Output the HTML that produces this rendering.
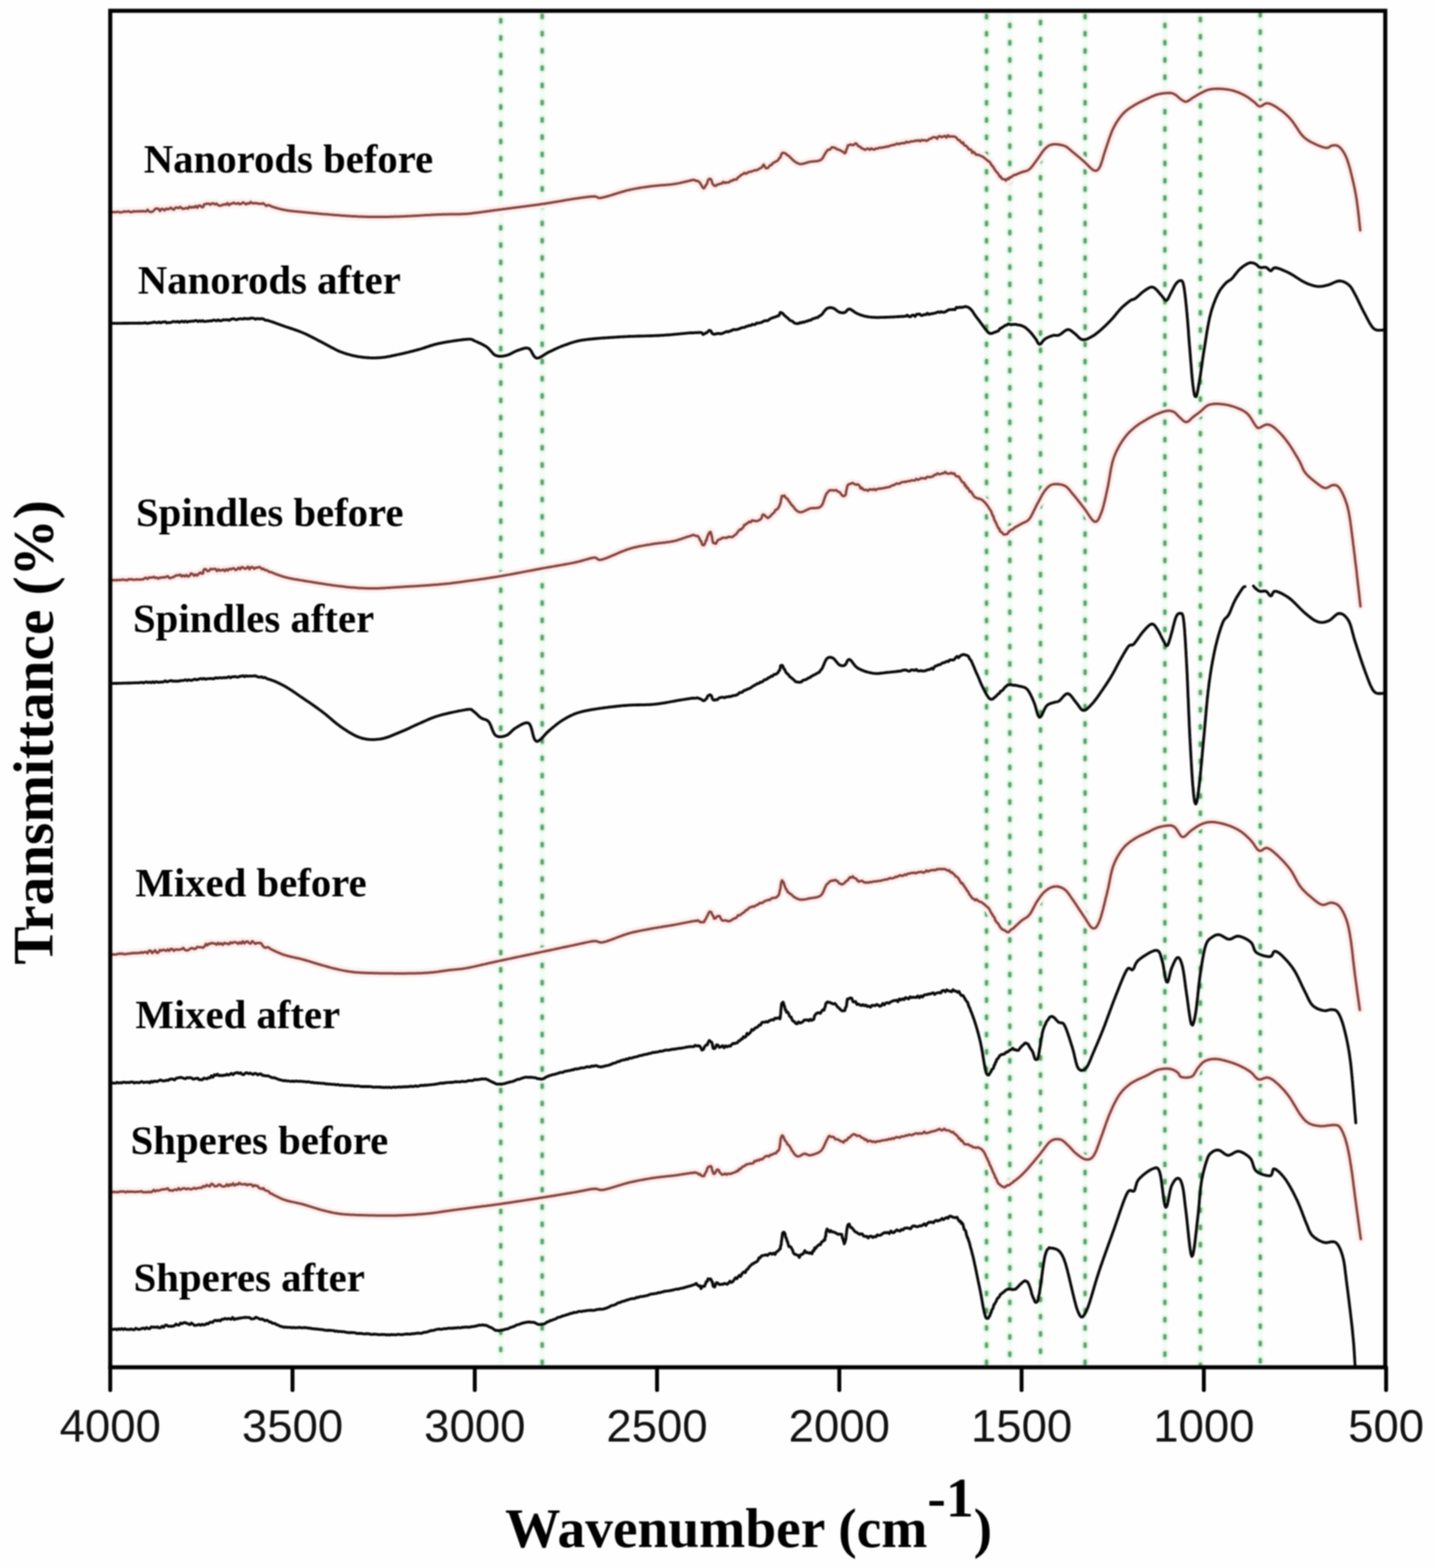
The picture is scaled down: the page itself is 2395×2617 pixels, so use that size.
<!DOCTYPE html>
<html><head><meta charset="utf-8"><title>FTIR spectra</title>
<style>html,body{margin:0;padding:0;background:#fff;}svg{display:block;}#wrap{filter:blur(1px);width:2395px;height:2617px;}</style>
</head><body><div id="wrap">
<svg width="2395" height="2617" viewBox="0 0 2395 2617">
<rect width="2395" height="2617" fill="#fefefe"/>
<line x1="835.8" y1="21" x2="835.8" y2="2279" stroke="#f4fcf5" stroke-width="9"/>
<line x1="904.9" y1="21" x2="904.9" y2="2279" stroke="#f4fcf5" stroke-width="9"/>
<line x1="1646.5" y1="21" x2="1646.5" y2="2279" stroke="#f4fcf5" stroke-width="9"/>
<line x1="1685.4" y1="21" x2="1685.4" y2="2279" stroke="#f4fcf5" stroke-width="9"/>
<line x1="1736.6" y1="21" x2="1736.6" y2="2279" stroke="#f4fcf5" stroke-width="9"/>
<line x1="1811" y1="21" x2="1811" y2="2279" stroke="#f4fcf5" stroke-width="9"/>
<line x1="1944.2" y1="21" x2="1944.2" y2="2279" stroke="#f4fcf5" stroke-width="9"/>
<line x1="2003.4" y1="21" x2="2003.4" y2="2279" stroke="#f4fcf5" stroke-width="9"/>
<line x1="2103.4" y1="21" x2="2103.4" y2="2279" stroke="#f4fcf5" stroke-width="9"/>
<line x1="835.8" y1="21" x2="835.8" y2="2279" stroke="#e3f7e6" stroke-width="13" stroke-linecap="round" stroke-dasharray="3.8 25" stroke-dashoffset="-11.70"/>
<line x1="904.9" y1="21" x2="904.9" y2="2279" stroke="#e3f7e6" stroke-width="13" stroke-linecap="round" stroke-dasharray="3.8 25" stroke-dashoffset="-4.40"/>
<line x1="1646.5" y1="21" x2="1646.5" y2="2279" stroke="#e3f7e6" stroke-width="13" stroke-linecap="round" stroke-dasharray="3.8 25" stroke-dashoffset="-4.60"/>
<line x1="1685.4" y1="21" x2="1685.4" y2="2279" stroke="#e3f7e6" stroke-width="13" stroke-linecap="round" stroke-dasharray="3.8 25" stroke-dashoffset="-19.60"/>
<line x1="1736.6" y1="21" x2="1736.6" y2="2279" stroke="#e3f7e6" stroke-width="13" stroke-linecap="round" stroke-dasharray="3.8 25" stroke-dashoffset="-14.60"/>
<line x1="1811" y1="21" x2="1811" y2="2279" stroke="#e3f7e6" stroke-width="13" stroke-linecap="round" stroke-dasharray="3.8 25" stroke-dashoffset="-4.60"/>
<line x1="1944.2" y1="21" x2="1944.2" y2="2279" stroke="#e3f7e6" stroke-width="13" stroke-linecap="round" stroke-dasharray="3.8 25" stroke-dashoffset="-19.60"/>
<line x1="2003.4" y1="21" x2="2003.4" y2="2279" stroke="#e3f7e6" stroke-width="13" stroke-linecap="round" stroke-dasharray="3.8 25" stroke-dashoffset="-9.60"/>
<line x1="2103.4" y1="21" x2="2103.4" y2="2279" stroke="#e3f7e6" stroke-width="13" stroke-linecap="round" stroke-dasharray="3.8 25" stroke-dashoffset="-1.80"/>
<line x1="835.8" y1="21" x2="835.8" y2="2279" stroke="#5ca46d" stroke-width="5.8" stroke-linecap="round" stroke-dasharray="3.8 25" stroke-dashoffset="-11.70"/>
<line x1="904.9" y1="21" x2="904.9" y2="2279" stroke="#5ca46d" stroke-width="5.8" stroke-linecap="round" stroke-dasharray="3.8 25" stroke-dashoffset="-4.40"/>
<line x1="1646.5" y1="21" x2="1646.5" y2="2279" stroke="#5ca46d" stroke-width="5.8" stroke-linecap="round" stroke-dasharray="3.8 25" stroke-dashoffset="-4.60"/>
<line x1="1685.4" y1="21" x2="1685.4" y2="2279" stroke="#5ca46d" stroke-width="5.8" stroke-linecap="round" stroke-dasharray="3.8 25" stroke-dashoffset="-19.60"/>
<line x1="1736.6" y1="21" x2="1736.6" y2="2279" stroke="#5ca46d" stroke-width="5.8" stroke-linecap="round" stroke-dasharray="3.8 25" stroke-dashoffset="-14.60"/>
<line x1="1811" y1="21" x2="1811" y2="2279" stroke="#5ca46d" stroke-width="5.8" stroke-linecap="round" stroke-dasharray="3.8 25" stroke-dashoffset="-4.60"/>
<line x1="1944.2" y1="21" x2="1944.2" y2="2279" stroke="#5ca46d" stroke-width="5.8" stroke-linecap="round" stroke-dasharray="3.8 25" stroke-dashoffset="-19.60"/>
<line x1="2003.4" y1="21" x2="2003.4" y2="2279" stroke="#5ca46d" stroke-width="5.8" stroke-linecap="round" stroke-dasharray="3.8 25" stroke-dashoffset="-9.60"/>
<line x1="2103.4" y1="21" x2="2103.4" y2="2279" stroke="#5ca46d" stroke-width="5.8" stroke-linecap="round" stroke-dasharray="3.8 25" stroke-dashoffset="-1.80"/>
<path d="M186.5,354.1 L189.1,354.0 L191.7,353.9 L194.3,353.9 L196.9,353.4 L199.5,354.3 L202.1,354.4 L204.7,353.9 L207.3,352.7 L209.9,353.4 L212.5,352.9 L215.1,352.6 L217.7,354.0 L220.3,353.8 L222.9,352.4 L225.5,353.1 L228.1,352.8 L230.7,352.7 L233.3,352.4 L235.9,352.8 L238.5,352.2 L241.1,352.9 L243.7,352.8 L246.3,350.2 L248.9,353.0 L251.4,353.8 L254.0,353.5 L256.6,351.5 L259.2,348.5 L261.8,348.1 L264.4,348.4 L267.0,352.1 L269.6,348.8 L272.1,348.9 L274.7,351.2 L277.3,348.2 L279.9,349.2 L282.5,348.5 L285.1,346.5 L287.7,348.8 L290.3,349.9 L292.9,346.4 L295.5,346.6 L298.1,347.3 L300.7,345.3 L303.3,347.4 L305.9,348.7 L308.5,347.8 L311.1,347.0 L313.6,348.3 L316.2,344.8 L318.8,346.6 L321.4,345.4 L324.0,346.3 L326.6,343.8 L329.2,346.7 L331.8,343.2 L334.4,343.2 L336.9,345.8 L339.3,345.4 L340.6,341.0 L343.2,340.7 L345.8,339.8 L348.4,339.9 L351.0,341.7 L353.6,339.6 L356.2,339.5 L358.8,341.2 L361.4,339.9 L364.0,342.4 L366.6,343.3 L369.2,343.1 L371.8,341.7 L374.4,341.1 L377.0,341.4 L379.6,339.1 L382.2,342.3 L384.8,340.2 L387.3,339.8 L389.9,338.3 L392.5,339.8 L395.1,340.1 L397.7,338.9 L400.3,341.0 L402.9,340.0 L405.5,337.8 L408.1,339.2 L410.7,341.0 L413.3,339.2 L415.9,339.7 L418.5,337.2 L421.1,339.3 L423.7,339.3 L426.3,339.1 L428.9,339.2 L431.4,340.1 L434.0,340.1 L436.6,340.3 L439.2,339.2 L441.7,341.2 L444.2,343.7 L446.7,342.5 L449.2,342.6 L451.7,343.7 L454.2,345.0 L456.7,345.7 L459.2,346.5 L461.7,347.2 L464.2,347.9 L466.7,348.6 L469.2,349.2 L471.7,349.8 L474.3,350.3 L476.8,350.8 L479.4,351.2 L482.0,351.6 L484.6,351.9 L487.1,352.2 L489.7,352.5 L492.3,352.8 L494.9,353.0 L497.5,353.3 L500.1,353.5 L502.7,353.8 L505.3,354.0 L507.8,354.3 L510.4,354.5 L513.0,354.8 L515.6,355.0 L518.2,355.3 L520.8,355.5 L523.4,355.8 L526.0,356.0 L528.5,356.2 L531.1,356.5 L533.7,356.7 L536.3,356.9 L538.9,357.2 L541.5,357.4 L544.1,357.6 L546.7,357.8 L549.3,358.1 L551.9,358.3 L554.4,358.5 L557.0,358.7 L559.6,358.9 L562.2,359.1 L564.8,359.3 L567.4,359.5 L570.0,359.7 L572.6,359.9 L575.2,360.1 L577.8,360.2 L580.4,360.4 L583.0,360.6 L585.6,360.7 L588.2,360.9 L590.8,361.0 L593.4,361.1 L596.0,361.3 L598.6,361.4 L601.1,361.5 L603.7,361.6 L606.3,361.7 L608.9,361.8 L611.5,361.8 L614.1,361.9 L616.7,362.0 L619.3,362.0 L621.9,362.0 L624.5,362.1 L627.1,362.1 L629.7,362.1 L632.3,362.1 L634.9,362.1 L637.5,362.1 L640.1,362.0 L642.7,362.0 L645.3,361.9 L647.9,361.9 L650.5,361.8 L653.1,361.8 L655.7,361.7 L658.3,361.6 L660.9,361.5 L663.5,361.5 L666.1,361.4 L668.7,361.3 L671.3,361.2 L673.9,361.1 L676.5,360.9 L679.1,360.8 L681.7,360.7 L684.3,360.6 L686.9,360.4 L689.5,360.3 L692.1,360.2 L694.7,360.0 L697.3,359.9 L699.9,359.7 L702.5,359.6 L705.1,359.4 L707.7,359.3 L710.3,359.1 L712.9,359.0 L715.5,358.9 L718.1,358.7 L720.7,358.6 L723.3,358.5 L725.9,358.3 L728.4,358.2 L731.0,358.1 L733.6,358.0 L736.2,357.9 L738.8,357.8 L741.4,357.7 L744.0,357.7 L746.6,357.7 L749.2,357.6 L751.8,357.6 L754.4,357.6 L757.0,357.6 L759.6,357.6 L762.2,357.5 L764.8,357.5 L767.4,357.4 L770.0,357.3 L772.6,357.2 L775.2,357.0 L777.8,356.9 L780.4,356.7 L783.0,356.4 L785.6,356.2 L788.2,355.9 L790.8,355.6 L793.3,355.3 L795.9,355.0 L798.5,354.7 L801.1,354.3 L803.7,354.0 L806.2,353.6 L808.8,353.3 L811.4,352.9 L814.0,352.5 L816.5,352.2 L819.1,351.8 L821.7,351.5 L824.3,351.1 L826.8,350.7 L829.4,350.4 L832.0,350.0 L834.6,349.7 L837.1,349.4 L839.7,349.0 L842.3,348.7 L844.9,348.4 L847.5,348.0 L850.0,347.7 L852.6,347.4 L855.2,347.1 L857.8,346.7 L860.4,346.4 L862.9,346.1 L865.5,345.8 L868.1,345.4 L870.7,345.1 L873.3,344.8 L875.8,344.5 L878.4,344.1 L881.0,343.8 L883.6,343.4 L886.1,343.1 L888.7,342.8 L891.3,342.4 L893.9,342.1 L896.5,341.7 L899.0,341.4 L901.6,341.0 L904.2,340.6 L906.7,340.3 L909.3,339.9 L911.9,339.5 L914.5,339.1 L917.0,338.7 L919.6,338.3 L922.2,337.8 L924.7,337.4 L927.3,337.0 L929.9,336.6 L932.4,336.1 L935.0,335.7 L937.5,335.2 L940.1,334.8 L942.7,334.3 L945.2,333.9 L947.8,333.5 L950.4,333.1 L952.9,332.6 L955.5,332.2 L958.1,331.8 L960.6,331.4 L963.2,331.1 L965.8,330.7 L968.3,330.3 L970.9,330.0 L973.5,329.6 L976.1,329.3 L978.7,328.9 L981.2,328.6 L983.8,328.4 L986.4,328.1 L989.0,327.9 L991.6,327.8 L994.2,328.0 L996.5,329.0 L998.8,330.2 L1001.4,330.4 L1004.0,330.1 L1006.5,329.5 L1009.0,328.9 L1011.5,328.2 L1014.1,327.5 L1016.5,326.8 L1019.0,326.1 L1021.5,325.3 L1024.0,324.5 L1026.5,323.8 L1029.0,323.0 L1031.5,322.2 L1033.9,321.5 L1036.4,320.7 L1038.9,320.0 L1041.4,319.3 L1043.9,318.5 L1046.4,317.9 L1049.0,317.3 L1051.5,316.7 L1054.0,316.1 L1056.6,315.6 L1059.1,315.1 L1061.7,314.6 L1064.2,314.2 L1066.8,313.7 L1069.4,313.3 L1071.9,312.9 L1074.5,312.5 L1077.1,312.2 L1079.7,311.8 L1082.2,311.5 L1084.8,311.1 L1087.4,310.8 L1090.0,310.5 L1092.6,310.2 L1095.2,309.9 L1097.7,309.7 L1100.3,309.5 L1102.9,309.3 L1105.5,309.1 L1108.1,308.9 L1110.7,308.7 L1113.3,308.5 L1115.9,308.3 L1118.5,308.0 L1121.1,307.8 L1123.6,307.4 L1126.2,307.0 L1128.8,306.6 L1131.3,306.1 L1133.9,305.6 L1136.4,305.0 L1138.9,304.5 L1141.5,303.9 L1144.0,303.3 L1146.5,302.7 L1149.1,302.1 L1151.6,301.5 L1154.2,300.8 L1156.8,300.3 L1159.4,300.6 L1162.0,302.0 L1164.3,301.9 L1166.4,303.4 L1168.3,305.1 L1169.7,307.5 L1171.0,309.6 L1172.4,312.5 L1174.5,314.3 L1176.5,312.3 L1177.9,309.3 L1179.1,307.7 L1180.2,306.1 L1181.3,301.6 L1182.6,299.5 L1184.1,298.5 L1186.2,298.9 L1187.4,301.0 L1188.2,303.3 L1189.1,306.5 L1190.3,307.8 L1192.4,310.1 L1194.9,310.2 L1197.3,307.7 L1199.6,307.8 L1202.1,306.5 L1204.6,306.4 L1207.2,303.5 L1209.7,305.4 L1212.3,304.5 L1214.8,304.5 L1217.3,304.0 L1219.9,301.4 L1222.4,301.8 L1224.8,299.4 L1227.2,299.7 L1229.5,299.4 L1231.7,296.0 L1233.9,295.0 L1236.0,292.7 L1238.1,291.6 L1240.3,290.2 L1242.6,288.6 L1244.9,289.9 L1247.3,288.7 L1249.8,286.7 L1252.3,286.8 L1254.8,286.0 L1257.4,285.0 L1259.9,284.1 L1262.4,284.2 L1264.9,283.2 L1267.4,281.5 L1269.6,280.5 L1271.4,279.4 L1272.8,277.1 L1274.7,274.7 L1276.4,277.7 L1277.9,280.5 L1280.4,280.8 L1282.7,279.1 L1284.9,276.1 L1287.1,275.6 L1289.2,273.1 L1291.2,271.5 L1293.3,270.4 L1295.3,269.3 L1297.3,268.5 L1299.2,266.4 L1301.0,263.6 L1302.5,262.6 L1303.4,259.6 L1304.2,257.2 L1306.2,254.9 L1308.7,255.4 L1311.1,256.2 L1313.3,258.5 L1315.4,259.4 L1317.3,261.1 L1319.2,262.9 L1321.1,264.7 L1323.1,266.8 L1325.0,268.5 L1327.0,270.0 L1329.2,271.3 L1331.4,272.6 L1333.9,273.4 L1336.5,273.7 L1339.0,273.5 L1341.6,273.0 L1344.1,272.3 L1346.6,271.5 L1349.1,270.7 L1351.6,270.1 L1354.1,269.7 L1356.7,269.4 L1359.3,269.2 L1361.9,269.0 L1364.5,268.7 L1367.0,268.1 L1369.4,267.1 L1371.5,265.6 L1373.2,263.6 L1374.5,261.3 L1375.6,259.1 L1376.8,256.9 L1378.1,254.7 L1379.7,252.6 L1381.6,250.1 L1383.8,249.9 L1386.0,248.8 L1388.5,245.8 L1391.1,246.2 L1393.6,246.4 L1396.1,248.7 L1398.3,249.5 L1400.5,249.9 L1402.6,251.1 L1404.8,252.4 L1407.2,253.3 L1409.7,255.8 L1411.5,254.5 L1412.4,249.8 L1413.2,248.9 L1413.9,247.1 L1415.3,242.5 L1417.4,242.3 L1419.9,241.0 L1422.4,242.3 L1425.0,241.9 L1427.6,239.3 L1430.1,240.4 L1432.4,243.8 L1434.4,244.5 L1436.5,245.9 L1438.9,247.9 L1441.3,248.7 L1443.8,250.1 L1446.3,248.6 L1448.9,248.0 L1451.5,250.0 L1454.1,247.8 L1456.7,249.1 L1459.3,249.7 L1461.8,247.9 L1464.4,248.0 L1467.0,246.7 L1469.5,246.4 L1472.1,246.4 L1474.6,245.8 L1477.2,245.5 L1479.7,244.4 L1482.2,244.7 L1484.8,243.6 L1487.3,242.7 L1489.8,242.1 L1492.3,241.9 L1494.9,240.7 L1497.4,239.6 L1499.9,240.7 L1502.4,239.7 L1505.0,239.0 L1507.5,238.7 L1510.1,238.9 L1512.7,236.5 L1515.2,237.7 L1517.8,237.3 L1520.4,235.9 L1523.0,236.1 L1525.6,235.6 L1528.1,234.7 L1530.7,235.0 L1533.3,234.1 L1535.9,235.7 L1538.5,233.6 L1541.1,234.4 L1543.6,233.9 L1546.2,235.1 L1548.8,233.9 L1551.3,231.7 L1553.9,231.3 L1556.4,229.4 L1559.0,228.9 L1561.5,229.4 L1564.1,231.5 L1566.6,227.5 L1569.2,227.6 L1571.8,229.1 L1574.4,227.7 L1577.0,226.8 L1579.5,229.6 L1582.1,225.9 L1584.7,228.1 L1587.3,227.6 L1589.9,227.7 L1592.4,227.9 L1594.8,228.7 L1597.1,230.9 L1599.3,233.7 L1601.5,234.0 L1603.5,236.8 L1605.5,238.9 L1607.4,237.8 L1609.3,242.4 L1611.2,243.0 L1613.1,244.1 L1615.1,246.2 L1617.0,249.5 L1618.9,249.3 L1620.7,249.9 L1622.7,255.1 L1624.7,253.4 L1626.8,255.1 L1629.1,258.3 L1631.5,258.1 L1634.0,258.9 L1636.5,260.0 L1638.9,261.0 L1641.2,262.2 L1643.3,264.0 L1645.3,265.5 L1647.3,267.2 L1649.2,268.9 L1651.0,269.7 L1652.8,271.8 L1654.5,275.0 L1656.0,277.2 L1657.5,277.7 L1659.0,281.3 L1660.4,283.0 L1661.9,285.5 L1663.4,287.1 L1665.0,288.6 L1666.6,291.0 L1668.4,294.7 L1670.1,294.4 L1671.9,298.2 L1673.9,298.9 L1676.2,298.9 L1678.7,301.3 L1681.1,298.2 L1683.2,299.0 L1685.3,296.0 L1687.4,295.9 L1689.7,294.1 L1692.0,292.4 L1694.4,291.8 L1696.8,291.0 L1699.3,289.7 L1701.7,288.8 L1704.1,287.8 L1706.6,287.0 L1709.1,286.3 L1711.6,285.7 L1714.1,284.9 L1716.4,283.7 L1718.5,282.2 L1720.3,280.4 L1722.0,278.4 L1723.7,276.4 L1725.2,274.3 L1726.7,272.2 L1728.2,270.1 L1729.8,268.0 L1731.3,265.9 L1732.8,263.8 L1734.3,261.6 L1735.8,259.5 L1737.2,257.3 L1738.7,255.1 L1740.2,253.0 L1741.8,251.0 L1743.5,249.0 L1745.4,247.2 L1747.3,245.5 L1749.4,243.9 L1751.6,242.6 L1754.1,241.7 L1756.6,241.1 L1759.2,240.8 L1761.8,240.8 L1764.4,240.9 L1766.9,241.2 L1769.5,241.7 L1772.0,242.2 L1774.6,242.9 L1777.0,243.7 L1779.4,244.8 L1781.6,246.2 L1783.6,247.9 L1785.5,249.6 L1787.5,251.3 L1789.4,253.0 L1791.5,254.6 L1793.5,256.3 L1795.5,257.9 L1797.5,259.6 L1799.5,261.3 L1801.5,262.9 L1803.5,264.6 L1805.4,266.3 L1807.4,268.0 L1809.4,269.7 L1811.3,271.4 L1813.2,273.3 L1815.0,275.1 L1816.8,277.0 L1818.6,278.8 L1820.5,280.6 L1822.5,282.3 L1824.6,283.8 L1827.0,284.7 L1829.6,284.9 L1831.9,283.7 L1833.7,281.8 L1835.1,279.6 L1836.3,277.3 L1837.2,274.9 L1838.1,272.5 L1838.9,270.0 L1839.7,267.5 L1840.4,265.0 L1841.1,262.5 L1841.9,260.0 L1842.6,257.5 L1843.4,255.0 L1844.2,252.6 L1845.0,250.1 L1845.8,247.6 L1846.6,245.2 L1847.5,242.7 L1848.3,240.2 L1849.1,237.8 L1849.9,235.3 L1850.8,232.8 L1851.6,230.4 L1852.5,227.9 L1853.4,225.5 L1854.3,223.0 L1855.2,220.6 L1856.2,218.2 L1857.3,215.9 L1858.4,213.5 L1859.6,211.2 L1860.8,208.9 L1862.1,206.6 L1863.4,204.4 L1864.8,202.2 L1866.3,200.0 L1867.8,197.9 L1869.3,195.8 L1870.9,193.8 L1872.6,191.8 L1874.3,189.9 L1876.1,188.0 L1878.0,186.2 L1880.0,184.5 L1882.1,182.9 L1884.2,181.4 L1886.3,180.0 L1888.5,178.6 L1890.7,177.2 L1892.9,175.8 L1895.2,174.5 L1897.4,173.2 L1899.7,172.0 L1902.0,170.8 L1904.4,169.6 L1906.7,168.5 L1909.0,167.4 L1911.4,166.3 L1913.8,165.2 L1916.1,164.1 L1918.5,163.0 L1920.8,161.9 L1923.2,160.8 L1925.6,159.8 L1928.0,158.9 L1930.5,158.0 L1933.0,157.4 L1935.5,156.8 L1938.1,156.3 L1940.7,155.9 L1943.2,155.6 L1945.8,155.4 L1948.4,155.2 L1951.0,155.1 L1953.6,155.2 L1956.2,155.6 L1958.6,156.5 L1960.9,157.8 L1963.1,159.1 L1965.1,160.8 L1967.0,162.6 L1968.9,164.3 L1971.1,165.8 L1973.2,167.3 L1975.3,168.7 L1977.8,169.7 L1980.3,169.6 L1982.7,168.7 L1984.9,167.3 L1987.0,165.8 L1989.2,164.2 L1991.3,162.8 L1993.6,161.5 L1995.8,160.1 L1998.0,158.8 L2000.3,157.5 L2002.6,156.3 L2004.9,155.1 L2007.2,153.9 L2009.5,152.7 L2011.8,151.6 L2014.2,150.6 L2016.7,149.8 L2019.2,149.2 L2021.8,148.7 L2024.4,148.4 L2027.0,148.2 L2029.6,148.2 L2032.2,148.1 L2034.8,148.2 L2037.4,148.3 L2040.0,148.4 L2042.6,148.6 L2045.1,148.9 L2047.7,149.2 L2050.3,149.6 L2052.8,150.1 L2055.4,150.6 L2057.9,151.3 L2060.4,152.0 L2062.9,152.8 L2065.3,153.7 L2067.7,154.7 L2070.1,155.7 L2072.5,156.8 L2074.8,157.9 L2077.1,159.1 L2079.4,160.4 L2081.6,161.7 L2083.8,163.2 L2085.9,164.7 L2088.0,166.3 L2090.0,167.8 L2092.1,169.4 L2094.2,171.0 L2096.0,172.8 L2097.7,174.8 L2099.7,176.5 L2102.0,177.5 L2104.6,177.2 L2106.9,176.0 L2109.0,174.5 L2111.3,173.2 L2113.7,172.4 L2116.3,172.4 L2118.8,173.0 L2121.3,173.9 L2123.6,175.0 L2125.9,176.2 L2128.2,177.5 L2130.4,178.9 L2132.6,180.3 L2134.7,181.8 L2136.8,183.3 L2138.9,184.8 L2140.9,186.4 L2143.0,188.1 L2144.9,189.8 L2146.8,191.5 L2148.7,193.3 L2150.6,195.2 L2152.4,197.1 L2154.1,199.0 L2155.8,201.0 L2157.4,203.0 L2158.9,205.1 L2160.4,207.3 L2161.8,209.4 L2163.3,211.6 L2164.7,213.8 L2166.1,215.9 L2167.5,218.1 L2169.0,220.3 L2170.5,222.4 L2172.1,224.4 L2173.8,226.4 L2175.6,228.3 L2177.5,230.0 L2179.5,231.7 L2181.6,233.2 L2183.8,234.6 L2186.1,235.9 L2188.3,237.2 L2190.7,238.3 L2193.0,239.5 L2195.3,240.6 L2197.7,241.7 L2200.1,242.8 L2202.5,243.7 L2204.9,244.6 L2207.4,245.4 L2209.9,246.1 L2212.5,246.6 L2215.1,246.8 L2217.5,246.1 L2219.7,244.7 L2221.9,243.3 L2224.4,242.8 L2227.0,242.6 L2229.6,242.6 L2232.2,243.2 L2234.4,244.5 L2236.4,246.2 L2238.2,248.1 L2239.8,250.1 L2241.3,252.2 L2242.7,254.4 L2244.0,256.6 L2245.2,258.9 L2246.3,261.3 L2247.3,263.7 L2248.3,266.1 L2249.1,268.6 L2249.9,271.0 L2250.7,273.5 L2251.5,276.0 L2252.2,278.5 L2252.9,281.0 L2253.6,283.5 L2254.2,286.0 L2254.9,288.6 L2255.5,291.1 L2256.1,293.6 L2256.7,296.1 L2257.3,298.7 L2257.9,301.2 L2258.5,303.7 L2259.1,306.3 L2259.6,308.8 L2260.2,311.3 L2260.7,313.9 L2261.2,316.4 L2261.7,319.0 L2262.2,321.5 L2262.7,324.1 L2263.1,326.7 L2263.5,329.2 L2264.0,331.8 L2264.4,334.4 L2264.7,336.9 L2265.1,339.5 L2265.4,342.1 L2265.8,344.7 L2266.1,347.2 L2266.4,349.8 L2266.7,352.4 L2267.0,355.0 L2267.3,357.6 L2267.6,360.2 L2267.9,362.7 L2268.2,365.3 L2268.4,367.9 L2268.7,370.5 L2269.0,373.1 L2269.3,375.7 L2269.5,378.3 L2269.8,380.8 L2270.1,383.4 L2270.2,384.4" fill="none" stroke="#fdf3f2" stroke-width="15" stroke-linejoin="round" stroke-linecap="round"/>
<path d="M186.5,968.3 L189.1,968.2 L191.7,968.2 L194.3,968.5 L196.9,968.0 L199.5,968.0 L202.1,968.1 L204.7,967.1 L207.3,967.8 L209.9,968.0 L212.5,968.4 L215.1,966.6 L217.7,967.1 L220.3,966.8 L222.9,967.7 L225.5,967.4 L228.1,967.0 L230.7,967.2 L233.3,967.4 L235.9,967.1 L238.5,967.0 L241.1,965.3 L243.7,964.2 L246.3,966.3 L248.8,963.8 L251.4,964.1 L254.0,964.1 L256.6,962.7 L259.2,964.5 L261.8,964.1 L264.3,965.7 L266.9,963.9 L269.5,964.2 L272.1,963.3 L274.7,963.9 L277.3,962.7 L279.9,961.6 L282.5,964.8 L285.1,964.6 L287.6,963.7 L290.2,962.8 L292.8,960.8 L295.4,960.2 L298.0,960.2 L300.6,959.0 L303.2,962.1 L305.8,960.2 L308.4,962.1 L311.0,959.7 L313.6,962.2 L316.2,961.4 L318.7,957.1 L321.3,957.9 L323.9,961.0 L326.5,958.6 L329.1,960.7 L331.7,957.6 L334.2,955.5 L336.7,957.5 L338.9,956.9 L339.6,952.1 L341.5,949.7 L344.0,950.5 L346.6,953.4 L349.2,952.4 L351.8,949.4 L354.4,950.1 L357.0,949.6 L359.6,949.5 L362.2,953.2 L364.8,950.4 L367.4,952.3 L370.0,951.8 L372.6,950.6 L375.2,953.1 L377.8,950.0 L380.4,952.2 L382.9,949.3 L385.5,950.3 L388.1,948.8 L390.6,948.6 L393.2,951.5 L395.7,950.2 L398.3,947.5 L400.9,950.0 L403.5,946.5 L406.1,947.3 L408.7,949.4 L411.3,948.4 L413.9,945.8 L416.5,950.1 L419.1,946.5 L421.7,946.8 L424.3,949.4 L426.9,947.4 L429.5,947.4 L432.0,946.5 L434.6,947.0 L437.1,950.0 L439.6,949.1 L442.1,951.5 L444.6,951.5 L447.0,952.7 L449.4,954.6 L451.9,954.7 L454.3,955.7 L456.7,956.7 L459.1,957.6 L461.5,958.6 L464.0,959.5 L466.4,960.4 L468.9,961.2 L471.3,962.0 L473.8,962.7 L476.3,963.4 L478.9,964.0 L481.4,964.6 L483.9,965.2 L486.5,965.7 L489.0,966.2 L491.6,966.7 L494.2,967.1 L496.7,967.5 L499.3,967.9 L501.9,968.4 L504.4,968.8 L507.0,969.2 L509.6,969.7 L512.1,970.1 L514.7,970.5 L517.2,970.9 L519.8,971.3 L522.4,971.8 L524.9,972.2 L527.5,972.6 L530.1,973.0 L532.7,973.4 L535.2,973.8 L537.8,974.2 L540.4,974.6 L542.9,975.0 L545.5,975.4 L548.1,975.8 L550.6,976.1 L553.2,976.5 L555.8,976.9 L558.4,977.2 L560.9,977.6 L563.5,977.9 L566.1,978.2 L568.7,978.5 L571.3,978.8 L573.9,979.1 L576.4,979.4 L579.0,979.7 L581.6,979.9 L584.2,980.2 L586.8,980.4 L589.4,980.6 L592.0,980.8 L594.6,981.0 L597.2,981.2 L599.8,981.4 L602.3,981.5 L604.9,981.6 L607.5,981.7 L610.1,981.8 L612.7,981.9 L615.3,981.9 L617.9,982.0 L620.5,982.0 L623.1,982.0 L625.7,982.0 L628.3,981.9 L630.9,981.9 L633.5,981.8 L636.1,981.7 L638.7,981.5 L641.3,981.4 L643.9,981.2 L646.5,981.1 L649.1,980.9 L651.7,980.7 L654.3,980.6 L656.9,980.4 L659.5,980.2 L662.1,980.1 L664.7,979.9 L667.3,979.7 L669.9,979.6 L672.5,979.4 L675.1,979.3 L677.7,979.1 L680.3,979.0 L682.8,978.8 L685.4,978.7 L688.0,978.5 L690.6,978.4 L693.2,978.2 L695.8,978.1 L698.4,977.9 L701.0,977.7 L703.6,977.6 L706.2,977.4 L708.8,977.2 L711.4,977.0 L714.0,976.9 L716.6,976.7 L719.2,976.5 L721.8,976.3 L724.4,976.1 L726.9,975.9 L729.5,975.7 L732.1,975.5 L734.7,975.2 L737.3,975.0 L739.9,974.8 L742.5,974.5 L745.1,974.2 L747.7,973.9 L750.2,973.7 L752.8,973.4 L755.4,973.0 L758.0,972.7 L760.6,972.4 L763.1,972.1 L765.7,971.7 L768.3,971.4 L770.9,971.0 L773.4,970.7 L776.0,970.3 L778.6,970.0 L781.2,969.6 L783.8,969.3 L786.3,968.9 L788.9,968.6 L791.5,968.2 L794.1,967.9 L796.6,967.5 L799.2,967.2 L801.8,966.8 L804.4,966.4 L806.9,966.1 L809.5,965.7 L812.1,965.3 L814.6,964.9 L817.2,964.5 L819.8,964.1 L822.4,963.7 L824.9,963.3 L827.5,962.9 L830.1,962.5 L832.6,962.0 L835.2,961.6 L837.7,961.2 L840.3,960.7 L842.9,960.3 L845.4,959.8 L848.0,959.4 L850.5,958.9 L853.1,958.4 L855.7,958.0 L858.2,957.5 L860.8,957.0 L863.3,956.5 L865.9,956.0 L868.4,955.6 L871.0,955.1 L873.5,954.6 L876.1,954.1 L878.7,953.6 L881.2,953.1 L883.8,952.6 L886.3,952.2 L888.9,951.7 L891.4,951.2 L894.0,950.7 L896.5,950.2 L899.1,949.7 L901.6,949.3 L904.2,948.8 L906.8,948.3 L909.3,947.9 L911.9,947.4 L914.4,946.9 L917.0,946.5 L919.6,946.0 L922.1,945.6 L924.7,945.1 L927.2,944.7 L929.8,944.2 L932.4,943.8 L934.9,943.4 L937.5,942.9 L940.0,942.5 L942.6,942.0 L945.2,941.5 L947.7,941.1 L950.3,940.6 L952.8,940.1 L955.4,939.6 L957.9,939.1 L960.5,938.5 L963.0,938.0 L965.5,937.4 L968.1,936.7 L970.6,936.0 L973.1,935.3 L975.6,934.6 L978.1,933.9 L980.6,933.2 L983.1,932.5 L985.6,931.8 L988.1,931.2 L990.7,930.8 L993.3,930.7 L995.7,931.5 L997.5,933.4 L999.8,934.4 L1002.4,934.3 L1004.9,933.8 L1007.4,933.1 L1009.9,932.2 L1012.3,931.3 L1014.7,930.3 L1017.1,929.3 L1019.5,928.4 L1021.9,927.3 L1024.3,926.3 L1026.7,925.3 L1029.1,924.3 L1031.5,923.2 L1033.9,922.2 L1036.3,921.2 L1038.7,920.2 L1041.1,919.3 L1043.5,918.3 L1046.0,917.5 L1048.4,916.6 L1050.9,915.8 L1053.4,915.1 L1055.9,914.4 L1058.4,913.8 L1061.0,913.2 L1063.5,912.6 L1066.0,912.0 L1068.6,911.5 L1071.1,911.1 L1073.7,910.6 L1076.3,910.1 L1078.8,909.7 L1081.4,909.3 L1084.0,908.9 L1086.5,908.4 L1089.1,908.0 L1091.7,907.6 L1094.2,907.2 L1096.8,906.9 L1099.4,906.5 L1102.0,906.2 L1104.6,906.0 L1107.1,905.7 L1109.7,905.4 L1112.3,905.1 L1114.9,904.7 L1117.5,904.4 L1120.0,904.0 L1122.6,903.5 L1125.1,903.0 L1127.7,902.4 L1130.2,901.7 L1132.6,900.9 L1135.1,900.1 L1137.6,899.3 L1140.0,898.4 L1142.5,897.6 L1144.9,896.7 L1147.4,895.9 L1149.9,895.1 L1152.4,894.5 L1154.9,893.4 L1157.5,892.8 L1160.0,894.0 L1162.6,894.6 L1164.6,894.8 L1166.2,896.6 L1168.0,900.1 L1169.2,902.9 L1170.3,903.2 L1171.4,907.6 L1172.7,909.7 L1174.8,909.9 L1176.4,907.4 L1177.5,904.1 L1178.4,901.5 L1179.3,901.7 L1180.1,897.2 L1180.9,896.0 L1181.8,892.3 L1182.8,891.5 L1184.0,888.6 L1185.9,887.8 L1186.8,889.9 L1187.5,894.0 L1188.0,894.7 L1188.5,897.7 L1189.0,901.1 L1189.7,904.5 L1190.6,906.2 L1192.6,906.7 L1194.9,907.4 L1196.7,903.6 L1198.6,901.2 L1200.6,900.3 L1202.9,899.6 L1205.4,897.7 L1208.0,897.5 L1210.5,897.6 L1213.1,897.7 L1215.6,895.9 L1218.1,895.9 L1220.6,896.6 L1223.0,895.9 L1225.3,893.8 L1227.5,892.4 L1229.5,890.5 L1231.4,887.5 L1233.3,885.4 L1235.1,883.5 L1236.8,884.1 L1238.6,881.6 L1240.4,880.4 L1242.2,875.9 L1244.1,875.9 L1246.1,873.8 L1248.2,872.9 L1250.5,870.6 L1252.9,871.6 L1255.5,868.4 L1258.0,869.3 L1260.6,869.5 L1263.2,869.7 L1265.8,868.8 L1268.1,867.6 L1270.0,866.1 L1271.3,864.2 L1272.2,860.2 L1273.4,858.8 L1275.6,859.3 L1277.1,861.3 L1278.6,862.1 L1280.8,864.5 L1283.2,863.9 L1285.3,861.6 L1287.2,860.0 L1289.1,857.6 L1290.9,856.3 L1292.7,854.4 L1294.4,851.0 L1296.1,850.6 L1297.7,849.5 L1299.3,847.1 L1300.7,844.5 L1301.8,841.2 L1302.6,839.7 L1303.1,836.8 L1303.5,833.8 L1304.0,832.3 L1304.8,827.8 L1306.8,828.1 L1309.1,827.1 L1311.1,830.4 L1313.0,831.8 L1314.7,833.0 L1316.4,836.3 L1317.9,837.9 L1319.5,840.2 L1321.0,842.8 L1322.6,843.8 L1324.2,845.7 L1325.8,848.1 L1327.5,850.3 L1329.4,851.9 L1331.5,853.5 L1333.8,854.6 L1336.4,854.8 L1339.0,854.4 L1341.4,853.5 L1343.8,852.4 L1346.1,851.3 L1348.4,850.1 L1350.8,849.0 L1353.3,848.4 L1355.8,848.0 L1358.4,847.9 L1361.0,847.9 L1363.6,847.8 L1366.2,847.3 L1368.6,846.3 L1370.6,844.7 L1372.1,842.6 L1373.3,840.3 L1374.2,837.9 L1375.0,835.4 L1375.8,833.0 L1376.6,830.5 L1377.5,828.0 L1378.5,825.9 L1379.8,823.2 L1381.5,821.6 L1383.4,819.1 L1385.7,818.2 L1388.1,818.3 L1390.7,818.4 L1393.2,818.5 L1395.6,817.9 L1397.8,820.0 L1399.8,820.8 L1401.8,821.9 L1403.8,824.7 L1405.9,827.3 L1408.4,828.1 L1410.6,826.6 L1411.6,825.0 L1412.3,820.3 L1412.8,817.4 L1413.3,815.8 L1413.9,812.7 L1414.7,810.0 L1416.1,808.6 L1418.3,807.9 L1420.8,806.8 L1423.4,806.1 L1426.0,808.0 L1428.6,809.0 L1430.9,808.5 L1432.8,809.0 L1434.5,810.8 L1436.4,815.3 L1438.5,814.1 L1440.9,817.3 L1443.3,817.7 L1445.9,817.4 L1448.5,819.1 L1451.1,816.7 L1453.7,816.9 L1456.2,817.7 L1458.8,816.0 L1461.4,818.1 L1464.0,816.1 L1466.5,815.7 L1469.1,815.3 L1471.6,815.4 L1474.2,814.8 L1476.7,814.2 L1479.2,813.7 L1481.8,813.2 L1484.2,812.8 L1486.7,811.7 L1489.2,809.9 L1491.7,809.7 L1494.1,808.2 L1496.6,807.0 L1499.1,807.3 L1501.6,807.1 L1504.1,805.1 L1506.6,804.6 L1509.1,804.1 L1511.6,804.3 L1514.1,803.3 L1516.7,803.0 L1519.2,802.8 L1521.8,801.4 L1524.3,801.9 L1526.9,801.7 L1529.4,799.3 L1532.0,800.9 L1534.6,799.9 L1537.1,798.0 L1539.7,798.2 L1542.2,798.2 L1544.7,798.8 L1547.2,796.0 L1549.7,796.0 L1552.2,796.5 L1554.7,795.4 L1557.2,795.2 L1559.6,792.4 L1562.1,792.4 L1564.6,790.0 L1567.2,791.4 L1569.7,791.3 L1572.3,790.1 L1574.8,790.0 L1577.4,787.6 L1580.0,790.1 L1582.6,790.4 L1585.2,790.5 L1587.8,789.1 L1590.2,790.9 L1592.6,790.1 L1594.8,793.8 L1596.8,795.2 L1598.7,794.9 L1600.6,795.7 L1602.4,799.0 L1604.1,801.4 L1605.8,804.3 L1607.3,805.2 L1608.9,805.5 L1610.4,810.7 L1612.0,809.8 L1613.6,814.7 L1615.3,814.2 L1616.9,816.9 L1618.6,820.7 L1620.2,820.1 L1621.9,822.2 L1623.7,825.5 L1625.5,828.2 L1627.5,830.1 L1629.7,830.8 L1632.1,832.2 L1634.6,832.1 L1637.0,833.5 L1639.2,834.4 L1641.2,836.1 L1643.1,838.0 L1644.8,839.7 L1646.5,842.1 L1648.1,844.1 L1649.6,846.1 L1651.1,848.9 L1652.4,850.6 L1653.7,852.2 L1654.8,854.7 L1655.9,858.4 L1656.9,860.9 L1657.9,861.4 L1658.9,865.6 L1659.8,868.3 L1660.8,869.5 L1661.8,872.0 L1662.8,873.4 L1663.9,876.7 L1665.0,878.9 L1666.3,881.5 L1667.7,882.1 L1669.2,886.8 L1670.8,887.6 L1672.6,889.1 L1674.7,891.8 L1677.1,892.1 L1679.6,891.6 L1681.8,890.7 L1683.6,887.1 L1685.4,886.5 L1687.3,884.4 L1689.4,884.0 L1691.6,882.4 L1693.8,880.1 L1696.1,879.1 L1698.4,877.7 L1700.6,876.6 L1702.9,875.3 L1705.2,874.0 L1707.5,872.8 L1709.9,871.8 L1712.2,870.7 L1714.4,869.4 L1716.4,867.7 L1718.2,865.8 L1719.7,863.7 L1721.0,861.4 L1722.2,859.1 L1723.4,856.8 L1724.6,854.5 L1725.7,852.2 L1726.9,849.8 L1728.0,847.5 L1729.1,845.2 L1730.3,842.8 L1731.6,840.6 L1732.8,838.3 L1734.0,836.0 L1735.2,833.7 L1736.4,831.4 L1737.7,829.1 L1738.9,826.8 L1740.2,824.6 L1741.6,822.3 L1743.1,820.2 L1744.6,818.1 L1746.3,816.1 L1748.0,814.2 L1749.9,812.3 L1751.9,810.8 L1754.2,809.5 L1756.6,808.6 L1759.2,808.1 L1761.8,807.9 L1764.4,807.9 L1767.0,808.2 L1769.5,808.5 L1772.1,809.1 L1774.6,809.8 L1777.0,810.8 L1779.2,812.1 L1781.2,813.8 L1783.1,815.6 L1784.8,817.6 L1786.4,819.6 L1788.0,821.6 L1789.7,823.6 L1791.4,825.6 L1793.1,827.6 L1794.7,829.6 L1796.3,831.6 L1798.0,833.7 L1799.6,835.7 L1801.2,837.7 L1802.8,839.8 L1804.4,841.8 L1806.0,843.9 L1807.6,845.9 L1809.2,848.0 L1810.7,850.1 L1812.3,852.2 L1813.7,854.3 L1815.1,856.5 L1816.5,858.7 L1818.0,860.9 L1819.4,863.0 L1820.9,865.1 L1822.6,867.2 L1824.3,869.0 L1826.5,870.5 L1829.0,870.9 L1831.1,869.5 L1832.8,867.5 L1834.1,865.3 L1835.2,862.9 L1836.2,860.5 L1837.2,858.1 L1838.1,855.7 L1839.0,853.2 L1839.8,850.8 L1840.6,848.3 L1841.3,845.8 L1842.0,843.3 L1842.6,840.8 L1843.2,838.2 L1843.8,835.7 L1844.4,833.2 L1845.0,830.6 L1845.6,828.1 L1846.1,825.5 L1846.7,823.0 L1847.2,820.5 L1847.8,817.9 L1848.3,815.4 L1848.9,812.8 L1849.4,810.3 L1849.9,807.7 L1850.3,805.2 L1850.8,802.6 L1851.2,800.1 L1851.6,797.5 L1852.1,794.9 L1852.5,792.4 L1852.9,789.8 L1853.4,787.2 L1853.8,784.7 L1854.3,782.1 L1854.8,779.6 L1855.4,777.0 L1855.9,774.5 L1856.5,772.0 L1857.2,769.5 L1858.0,767.0 L1858.8,764.5 L1859.6,762.0 L1860.6,759.6 L1861.6,757.2 L1862.6,754.8 L1863.7,752.5 L1864.9,750.2 L1866.1,747.8 L1867.3,745.6 L1868.6,743.3 L1869.9,741.1 L1871.3,738.9 L1872.7,736.7 L1874.2,734.5 L1875.6,732.4 L1877.2,730.3 L1878.8,728.2 L1880.4,726.2 L1882.1,724.3 L1883.9,722.4 L1885.7,720.5 L1887.6,718.7 L1889.5,716.9 L1891.5,715.2 L1893.4,713.5 L1895.4,711.9 L1897.5,710.3 L1899.6,708.8 L1901.8,707.3 L1904.0,705.9 L1906.2,704.6 L1908.4,703.2 L1910.7,701.9 L1912.9,700.6 L1915.2,699.3 L1917.4,698.0 L1919.7,696.7 L1922.0,695.5 L1924.3,694.3 L1926.6,693.1 L1928.9,692.0 L1931.3,691.0 L1933.7,690.0 L1936.2,689.1 L1938.6,688.2 L1941.1,687.3 L1943.6,686.6 L1946.1,686.0 L1948.6,685.5 L1951.2,685.4 L1953.8,685.7 L1956.3,686.4 L1958.7,687.4 L1961.0,688.6 L1962.9,690.4 L1964.7,692.3 L1966.4,694.2 L1968.3,696.0 L1970.2,697.8 L1972.1,699.6 L1974.0,701.4 L1976.0,703.0 L1978.3,704.2 L1980.8,704.3 L1983.2,703.3 L1985.2,701.7 L1987.1,699.9 L1989.0,698.1 L1990.9,696.3 L1993.0,694.7 L1995.0,693.2 L1997.1,691.6 L1999.2,690.1 L2001.3,688.5 L2003.3,686.9 L2005.3,685.2 L2007.2,683.4 L2009.1,681.7 L2011.0,679.9 L2013.1,678.3 L2015.3,676.9 L2017.6,675.8 L2020.1,675.1 L2022.7,674.6 L2025.2,674.3 L2027.8,674.1 L2030.4,674.1 L2033.0,674.1 L2035.6,674.3 L2038.2,674.5 L2040.8,674.7 L2043.4,675.1 L2046.0,675.5 L2048.5,675.9 L2051.1,676.5 L2053.6,677.2 L2056.1,677.9 L2058.6,678.6 L2061.0,679.5 L2063.5,680.4 L2065.9,681.3 L2068.3,682.3 L2070.6,683.4 L2073.0,684.5 L2075.3,685.7 L2077.5,687.1 L2079.6,688.6 L2081.6,690.3 L2083.4,692.1 L2085.1,694.1 L2086.6,696.2 L2088.0,698.4 L2089.4,700.6 L2090.7,702.8 L2092.1,705.1 L2093.5,707.3 L2094.9,709.4 L2096.5,711.5 L2098.0,713.6 L2100.4,714.4 L2102.9,713.8 L2105.2,712.6 L2107.4,711.3 L2109.7,710.0 L2112.1,709.0 L2114.6,708.5 L2117.2,708.8 L2119.7,709.5 L2122.1,710.6 L2124.3,712.0 L2126.4,713.5 L2128.4,715.1 L2130.3,716.9 L2132.2,718.6 L2134.1,720.4 L2135.9,722.3 L2137.7,724.2 L2139.5,726.1 L2141.2,728.1 L2142.9,730.1 L2144.5,732.1 L2146.1,734.1 L2147.7,736.2 L2149.3,738.3 L2150.8,740.4 L2152.2,742.5 L2153.7,744.7 L2155.1,746.9 L2156.5,749.1 L2157.9,751.3 L2159.2,753.5 L2160.6,755.7 L2161.9,757.9 L2163.2,760.2 L2164.6,762.4 L2165.9,764.6 L2167.2,766.9 L2168.5,769.1 L2169.7,771.4 L2170.8,773.8 L2171.9,776.1 L2172.9,778.6 L2173.9,781.0 L2174.9,783.3 L2176.2,785.6 L2177.6,787.8 L2179.2,789.8 L2180.9,791.8 L2182.7,793.7 L2184.6,795.5 L2186.5,797.2 L2188.5,798.9 L2190.4,800.6 L2192.5,802.3 L2194.5,803.9 L2196.5,805.5 L2198.6,807.1 L2200.7,808.6 L2202.7,810.2 L2204.9,811.7 L2207.1,813.0 L2209.5,814.0 L2212.0,814.6 L2214.6,814.3 L2217.0,813.2 L2219.2,811.9 L2221.4,810.6 L2223.9,809.7 L2226.5,809.6 L2229.1,809.8 L2231.5,810.7 L2233.5,812.3 L2235.2,814.3 L2236.8,816.4 L2238.1,818.6 L2239.4,820.9 L2240.6,823.2 L2241.7,825.5 L2242.7,827.9 L2243.7,830.3 L2244.7,832.7 L2245.6,835.2 L2246.5,837.6 L2247.3,840.1 L2248.1,842.6 L2248.8,845.1 L2249.4,847.6 L2250.0,850.1 L2250.6,852.6 L2251.1,855.2 L2251.6,857.7 L2252.0,860.3 L2252.5,862.9 L2252.9,865.4 L2253.3,868.0 L2253.7,870.6 L2254.0,873.2 L2254.4,875.7 L2254.7,878.3 L2255.1,880.9 L2255.4,883.5 L2255.7,886.0 L2256.1,888.6 L2256.4,891.2 L2256.7,893.8 L2257.0,896.4 L2257.4,898.9 L2257.7,901.5 L2258.0,904.1 L2258.3,906.7 L2258.6,909.3 L2259.0,911.8 L2259.3,914.4 L2259.6,917.0 L2259.9,919.6 L2260.2,922.2 L2260.6,924.7 L2260.9,927.3 L2261.2,929.9 L2261.5,932.5 L2261.8,935.1 L2262.1,937.6 L2262.4,940.2 L2262.8,942.8 L2263.1,945.4 L2263.4,948.0 L2263.7,950.6 L2264.0,953.1 L2264.3,955.7 L2264.6,958.3 L2264.8,960.9 L2265.1,963.5 L2265.4,966.1 L2265.7,968.6 L2266.0,971.2 L2266.3,973.8 L2266.6,976.4 L2266.9,979.0 L2267.2,981.6 L2267.5,984.1 L2267.8,986.7 L2268.1,989.3 L2268.4,991.9 L2268.7,994.5 L2268.9,997.1 L2269.2,999.6 L2269.5,1002.2 L2269.8,1004.8 L2270.1,1007.4 L2270.4,1010.0 L2270.6,1012.0" fill="none" stroke="#fdf3f2" stroke-width="15" stroke-linejoin="round" stroke-linecap="round"/>
<path d="M186.5,1593.2 L189.1,1593.0 L191.7,1593.0 L194.3,1592.9 L196.9,1592.1 L199.5,1591.5 L202.1,1592.0 L204.7,1591.5 L207.3,1592.7 L209.9,1592.2 L212.5,1591.9 L215.0,1591.6 L217.6,1591.6 L220.2,1590.6 L222.8,1590.9 L225.4,1590.5 L228.0,1590.8 L230.6,1590.4 L233.2,1590.6 L235.8,1589.3 L238.4,1590.4 L241.0,1589.1 L243.6,1589.1 L246.2,1590.9 L248.8,1586.8 L251.4,1586.7 L253.9,1590.6 L256.5,1588.4 L259.1,1586.1 L261.7,1590.2 L264.3,1589.7 L266.9,1585.5 L269.5,1586.8 L272.1,1585.1 L274.7,1585.8 L277.2,1587.0 L279.8,1584.6 L282.4,1587.0 L285.0,1583.7 L287.6,1584.1 L290.2,1587.0 L292.8,1584.8 L295.4,1584.7 L298.0,1585.4 L300.6,1584.6 L303.2,1584.0 L305.8,1582.1 L308.4,1585.3 L311.0,1586.2 L313.5,1586.1 L316.1,1584.3 L318.7,1582.6 L321.3,1582.4 L323.9,1583.8 L326.5,1583.4 L329.1,1580.4 L331.6,1580.7 L334.2,1580.9 L336.8,1581.1 L339.2,1581.7 L341.6,1579.2 L343.7,1575.4 L345.9,1577.8 L348.4,1575.1 L350.9,1575.2 L353.5,1573.7 L356.1,1574.7 L358.7,1574.7 L361.3,1576.7 L363.9,1573.7 L366.5,1576.0 L369.1,1574.3 L371.7,1576.9 L374.3,1573.7 L376.9,1574.7 L379.5,1574.8 L382.1,1575.9 L384.6,1572.7 L387.2,1574.2 L389.8,1572.6 L392.3,1572.6 L394.9,1573.2 L397.5,1575.2 L400.1,1572.7 L402.7,1574.8 L405.3,1571.0 L407.9,1574.6 L410.5,1572.0 L413.1,1571.2 L415.7,1574.0 L418.3,1575.0 L420.9,1570.9 L423.4,1572.5 L426.0,1575.3 L428.6,1573.7 L431.1,1573.9 L433.5,1573.6 L436.0,1574.7 L438.4,1578.4 L440.8,1581.0 L443.2,1581.8 L445.5,1581.0 L447.9,1581.0 L450.2,1582.9 L452.6,1584.5 L454.9,1585.5 L457.3,1586.6 L459.6,1587.7 L462.0,1588.8 L464.4,1589.8 L466.7,1590.9 L469.2,1591.9 L471.6,1592.8 L474.0,1593.6 L476.5,1594.4 L479.0,1595.1 L481.5,1595.8 L484.0,1596.4 L486.6,1597.0 L489.1,1597.6 L491.7,1598.1 L494.2,1598.7 L496.7,1599.2 L499.3,1599.8 L501.8,1600.4 L504.3,1601.1 L506.8,1601.8 L509.3,1602.5 L511.8,1603.2 L514.3,1603.9 L516.8,1604.7 L519.3,1605.5 L521.8,1606.2 L524.3,1607.0 L526.7,1607.8 L529.2,1608.5 L531.7,1609.3 L534.2,1610.0 L536.7,1610.7 L539.2,1611.4 L541.7,1612.1 L544.2,1612.8 L546.7,1613.5 L549.2,1614.2 L551.7,1614.9 L554.3,1615.6 L556.8,1616.2 L559.3,1616.8 L561.8,1617.4 L564.4,1618.0 L566.9,1618.6 L569.4,1619.1 L572.0,1619.6 L574.6,1620.1 L577.1,1620.5 L579.7,1621.0 L582.2,1621.4 L584.8,1621.8 L587.4,1622.1 L590.0,1622.4 L592.6,1622.7 L595.2,1622.9 L597.7,1623.1 L600.3,1623.2 L602.9,1623.4 L605.5,1623.5 L608.1,1623.7 L610.7,1623.8 L613.3,1623.9 L615.9,1623.9 L618.5,1624.0 L621.1,1624.1 L623.7,1624.2 L626.3,1624.2 L628.9,1624.3 L631.5,1624.3 L634.1,1624.4 L636.7,1624.4 L639.3,1624.5 L641.9,1624.5 L644.5,1624.5 L647.1,1624.6 L649.7,1624.6 L652.3,1624.6 L654.9,1624.6 L657.5,1624.7 L660.1,1624.7 L662.7,1624.7 L665.3,1624.7 L667.9,1624.7 L670.5,1624.7 L673.1,1624.7 L675.7,1624.7 L678.3,1624.7 L680.9,1624.6 L683.5,1624.6 L686.1,1624.6 L688.7,1624.5 L691.3,1624.5 L693.9,1624.4 L696.5,1624.3 L699.1,1624.2 L701.7,1624.2 L704.3,1624.1 L706.9,1623.9 L709.5,1623.8 L712.1,1623.7 L714.7,1623.5 L717.3,1623.3 L719.9,1623.1 L722.5,1622.9 L725.1,1622.6 L727.6,1622.3 L730.2,1622.0 L732.8,1621.6 L735.4,1621.2 L737.9,1620.8 L740.5,1620.4 L743.1,1620.0 L745.6,1619.7 L748.2,1619.3 L750.8,1619.0 L753.4,1618.7 L756.0,1618.5 L758.6,1618.3 L761.2,1618.0 L763.7,1617.8 L766.3,1617.5 L768.9,1617.2 L771.5,1616.9 L774.1,1616.5 L776.6,1616.1 L779.2,1615.6 L781.7,1615.2 L784.3,1614.7 L786.8,1614.1 L789.4,1613.6 L791.9,1613.1 L794.5,1612.5 L797.0,1611.9 L799.5,1611.4 L802.1,1610.8 L804.6,1610.2 L807.1,1609.6 L809.7,1609.1 L812.2,1608.5 L814.8,1607.9 L817.3,1607.3 L819.8,1606.7 L822.4,1606.2 L824.9,1605.6 L827.4,1605.0 L830.0,1604.5 L832.5,1603.9 L835.0,1603.4 L837.6,1602.8 L840.1,1602.3 L842.7,1601.7 L845.2,1601.2 L847.8,1600.6 L850.3,1600.1 L852.9,1599.6 L855.4,1599.0 L857.9,1598.5 L860.5,1598.0 L863.0,1597.4 L865.6,1596.9 L868.1,1596.4 L870.7,1595.8 L873.2,1595.3 L875.8,1594.8 L878.3,1594.2 L880.8,1593.7 L883.4,1593.2 L885.9,1592.6 L888.5,1592.1 L891.0,1591.6 L893.6,1591.0 L896.1,1590.5 L898.7,1590.0 L901.2,1589.4 L903.7,1588.9 L906.3,1588.4 L908.8,1587.8 L911.4,1587.3 L913.9,1586.8 L916.5,1586.2 L919.0,1585.7 L921.5,1585.1 L924.1,1584.6 L926.6,1584.0 L929.2,1583.5 L931.7,1583.0 L934.3,1582.4 L936.8,1581.9 L939.3,1581.3 L941.9,1580.8 L944.4,1580.2 L947.0,1579.7 L949.5,1579.2 L952.1,1578.6 L954.6,1578.1 L957.2,1577.6 L959.7,1577.0 L962.2,1576.5 L964.8,1575.9 L967.3,1575.4 L969.9,1574.8 L972.4,1574.3 L974.9,1573.7 L977.5,1573.1 L980.0,1572.6 L982.6,1572.1 L985.1,1571.6 L987.7,1571.2 L990.3,1570.8 L992.9,1570.7 L995.4,1570.8 L997.9,1571.6 L1000.3,1572.6 L1002.9,1572.9 L1005.5,1572.7 L1008.0,1572.3 L1010.5,1571.6 L1013.0,1570.9 L1015.5,1570.0 L1018.0,1569.2 L1020.4,1568.3 L1022.8,1567.4 L1025.3,1566.5 L1027.7,1565.5 L1030.1,1564.6 L1032.6,1563.7 L1035.0,1562.8 L1037.4,1561.9 L1039.9,1561.0 L1042.3,1560.1 L1044.8,1559.3 L1047.3,1558.5 L1049.8,1557.8 L1052.3,1557.1 L1054.8,1556.4 L1057.3,1555.8 L1059.8,1555.2 L1062.4,1554.7 L1064.9,1554.1 L1067.5,1553.6 L1070.0,1553.1 L1072.6,1552.6 L1075.1,1552.1 L1077.7,1551.7 L1080.2,1551.2 L1082.8,1550.7 L1085.4,1550.3 L1087.9,1549.8 L1090.5,1549.3 L1093.0,1548.9 L1095.6,1548.4 L1098.2,1548.0 L1100.7,1547.6 L1103.3,1547.2 L1105.9,1546.7 L1108.4,1546.3 L1111.0,1545.9 L1113.6,1545.5 L1116.1,1545.1 L1118.7,1544.7 L1121.3,1544.3 L1123.8,1543.8 L1126.4,1543.4 L1128.9,1542.9 L1131.5,1542.4 L1134.1,1541.9 L1136.6,1541.4 L1139.2,1540.9 L1141.7,1540.4 L1144.3,1539.9 L1146.8,1539.4 L1149.4,1538.9 L1151.9,1538.5 L1154.5,1537.7 L1157.0,1537.5 L1159.6,1537.1 L1162.2,1537.1 L1164.8,1536.0 L1167.3,1538.2 L1169.6,1539.2 L1171.4,1539.1 L1173.7,1539.0 L1175.4,1538.7 L1176.7,1534.8 L1177.9,1534.4 L1179.1,1530.8 L1180.3,1529.0 L1181.5,1526.8 L1182.9,1523.2 L1184.7,1521.6 L1186.9,1522.2 L1188.4,1525.6 L1189.5,1528.0 L1190.6,1528.7 L1191.8,1533.1 L1193.9,1533.1 L1195.7,1530.8 L1197.2,1529.2 L1199.0,1529.0 L1201.0,1529.0 L1202.3,1531.5 L1203.7,1534.5 L1205.7,1536.2 L1208.2,1536.4 L1210.7,1536.1 L1213.3,1536.8 L1215.9,1537.7 L1218.5,1537.0 L1221.0,1535.7 L1223.4,1534.0 L1225.6,1532.8 L1227.8,1532.5 L1229.9,1530.5 L1232.0,1527.4 L1234.1,1527.8 L1236.1,1526.7 L1238.2,1524.8 L1240.3,1523.6 L1242.4,1522.1 L1244.5,1519.5 L1246.7,1518.9 L1249.0,1516.4 L1251.3,1514.4 L1253.6,1514.0 L1256.0,1512.7 L1258.3,1513.4 L1260.7,1511.7 L1263.1,1510.3 L1265.5,1509.5 L1267.9,1507.1 L1270.3,1507.3 L1272.7,1506.8 L1275.1,1504.9 L1277.5,1503.4 L1279.9,1502.9 L1282.4,1501.8 L1284.8,1502.0 L1287.3,1499.7 L1289.8,1498.7 L1292.2,1498.4 L1294.5,1498.3 L1296.7,1497.0 L1298.5,1494.9 L1299.9,1493.5 L1300.8,1489.5 L1301.5,1486.0 L1302.1,1484.8 L1302.5,1482.1 L1302.9,1478.8 L1303.2,1477.6 L1303.6,1474.1 L1304.2,1471.3 L1305.4,1469.4 L1307.1,1472.9 L1308.0,1472.8 L1308.8,1476.2 L1309.6,1478.5 L1310.5,1480.7 L1311.7,1483.7 L1313.1,1485.2 L1314.9,1489.1 L1316.7,1489.7 L1318.6,1491.9 L1320.6,1492.6 L1322.6,1494.8 L1324.7,1496.5 L1326.9,1498.0 L1329.1,1499.1 L1331.5,1500.3 L1333.9,1501.1 L1336.5,1501.5 L1339.1,1501.6 L1341.7,1501.3 L1344.2,1500.9 L1346.8,1500.4 L1349.3,1499.8 L1351.9,1499.3 L1354.4,1498.9 L1357.0,1498.5 L1359.6,1498.2 L1362.1,1497.7 L1364.7,1497.1 L1367.1,1496.2 L1369.3,1494.9 L1371.2,1493.2 L1372.7,1491.0 L1373.9,1488.7 L1375.0,1486.4 L1375.9,1483.9 L1376.9,1481.7 L1378.0,1479.4 L1379.3,1476.7 L1381.0,1475.0 L1382.8,1473.5 L1384.8,1471.2 L1387.0,1470.4 L1389.3,1469.4 L1391.8,1469.7 L1394.4,1468.6 L1396.5,1470.4 L1398.4,1471.2 L1400.3,1474.2 L1402.2,1474.6 L1404.6,1476.2 L1407.1,1475.4 L1409.3,1473.9 L1411.2,1471.6 L1413.1,1470.1 L1414.9,1469.2 L1416.7,1466.4 L1418.6,1464.0 L1420.7,1464.9 L1423.2,1462.6 L1425.6,1465.4 L1427.6,1465.9 L1429.5,1467.1 L1431.5,1470.2 L1433.9,1471.5 L1436.4,1470.3 L1438.9,1470.2 L1441.5,1472.2 L1444.1,1473.2 L1446.7,1472.6 L1449.3,1473.2 L1451.9,1472.0 L1454.5,1472.5 L1457.0,1471.2 L1459.6,1471.3 L1462.2,1470.9 L1464.8,1470.5 L1467.3,1470.2 L1469.9,1470.1 L1472.4,1469.0 L1474.9,1468.6 L1477.5,1467.9 L1480.0,1467.8 L1482.5,1466.8 L1485.0,1465.4 L1487.5,1466.1 L1490.1,1465.7 L1492.6,1464.9 L1495.1,1463.2 L1497.6,1463.4 L1500.1,1461.8 L1502.7,1460.8 L1505.2,1461.9 L1507.7,1461.3 L1510.3,1459.3 L1512.8,1460.4 L1515.4,1457.9 L1518.0,1458.1 L1520.5,1457.0 L1523.1,1457.0 L1525.7,1456.6 L1528.2,1457.6 L1530.8,1456.3 L1533.4,1455.7 L1536.0,1455.3 L1538.6,1455.3 L1541.1,1456.4 L1543.7,1455.3 L1546.2,1452.8 L1548.8,1454.6 L1551.3,1453.4 L1553.8,1452.5 L1556.4,1452.2 L1558.9,1452.1 L1561.5,1452.2 L1564.0,1450.6 L1566.6,1450.8 L1569.2,1450.1 L1571.8,1450.9 L1574.4,1450.2 L1577.0,1450.7 L1579.5,1451.7 L1582.0,1453.3 L1584.4,1452.5 L1586.7,1456.2 L1589.0,1455.7 L1591.1,1458.6 L1593.1,1459.7 L1594.9,1462.6 L1596.7,1463.4 L1598.3,1464.4 L1599.9,1466.4 L1601.5,1469.2 L1603.0,1471.9 L1604.5,1474.4 L1605.9,1473.8 L1607.3,1475.7 L1608.6,1478.1 L1610.0,1480.2 L1611.4,1482.3 L1612.9,1484.2 L1614.5,1487.2 L1616.2,1488.7 L1617.9,1492.9 L1619.7,1494.6 L1621.5,1497.8 L1623.4,1499.6 L1625.4,1500.4 L1627.4,1502.5 L1629.7,1501.0 L1632.0,1502.8 L1634.4,1504.9 L1636.8,1505.3 L1639.1,1506.5 L1641.2,1508.2 L1643.2,1509.7 L1645.2,1511.5 L1647.1,1513.0 L1648.9,1514.7 L1650.6,1516.3 L1652.2,1519.4 L1653.7,1522.4 L1655.1,1524.8 L1656.4,1526.5 L1657.6,1529.2 L1658.8,1529.9 L1660.0,1532.1 L1661.2,1536.1 L1662.4,1537.5 L1663.7,1539.9 L1665.1,1540.3 L1666.7,1543.0 L1668.3,1545.7 L1670.1,1548.3 L1672.0,1550.4 L1673.9,1551.9 L1676.0,1552.2 L1678.3,1553.6 L1680.8,1555.7 L1683.4,1555.8 L1685.7,1553.3 L1687.8,1551.1 L1689.9,1550.5 L1691.9,1548.7 L1693.9,1546.8 L1695.8,1544.9 L1697.7,1543.3 L1699.5,1541.6 L1701.4,1539.8 L1703.3,1538.0 L1705.3,1536.3 L1707.4,1534.8 L1709.6,1533.4 L1711.8,1532.1 L1714.0,1530.7 L1716.0,1529.0 L1717.8,1527.1 L1719.4,1525.1 L1720.8,1522.9 L1722.1,1520.6 L1723.3,1518.3 L1724.5,1516.0 L1725.7,1513.7 L1726.9,1511.4 L1728.1,1509.1 L1729.4,1506.8 L1730.8,1504.6 L1732.2,1502.4 L1733.6,1500.3 L1735.1,1498.1 L1736.6,1496.0 L1738.2,1494.0 L1739.8,1492.0 L1741.6,1490.0 L1743.5,1488.3 L1745.5,1486.6 L1747.6,1485.0 L1749.7,1483.6 L1752.0,1482.3 L1754.3,1481.2 L1756.8,1480.3 L1759.3,1479.7 L1761.9,1479.4 L1764.5,1479.5 L1767.0,1480.0 L1769.5,1480.7 L1771.9,1481.6 L1774.3,1482.8 L1776.4,1484.2 L1778.5,1485.8 L1780.3,1487.7 L1782.0,1489.7 L1783.6,1491.7 L1785.1,1493.9 L1786.5,1496.0 L1788.0,1498.2 L1789.5,1500.3 L1791.0,1502.4 L1792.5,1504.5 L1793.9,1506.7 L1795.4,1508.9 L1796.8,1511.0 L1798.2,1513.2 L1799.6,1515.4 L1801.1,1517.6 L1802.5,1519.7 L1803.9,1521.9 L1805.4,1524.1 L1806.8,1526.2 L1808.3,1528.4 L1809.7,1530.5 L1811.2,1532.7 L1812.6,1534.9 L1813.9,1537.1 L1815.3,1539.3 L1816.7,1541.5 L1818.1,1543.7 L1819.7,1545.8 L1821.4,1547.7 L1823.5,1549.2 L1826.0,1549.5 L1828.4,1548.5 L1830.2,1546.6 L1831.6,1544.4 L1832.8,1542.1 L1833.9,1539.8 L1834.9,1537.4 L1835.8,1534.9 L1836.7,1532.5 L1837.5,1530.0 L1838.2,1527.5 L1838.9,1525.0 L1839.6,1522.5 L1840.3,1520.0 L1841.0,1517.5 L1841.6,1514.9 L1842.2,1512.4 L1842.9,1509.9 L1843.5,1507.4 L1844.1,1504.9 L1844.7,1502.3 L1845.3,1499.8 L1845.9,1497.3 L1846.6,1494.7 L1847.2,1492.2 L1847.8,1489.7 L1848.4,1487.2 L1849.0,1484.6 L1849.6,1482.1 L1850.1,1479.6 L1850.6,1477.0 L1851.2,1474.5 L1851.7,1471.9 L1852.2,1469.4 L1852.6,1466.8 L1853.2,1464.3 L1853.7,1461.7 L1854.2,1459.2 L1854.8,1456.6 L1855.4,1454.1 L1856.1,1451.6 L1856.8,1449.1 L1857.6,1446.6 L1858.5,1444.2 L1859.4,1441.8 L1860.4,1439.4 L1861.5,1437.0 L1862.6,1434.6 L1863.8,1432.3 L1865.0,1430.0 L1866.3,1427.8 L1867.7,1425.6 L1869.1,1423.4 L1870.5,1421.2 L1872.0,1419.1 L1873.6,1417.0 L1875.2,1415.0 L1876.9,1413.0 L1878.7,1411.1 L1880.6,1409.4 L1882.6,1407.7 L1884.6,1406.1 L1886.7,1404.5 L1888.9,1403.1 L1891.0,1401.6 L1893.2,1400.2 L1895.4,1398.8 L1897.7,1397.5 L1900.0,1396.3 L1902.3,1395.1 L1904.6,1394.0 L1907.0,1392.9 L1909.3,1391.8 L1911.7,1390.7 L1914.1,1389.7 L1916.4,1388.6 L1918.8,1387.4 L1921.1,1386.2 L1923.4,1385.0 L1925.7,1383.9 L1928.1,1382.8 L1930.5,1381.8 L1932.9,1381.0 L1935.4,1380.3 L1938.0,1379.6 L1940.5,1379.1 L1943.1,1378.6 L1945.6,1378.2 L1948.2,1377.9 L1950.8,1377.7 L1953.4,1377.8 L1956.0,1378.1 L1958.4,1379.1 L1960.5,1380.6 L1962.4,1382.4 L1964.0,1384.4 L1965.4,1386.6 L1966.7,1388.9 L1968.0,1391.1 L1969.5,1393.3 L1971.1,1395.3 L1973.2,1396.8 L1975.7,1396.8 L1978.0,1395.5 L1979.9,1393.8 L1981.8,1392.0 L1983.6,1390.1 L1985.5,1388.3 L1987.5,1386.7 L1989.6,1385.2 L1991.7,1383.7 L1993.9,1382.2 L1996.0,1380.7 L1998.2,1379.3 L2000.4,1377.9 L2002.7,1376.8 L2005.1,1375.7 L2007.5,1374.7 L2010.0,1373.9 L2012.5,1373.1 L2015.0,1372.5 L2017.6,1372.2 L2020.1,1372.0 L2022.7,1371.9 L2025.3,1372.1 L2027.9,1372.3 L2030.5,1372.7 L2033.1,1373.1 L2035.6,1373.6 L2038.2,1374.2 L2040.7,1374.8 L2043.2,1375.5 L2045.7,1376.2 L2048.2,1377.0 L2050.6,1377.8 L2053.1,1378.7 L2055.5,1379.7 L2057.9,1380.7 L2060.3,1381.8 L2062.6,1382.9 L2064.9,1384.1 L2067.2,1385.4 L2069.4,1386.7 L2071.5,1388.2 L2073.6,1389.7 L2075.7,1391.3 L2077.7,1393.0 L2079.6,1394.7 L2081.5,1396.5 L2083.4,1398.3 L2085.3,1400.1 L2087.1,1402.0 L2088.8,1403.9 L2090.4,1405.9 L2092.0,1408.0 L2093.4,1410.2 L2094.8,1412.4 L2096.3,1414.5 L2097.8,1416.6 L2099.6,1418.5 L2101.7,1419.9 L2104.3,1420.0 L2106.6,1418.8 L2108.7,1417.3 L2110.9,1415.9 L2113.3,1415.2 L2115.9,1415.6 L2118.2,1416.7 L2120.5,1418.0 L2122.6,1419.5 L2124.6,1421.1 L2126.6,1422.8 L2128.6,1424.5 L2130.5,1426.3 L2132.4,1428.0 L2134.3,1429.8 L2136.1,1431.6 L2138.0,1433.5 L2139.8,1435.3 L2141.6,1437.2 L2143.4,1439.1 L2145.1,1441.0 L2146.8,1443.0 L2148.5,1445.0 L2150.2,1447.0 L2151.8,1449.0 L2153.4,1451.1 L2154.9,1453.2 L2156.3,1455.4 L2157.6,1457.6 L2158.9,1459.9 L2160.1,1462.2 L2161.3,1464.5 L2162.6,1466.8 L2163.8,1469.1 L2165.0,1471.4 L2166.3,1473.6 L2167.6,1475.8 L2169.1,1478.0 L2170.6,1480.1 L2172.2,1482.1 L2173.9,1484.1 L2175.7,1486.0 L2177.5,1487.9 L2179.4,1489.7 L2181.3,1491.4 L2183.2,1493.2 L2185.2,1494.9 L2187.2,1496.5 L2189.2,1498.2 L2191.2,1499.9 L2193.1,1501.6 L2195.1,1503.2 L2197.2,1504.8 L2199.3,1506.4 L2201.5,1507.8 L2203.8,1509.0 L2206.2,1509.9 L2208.8,1510.2 L2211.3,1509.8 L2213.8,1509.0 L2216.2,1508.0 L2218.6,1507.1 L2221.2,1506.6 L2223.8,1506.8 L2226.3,1507.3 L2228.8,1508.1 L2231.1,1509.2 L2233.2,1510.7 L2235.1,1512.5 L2236.8,1514.5 L2238.3,1516.6 L2239.7,1518.8 L2241.0,1521.0 L2242.2,1523.3 L2243.3,1525.7 L2244.4,1528.1 L2245.4,1530.5 L2246.3,1532.9 L2247.2,1535.3 L2248.0,1537.8 L2248.8,1540.3 L2249.5,1542.8 L2250.1,1545.3 L2250.7,1547.8 L2251.2,1550.4 L2251.7,1552.9 L2252.2,1555.5 L2252.7,1558.1 L2253.1,1560.6 L2253.5,1563.2 L2253.9,1565.8 L2254.3,1568.3 L2254.7,1570.9 L2255.1,1573.5 L2255.4,1576.0 L2255.7,1578.6 L2256.1,1581.2 L2256.4,1583.8 L2256.7,1586.4 L2257.0,1588.9 L2257.3,1591.5 L2257.6,1594.1 L2257.9,1596.7 L2258.1,1599.3 L2258.4,1601.9 L2258.7,1604.4 L2259.0,1607.0 L2259.3,1609.6 L2259.6,1612.2 L2259.9,1614.8 L2260.2,1617.4 L2260.5,1619.9 L2260.9,1622.5 L2261.2,1625.1 L2261.5,1627.7 L2261.9,1630.3 L2262.2,1632.8 L2262.6,1635.4 L2262.9,1638.0 L2263.3,1640.6 L2263.6,1643.1 L2264.0,1645.7 L2264.3,1648.3 L2264.7,1650.9 L2265.0,1653.4 L2265.4,1656.0 L2265.7,1658.6 L2266.1,1661.2 L2266.5,1663.7 L2266.8,1666.3 L2267.2,1668.9 L2267.5,1671.5 L2267.9,1674.0 L2268.3,1676.6 L2268.6,1679.2 L2269.0,1681.8 L2269.3,1684.3 L2269.5,1685.5" fill="none" stroke="#fdf3f2" stroke-width="15" stroke-linejoin="round" stroke-linecap="round"/>
<path d="M186.5,1989.4 L189.1,1989.3 L191.7,1989.5 L194.3,1989.5 L196.9,1989.9 L199.5,1988.8 L202.1,1988.7 L204.7,1988.5 L207.3,1988.7 L209.9,1989.9 L212.5,1988.4 L215.1,1989.3 L217.7,1988.7 L220.3,1988.9 L222.9,1989.1 L225.5,1989.4 L228.1,1989.1 L230.7,1988.9 L233.3,1988.7 L235.9,1988.2 L238.5,1989.8 L241.1,1989.7 L243.7,1989.8 L246.3,1989.8 L248.9,1989.2 L251.4,1989.9 L254.0,1988.9 L256.6,1986.0 L259.2,1988.5 L261.8,1986.5 L264.4,1987.5 L267.0,1986.3 L269.5,1985.5 L272.1,1985.0 L274.7,1985.1 L277.3,1984.5 L279.9,1983.4 L282.5,1986.7 L285.1,1986.6 L287.7,1987.4 L290.3,1986.0 L292.9,1985.3 L295.5,1986.2 L298.1,1983.2 L300.7,1985.7 L303.3,1984.6 L305.9,1983.3 L308.5,1983.4 L311.1,1984.9 L313.7,1983.5 L316.3,1984.4 L318.9,1985.1 L321.5,1984.0 L324.1,1982.6 L326.7,1984.3 L329.3,1982.9 L331.9,1982.7 L334.5,1982.2 L337.0,1982.4 L339.1,1979.6 L339.9,1980.0 L342.4,1980.6 L344.9,1977.7 L347.5,1979.2 L350.1,1980.2 L352.7,1975.9 L355.3,1976.4 L357.9,1979.7 L360.5,1979.9 L363.1,1979.0 L365.7,1976.8 L368.3,1978.1 L370.9,1980.3 L373.5,1980.3 L376.1,1979.8 L378.7,1976.7 L381.3,1979.6 L383.9,1976.9 L386.5,1978.2 L389.0,1975.1 L391.6,1978.7 L394.2,1976.6 L396.8,1977.0 L399.4,1974.4 L402.0,1976.4 L404.6,1976.4 L407.2,1976.7 L409.7,1976.0 L412.3,1978.2 L414.8,1976.8 L417.4,1977.1 L419.9,1977.1 L422.4,1980.2 L425.0,1978.1 L427.5,1979.3 L430.0,1979.3 L432.4,1982.9 L434.8,1983.5 L437.2,1984.5 L439.6,1983.1 L441.9,1986.2 L444.3,1987.1 L446.6,1987.7 L448.9,1989.0 L451.1,1991.9 L453.4,1992.3 L455.7,1993.7 L458.0,1994.9 L460.3,1996.1 L462.7,1997.3 L465.0,1998.4 L467.3,1999.5 L469.7,2000.6 L472.1,2001.6 L474.6,2002.4 L477.0,2003.3 L479.5,2004.0 L482.1,2004.7 L484.6,2005.3 L487.1,2005.9 L489.7,2006.4 L492.2,2006.9 L494.7,2007.5 L497.3,2008.0 L499.8,2008.6 L502.4,2009.2 L504.9,2009.8 L507.4,2010.5 L509.9,2011.3 L512.4,2012.0 L514.8,2012.8 L517.3,2013.6 L519.8,2014.4 L522.3,2015.2 L524.8,2015.9 L527.2,2016.7 L529.7,2017.5 L532.2,2018.2 L534.7,2018.9 L537.2,2019.6 L539.7,2020.2 L542.3,2020.9 L544.8,2021.5 L547.3,2022.1 L549.8,2022.7 L552.4,2023.3 L554.9,2023.9 L557.5,2024.4 L560.0,2024.8 L562.6,2025.2 L565.2,2025.6 L567.7,2025.9 L570.3,2026.2 L572.9,2026.5 L575.5,2026.7 L578.1,2026.9 L580.7,2027.1 L583.3,2027.3 L585.9,2027.4 L588.5,2027.5 L591.1,2027.6 L593.7,2027.8 L596.3,2027.9 L598.9,2028.0 L601.5,2028.0 L604.1,2028.1 L606.7,2028.2 L609.3,2028.3 L611.9,2028.3 L614.5,2028.4 L617.1,2028.5 L619.7,2028.5 L622.3,2028.6 L624.9,2028.6 L627.5,2028.7 L630.1,2028.7 L632.7,2028.8 L635.3,2028.8 L637.9,2028.8 L640.5,2028.8 L643.1,2028.8 L645.7,2028.8 L648.3,2028.8 L650.9,2028.8 L653.5,2028.8 L656.1,2028.8 L658.7,2028.7 L661.3,2028.7 L663.9,2028.6 L666.5,2028.5 L669.1,2028.5 L671.7,2028.3 L674.3,2028.2 L676.8,2028.1 L679.4,2028.0 L682.0,2027.8 L684.6,2027.7 L687.2,2027.5 L689.8,2027.4 L692.4,2027.2 L695.0,2027.0 L697.6,2026.8 L700.2,2026.6 L702.8,2026.4 L705.4,2026.2 L708.0,2026.0 L710.6,2025.8 L713.2,2025.5 L715.7,2025.3 L718.3,2025.0 L720.9,2024.7 L723.5,2024.4 L726.1,2024.1 L728.7,2023.8 L731.2,2023.4 L733.8,2023.0 L736.4,2022.6 L738.9,2022.2 L741.5,2021.8 L744.1,2021.4 L746.6,2021.0 L749.2,2020.7 L751.8,2020.3 L754.4,2020.0 L757.0,2019.6 L759.5,2019.3 L762.1,2019.0 L764.7,2018.6 L767.3,2018.3 L769.8,2017.9 L772.4,2017.6 L775.0,2017.3 L777.6,2016.9 L780.2,2016.6 L782.7,2016.2 L785.3,2015.9 L787.9,2015.6 L790.5,2015.3 L793.0,2014.9 L795.6,2014.6 L798.2,2014.3 L800.8,2014.0 L803.4,2013.6 L805.9,2013.3 L808.5,2013.0 L811.1,2012.7 L813.7,2012.3 L816.3,2012.0 L818.8,2011.7 L821.4,2011.3 L824.0,2011.0 L826.6,2010.6 L829.1,2010.3 L831.7,2009.9 L834.3,2009.5 L836.9,2009.2 L839.4,2008.8 L842.0,2008.4 L844.6,2008.0 L847.2,2007.7 L849.7,2007.3 L852.3,2006.9 L854.9,2006.5 L857.4,2006.1 L860.0,2005.7 L862.6,2005.3 L865.2,2004.9 L867.7,2004.6 L870.3,2004.2 L872.9,2003.8 L875.4,2003.4 L878.0,2003.0 L880.6,2002.6 L883.1,2002.2 L885.7,2001.8 L888.3,2001.4 L890.8,2001.0 L893.4,2000.6 L896.0,2000.2 L898.6,1999.7 L901.1,1999.3 L903.7,1998.9 L906.3,1998.5 L908.8,1998.1 L911.4,1997.7 L914.0,1997.3 L916.5,1996.9 L919.1,1996.5 L921.7,1996.1 L924.2,1995.7 L926.8,1995.2 L929.4,1994.8 L931.9,1994.4 L934.5,1994.0 L937.1,1993.6 L939.6,1993.1 L942.2,1992.7 L944.8,1992.3 L947.3,1991.8 L949.9,1991.4 L952.4,1991.0 L955.0,1990.6 L957.6,1990.1 L960.1,1989.7 L962.7,1989.2 L965.3,1988.8 L967.8,1988.3 L970.4,1987.8 L972.9,1987.3 L975.5,1986.8 L978.0,1986.2 L980.6,1985.8 L983.1,1985.3 L985.7,1984.8 L988.3,1984.5 L990.8,1984.2 L993.4,1984.1 L996.0,1984.3 L998.5,1985.1 L1001.0,1985.9 L1003.5,1986.1 L1006.1,1985.9 L1008.7,1985.5 L1011.2,1984.9 L1013.7,1984.3 L1016.3,1983.6 L1018.8,1982.9 L1021.3,1982.1 L1023.7,1981.4 L1026.2,1980.6 L1028.7,1979.9 L1031.2,1979.1 L1033.7,1978.3 L1036.2,1977.6 L1038.7,1976.8 L1041.2,1976.1 L1043.7,1975.4 L1046.2,1974.7 L1048.7,1974.0 L1051.2,1973.4 L1053.7,1972.8 L1056.3,1972.3 L1058.8,1971.7 L1061.4,1971.2 L1063.9,1970.6 L1066.5,1970.1 L1069.0,1969.6 L1071.6,1969.2 L1074.1,1968.7 L1076.7,1968.2 L1079.2,1967.8 L1081.8,1967.4 L1084.4,1966.9 L1086.9,1966.5 L1089.5,1966.1 L1092.1,1965.7 L1094.7,1965.4 L1097.2,1965.0 L1099.8,1964.7 L1102.4,1964.4 L1105.0,1964.1 L1107.6,1963.9 L1110.1,1963.6 L1112.7,1963.3 L1115.3,1963.1 L1117.9,1962.8 L1120.5,1962.5 L1123.1,1962.2 L1125.7,1961.9 L1128.2,1961.5 L1130.8,1961.2 L1133.4,1960.8 L1135.9,1960.4 L1138.5,1960.0 L1141.1,1959.6 L1143.6,1959.2 L1146.2,1958.8 L1148.8,1958.4 L1151.4,1958.0 L1154.0,1957.6 L1156.5,1957.7 L1159.1,1956.7 L1161.7,1957.5 L1164.2,1957.8 L1166.5,1960.3 L1168.5,1959.6 L1170.5,1962.2 L1173.0,1963.0 L1175.0,1962.9 L1176.5,1959.4 L1177.8,1957.0 L1178.9,1955.3 L1180.0,1951.9 L1181.2,1948.8 L1182.4,1947.8 L1183.9,1946.9 L1186.1,1946.3 L1187.3,1947.3 L1188.1,1950.9 L1188.8,1953.9 L1189.5,1954.7 L1190.3,1958.1 L1191.8,1959.3 L1193.7,1957.4 L1195.0,1955.2 L1196.3,1952.7 L1198.3,1951.9 L1199.7,1953.1 L1200.8,1956.5 L1202.5,1957.6 L1204.8,1960.5 L1207.4,1960.2 L1210.0,1958.6 L1212.6,1960.6 L1215.2,1958.7 L1217.8,1959.2 L1220.3,1958.9 L1222.9,1957.7 L1225.4,1956.9 L1227.7,1956.2 L1230.0,1954.0 L1232.0,1954.5 L1234.0,1950.7 L1236.1,1951.1 L1238.2,1948.0 L1240.5,1946.9 L1242.8,1945.9 L1245.1,1943.8 L1247.5,1943.0 L1249.9,1942.6 L1252.3,1941.9 L1254.7,1942.1 L1257.1,1941.4 L1259.5,1937.7 L1261.9,1938.1 L1264.3,1936.0 L1266.7,1936.9 L1269.1,1934.6 L1271.5,1935.2 L1273.9,1933.2 L1276.3,1930.9 L1278.6,1929.6 L1281.0,1929.2 L1283.5,1930.1 L1285.9,1927.2 L1288.4,1927.2 L1290.8,1925.9 L1293.1,1924.8 L1295.3,1924.7 L1297.3,1921.4 L1299.0,1920.8 L1300.2,1918.4 L1300.9,1916.6 L1301.4,1912.9 L1301.8,1911.5 L1302.1,1907.5 L1302.4,1905.3 L1302.7,1902.9 L1303.0,1900.9 L1303.6,1898.5 L1305.4,1895.0 L1307.3,1896.8 L1308.6,1900.1 L1309.9,1903.2 L1311.2,1904.6 L1312.7,1906.1 L1314.2,1910.1 L1315.7,1910.4 L1317.1,1912.1 L1318.5,1914.4 L1319.9,1916.6 L1321.4,1920.0 L1322.8,1921.3 L1324.4,1924.1 L1326.0,1926.2 L1327.7,1928.1 L1329.8,1929.5 L1332.2,1930.1 L1334.8,1929.6 L1337.0,1928.3 L1339.2,1926.9 L1341.5,1925.8 L1344.1,1925.6 L1346.5,1926.6 L1348.8,1927.8 L1351.4,1928.2 L1353.9,1927.8 L1356.5,1927.2 L1359.0,1926.5 L1361.4,1925.6 L1363.8,1924.7 L1366.2,1923.5 L1368.4,1922.1 L1370.4,1920.5 L1372.1,1918.5 L1373.5,1916.3 L1374.7,1914.0 L1375.8,1911.7 L1376.8,1909.3 L1377.8,1907.1 L1378.9,1904.7 L1380.2,1902.0 L1381.4,1900.4 L1382.6,1897.0 L1384.6,1895.8 L1387.2,1897.6 L1389.5,1897.3 L1391.7,1898.0 L1393.9,1901.2 L1396.0,1901.6 L1398.2,1901.6 L1400.4,1902.9 L1402.8,1904.6 L1405.4,1905.3 L1407.9,1906.8 L1410.2,1903.3 L1412.2,1903.6 L1414.1,1901.9 L1416.0,1898.7 L1417.9,1898.8 L1420.0,1896.4 L1422.2,1894.3 L1424.7,1892.9 L1427.3,1893.6 L1429.8,1895.7 L1432.2,1895.5 L1434.5,1895.6 L1436.7,1897.5 L1439.0,1899.2 L1441.2,1899.6 L1443.4,1902.2 L1445.7,1901.6 L1448.1,1905.2 L1450.6,1903.9 L1453.1,1904.1 L1455.7,1905.9 L1458.3,1905.0 L1460.9,1906.6 L1463.5,1905.1 L1466.1,1904.7 L1468.6,1904.7 L1471.2,1903.5 L1473.7,1903.3 L1476.3,1902.9 L1478.9,1902.3 L1481.4,1902.4 L1484.0,1900.8 L1486.5,1901.6 L1489.1,1899.7 L1491.6,1900.7 L1494.2,1898.6 L1496.7,1897.8 L1499.3,1898.3 L1501.8,1898.8 L1504.3,1896.7 L1506.9,1896.7 L1509.4,1896.5 L1512.0,1895.1 L1514.5,1895.3 L1517.1,1893.6 L1519.7,1894.2 L1522.2,1894.5 L1524.8,1893.0 L1527.3,1892.2 L1529.9,1891.4 L1532.5,1892.5 L1535.0,1891.4 L1537.6,1892.1 L1540.1,1891.3 L1542.7,1888.8 L1545.3,1891.4 L1547.8,1890.9 L1550.4,1890.0 L1552.9,1889.5 L1555.4,1888.4 L1558.0,1888.0 L1560.6,1887.3 L1563.1,1886.6 L1565.7,1885.0 L1568.3,1884.3 L1570.9,1886.5 L1573.5,1886.0 L1576.1,1883.9 L1578.7,1886.4 L1581.3,1886.6 L1583.8,1886.7 L1586.3,1888.5 L1588.7,1889.9 L1590.9,1889.2 L1593.0,1892.5 L1594.9,1893.1 L1596.7,1895.2 L1598.5,1896.5 L1600.3,1900.4 L1602.2,1900.2 L1604.1,1904.1 L1605.8,1903.5 L1607.7,1906.7 L1609.6,1909.4 L1611.7,1910.0 L1613.9,1910.1 L1616.3,1909.9 L1618.8,1912.2 L1621.4,1912.5 L1623.9,1914.7 L1626.5,1914.9 L1629.0,1915.8 L1631.5,1914.9 L1634.0,1915.7 L1636.4,1917.0 L1638.5,1918.5 L1640.3,1920.2 L1641.9,1922.2 L1643.2,1924.4 L1644.3,1926.8 L1645.4,1929.1 L1646.6,1932.2 L1647.7,1933.5 L1648.8,1937.0 L1649.8,1938.3 L1650.8,1940.5 L1651.8,1944.5 L1652.7,1944.9 L1653.7,1947.3 L1654.7,1949.7 L1655.7,1951.9 L1656.8,1955.2 L1657.9,1957.1 L1658.9,1959.3 L1660.0,1961.3 L1661.0,1965.5 L1662.1,1966.1 L1663.3,1968.9 L1664.6,1972.1 L1666.1,1975.1 L1667.9,1976.4 L1669.8,1978.3 L1672.0,1979.7 L1674.4,1981.0 L1676.9,1981.6 L1679.5,1979.4 L1681.8,1978.1 L1684.0,1978.2 L1686.1,1976.4 L1688.1,1974.8 L1690.2,1973.7 L1692.3,1971.2 L1694.4,1970.3 L1696.5,1968.5 L1698.5,1966.9 L1700.5,1965.3 L1702.5,1963.6 L1704.4,1961.8 L1706.3,1960.0 L1708.1,1958.2 L1709.9,1956.3 L1711.7,1954.4 L1713.5,1952.5 L1715.2,1950.6 L1716.9,1948.6 L1718.6,1946.6 L1720.3,1944.7 L1722.0,1942.7 L1723.7,1940.7 L1725.4,1938.7 L1727.0,1936.7 L1728.7,1934.7 L1730.3,1932.7 L1732.0,1930.7 L1733.6,1928.7 L1735.3,1926.7 L1736.9,1924.7 L1738.5,1922.6 L1740.1,1920.6 L1741.7,1918.5 L1743.2,1916.4 L1744.8,1914.3 L1746.3,1912.2 L1747.9,1910.2 L1749.6,1908.2 L1751.4,1906.3 L1753.4,1904.7 L1755.6,1903.3 L1758.0,1902.2 L1760.5,1901.5 L1763.0,1901.2 L1765.6,1901.2 L1768.2,1901.5 L1770.7,1902.2 L1773.1,1903.3 L1775.2,1904.8 L1777.2,1906.5 L1779.1,1908.3 L1780.9,1910.1 L1782.8,1911.9 L1784.7,1913.7 L1786.5,1915.6 L1788.2,1917.5 L1790.0,1919.4 L1791.8,1921.3 L1793.6,1923.1 L1795.5,1924.9 L1797.6,1926.5 L1799.6,1928.1 L1801.7,1929.6 L1803.8,1931.1 L1806.0,1932.5 L1808.3,1933.8 L1810.7,1934.7 L1813.3,1935.2 L1815.9,1935.2 L1818.4,1934.7 L1820.8,1933.6 L1822.8,1932.0 L1824.5,1930.0 L1825.9,1927.9 L1827.2,1925.6 L1828.3,1923.3 L1829.4,1920.9 L1830.4,1918.5 L1831.3,1916.0 L1832.2,1913.6 L1833.1,1911.2 L1834.0,1908.7 L1834.8,1906.3 L1835.7,1903.8 L1836.6,1901.4 L1837.5,1898.9 L1838.4,1896.5 L1839.3,1894.0 L1840.2,1891.6 L1841.0,1889.2 L1841.9,1886.7 L1842.7,1884.2 L1843.6,1881.8 L1844.4,1879.3 L1845.3,1876.9 L1846.1,1874.4 L1847.0,1872.0 L1847.9,1869.5 L1848.8,1867.1 L1849.7,1864.7 L1850.7,1862.2 L1851.7,1859.8 L1852.7,1857.5 L1853.8,1855.1 L1854.8,1852.7 L1855.9,1850.3 L1856.9,1847.9 L1858.0,1845.6 L1859.1,1843.2 L1860.3,1840.9 L1861.5,1838.6 L1862.7,1836.3 L1864.0,1834.0 L1865.3,1831.8 L1866.6,1829.6 L1868.1,1827.4 L1869.6,1825.3 L1871.2,1823.2 L1872.8,1821.2 L1874.6,1819.3 L1876.4,1817.4 L1878.2,1815.6 L1880.2,1813.9 L1882.2,1812.2 L1884.2,1810.6 L1886.3,1809.0 L1888.4,1807.6 L1890.6,1806.2 L1892.9,1804.9 L1895.2,1803.7 L1897.5,1802.5 L1899.9,1801.4 L1902.2,1800.3 L1904.6,1799.3 L1907.0,1798.2 L1909.4,1797.2 L1911.7,1796.1 L1914.0,1794.9 L1916.3,1793.7 L1918.6,1792.4 L1920.9,1791.1 L1923.1,1789.9 L1925.4,1788.6 L1927.7,1787.5 L1930.1,1786.4 L1932.6,1785.6 L1935.1,1784.9 L1937.6,1784.4 L1940.2,1784.0 L1942.8,1783.7 L1945.4,1783.6 L1948.0,1783.6 L1950.6,1783.7 L1953.2,1784.0 L1955.7,1784.7 L1958.1,1785.6 L1960.4,1786.8 L1962.7,1788.1 L1964.8,1789.6 L1966.7,1791.3 L1968.0,1793.6 L1969.2,1795.9 L1971.2,1797.4 L1973.8,1798.0 L1976.3,1798.3 L1978.9,1798.4 L1981.5,1798.4 L1984.1,1798.1 L1986.7,1797.6 L1989.1,1796.7 L1991.2,1795.2 L1992.8,1793.2 L1994.2,1790.9 L1995.4,1788.7 L1996.7,1786.4 L1998.1,1784.2 L1999.6,1782.1 L2001.3,1780.1 L2002.9,1778.1 L2004.6,1776.1 L2006.5,1774.3 L2008.5,1772.6 L2010.7,1771.2 L2013.0,1770.1 L2015.5,1769.2 L2018.0,1768.5 L2020.5,1768.0 L2023.1,1767.6 L2025.7,1767.4 L2028.3,1767.3 L2030.9,1767.4 L2033.4,1767.7 L2036.0,1768.2 L2038.5,1768.7 L2041.1,1769.4 L2043.6,1770.0 L2046.1,1770.7 L2048.6,1771.4 L2051.1,1772.1 L2053.6,1772.9 L2056.1,1773.7 L2058.5,1774.5 L2061.0,1775.4 L2063.4,1776.3 L2065.8,1777.3 L2068.2,1778.4 L2070.5,1779.5 L2072.8,1780.6 L2075.2,1781.8 L2077.5,1783.1 L2079.7,1784.3 L2082.0,1785.7 L2084.2,1787.0 L2086.3,1788.5 L2088.4,1790.1 L2090.3,1791.9 L2092.0,1793.8 L2093.7,1795.8 L2095.4,1797.7 L2097.3,1799.5 L2099.4,1801.0 L2101.9,1801.7 L2104.5,1801.5 L2106.9,1800.7 L2109.3,1799.7 L2111.8,1798.8 L2114.3,1798.4 L2116.9,1798.7 L2119.4,1799.6 L2121.7,1800.7 L2123.9,1802.0 L2126.0,1803.6 L2128.1,1805.2 L2130.0,1806.9 L2132.0,1808.6 L2133.9,1810.3 L2135.8,1812.1 L2137.6,1814.0 L2139.4,1815.8 L2141.2,1817.7 L2143.0,1819.7 L2144.7,1821.6 L2146.3,1823.6 L2148.0,1825.6 L2149.6,1827.7 L2151.2,1829.7 L2152.6,1831.9 L2154.1,1834.0 L2155.5,1836.2 L2156.9,1838.4 L2158.2,1840.7 L2159.5,1842.9 L2160.9,1845.1 L2162.2,1847.4 L2163.5,1849.6 L2164.8,1851.9 L2166.2,1854.1 L2167.5,1856.3 L2168.9,1858.5 L2170.4,1860.6 L2172.0,1862.7 L2173.6,1864.8 L2175.2,1866.8 L2176.9,1868.7 L2178.7,1870.6 L2180.7,1872.2 L2182.9,1873.7 L2185.1,1875.0 L2187.5,1876.1 L2189.9,1877.0 L2192.4,1877.7 L2195.0,1878.3 L2197.5,1878.8 L2200.1,1879.1 L2202.7,1879.4 L2205.3,1879.5 L2207.9,1879.5 L2210.5,1879.3 L2213.0,1879.0 L2215.6,1878.6 L2218.2,1878.3 L2220.8,1877.9 L2223.4,1877.7 L2226.0,1877.6 L2228.6,1877.7 L2231.1,1878.0 L2233.6,1878.7 L2235.6,1880.4 L2237.1,1882.5 L2238.5,1884.7 L2239.7,1887.0 L2240.9,1889.3 L2241.9,1891.7 L2242.9,1894.1 L2243.8,1896.5 L2244.7,1899.0 L2245.5,1901.4 L2246.2,1903.9 L2246.9,1906.4 L2247.6,1908.9 L2248.2,1911.5 L2248.9,1914.0 L2249.4,1916.5 L2250.0,1919.1 L2250.5,1921.6 L2251.0,1924.2 L2251.5,1926.7 L2252.0,1929.3 L2252.4,1931.8 L2252.9,1934.4 L2253.3,1937.0 L2253.7,1939.5 L2254.1,1942.1 L2254.6,1944.7 L2255.0,1947.2 L2255.3,1949.8 L2255.7,1952.4 L2256.1,1954.9 L2256.5,1957.5 L2256.8,1960.1 L2257.2,1962.7 L2257.5,1965.3 L2257.8,1967.8 L2258.2,1970.4 L2258.5,1973.0 L2258.8,1975.6 L2259.1,1978.1 L2259.5,1980.7 L2259.8,1983.3 L2260.1,1985.9 L2260.5,1988.5 L2260.8,1991.0 L2261.1,1993.6 L2261.4,1996.2 L2261.8,1998.8 L2262.1,2001.4 L2262.5,2003.9 L2262.8,2006.5 L2263.2,2009.1 L2263.5,2011.7 L2263.9,2014.2 L2264.2,2016.8 L2264.6,2019.4 L2264.9,2022.0 L2265.3,2024.5 L2265.6,2027.1 L2266.0,2029.7 L2266.3,2032.3 L2266.7,2034.9 L2267.0,2037.4 L2267.4,2040.0 L2267.7,2042.6 L2268.1,2045.2 L2268.4,2047.7 L2268.8,2050.3 L2269.1,2052.9 L2269.5,2055.5 L2269.8,2058.0 L2270.2,2060.6 L2270.5,2063.2 L2270.9,2065.8 L2271.2,2068.0" fill="none" stroke="#fdf3f2" stroke-width="15" stroke-linejoin="round" stroke-linecap="round"/>
<path d="M186.5,354.1 L189.1,354.0 L191.7,353.9 L194.3,353.9 L196.9,353.4 L199.5,354.3 L202.1,354.4 L204.7,353.9 L207.3,352.7 L209.9,353.4 L212.5,352.9 L215.1,352.6 L217.7,354.0 L220.3,353.8 L222.9,352.4 L225.5,353.1 L228.1,352.8 L230.7,352.7 L233.3,352.4 L235.9,352.8 L238.5,352.2 L241.1,352.9 L243.7,352.8 L246.3,350.2 L248.9,353.0 L251.4,353.8 L254.0,353.5 L256.6,351.5 L259.2,348.5 L261.8,348.1 L264.4,348.4 L267.0,352.1 L269.6,348.8 L272.1,348.9 L274.7,351.2 L277.3,348.2 L279.9,349.2 L282.5,348.5 L285.1,346.5 L287.7,348.8 L290.3,349.9 L292.9,346.4 L295.5,346.6 L298.1,347.3 L300.7,345.3 L303.3,347.4 L305.9,348.7 L308.5,347.8 L311.1,347.0 L313.6,348.3 L316.2,344.8 L318.8,346.6 L321.4,345.4 L324.0,346.3 L326.6,343.8 L329.2,346.7 L331.8,343.2 L334.4,343.2 L336.9,345.8 L339.3,345.4 L340.6,341.0 L343.2,340.7 L345.8,339.8 L348.4,339.9 L351.0,341.7 L353.6,339.6 L356.2,339.5 L358.8,341.2 L361.4,339.9 L364.0,342.4 L366.6,343.3 L369.2,343.1 L371.8,341.7 L374.4,341.1 L377.0,341.4 L379.6,339.1 L382.2,342.3 L384.8,340.2 L387.3,339.8 L389.9,338.3 L392.5,339.8 L395.1,340.1 L397.7,338.9 L400.3,341.0 L402.9,340.0 L405.5,337.8 L408.1,339.2 L410.7,341.0 L413.3,339.2 L415.9,339.7 L418.5,337.2 L421.1,339.3 L423.7,339.3 L426.3,339.1 L428.9,339.2 L431.4,340.1 L434.0,340.1 L436.6,340.3 L439.2,339.2 L441.7,341.2 L444.2,343.7 L446.7,342.5 L449.2,342.6 L451.7,343.7 L454.2,345.0 L456.7,345.7 L459.2,346.5 L461.7,347.2 L464.2,347.9 L466.7,348.6 L469.2,349.2 L471.7,349.8 L474.3,350.3 L476.8,350.8 L479.4,351.2 L482.0,351.6 L484.6,351.9 L487.1,352.2 L489.7,352.5 L492.3,352.8 L494.9,353.0 L497.5,353.3 L500.1,353.5 L502.7,353.8 L505.3,354.0 L507.8,354.3 L510.4,354.5 L513.0,354.8 L515.6,355.0 L518.2,355.3 L520.8,355.5 L523.4,355.8 L526.0,356.0 L528.5,356.2 L531.1,356.5 L533.7,356.7 L536.3,356.9 L538.9,357.2 L541.5,357.4 L544.1,357.6 L546.7,357.8 L549.3,358.1 L551.9,358.3 L554.4,358.5 L557.0,358.7 L559.6,358.9 L562.2,359.1 L564.8,359.3 L567.4,359.5 L570.0,359.7 L572.6,359.9 L575.2,360.1 L577.8,360.2 L580.4,360.4 L583.0,360.6 L585.6,360.7 L588.2,360.9 L590.8,361.0 L593.4,361.1 L596.0,361.3 L598.6,361.4 L601.1,361.5 L603.7,361.6 L606.3,361.7 L608.9,361.8 L611.5,361.8 L614.1,361.9 L616.7,362.0 L619.3,362.0 L621.9,362.0 L624.5,362.1 L627.1,362.1 L629.7,362.1 L632.3,362.1 L634.9,362.1 L637.5,362.1 L640.1,362.0 L642.7,362.0 L645.3,361.9 L647.9,361.9 L650.5,361.8 L653.1,361.8 L655.7,361.7 L658.3,361.6 L660.9,361.5 L663.5,361.5 L666.1,361.4 L668.7,361.3 L671.3,361.2 L673.9,361.1 L676.5,360.9 L679.1,360.8 L681.7,360.7 L684.3,360.6 L686.9,360.4 L689.5,360.3 L692.1,360.2 L694.7,360.0 L697.3,359.9 L699.9,359.7 L702.5,359.6 L705.1,359.4 L707.7,359.3 L710.3,359.1 L712.9,359.0 L715.5,358.9 L718.1,358.7 L720.7,358.6 L723.3,358.5 L725.9,358.3 L728.4,358.2 L731.0,358.1 L733.6,358.0 L736.2,357.9 L738.8,357.8 L741.4,357.7 L744.0,357.7 L746.6,357.7 L749.2,357.6 L751.8,357.6 L754.4,357.6 L757.0,357.6 L759.6,357.6 L762.2,357.5 L764.8,357.5 L767.4,357.4 L770.0,357.3 L772.6,357.2 L775.2,357.0 L777.8,356.9 L780.4,356.7 L783.0,356.4 L785.6,356.2 L788.2,355.9 L790.8,355.6 L793.3,355.3 L795.9,355.0 L798.5,354.7 L801.1,354.3 L803.7,354.0 L806.2,353.6 L808.8,353.3 L811.4,352.9 L814.0,352.5 L816.5,352.2 L819.1,351.8 L821.7,351.5 L824.3,351.1 L826.8,350.7 L829.4,350.4 L832.0,350.0 L834.6,349.7 L837.1,349.4 L839.7,349.0 L842.3,348.7 L844.9,348.4 L847.5,348.0 L850.0,347.7 L852.6,347.4 L855.2,347.1 L857.8,346.7 L860.4,346.4 L862.9,346.1 L865.5,345.8 L868.1,345.4 L870.7,345.1 L873.3,344.8 L875.8,344.5 L878.4,344.1 L881.0,343.8 L883.6,343.4 L886.1,343.1 L888.7,342.8 L891.3,342.4 L893.9,342.1 L896.5,341.7 L899.0,341.4 L901.6,341.0 L904.2,340.6 L906.7,340.3 L909.3,339.9 L911.9,339.5 L914.5,339.1 L917.0,338.7 L919.6,338.3 L922.2,337.8 L924.7,337.4 L927.3,337.0 L929.9,336.6 L932.4,336.1 L935.0,335.7 L937.5,335.2 L940.1,334.8 L942.7,334.3 L945.2,333.9 L947.8,333.5 L950.4,333.1 L952.9,332.6 L955.5,332.2 L958.1,331.8 L960.6,331.4 L963.2,331.1 L965.8,330.7 L968.3,330.3 L970.9,330.0 L973.5,329.6 L976.1,329.3 L978.7,328.9 L981.2,328.6 L983.8,328.4 L986.4,328.1 L989.0,327.9 L991.6,327.8 L994.2,328.0 L996.5,329.0 L998.8,330.2 L1001.4,330.4 L1004.0,330.1 L1006.5,329.5 L1009.0,328.9 L1011.5,328.2 L1014.1,327.5 L1016.5,326.8 L1019.0,326.1 L1021.5,325.3 L1024.0,324.5 L1026.5,323.8 L1029.0,323.0 L1031.5,322.2 L1033.9,321.5 L1036.4,320.7 L1038.9,320.0 L1041.4,319.3 L1043.9,318.5 L1046.4,317.9 L1049.0,317.3 L1051.5,316.7 L1054.0,316.1 L1056.6,315.6 L1059.1,315.1 L1061.7,314.6 L1064.2,314.2 L1066.8,313.7 L1069.4,313.3 L1071.9,312.9 L1074.5,312.5 L1077.1,312.2 L1079.7,311.8 L1082.2,311.5 L1084.8,311.1 L1087.4,310.8 L1090.0,310.5 L1092.6,310.2 L1095.2,309.9 L1097.7,309.7 L1100.3,309.5 L1102.9,309.3 L1105.5,309.1 L1108.1,308.9 L1110.7,308.7 L1113.3,308.5 L1115.9,308.3 L1118.5,308.0 L1121.1,307.8 L1123.6,307.4 L1126.2,307.0 L1128.8,306.6 L1131.3,306.1 L1133.9,305.6 L1136.4,305.0 L1138.9,304.5 L1141.5,303.9 L1144.0,303.3 L1146.5,302.7 L1149.1,302.1 L1151.6,301.5 L1154.2,300.8 L1156.8,300.3 L1159.4,300.6 L1162.0,302.0 L1164.3,301.9 L1166.4,303.4 L1168.3,305.1 L1169.7,307.5 L1171.0,309.6 L1172.4,312.5 L1174.5,314.3 L1176.5,312.3 L1177.9,309.3 L1179.1,307.7 L1180.2,306.1 L1181.3,301.6 L1182.6,299.5 L1184.1,298.5 L1186.2,298.9 L1187.4,301.0 L1188.2,303.3 L1189.1,306.5 L1190.3,307.8 L1192.4,310.1 L1194.9,310.2 L1197.3,307.7 L1199.6,307.8 L1202.1,306.5 L1204.6,306.4 L1207.2,303.5 L1209.7,305.4 L1212.3,304.5 L1214.8,304.5 L1217.3,304.0 L1219.9,301.4 L1222.4,301.8 L1224.8,299.4 L1227.2,299.7 L1229.5,299.4 L1231.7,296.0 L1233.9,295.0 L1236.0,292.7 L1238.1,291.6 L1240.3,290.2 L1242.6,288.6 L1244.9,289.9 L1247.3,288.7 L1249.8,286.7 L1252.3,286.8 L1254.8,286.0 L1257.4,285.0 L1259.9,284.1 L1262.4,284.2 L1264.9,283.2 L1267.4,281.5 L1269.6,280.5 L1271.4,279.4 L1272.8,277.1 L1274.7,274.7 L1276.4,277.7 L1277.9,280.5 L1280.4,280.8 L1282.7,279.1 L1284.9,276.1 L1287.1,275.6 L1289.2,273.1 L1291.2,271.5 L1293.3,270.4 L1295.3,269.3 L1297.3,268.5 L1299.2,266.4 L1301.0,263.6 L1302.5,262.6 L1303.4,259.6 L1304.2,257.2 L1306.2,254.9 L1308.7,255.4 L1311.1,256.2 L1313.3,258.5 L1315.4,259.4 L1317.3,261.1 L1319.2,262.9 L1321.1,264.7 L1323.1,266.8 L1325.0,268.5 L1327.0,270.0 L1329.2,271.3 L1331.4,272.6 L1333.9,273.4 L1336.5,273.7 L1339.0,273.5 L1341.6,273.0 L1344.1,272.3 L1346.6,271.5 L1349.1,270.7 L1351.6,270.1 L1354.1,269.7 L1356.7,269.4 L1359.3,269.2 L1361.9,269.0 L1364.5,268.7 L1367.0,268.1 L1369.4,267.1 L1371.5,265.6 L1373.2,263.6 L1374.5,261.3 L1375.6,259.1 L1376.8,256.9 L1378.1,254.7 L1379.7,252.6 L1381.6,250.1 L1383.8,249.9 L1386.0,248.8 L1388.5,245.8 L1391.1,246.2 L1393.6,246.4 L1396.1,248.7 L1398.3,249.5 L1400.5,249.9 L1402.6,251.1 L1404.8,252.4 L1407.2,253.3 L1409.7,255.8 L1411.5,254.5 L1412.4,249.8 L1413.2,248.9 L1413.9,247.1 L1415.3,242.5 L1417.4,242.3 L1419.9,241.0 L1422.4,242.3 L1425.0,241.9 L1427.6,239.3 L1430.1,240.4 L1432.4,243.8 L1434.4,244.5 L1436.5,245.9 L1438.9,247.9 L1441.3,248.7 L1443.8,250.1 L1446.3,248.6 L1448.9,248.0 L1451.5,250.0 L1454.1,247.8 L1456.7,249.1 L1459.3,249.7 L1461.8,247.9 L1464.4,248.0 L1467.0,246.7 L1469.5,246.4 L1472.1,246.4 L1474.6,245.8 L1477.2,245.5 L1479.7,244.4 L1482.2,244.7 L1484.8,243.6 L1487.3,242.7 L1489.8,242.1 L1492.3,241.9 L1494.9,240.7 L1497.4,239.6 L1499.9,240.7 L1502.4,239.7 L1505.0,239.0 L1507.5,238.7 L1510.1,238.9 L1512.7,236.5 L1515.2,237.7 L1517.8,237.3 L1520.4,235.9 L1523.0,236.1 L1525.6,235.6 L1528.1,234.7 L1530.7,235.0 L1533.3,234.1 L1535.9,235.7 L1538.5,233.6 L1541.1,234.4 L1543.6,233.9 L1546.2,235.1 L1548.8,233.9 L1551.3,231.7 L1553.9,231.3 L1556.4,229.4 L1559.0,228.9 L1561.5,229.4 L1564.1,231.5 L1566.6,227.5 L1569.2,227.6 L1571.8,229.1 L1574.4,227.7 L1577.0,226.8 L1579.5,229.6 L1582.1,225.9 L1584.7,228.1 L1587.3,227.6 L1589.9,227.7 L1592.4,227.9 L1594.8,228.7 L1597.1,230.9 L1599.3,233.7 L1601.5,234.0 L1603.5,236.8 L1605.5,238.9 L1607.4,237.8 L1609.3,242.4 L1611.2,243.0 L1613.1,244.1 L1615.1,246.2 L1617.0,249.5 L1618.9,249.3 L1620.7,249.9 L1622.7,255.1 L1624.7,253.4 L1626.8,255.1 L1629.1,258.3 L1631.5,258.1 L1634.0,258.9 L1636.5,260.0 L1638.9,261.0 L1641.2,262.2 L1643.3,264.0 L1645.3,265.5 L1647.3,267.2 L1649.2,268.9 L1651.0,269.7 L1652.8,271.8 L1654.5,275.0 L1656.0,277.2 L1657.5,277.7 L1659.0,281.3 L1660.4,283.0 L1661.9,285.5 L1663.4,287.1 L1665.0,288.6 L1666.6,291.0 L1668.4,294.7 L1670.1,294.4 L1671.9,298.2 L1673.9,298.9 L1676.2,298.9 L1678.7,301.3 L1681.1,298.2 L1683.2,299.0 L1685.3,296.0 L1687.4,295.9 L1689.7,294.1 L1692.0,292.4 L1694.4,291.8 L1696.8,291.0 L1699.3,289.7 L1701.7,288.8 L1704.1,287.8 L1706.6,287.0 L1709.1,286.3 L1711.6,285.7 L1714.1,284.9 L1716.4,283.7 L1718.5,282.2 L1720.3,280.4 L1722.0,278.4 L1723.7,276.4 L1725.2,274.3 L1726.7,272.2 L1728.2,270.1 L1729.8,268.0 L1731.3,265.9 L1732.8,263.8 L1734.3,261.6 L1735.8,259.5 L1737.2,257.3 L1738.7,255.1 L1740.2,253.0 L1741.8,251.0 L1743.5,249.0 L1745.4,247.2 L1747.3,245.5 L1749.4,243.9 L1751.6,242.6 L1754.1,241.7 L1756.6,241.1 L1759.2,240.8 L1761.8,240.8 L1764.4,240.9 L1766.9,241.2 L1769.5,241.7 L1772.0,242.2 L1774.6,242.9 L1777.0,243.7 L1779.4,244.8 L1781.6,246.2 L1783.6,247.9 L1785.5,249.6 L1787.5,251.3 L1789.4,253.0 L1791.5,254.6 L1793.5,256.3 L1795.5,257.9 L1797.5,259.6 L1799.5,261.3 L1801.5,262.9 L1803.5,264.6 L1805.4,266.3 L1807.4,268.0 L1809.4,269.7 L1811.3,271.4 L1813.2,273.3 L1815.0,275.1 L1816.8,277.0 L1818.6,278.8 L1820.5,280.6 L1822.5,282.3 L1824.6,283.8 L1827.0,284.7 L1829.6,284.9 L1831.9,283.7 L1833.7,281.8 L1835.1,279.6 L1836.3,277.3 L1837.2,274.9 L1838.1,272.5 L1838.9,270.0 L1839.7,267.5 L1840.4,265.0 L1841.1,262.5 L1841.9,260.0 L1842.6,257.5 L1843.4,255.0 L1844.2,252.6 L1845.0,250.1 L1845.8,247.6 L1846.6,245.2 L1847.5,242.7 L1848.3,240.2 L1849.1,237.8 L1849.9,235.3 L1850.8,232.8 L1851.6,230.4 L1852.5,227.9 L1853.4,225.5 L1854.3,223.0 L1855.2,220.6 L1856.2,218.2 L1857.3,215.9 L1858.4,213.5 L1859.6,211.2 L1860.8,208.9 L1862.1,206.6 L1863.4,204.4 L1864.8,202.2 L1866.3,200.0 L1867.8,197.9 L1869.3,195.8 L1870.9,193.8 L1872.6,191.8 L1874.3,189.9 L1876.1,188.0 L1878.0,186.2 L1880.0,184.5 L1882.1,182.9 L1884.2,181.4 L1886.3,180.0 L1888.5,178.6 L1890.7,177.2 L1892.9,175.8 L1895.2,174.5 L1897.4,173.2 L1899.7,172.0 L1902.0,170.8 L1904.4,169.6 L1906.7,168.5 L1909.0,167.4 L1911.4,166.3 L1913.8,165.2 L1916.1,164.1 L1918.5,163.0 L1920.8,161.9 L1923.2,160.8 L1925.6,159.8 L1928.0,158.9 L1930.5,158.0 L1933.0,157.4 L1935.5,156.8 L1938.1,156.3 L1940.7,155.9 L1943.2,155.6 L1945.8,155.4 L1948.4,155.2 L1951.0,155.1 L1953.6,155.2 L1956.2,155.6 L1958.6,156.5 L1960.9,157.8 L1963.1,159.1 L1965.1,160.8 L1967.0,162.6 L1968.9,164.3 L1971.1,165.8 L1973.2,167.3 L1975.3,168.7 L1977.8,169.7 L1980.3,169.6 L1982.7,168.7 L1984.9,167.3 L1987.0,165.8 L1989.2,164.2 L1991.3,162.8 L1993.6,161.5 L1995.8,160.1 L1998.0,158.8 L2000.3,157.5 L2002.6,156.3 L2004.9,155.1 L2007.2,153.9 L2009.5,152.7 L2011.8,151.6 L2014.2,150.6 L2016.7,149.8 L2019.2,149.2 L2021.8,148.7 L2024.4,148.4 L2027.0,148.2 L2029.6,148.2 L2032.2,148.1 L2034.8,148.2 L2037.4,148.3 L2040.0,148.4 L2042.6,148.6 L2045.1,148.9 L2047.7,149.2 L2050.3,149.6 L2052.8,150.1 L2055.4,150.6 L2057.9,151.3 L2060.4,152.0 L2062.9,152.8 L2065.3,153.7 L2067.7,154.7 L2070.1,155.7 L2072.5,156.8 L2074.8,157.9 L2077.1,159.1 L2079.4,160.4 L2081.6,161.7 L2083.8,163.2 L2085.9,164.7 L2088.0,166.3 L2090.0,167.8 L2092.1,169.4 L2094.2,171.0 L2096.0,172.8 L2097.7,174.8 L2099.7,176.5 L2102.0,177.5 L2104.6,177.2 L2106.9,176.0 L2109.0,174.5 L2111.3,173.2 L2113.7,172.4 L2116.3,172.4 L2118.8,173.0 L2121.3,173.9 L2123.6,175.0 L2125.9,176.2 L2128.2,177.5 L2130.4,178.9 L2132.6,180.3 L2134.7,181.8 L2136.8,183.3 L2138.9,184.8 L2140.9,186.4 L2143.0,188.1 L2144.9,189.8 L2146.8,191.5 L2148.7,193.3 L2150.6,195.2 L2152.4,197.1 L2154.1,199.0 L2155.8,201.0 L2157.4,203.0 L2158.9,205.1 L2160.4,207.3 L2161.8,209.4 L2163.3,211.6 L2164.7,213.8 L2166.1,215.9 L2167.5,218.1 L2169.0,220.3 L2170.5,222.4 L2172.1,224.4 L2173.8,226.4 L2175.6,228.3 L2177.5,230.0 L2179.5,231.7 L2181.6,233.2 L2183.8,234.6 L2186.1,235.9 L2188.3,237.2 L2190.7,238.3 L2193.0,239.5 L2195.3,240.6 L2197.7,241.7 L2200.1,242.8 L2202.5,243.7 L2204.9,244.6 L2207.4,245.4 L2209.9,246.1 L2212.5,246.6 L2215.1,246.8 L2217.5,246.1 L2219.7,244.7 L2221.9,243.3 L2224.4,242.8 L2227.0,242.6 L2229.6,242.6 L2232.2,243.2 L2234.4,244.5 L2236.4,246.2 L2238.2,248.1 L2239.8,250.1 L2241.3,252.2 L2242.7,254.4 L2244.0,256.6 L2245.2,258.9 L2246.3,261.3 L2247.3,263.7 L2248.3,266.1 L2249.1,268.6 L2249.9,271.0 L2250.7,273.5 L2251.5,276.0 L2252.2,278.5 L2252.9,281.0 L2253.6,283.5 L2254.2,286.0 L2254.9,288.6 L2255.5,291.1 L2256.1,293.6 L2256.7,296.1 L2257.3,298.7 L2257.9,301.2 L2258.5,303.7 L2259.1,306.3 L2259.6,308.8 L2260.2,311.3 L2260.7,313.9 L2261.2,316.4 L2261.7,319.0 L2262.2,321.5 L2262.7,324.1 L2263.1,326.7 L2263.5,329.2 L2264.0,331.8 L2264.4,334.4 L2264.7,336.9 L2265.1,339.5 L2265.4,342.1 L2265.8,344.7 L2266.1,347.2 L2266.4,349.8 L2266.7,352.4 L2267.0,355.0 L2267.3,357.6 L2267.6,360.2 L2267.9,362.7 L2268.2,365.3 L2268.4,367.9 L2268.7,370.5 L2269.0,373.1 L2269.3,375.7 L2269.5,378.3 L2269.8,380.8 L2270.1,383.4 L2270.2,384.4" fill="none" stroke="#f9e2e0" stroke-width="8" stroke-linejoin="round" stroke-linecap="round"/>
<path d="M186.5,968.3 L189.1,968.2 L191.7,968.2 L194.3,968.5 L196.9,968.0 L199.5,968.0 L202.1,968.1 L204.7,967.1 L207.3,967.8 L209.9,968.0 L212.5,968.4 L215.1,966.6 L217.7,967.1 L220.3,966.8 L222.9,967.7 L225.5,967.4 L228.1,967.0 L230.7,967.2 L233.3,967.4 L235.9,967.1 L238.5,967.0 L241.1,965.3 L243.7,964.2 L246.3,966.3 L248.8,963.8 L251.4,964.1 L254.0,964.1 L256.6,962.7 L259.2,964.5 L261.8,964.1 L264.3,965.7 L266.9,963.9 L269.5,964.2 L272.1,963.3 L274.7,963.9 L277.3,962.7 L279.9,961.6 L282.5,964.8 L285.1,964.6 L287.6,963.7 L290.2,962.8 L292.8,960.8 L295.4,960.2 L298.0,960.2 L300.6,959.0 L303.2,962.1 L305.8,960.2 L308.4,962.1 L311.0,959.7 L313.6,962.2 L316.2,961.4 L318.7,957.1 L321.3,957.9 L323.9,961.0 L326.5,958.6 L329.1,960.7 L331.7,957.6 L334.2,955.5 L336.7,957.5 L338.9,956.9 L339.6,952.1 L341.5,949.7 L344.0,950.5 L346.6,953.4 L349.2,952.4 L351.8,949.4 L354.4,950.1 L357.0,949.6 L359.6,949.5 L362.2,953.2 L364.8,950.4 L367.4,952.3 L370.0,951.8 L372.6,950.6 L375.2,953.1 L377.8,950.0 L380.4,952.2 L382.9,949.3 L385.5,950.3 L388.1,948.8 L390.6,948.6 L393.2,951.5 L395.7,950.2 L398.3,947.5 L400.9,950.0 L403.5,946.5 L406.1,947.3 L408.7,949.4 L411.3,948.4 L413.9,945.8 L416.5,950.1 L419.1,946.5 L421.7,946.8 L424.3,949.4 L426.9,947.4 L429.5,947.4 L432.0,946.5 L434.6,947.0 L437.1,950.0 L439.6,949.1 L442.1,951.5 L444.6,951.5 L447.0,952.7 L449.4,954.6 L451.9,954.7 L454.3,955.7 L456.7,956.7 L459.1,957.6 L461.5,958.6 L464.0,959.5 L466.4,960.4 L468.9,961.2 L471.3,962.0 L473.8,962.7 L476.3,963.4 L478.9,964.0 L481.4,964.6 L483.9,965.2 L486.5,965.7 L489.0,966.2 L491.6,966.7 L494.2,967.1 L496.7,967.5 L499.3,967.9 L501.9,968.4 L504.4,968.8 L507.0,969.2 L509.6,969.7 L512.1,970.1 L514.7,970.5 L517.2,970.9 L519.8,971.3 L522.4,971.8 L524.9,972.2 L527.5,972.6 L530.1,973.0 L532.7,973.4 L535.2,973.8 L537.8,974.2 L540.4,974.6 L542.9,975.0 L545.5,975.4 L548.1,975.8 L550.6,976.1 L553.2,976.5 L555.8,976.9 L558.4,977.2 L560.9,977.6 L563.5,977.9 L566.1,978.2 L568.7,978.5 L571.3,978.8 L573.9,979.1 L576.4,979.4 L579.0,979.7 L581.6,979.9 L584.2,980.2 L586.8,980.4 L589.4,980.6 L592.0,980.8 L594.6,981.0 L597.2,981.2 L599.8,981.4 L602.3,981.5 L604.9,981.6 L607.5,981.7 L610.1,981.8 L612.7,981.9 L615.3,981.9 L617.9,982.0 L620.5,982.0 L623.1,982.0 L625.7,982.0 L628.3,981.9 L630.9,981.9 L633.5,981.8 L636.1,981.7 L638.7,981.5 L641.3,981.4 L643.9,981.2 L646.5,981.1 L649.1,980.9 L651.7,980.7 L654.3,980.6 L656.9,980.4 L659.5,980.2 L662.1,980.1 L664.7,979.9 L667.3,979.7 L669.9,979.6 L672.5,979.4 L675.1,979.3 L677.7,979.1 L680.3,979.0 L682.8,978.8 L685.4,978.7 L688.0,978.5 L690.6,978.4 L693.2,978.2 L695.8,978.1 L698.4,977.9 L701.0,977.7 L703.6,977.6 L706.2,977.4 L708.8,977.2 L711.4,977.0 L714.0,976.9 L716.6,976.7 L719.2,976.5 L721.8,976.3 L724.4,976.1 L726.9,975.9 L729.5,975.7 L732.1,975.5 L734.7,975.2 L737.3,975.0 L739.9,974.8 L742.5,974.5 L745.1,974.2 L747.7,973.9 L750.2,973.7 L752.8,973.4 L755.4,973.0 L758.0,972.7 L760.6,972.4 L763.1,972.1 L765.7,971.7 L768.3,971.4 L770.9,971.0 L773.4,970.7 L776.0,970.3 L778.6,970.0 L781.2,969.6 L783.8,969.3 L786.3,968.9 L788.9,968.6 L791.5,968.2 L794.1,967.9 L796.6,967.5 L799.2,967.2 L801.8,966.8 L804.4,966.4 L806.9,966.1 L809.5,965.7 L812.1,965.3 L814.6,964.9 L817.2,964.5 L819.8,964.1 L822.4,963.7 L824.9,963.3 L827.5,962.9 L830.1,962.5 L832.6,962.0 L835.2,961.6 L837.7,961.2 L840.3,960.7 L842.9,960.3 L845.4,959.8 L848.0,959.4 L850.5,958.9 L853.1,958.4 L855.7,958.0 L858.2,957.5 L860.8,957.0 L863.3,956.5 L865.9,956.0 L868.4,955.6 L871.0,955.1 L873.5,954.6 L876.1,954.1 L878.7,953.6 L881.2,953.1 L883.8,952.6 L886.3,952.2 L888.9,951.7 L891.4,951.2 L894.0,950.7 L896.5,950.2 L899.1,949.7 L901.6,949.3 L904.2,948.8 L906.8,948.3 L909.3,947.9 L911.9,947.4 L914.4,946.9 L917.0,946.5 L919.6,946.0 L922.1,945.6 L924.7,945.1 L927.2,944.7 L929.8,944.2 L932.4,943.8 L934.9,943.4 L937.5,942.9 L940.0,942.5 L942.6,942.0 L945.2,941.5 L947.7,941.1 L950.3,940.6 L952.8,940.1 L955.4,939.6 L957.9,939.1 L960.5,938.5 L963.0,938.0 L965.5,937.4 L968.1,936.7 L970.6,936.0 L973.1,935.3 L975.6,934.6 L978.1,933.9 L980.6,933.2 L983.1,932.5 L985.6,931.8 L988.1,931.2 L990.7,930.8 L993.3,930.7 L995.7,931.5 L997.5,933.4 L999.8,934.4 L1002.4,934.3 L1004.9,933.8 L1007.4,933.1 L1009.9,932.2 L1012.3,931.3 L1014.7,930.3 L1017.1,929.3 L1019.5,928.4 L1021.9,927.3 L1024.3,926.3 L1026.7,925.3 L1029.1,924.3 L1031.5,923.2 L1033.9,922.2 L1036.3,921.2 L1038.7,920.2 L1041.1,919.3 L1043.5,918.3 L1046.0,917.5 L1048.4,916.6 L1050.9,915.8 L1053.4,915.1 L1055.9,914.4 L1058.4,913.8 L1061.0,913.2 L1063.5,912.6 L1066.0,912.0 L1068.6,911.5 L1071.1,911.1 L1073.7,910.6 L1076.3,910.1 L1078.8,909.7 L1081.4,909.3 L1084.0,908.9 L1086.5,908.4 L1089.1,908.0 L1091.7,907.6 L1094.2,907.2 L1096.8,906.9 L1099.4,906.5 L1102.0,906.2 L1104.6,906.0 L1107.1,905.7 L1109.7,905.4 L1112.3,905.1 L1114.9,904.7 L1117.5,904.4 L1120.0,904.0 L1122.6,903.5 L1125.1,903.0 L1127.7,902.4 L1130.2,901.7 L1132.6,900.9 L1135.1,900.1 L1137.6,899.3 L1140.0,898.4 L1142.5,897.6 L1144.9,896.7 L1147.4,895.9 L1149.9,895.1 L1152.4,894.5 L1154.9,893.4 L1157.5,892.8 L1160.0,894.0 L1162.6,894.6 L1164.6,894.8 L1166.2,896.6 L1168.0,900.1 L1169.2,902.9 L1170.3,903.2 L1171.4,907.6 L1172.7,909.7 L1174.8,909.9 L1176.4,907.4 L1177.5,904.1 L1178.4,901.5 L1179.3,901.7 L1180.1,897.2 L1180.9,896.0 L1181.8,892.3 L1182.8,891.5 L1184.0,888.6 L1185.9,887.8 L1186.8,889.9 L1187.5,894.0 L1188.0,894.7 L1188.5,897.7 L1189.0,901.1 L1189.7,904.5 L1190.6,906.2 L1192.6,906.7 L1194.9,907.4 L1196.7,903.6 L1198.6,901.2 L1200.6,900.3 L1202.9,899.6 L1205.4,897.7 L1208.0,897.5 L1210.5,897.6 L1213.1,897.7 L1215.6,895.9 L1218.1,895.9 L1220.6,896.6 L1223.0,895.9 L1225.3,893.8 L1227.5,892.4 L1229.5,890.5 L1231.4,887.5 L1233.3,885.4 L1235.1,883.5 L1236.8,884.1 L1238.6,881.6 L1240.4,880.4 L1242.2,875.9 L1244.1,875.9 L1246.1,873.8 L1248.2,872.9 L1250.5,870.6 L1252.9,871.6 L1255.5,868.4 L1258.0,869.3 L1260.6,869.5 L1263.2,869.7 L1265.8,868.8 L1268.1,867.6 L1270.0,866.1 L1271.3,864.2 L1272.2,860.2 L1273.4,858.8 L1275.6,859.3 L1277.1,861.3 L1278.6,862.1 L1280.8,864.5 L1283.2,863.9 L1285.3,861.6 L1287.2,860.0 L1289.1,857.6 L1290.9,856.3 L1292.7,854.4 L1294.4,851.0 L1296.1,850.6 L1297.7,849.5 L1299.3,847.1 L1300.7,844.5 L1301.8,841.2 L1302.6,839.7 L1303.1,836.8 L1303.5,833.8 L1304.0,832.3 L1304.8,827.8 L1306.8,828.1 L1309.1,827.1 L1311.1,830.4 L1313.0,831.8 L1314.7,833.0 L1316.4,836.3 L1317.9,837.9 L1319.5,840.2 L1321.0,842.8 L1322.6,843.8 L1324.2,845.7 L1325.8,848.1 L1327.5,850.3 L1329.4,851.9 L1331.5,853.5 L1333.8,854.6 L1336.4,854.8 L1339.0,854.4 L1341.4,853.5 L1343.8,852.4 L1346.1,851.3 L1348.4,850.1 L1350.8,849.0 L1353.3,848.4 L1355.8,848.0 L1358.4,847.9 L1361.0,847.9 L1363.6,847.8 L1366.2,847.3 L1368.6,846.3 L1370.6,844.7 L1372.1,842.6 L1373.3,840.3 L1374.2,837.9 L1375.0,835.4 L1375.8,833.0 L1376.6,830.5 L1377.5,828.0 L1378.5,825.9 L1379.8,823.2 L1381.5,821.6 L1383.4,819.1 L1385.7,818.2 L1388.1,818.3 L1390.7,818.4 L1393.2,818.5 L1395.6,817.9 L1397.8,820.0 L1399.8,820.8 L1401.8,821.9 L1403.8,824.7 L1405.9,827.3 L1408.4,828.1 L1410.6,826.6 L1411.6,825.0 L1412.3,820.3 L1412.8,817.4 L1413.3,815.8 L1413.9,812.7 L1414.7,810.0 L1416.1,808.6 L1418.3,807.9 L1420.8,806.8 L1423.4,806.1 L1426.0,808.0 L1428.6,809.0 L1430.9,808.5 L1432.8,809.0 L1434.5,810.8 L1436.4,815.3 L1438.5,814.1 L1440.9,817.3 L1443.3,817.7 L1445.9,817.4 L1448.5,819.1 L1451.1,816.7 L1453.7,816.9 L1456.2,817.7 L1458.8,816.0 L1461.4,818.1 L1464.0,816.1 L1466.5,815.7 L1469.1,815.3 L1471.6,815.4 L1474.2,814.8 L1476.7,814.2 L1479.2,813.7 L1481.8,813.2 L1484.2,812.8 L1486.7,811.7 L1489.2,809.9 L1491.7,809.7 L1494.1,808.2 L1496.6,807.0 L1499.1,807.3 L1501.6,807.1 L1504.1,805.1 L1506.6,804.6 L1509.1,804.1 L1511.6,804.3 L1514.1,803.3 L1516.7,803.0 L1519.2,802.8 L1521.8,801.4 L1524.3,801.9 L1526.9,801.7 L1529.4,799.3 L1532.0,800.9 L1534.6,799.9 L1537.1,798.0 L1539.7,798.2 L1542.2,798.2 L1544.7,798.8 L1547.2,796.0 L1549.7,796.0 L1552.2,796.5 L1554.7,795.4 L1557.2,795.2 L1559.6,792.4 L1562.1,792.4 L1564.6,790.0 L1567.2,791.4 L1569.7,791.3 L1572.3,790.1 L1574.8,790.0 L1577.4,787.6 L1580.0,790.1 L1582.6,790.4 L1585.2,790.5 L1587.8,789.1 L1590.2,790.9 L1592.6,790.1 L1594.8,793.8 L1596.8,795.2 L1598.7,794.9 L1600.6,795.7 L1602.4,799.0 L1604.1,801.4 L1605.8,804.3 L1607.3,805.2 L1608.9,805.5 L1610.4,810.7 L1612.0,809.8 L1613.6,814.7 L1615.3,814.2 L1616.9,816.9 L1618.6,820.7 L1620.2,820.1 L1621.9,822.2 L1623.7,825.5 L1625.5,828.2 L1627.5,830.1 L1629.7,830.8 L1632.1,832.2 L1634.6,832.1 L1637.0,833.5 L1639.2,834.4 L1641.2,836.1 L1643.1,838.0 L1644.8,839.7 L1646.5,842.1 L1648.1,844.1 L1649.6,846.1 L1651.1,848.9 L1652.4,850.6 L1653.7,852.2 L1654.8,854.7 L1655.9,858.4 L1656.9,860.9 L1657.9,861.4 L1658.9,865.6 L1659.8,868.3 L1660.8,869.5 L1661.8,872.0 L1662.8,873.4 L1663.9,876.7 L1665.0,878.9 L1666.3,881.5 L1667.7,882.1 L1669.2,886.8 L1670.8,887.6 L1672.6,889.1 L1674.7,891.8 L1677.1,892.1 L1679.6,891.6 L1681.8,890.7 L1683.6,887.1 L1685.4,886.5 L1687.3,884.4 L1689.4,884.0 L1691.6,882.4 L1693.8,880.1 L1696.1,879.1 L1698.4,877.7 L1700.6,876.6 L1702.9,875.3 L1705.2,874.0 L1707.5,872.8 L1709.9,871.8 L1712.2,870.7 L1714.4,869.4 L1716.4,867.7 L1718.2,865.8 L1719.7,863.7 L1721.0,861.4 L1722.2,859.1 L1723.4,856.8 L1724.6,854.5 L1725.7,852.2 L1726.9,849.8 L1728.0,847.5 L1729.1,845.2 L1730.3,842.8 L1731.6,840.6 L1732.8,838.3 L1734.0,836.0 L1735.2,833.7 L1736.4,831.4 L1737.7,829.1 L1738.9,826.8 L1740.2,824.6 L1741.6,822.3 L1743.1,820.2 L1744.6,818.1 L1746.3,816.1 L1748.0,814.2 L1749.9,812.3 L1751.9,810.8 L1754.2,809.5 L1756.6,808.6 L1759.2,808.1 L1761.8,807.9 L1764.4,807.9 L1767.0,808.2 L1769.5,808.5 L1772.1,809.1 L1774.6,809.8 L1777.0,810.8 L1779.2,812.1 L1781.2,813.8 L1783.1,815.6 L1784.8,817.6 L1786.4,819.6 L1788.0,821.6 L1789.7,823.6 L1791.4,825.6 L1793.1,827.6 L1794.7,829.6 L1796.3,831.6 L1798.0,833.7 L1799.6,835.7 L1801.2,837.7 L1802.8,839.8 L1804.4,841.8 L1806.0,843.9 L1807.6,845.9 L1809.2,848.0 L1810.7,850.1 L1812.3,852.2 L1813.7,854.3 L1815.1,856.5 L1816.5,858.7 L1818.0,860.9 L1819.4,863.0 L1820.9,865.1 L1822.6,867.2 L1824.3,869.0 L1826.5,870.5 L1829.0,870.9 L1831.1,869.5 L1832.8,867.5 L1834.1,865.3 L1835.2,862.9 L1836.2,860.5 L1837.2,858.1 L1838.1,855.7 L1839.0,853.2 L1839.8,850.8 L1840.6,848.3 L1841.3,845.8 L1842.0,843.3 L1842.6,840.8 L1843.2,838.2 L1843.8,835.7 L1844.4,833.2 L1845.0,830.6 L1845.6,828.1 L1846.1,825.5 L1846.7,823.0 L1847.2,820.5 L1847.8,817.9 L1848.3,815.4 L1848.9,812.8 L1849.4,810.3 L1849.9,807.7 L1850.3,805.2 L1850.8,802.6 L1851.2,800.1 L1851.6,797.5 L1852.1,794.9 L1852.5,792.4 L1852.9,789.8 L1853.4,787.2 L1853.8,784.7 L1854.3,782.1 L1854.8,779.6 L1855.4,777.0 L1855.9,774.5 L1856.5,772.0 L1857.2,769.5 L1858.0,767.0 L1858.8,764.5 L1859.6,762.0 L1860.6,759.6 L1861.6,757.2 L1862.6,754.8 L1863.7,752.5 L1864.9,750.2 L1866.1,747.8 L1867.3,745.6 L1868.6,743.3 L1869.9,741.1 L1871.3,738.9 L1872.7,736.7 L1874.2,734.5 L1875.6,732.4 L1877.2,730.3 L1878.8,728.2 L1880.4,726.2 L1882.1,724.3 L1883.9,722.4 L1885.7,720.5 L1887.6,718.7 L1889.5,716.9 L1891.5,715.2 L1893.4,713.5 L1895.4,711.9 L1897.5,710.3 L1899.6,708.8 L1901.8,707.3 L1904.0,705.9 L1906.2,704.6 L1908.4,703.2 L1910.7,701.9 L1912.9,700.6 L1915.2,699.3 L1917.4,698.0 L1919.7,696.7 L1922.0,695.5 L1924.3,694.3 L1926.6,693.1 L1928.9,692.0 L1931.3,691.0 L1933.7,690.0 L1936.2,689.1 L1938.6,688.2 L1941.1,687.3 L1943.6,686.6 L1946.1,686.0 L1948.6,685.5 L1951.2,685.4 L1953.8,685.7 L1956.3,686.4 L1958.7,687.4 L1961.0,688.6 L1962.9,690.4 L1964.7,692.3 L1966.4,694.2 L1968.3,696.0 L1970.2,697.8 L1972.1,699.6 L1974.0,701.4 L1976.0,703.0 L1978.3,704.2 L1980.8,704.3 L1983.2,703.3 L1985.2,701.7 L1987.1,699.9 L1989.0,698.1 L1990.9,696.3 L1993.0,694.7 L1995.0,693.2 L1997.1,691.6 L1999.2,690.1 L2001.3,688.5 L2003.3,686.9 L2005.3,685.2 L2007.2,683.4 L2009.1,681.7 L2011.0,679.9 L2013.1,678.3 L2015.3,676.9 L2017.6,675.8 L2020.1,675.1 L2022.7,674.6 L2025.2,674.3 L2027.8,674.1 L2030.4,674.1 L2033.0,674.1 L2035.6,674.3 L2038.2,674.5 L2040.8,674.7 L2043.4,675.1 L2046.0,675.5 L2048.5,675.9 L2051.1,676.5 L2053.6,677.2 L2056.1,677.9 L2058.6,678.6 L2061.0,679.5 L2063.5,680.4 L2065.9,681.3 L2068.3,682.3 L2070.6,683.4 L2073.0,684.5 L2075.3,685.7 L2077.5,687.1 L2079.6,688.6 L2081.6,690.3 L2083.4,692.1 L2085.1,694.1 L2086.6,696.2 L2088.0,698.4 L2089.4,700.6 L2090.7,702.8 L2092.1,705.1 L2093.5,707.3 L2094.9,709.4 L2096.5,711.5 L2098.0,713.6 L2100.4,714.4 L2102.9,713.8 L2105.2,712.6 L2107.4,711.3 L2109.7,710.0 L2112.1,709.0 L2114.6,708.5 L2117.2,708.8 L2119.7,709.5 L2122.1,710.6 L2124.3,712.0 L2126.4,713.5 L2128.4,715.1 L2130.3,716.9 L2132.2,718.6 L2134.1,720.4 L2135.9,722.3 L2137.7,724.2 L2139.5,726.1 L2141.2,728.1 L2142.9,730.1 L2144.5,732.1 L2146.1,734.1 L2147.7,736.2 L2149.3,738.3 L2150.8,740.4 L2152.2,742.5 L2153.7,744.7 L2155.1,746.9 L2156.5,749.1 L2157.9,751.3 L2159.2,753.5 L2160.6,755.7 L2161.9,757.9 L2163.2,760.2 L2164.6,762.4 L2165.9,764.6 L2167.2,766.9 L2168.5,769.1 L2169.7,771.4 L2170.8,773.8 L2171.9,776.1 L2172.9,778.6 L2173.9,781.0 L2174.9,783.3 L2176.2,785.6 L2177.6,787.8 L2179.2,789.8 L2180.9,791.8 L2182.7,793.7 L2184.6,795.5 L2186.5,797.2 L2188.5,798.9 L2190.4,800.6 L2192.5,802.3 L2194.5,803.9 L2196.5,805.5 L2198.6,807.1 L2200.7,808.6 L2202.7,810.2 L2204.9,811.7 L2207.1,813.0 L2209.5,814.0 L2212.0,814.6 L2214.6,814.3 L2217.0,813.2 L2219.2,811.9 L2221.4,810.6 L2223.9,809.7 L2226.5,809.6 L2229.1,809.8 L2231.5,810.7 L2233.5,812.3 L2235.2,814.3 L2236.8,816.4 L2238.1,818.6 L2239.4,820.9 L2240.6,823.2 L2241.7,825.5 L2242.7,827.9 L2243.7,830.3 L2244.7,832.7 L2245.6,835.2 L2246.5,837.6 L2247.3,840.1 L2248.1,842.6 L2248.8,845.1 L2249.4,847.6 L2250.0,850.1 L2250.6,852.6 L2251.1,855.2 L2251.6,857.7 L2252.0,860.3 L2252.5,862.9 L2252.9,865.4 L2253.3,868.0 L2253.7,870.6 L2254.0,873.2 L2254.4,875.7 L2254.7,878.3 L2255.1,880.9 L2255.4,883.5 L2255.7,886.0 L2256.1,888.6 L2256.4,891.2 L2256.7,893.8 L2257.0,896.4 L2257.4,898.9 L2257.7,901.5 L2258.0,904.1 L2258.3,906.7 L2258.6,909.3 L2259.0,911.8 L2259.3,914.4 L2259.6,917.0 L2259.9,919.6 L2260.2,922.2 L2260.6,924.7 L2260.9,927.3 L2261.2,929.9 L2261.5,932.5 L2261.8,935.1 L2262.1,937.6 L2262.4,940.2 L2262.8,942.8 L2263.1,945.4 L2263.4,948.0 L2263.7,950.6 L2264.0,953.1 L2264.3,955.7 L2264.6,958.3 L2264.8,960.9 L2265.1,963.5 L2265.4,966.1 L2265.7,968.6 L2266.0,971.2 L2266.3,973.8 L2266.6,976.4 L2266.9,979.0 L2267.2,981.6 L2267.5,984.1 L2267.8,986.7 L2268.1,989.3 L2268.4,991.9 L2268.7,994.5 L2268.9,997.1 L2269.2,999.6 L2269.5,1002.2 L2269.8,1004.8 L2270.1,1007.4 L2270.4,1010.0 L2270.6,1012.0" fill="none" stroke="#f9e2e0" stroke-width="8" stroke-linejoin="round" stroke-linecap="round"/>
<path d="M186.5,1593.2 L189.1,1593.0 L191.7,1593.0 L194.3,1592.9 L196.9,1592.1 L199.5,1591.5 L202.1,1592.0 L204.7,1591.5 L207.3,1592.7 L209.9,1592.2 L212.5,1591.9 L215.0,1591.6 L217.6,1591.6 L220.2,1590.6 L222.8,1590.9 L225.4,1590.5 L228.0,1590.8 L230.6,1590.4 L233.2,1590.6 L235.8,1589.3 L238.4,1590.4 L241.0,1589.1 L243.6,1589.1 L246.2,1590.9 L248.8,1586.8 L251.4,1586.7 L253.9,1590.6 L256.5,1588.4 L259.1,1586.1 L261.7,1590.2 L264.3,1589.7 L266.9,1585.5 L269.5,1586.8 L272.1,1585.1 L274.7,1585.8 L277.2,1587.0 L279.8,1584.6 L282.4,1587.0 L285.0,1583.7 L287.6,1584.1 L290.2,1587.0 L292.8,1584.8 L295.4,1584.7 L298.0,1585.4 L300.6,1584.6 L303.2,1584.0 L305.8,1582.1 L308.4,1585.3 L311.0,1586.2 L313.5,1586.1 L316.1,1584.3 L318.7,1582.6 L321.3,1582.4 L323.9,1583.8 L326.5,1583.4 L329.1,1580.4 L331.6,1580.7 L334.2,1580.9 L336.8,1581.1 L339.2,1581.7 L341.6,1579.2 L343.7,1575.4 L345.9,1577.8 L348.4,1575.1 L350.9,1575.2 L353.5,1573.7 L356.1,1574.7 L358.7,1574.7 L361.3,1576.7 L363.9,1573.7 L366.5,1576.0 L369.1,1574.3 L371.7,1576.9 L374.3,1573.7 L376.9,1574.7 L379.5,1574.8 L382.1,1575.9 L384.6,1572.7 L387.2,1574.2 L389.8,1572.6 L392.3,1572.6 L394.9,1573.2 L397.5,1575.2 L400.1,1572.7 L402.7,1574.8 L405.3,1571.0 L407.9,1574.6 L410.5,1572.0 L413.1,1571.2 L415.7,1574.0 L418.3,1575.0 L420.9,1570.9 L423.4,1572.5 L426.0,1575.3 L428.6,1573.7 L431.1,1573.9 L433.5,1573.6 L436.0,1574.7 L438.4,1578.4 L440.8,1581.0 L443.2,1581.8 L445.5,1581.0 L447.9,1581.0 L450.2,1582.9 L452.6,1584.5 L454.9,1585.5 L457.3,1586.6 L459.6,1587.7 L462.0,1588.8 L464.4,1589.8 L466.7,1590.9 L469.2,1591.9 L471.6,1592.8 L474.0,1593.6 L476.5,1594.4 L479.0,1595.1 L481.5,1595.8 L484.0,1596.4 L486.6,1597.0 L489.1,1597.6 L491.7,1598.1 L494.2,1598.7 L496.7,1599.2 L499.3,1599.8 L501.8,1600.4 L504.3,1601.1 L506.8,1601.8 L509.3,1602.5 L511.8,1603.2 L514.3,1603.9 L516.8,1604.7 L519.3,1605.5 L521.8,1606.2 L524.3,1607.0 L526.7,1607.8 L529.2,1608.5 L531.7,1609.3 L534.2,1610.0 L536.7,1610.7 L539.2,1611.4 L541.7,1612.1 L544.2,1612.8 L546.7,1613.5 L549.2,1614.2 L551.7,1614.9 L554.3,1615.6 L556.8,1616.2 L559.3,1616.8 L561.8,1617.4 L564.4,1618.0 L566.9,1618.6 L569.4,1619.1 L572.0,1619.6 L574.6,1620.1 L577.1,1620.5 L579.7,1621.0 L582.2,1621.4 L584.8,1621.8 L587.4,1622.1 L590.0,1622.4 L592.6,1622.7 L595.2,1622.9 L597.7,1623.1 L600.3,1623.2 L602.9,1623.4 L605.5,1623.5 L608.1,1623.7 L610.7,1623.8 L613.3,1623.9 L615.9,1623.9 L618.5,1624.0 L621.1,1624.1 L623.7,1624.2 L626.3,1624.2 L628.9,1624.3 L631.5,1624.3 L634.1,1624.4 L636.7,1624.4 L639.3,1624.5 L641.9,1624.5 L644.5,1624.5 L647.1,1624.6 L649.7,1624.6 L652.3,1624.6 L654.9,1624.6 L657.5,1624.7 L660.1,1624.7 L662.7,1624.7 L665.3,1624.7 L667.9,1624.7 L670.5,1624.7 L673.1,1624.7 L675.7,1624.7 L678.3,1624.7 L680.9,1624.6 L683.5,1624.6 L686.1,1624.6 L688.7,1624.5 L691.3,1624.5 L693.9,1624.4 L696.5,1624.3 L699.1,1624.2 L701.7,1624.2 L704.3,1624.1 L706.9,1623.9 L709.5,1623.8 L712.1,1623.7 L714.7,1623.5 L717.3,1623.3 L719.9,1623.1 L722.5,1622.9 L725.1,1622.6 L727.6,1622.3 L730.2,1622.0 L732.8,1621.6 L735.4,1621.2 L737.9,1620.8 L740.5,1620.4 L743.1,1620.0 L745.6,1619.7 L748.2,1619.3 L750.8,1619.0 L753.4,1618.7 L756.0,1618.5 L758.6,1618.3 L761.2,1618.0 L763.7,1617.8 L766.3,1617.5 L768.9,1617.2 L771.5,1616.9 L774.1,1616.5 L776.6,1616.1 L779.2,1615.6 L781.7,1615.2 L784.3,1614.7 L786.8,1614.1 L789.4,1613.6 L791.9,1613.1 L794.5,1612.5 L797.0,1611.9 L799.5,1611.4 L802.1,1610.8 L804.6,1610.2 L807.1,1609.6 L809.7,1609.1 L812.2,1608.5 L814.8,1607.9 L817.3,1607.3 L819.8,1606.7 L822.4,1606.2 L824.9,1605.6 L827.4,1605.0 L830.0,1604.5 L832.5,1603.9 L835.0,1603.4 L837.6,1602.8 L840.1,1602.3 L842.7,1601.7 L845.2,1601.2 L847.8,1600.6 L850.3,1600.1 L852.9,1599.6 L855.4,1599.0 L857.9,1598.5 L860.5,1598.0 L863.0,1597.4 L865.6,1596.9 L868.1,1596.4 L870.7,1595.8 L873.2,1595.3 L875.8,1594.8 L878.3,1594.2 L880.8,1593.7 L883.4,1593.2 L885.9,1592.6 L888.5,1592.1 L891.0,1591.6 L893.6,1591.0 L896.1,1590.5 L898.7,1590.0 L901.2,1589.4 L903.7,1588.9 L906.3,1588.4 L908.8,1587.8 L911.4,1587.3 L913.9,1586.8 L916.5,1586.2 L919.0,1585.7 L921.5,1585.1 L924.1,1584.6 L926.6,1584.0 L929.2,1583.5 L931.7,1583.0 L934.3,1582.4 L936.8,1581.9 L939.3,1581.3 L941.9,1580.8 L944.4,1580.2 L947.0,1579.7 L949.5,1579.2 L952.1,1578.6 L954.6,1578.1 L957.2,1577.6 L959.7,1577.0 L962.2,1576.5 L964.8,1575.9 L967.3,1575.4 L969.9,1574.8 L972.4,1574.3 L974.9,1573.7 L977.5,1573.1 L980.0,1572.6 L982.6,1572.1 L985.1,1571.6 L987.7,1571.2 L990.3,1570.8 L992.9,1570.7 L995.4,1570.8 L997.9,1571.6 L1000.3,1572.6 L1002.9,1572.9 L1005.5,1572.7 L1008.0,1572.3 L1010.5,1571.6 L1013.0,1570.9 L1015.5,1570.0 L1018.0,1569.2 L1020.4,1568.3 L1022.8,1567.4 L1025.3,1566.5 L1027.7,1565.5 L1030.1,1564.6 L1032.6,1563.7 L1035.0,1562.8 L1037.4,1561.9 L1039.9,1561.0 L1042.3,1560.1 L1044.8,1559.3 L1047.3,1558.5 L1049.8,1557.8 L1052.3,1557.1 L1054.8,1556.4 L1057.3,1555.8 L1059.8,1555.2 L1062.4,1554.7 L1064.9,1554.1 L1067.5,1553.6 L1070.0,1553.1 L1072.6,1552.6 L1075.1,1552.1 L1077.7,1551.7 L1080.2,1551.2 L1082.8,1550.7 L1085.4,1550.3 L1087.9,1549.8 L1090.5,1549.3 L1093.0,1548.9 L1095.6,1548.4 L1098.2,1548.0 L1100.7,1547.6 L1103.3,1547.2 L1105.9,1546.7 L1108.4,1546.3 L1111.0,1545.9 L1113.6,1545.5 L1116.1,1545.1 L1118.7,1544.7 L1121.3,1544.3 L1123.8,1543.8 L1126.4,1543.4 L1128.9,1542.9 L1131.5,1542.4 L1134.1,1541.9 L1136.6,1541.4 L1139.2,1540.9 L1141.7,1540.4 L1144.3,1539.9 L1146.8,1539.4 L1149.4,1538.9 L1151.9,1538.5 L1154.5,1537.7 L1157.0,1537.5 L1159.6,1537.1 L1162.2,1537.1 L1164.8,1536.0 L1167.3,1538.2 L1169.6,1539.2 L1171.4,1539.1 L1173.7,1539.0 L1175.4,1538.7 L1176.7,1534.8 L1177.9,1534.4 L1179.1,1530.8 L1180.3,1529.0 L1181.5,1526.8 L1182.9,1523.2 L1184.7,1521.6 L1186.9,1522.2 L1188.4,1525.6 L1189.5,1528.0 L1190.6,1528.7 L1191.8,1533.1 L1193.9,1533.1 L1195.7,1530.8 L1197.2,1529.2 L1199.0,1529.0 L1201.0,1529.0 L1202.3,1531.5 L1203.7,1534.5 L1205.7,1536.2 L1208.2,1536.4 L1210.7,1536.1 L1213.3,1536.8 L1215.9,1537.7 L1218.5,1537.0 L1221.0,1535.7 L1223.4,1534.0 L1225.6,1532.8 L1227.8,1532.5 L1229.9,1530.5 L1232.0,1527.4 L1234.1,1527.8 L1236.1,1526.7 L1238.2,1524.8 L1240.3,1523.6 L1242.4,1522.1 L1244.5,1519.5 L1246.7,1518.9 L1249.0,1516.4 L1251.3,1514.4 L1253.6,1514.0 L1256.0,1512.7 L1258.3,1513.4 L1260.7,1511.7 L1263.1,1510.3 L1265.5,1509.5 L1267.9,1507.1 L1270.3,1507.3 L1272.7,1506.8 L1275.1,1504.9 L1277.5,1503.4 L1279.9,1502.9 L1282.4,1501.8 L1284.8,1502.0 L1287.3,1499.7 L1289.8,1498.7 L1292.2,1498.4 L1294.5,1498.3 L1296.7,1497.0 L1298.5,1494.9 L1299.9,1493.5 L1300.8,1489.5 L1301.5,1486.0 L1302.1,1484.8 L1302.5,1482.1 L1302.9,1478.8 L1303.2,1477.6 L1303.6,1474.1 L1304.2,1471.3 L1305.4,1469.4 L1307.1,1472.9 L1308.0,1472.8 L1308.8,1476.2 L1309.6,1478.5 L1310.5,1480.7 L1311.7,1483.7 L1313.1,1485.2 L1314.9,1489.1 L1316.7,1489.7 L1318.6,1491.9 L1320.6,1492.6 L1322.6,1494.8 L1324.7,1496.5 L1326.9,1498.0 L1329.1,1499.1 L1331.5,1500.3 L1333.9,1501.1 L1336.5,1501.5 L1339.1,1501.6 L1341.7,1501.3 L1344.2,1500.9 L1346.8,1500.4 L1349.3,1499.8 L1351.9,1499.3 L1354.4,1498.9 L1357.0,1498.5 L1359.6,1498.2 L1362.1,1497.7 L1364.7,1497.1 L1367.1,1496.2 L1369.3,1494.9 L1371.2,1493.2 L1372.7,1491.0 L1373.9,1488.7 L1375.0,1486.4 L1375.9,1483.9 L1376.9,1481.7 L1378.0,1479.4 L1379.3,1476.7 L1381.0,1475.0 L1382.8,1473.5 L1384.8,1471.2 L1387.0,1470.4 L1389.3,1469.4 L1391.8,1469.7 L1394.4,1468.6 L1396.5,1470.4 L1398.4,1471.2 L1400.3,1474.2 L1402.2,1474.6 L1404.6,1476.2 L1407.1,1475.4 L1409.3,1473.9 L1411.2,1471.6 L1413.1,1470.1 L1414.9,1469.2 L1416.7,1466.4 L1418.6,1464.0 L1420.7,1464.9 L1423.2,1462.6 L1425.6,1465.4 L1427.6,1465.9 L1429.5,1467.1 L1431.5,1470.2 L1433.9,1471.5 L1436.4,1470.3 L1438.9,1470.2 L1441.5,1472.2 L1444.1,1473.2 L1446.7,1472.6 L1449.3,1473.2 L1451.9,1472.0 L1454.5,1472.5 L1457.0,1471.2 L1459.6,1471.3 L1462.2,1470.9 L1464.8,1470.5 L1467.3,1470.2 L1469.9,1470.1 L1472.4,1469.0 L1474.9,1468.6 L1477.5,1467.9 L1480.0,1467.8 L1482.5,1466.8 L1485.0,1465.4 L1487.5,1466.1 L1490.1,1465.7 L1492.6,1464.9 L1495.1,1463.2 L1497.6,1463.4 L1500.1,1461.8 L1502.7,1460.8 L1505.2,1461.9 L1507.7,1461.3 L1510.3,1459.3 L1512.8,1460.4 L1515.4,1457.9 L1518.0,1458.1 L1520.5,1457.0 L1523.1,1457.0 L1525.7,1456.6 L1528.2,1457.6 L1530.8,1456.3 L1533.4,1455.7 L1536.0,1455.3 L1538.6,1455.3 L1541.1,1456.4 L1543.7,1455.3 L1546.2,1452.8 L1548.8,1454.6 L1551.3,1453.4 L1553.8,1452.5 L1556.4,1452.2 L1558.9,1452.1 L1561.5,1452.2 L1564.0,1450.6 L1566.6,1450.8 L1569.2,1450.1 L1571.8,1450.9 L1574.4,1450.2 L1577.0,1450.7 L1579.5,1451.7 L1582.0,1453.3 L1584.4,1452.5 L1586.7,1456.2 L1589.0,1455.7 L1591.1,1458.6 L1593.1,1459.7 L1594.9,1462.6 L1596.7,1463.4 L1598.3,1464.4 L1599.9,1466.4 L1601.5,1469.2 L1603.0,1471.9 L1604.5,1474.4 L1605.9,1473.8 L1607.3,1475.7 L1608.6,1478.1 L1610.0,1480.2 L1611.4,1482.3 L1612.9,1484.2 L1614.5,1487.2 L1616.2,1488.7 L1617.9,1492.9 L1619.7,1494.6 L1621.5,1497.8 L1623.4,1499.6 L1625.4,1500.4 L1627.4,1502.5 L1629.7,1501.0 L1632.0,1502.8 L1634.4,1504.9 L1636.8,1505.3 L1639.1,1506.5 L1641.2,1508.2 L1643.2,1509.7 L1645.2,1511.5 L1647.1,1513.0 L1648.9,1514.7 L1650.6,1516.3 L1652.2,1519.4 L1653.7,1522.4 L1655.1,1524.8 L1656.4,1526.5 L1657.6,1529.2 L1658.8,1529.9 L1660.0,1532.1 L1661.2,1536.1 L1662.4,1537.5 L1663.7,1539.9 L1665.1,1540.3 L1666.7,1543.0 L1668.3,1545.7 L1670.1,1548.3 L1672.0,1550.4 L1673.9,1551.9 L1676.0,1552.2 L1678.3,1553.6 L1680.8,1555.7 L1683.4,1555.8 L1685.7,1553.3 L1687.8,1551.1 L1689.9,1550.5 L1691.9,1548.7 L1693.9,1546.8 L1695.8,1544.9 L1697.7,1543.3 L1699.5,1541.6 L1701.4,1539.8 L1703.3,1538.0 L1705.3,1536.3 L1707.4,1534.8 L1709.6,1533.4 L1711.8,1532.1 L1714.0,1530.7 L1716.0,1529.0 L1717.8,1527.1 L1719.4,1525.1 L1720.8,1522.9 L1722.1,1520.6 L1723.3,1518.3 L1724.5,1516.0 L1725.7,1513.7 L1726.9,1511.4 L1728.1,1509.1 L1729.4,1506.8 L1730.8,1504.6 L1732.2,1502.4 L1733.6,1500.3 L1735.1,1498.1 L1736.6,1496.0 L1738.2,1494.0 L1739.8,1492.0 L1741.6,1490.0 L1743.5,1488.3 L1745.5,1486.6 L1747.6,1485.0 L1749.7,1483.6 L1752.0,1482.3 L1754.3,1481.2 L1756.8,1480.3 L1759.3,1479.7 L1761.9,1479.4 L1764.5,1479.5 L1767.0,1480.0 L1769.5,1480.7 L1771.9,1481.6 L1774.3,1482.8 L1776.4,1484.2 L1778.5,1485.8 L1780.3,1487.7 L1782.0,1489.7 L1783.6,1491.7 L1785.1,1493.9 L1786.5,1496.0 L1788.0,1498.2 L1789.5,1500.3 L1791.0,1502.4 L1792.5,1504.5 L1793.9,1506.7 L1795.4,1508.9 L1796.8,1511.0 L1798.2,1513.2 L1799.6,1515.4 L1801.1,1517.6 L1802.5,1519.7 L1803.9,1521.9 L1805.4,1524.1 L1806.8,1526.2 L1808.3,1528.4 L1809.7,1530.5 L1811.2,1532.7 L1812.6,1534.9 L1813.9,1537.1 L1815.3,1539.3 L1816.7,1541.5 L1818.1,1543.7 L1819.7,1545.8 L1821.4,1547.7 L1823.5,1549.2 L1826.0,1549.5 L1828.4,1548.5 L1830.2,1546.6 L1831.6,1544.4 L1832.8,1542.1 L1833.9,1539.8 L1834.9,1537.4 L1835.8,1534.9 L1836.7,1532.5 L1837.5,1530.0 L1838.2,1527.5 L1838.9,1525.0 L1839.6,1522.5 L1840.3,1520.0 L1841.0,1517.5 L1841.6,1514.9 L1842.2,1512.4 L1842.9,1509.9 L1843.5,1507.4 L1844.1,1504.9 L1844.7,1502.3 L1845.3,1499.8 L1845.9,1497.3 L1846.6,1494.7 L1847.2,1492.2 L1847.8,1489.7 L1848.4,1487.2 L1849.0,1484.6 L1849.6,1482.1 L1850.1,1479.6 L1850.6,1477.0 L1851.2,1474.5 L1851.7,1471.9 L1852.2,1469.4 L1852.6,1466.8 L1853.2,1464.3 L1853.7,1461.7 L1854.2,1459.2 L1854.8,1456.6 L1855.4,1454.1 L1856.1,1451.6 L1856.8,1449.1 L1857.6,1446.6 L1858.5,1444.2 L1859.4,1441.8 L1860.4,1439.4 L1861.5,1437.0 L1862.6,1434.6 L1863.8,1432.3 L1865.0,1430.0 L1866.3,1427.8 L1867.7,1425.6 L1869.1,1423.4 L1870.5,1421.2 L1872.0,1419.1 L1873.6,1417.0 L1875.2,1415.0 L1876.9,1413.0 L1878.7,1411.1 L1880.6,1409.4 L1882.6,1407.7 L1884.6,1406.1 L1886.7,1404.5 L1888.9,1403.1 L1891.0,1401.6 L1893.2,1400.2 L1895.4,1398.8 L1897.7,1397.5 L1900.0,1396.3 L1902.3,1395.1 L1904.6,1394.0 L1907.0,1392.9 L1909.3,1391.8 L1911.7,1390.7 L1914.1,1389.7 L1916.4,1388.6 L1918.8,1387.4 L1921.1,1386.2 L1923.4,1385.0 L1925.7,1383.9 L1928.1,1382.8 L1930.5,1381.8 L1932.9,1381.0 L1935.4,1380.3 L1938.0,1379.6 L1940.5,1379.1 L1943.1,1378.6 L1945.6,1378.2 L1948.2,1377.9 L1950.8,1377.7 L1953.4,1377.8 L1956.0,1378.1 L1958.4,1379.1 L1960.5,1380.6 L1962.4,1382.4 L1964.0,1384.4 L1965.4,1386.6 L1966.7,1388.9 L1968.0,1391.1 L1969.5,1393.3 L1971.1,1395.3 L1973.2,1396.8 L1975.7,1396.8 L1978.0,1395.5 L1979.9,1393.8 L1981.8,1392.0 L1983.6,1390.1 L1985.5,1388.3 L1987.5,1386.7 L1989.6,1385.2 L1991.7,1383.7 L1993.9,1382.2 L1996.0,1380.7 L1998.2,1379.3 L2000.4,1377.9 L2002.7,1376.8 L2005.1,1375.7 L2007.5,1374.7 L2010.0,1373.9 L2012.5,1373.1 L2015.0,1372.5 L2017.6,1372.2 L2020.1,1372.0 L2022.7,1371.9 L2025.3,1372.1 L2027.9,1372.3 L2030.5,1372.7 L2033.1,1373.1 L2035.6,1373.6 L2038.2,1374.2 L2040.7,1374.8 L2043.2,1375.5 L2045.7,1376.2 L2048.2,1377.0 L2050.6,1377.8 L2053.1,1378.7 L2055.5,1379.7 L2057.9,1380.7 L2060.3,1381.8 L2062.6,1382.9 L2064.9,1384.1 L2067.2,1385.4 L2069.4,1386.7 L2071.5,1388.2 L2073.6,1389.7 L2075.7,1391.3 L2077.7,1393.0 L2079.6,1394.7 L2081.5,1396.5 L2083.4,1398.3 L2085.3,1400.1 L2087.1,1402.0 L2088.8,1403.9 L2090.4,1405.9 L2092.0,1408.0 L2093.4,1410.2 L2094.8,1412.4 L2096.3,1414.5 L2097.8,1416.6 L2099.6,1418.5 L2101.7,1419.9 L2104.3,1420.0 L2106.6,1418.8 L2108.7,1417.3 L2110.9,1415.9 L2113.3,1415.2 L2115.9,1415.6 L2118.2,1416.7 L2120.5,1418.0 L2122.6,1419.5 L2124.6,1421.1 L2126.6,1422.8 L2128.6,1424.5 L2130.5,1426.3 L2132.4,1428.0 L2134.3,1429.8 L2136.1,1431.6 L2138.0,1433.5 L2139.8,1435.3 L2141.6,1437.2 L2143.4,1439.1 L2145.1,1441.0 L2146.8,1443.0 L2148.5,1445.0 L2150.2,1447.0 L2151.8,1449.0 L2153.4,1451.1 L2154.9,1453.2 L2156.3,1455.4 L2157.6,1457.6 L2158.9,1459.9 L2160.1,1462.2 L2161.3,1464.5 L2162.6,1466.8 L2163.8,1469.1 L2165.0,1471.4 L2166.3,1473.6 L2167.6,1475.8 L2169.1,1478.0 L2170.6,1480.1 L2172.2,1482.1 L2173.9,1484.1 L2175.7,1486.0 L2177.5,1487.9 L2179.4,1489.7 L2181.3,1491.4 L2183.2,1493.2 L2185.2,1494.9 L2187.2,1496.5 L2189.2,1498.2 L2191.2,1499.9 L2193.1,1501.6 L2195.1,1503.2 L2197.2,1504.8 L2199.3,1506.4 L2201.5,1507.8 L2203.8,1509.0 L2206.2,1509.9 L2208.8,1510.2 L2211.3,1509.8 L2213.8,1509.0 L2216.2,1508.0 L2218.6,1507.1 L2221.2,1506.6 L2223.8,1506.8 L2226.3,1507.3 L2228.8,1508.1 L2231.1,1509.2 L2233.2,1510.7 L2235.1,1512.5 L2236.8,1514.5 L2238.3,1516.6 L2239.7,1518.8 L2241.0,1521.0 L2242.2,1523.3 L2243.3,1525.7 L2244.4,1528.1 L2245.4,1530.5 L2246.3,1532.9 L2247.2,1535.3 L2248.0,1537.8 L2248.8,1540.3 L2249.5,1542.8 L2250.1,1545.3 L2250.7,1547.8 L2251.2,1550.4 L2251.7,1552.9 L2252.2,1555.5 L2252.7,1558.1 L2253.1,1560.6 L2253.5,1563.2 L2253.9,1565.8 L2254.3,1568.3 L2254.7,1570.9 L2255.1,1573.5 L2255.4,1576.0 L2255.7,1578.6 L2256.1,1581.2 L2256.4,1583.8 L2256.7,1586.4 L2257.0,1588.9 L2257.3,1591.5 L2257.6,1594.1 L2257.9,1596.7 L2258.1,1599.3 L2258.4,1601.9 L2258.7,1604.4 L2259.0,1607.0 L2259.3,1609.6 L2259.6,1612.2 L2259.9,1614.8 L2260.2,1617.4 L2260.5,1619.9 L2260.9,1622.5 L2261.2,1625.1 L2261.5,1627.7 L2261.9,1630.3 L2262.2,1632.8 L2262.6,1635.4 L2262.9,1638.0 L2263.3,1640.6 L2263.6,1643.1 L2264.0,1645.7 L2264.3,1648.3 L2264.7,1650.9 L2265.0,1653.4 L2265.4,1656.0 L2265.7,1658.6 L2266.1,1661.2 L2266.5,1663.7 L2266.8,1666.3 L2267.2,1668.9 L2267.5,1671.5 L2267.9,1674.0 L2268.3,1676.6 L2268.6,1679.2 L2269.0,1681.8 L2269.3,1684.3 L2269.5,1685.5" fill="none" stroke="#f9e2e0" stroke-width="8" stroke-linejoin="round" stroke-linecap="round"/>
<path d="M186.5,1989.4 L189.1,1989.3 L191.7,1989.5 L194.3,1989.5 L196.9,1989.9 L199.5,1988.8 L202.1,1988.7 L204.7,1988.5 L207.3,1988.7 L209.9,1989.9 L212.5,1988.4 L215.1,1989.3 L217.7,1988.7 L220.3,1988.9 L222.9,1989.1 L225.5,1989.4 L228.1,1989.1 L230.7,1988.9 L233.3,1988.7 L235.9,1988.2 L238.5,1989.8 L241.1,1989.7 L243.7,1989.8 L246.3,1989.8 L248.9,1989.2 L251.4,1989.9 L254.0,1988.9 L256.6,1986.0 L259.2,1988.5 L261.8,1986.5 L264.4,1987.5 L267.0,1986.3 L269.5,1985.5 L272.1,1985.0 L274.7,1985.1 L277.3,1984.5 L279.9,1983.4 L282.5,1986.7 L285.1,1986.6 L287.7,1987.4 L290.3,1986.0 L292.9,1985.3 L295.5,1986.2 L298.1,1983.2 L300.7,1985.7 L303.3,1984.6 L305.9,1983.3 L308.5,1983.4 L311.1,1984.9 L313.7,1983.5 L316.3,1984.4 L318.9,1985.1 L321.5,1984.0 L324.1,1982.6 L326.7,1984.3 L329.3,1982.9 L331.9,1982.7 L334.5,1982.2 L337.0,1982.4 L339.1,1979.6 L339.9,1980.0 L342.4,1980.6 L344.9,1977.7 L347.5,1979.2 L350.1,1980.2 L352.7,1975.9 L355.3,1976.4 L357.9,1979.7 L360.5,1979.9 L363.1,1979.0 L365.7,1976.8 L368.3,1978.1 L370.9,1980.3 L373.5,1980.3 L376.1,1979.8 L378.7,1976.7 L381.3,1979.6 L383.9,1976.9 L386.5,1978.2 L389.0,1975.1 L391.6,1978.7 L394.2,1976.6 L396.8,1977.0 L399.4,1974.4 L402.0,1976.4 L404.6,1976.4 L407.2,1976.7 L409.7,1976.0 L412.3,1978.2 L414.8,1976.8 L417.4,1977.1 L419.9,1977.1 L422.4,1980.2 L425.0,1978.1 L427.5,1979.3 L430.0,1979.3 L432.4,1982.9 L434.8,1983.5 L437.2,1984.5 L439.6,1983.1 L441.9,1986.2 L444.3,1987.1 L446.6,1987.7 L448.9,1989.0 L451.1,1991.9 L453.4,1992.3 L455.7,1993.7 L458.0,1994.9 L460.3,1996.1 L462.7,1997.3 L465.0,1998.4 L467.3,1999.5 L469.7,2000.6 L472.1,2001.6 L474.6,2002.4 L477.0,2003.3 L479.5,2004.0 L482.1,2004.7 L484.6,2005.3 L487.1,2005.9 L489.7,2006.4 L492.2,2006.9 L494.7,2007.5 L497.3,2008.0 L499.8,2008.6 L502.4,2009.2 L504.9,2009.8 L507.4,2010.5 L509.9,2011.3 L512.4,2012.0 L514.8,2012.8 L517.3,2013.6 L519.8,2014.4 L522.3,2015.2 L524.8,2015.9 L527.2,2016.7 L529.7,2017.5 L532.2,2018.2 L534.7,2018.9 L537.2,2019.6 L539.7,2020.2 L542.3,2020.9 L544.8,2021.5 L547.3,2022.1 L549.8,2022.7 L552.4,2023.3 L554.9,2023.9 L557.5,2024.4 L560.0,2024.8 L562.6,2025.2 L565.2,2025.6 L567.7,2025.9 L570.3,2026.2 L572.9,2026.5 L575.5,2026.7 L578.1,2026.9 L580.7,2027.1 L583.3,2027.3 L585.9,2027.4 L588.5,2027.5 L591.1,2027.6 L593.7,2027.8 L596.3,2027.9 L598.9,2028.0 L601.5,2028.0 L604.1,2028.1 L606.7,2028.2 L609.3,2028.3 L611.9,2028.3 L614.5,2028.4 L617.1,2028.5 L619.7,2028.5 L622.3,2028.6 L624.9,2028.6 L627.5,2028.7 L630.1,2028.7 L632.7,2028.8 L635.3,2028.8 L637.9,2028.8 L640.5,2028.8 L643.1,2028.8 L645.7,2028.8 L648.3,2028.8 L650.9,2028.8 L653.5,2028.8 L656.1,2028.8 L658.7,2028.7 L661.3,2028.7 L663.9,2028.6 L666.5,2028.5 L669.1,2028.5 L671.7,2028.3 L674.3,2028.2 L676.8,2028.1 L679.4,2028.0 L682.0,2027.8 L684.6,2027.7 L687.2,2027.5 L689.8,2027.4 L692.4,2027.2 L695.0,2027.0 L697.6,2026.8 L700.2,2026.6 L702.8,2026.4 L705.4,2026.2 L708.0,2026.0 L710.6,2025.8 L713.2,2025.5 L715.7,2025.3 L718.3,2025.0 L720.9,2024.7 L723.5,2024.4 L726.1,2024.1 L728.7,2023.8 L731.2,2023.4 L733.8,2023.0 L736.4,2022.6 L738.9,2022.2 L741.5,2021.8 L744.1,2021.4 L746.6,2021.0 L749.2,2020.7 L751.8,2020.3 L754.4,2020.0 L757.0,2019.6 L759.5,2019.3 L762.1,2019.0 L764.7,2018.6 L767.3,2018.3 L769.8,2017.9 L772.4,2017.6 L775.0,2017.3 L777.6,2016.9 L780.2,2016.6 L782.7,2016.2 L785.3,2015.9 L787.9,2015.6 L790.5,2015.3 L793.0,2014.9 L795.6,2014.6 L798.2,2014.3 L800.8,2014.0 L803.4,2013.6 L805.9,2013.3 L808.5,2013.0 L811.1,2012.7 L813.7,2012.3 L816.3,2012.0 L818.8,2011.7 L821.4,2011.3 L824.0,2011.0 L826.6,2010.6 L829.1,2010.3 L831.7,2009.9 L834.3,2009.5 L836.9,2009.2 L839.4,2008.8 L842.0,2008.4 L844.6,2008.0 L847.2,2007.7 L849.7,2007.3 L852.3,2006.9 L854.9,2006.5 L857.4,2006.1 L860.0,2005.7 L862.6,2005.3 L865.2,2004.9 L867.7,2004.6 L870.3,2004.2 L872.9,2003.8 L875.4,2003.4 L878.0,2003.0 L880.6,2002.6 L883.1,2002.2 L885.7,2001.8 L888.3,2001.4 L890.8,2001.0 L893.4,2000.6 L896.0,2000.2 L898.6,1999.7 L901.1,1999.3 L903.7,1998.9 L906.3,1998.5 L908.8,1998.1 L911.4,1997.7 L914.0,1997.3 L916.5,1996.9 L919.1,1996.5 L921.7,1996.1 L924.2,1995.7 L926.8,1995.2 L929.4,1994.8 L931.9,1994.4 L934.5,1994.0 L937.1,1993.6 L939.6,1993.1 L942.2,1992.7 L944.8,1992.3 L947.3,1991.8 L949.9,1991.4 L952.4,1991.0 L955.0,1990.6 L957.6,1990.1 L960.1,1989.7 L962.7,1989.2 L965.3,1988.8 L967.8,1988.3 L970.4,1987.8 L972.9,1987.3 L975.5,1986.8 L978.0,1986.2 L980.6,1985.8 L983.1,1985.3 L985.7,1984.8 L988.3,1984.5 L990.8,1984.2 L993.4,1984.1 L996.0,1984.3 L998.5,1985.1 L1001.0,1985.9 L1003.5,1986.1 L1006.1,1985.9 L1008.7,1985.5 L1011.2,1984.9 L1013.7,1984.3 L1016.3,1983.6 L1018.8,1982.9 L1021.3,1982.1 L1023.7,1981.4 L1026.2,1980.6 L1028.7,1979.9 L1031.2,1979.1 L1033.7,1978.3 L1036.2,1977.6 L1038.7,1976.8 L1041.2,1976.1 L1043.7,1975.4 L1046.2,1974.7 L1048.7,1974.0 L1051.2,1973.4 L1053.7,1972.8 L1056.3,1972.3 L1058.8,1971.7 L1061.4,1971.2 L1063.9,1970.6 L1066.5,1970.1 L1069.0,1969.6 L1071.6,1969.2 L1074.1,1968.7 L1076.7,1968.2 L1079.2,1967.8 L1081.8,1967.4 L1084.4,1966.9 L1086.9,1966.5 L1089.5,1966.1 L1092.1,1965.7 L1094.7,1965.4 L1097.2,1965.0 L1099.8,1964.7 L1102.4,1964.4 L1105.0,1964.1 L1107.6,1963.9 L1110.1,1963.6 L1112.7,1963.3 L1115.3,1963.1 L1117.9,1962.8 L1120.5,1962.5 L1123.1,1962.2 L1125.7,1961.9 L1128.2,1961.5 L1130.8,1961.2 L1133.4,1960.8 L1135.9,1960.4 L1138.5,1960.0 L1141.1,1959.6 L1143.6,1959.2 L1146.2,1958.8 L1148.8,1958.4 L1151.4,1958.0 L1154.0,1957.6 L1156.5,1957.7 L1159.1,1956.7 L1161.7,1957.5 L1164.2,1957.8 L1166.5,1960.3 L1168.5,1959.6 L1170.5,1962.2 L1173.0,1963.0 L1175.0,1962.9 L1176.5,1959.4 L1177.8,1957.0 L1178.9,1955.3 L1180.0,1951.9 L1181.2,1948.8 L1182.4,1947.8 L1183.9,1946.9 L1186.1,1946.3 L1187.3,1947.3 L1188.1,1950.9 L1188.8,1953.9 L1189.5,1954.7 L1190.3,1958.1 L1191.8,1959.3 L1193.7,1957.4 L1195.0,1955.2 L1196.3,1952.7 L1198.3,1951.9 L1199.7,1953.1 L1200.8,1956.5 L1202.5,1957.6 L1204.8,1960.5 L1207.4,1960.2 L1210.0,1958.6 L1212.6,1960.6 L1215.2,1958.7 L1217.8,1959.2 L1220.3,1958.9 L1222.9,1957.7 L1225.4,1956.9 L1227.7,1956.2 L1230.0,1954.0 L1232.0,1954.5 L1234.0,1950.7 L1236.1,1951.1 L1238.2,1948.0 L1240.5,1946.9 L1242.8,1945.9 L1245.1,1943.8 L1247.5,1943.0 L1249.9,1942.6 L1252.3,1941.9 L1254.7,1942.1 L1257.1,1941.4 L1259.5,1937.7 L1261.9,1938.1 L1264.3,1936.0 L1266.7,1936.9 L1269.1,1934.6 L1271.5,1935.2 L1273.9,1933.2 L1276.3,1930.9 L1278.6,1929.6 L1281.0,1929.2 L1283.5,1930.1 L1285.9,1927.2 L1288.4,1927.2 L1290.8,1925.9 L1293.1,1924.8 L1295.3,1924.7 L1297.3,1921.4 L1299.0,1920.8 L1300.2,1918.4 L1300.9,1916.6 L1301.4,1912.9 L1301.8,1911.5 L1302.1,1907.5 L1302.4,1905.3 L1302.7,1902.9 L1303.0,1900.9 L1303.6,1898.5 L1305.4,1895.0 L1307.3,1896.8 L1308.6,1900.1 L1309.9,1903.2 L1311.2,1904.6 L1312.7,1906.1 L1314.2,1910.1 L1315.7,1910.4 L1317.1,1912.1 L1318.5,1914.4 L1319.9,1916.6 L1321.4,1920.0 L1322.8,1921.3 L1324.4,1924.1 L1326.0,1926.2 L1327.7,1928.1 L1329.8,1929.5 L1332.2,1930.1 L1334.8,1929.6 L1337.0,1928.3 L1339.2,1926.9 L1341.5,1925.8 L1344.1,1925.6 L1346.5,1926.6 L1348.8,1927.8 L1351.4,1928.2 L1353.9,1927.8 L1356.5,1927.2 L1359.0,1926.5 L1361.4,1925.6 L1363.8,1924.7 L1366.2,1923.5 L1368.4,1922.1 L1370.4,1920.5 L1372.1,1918.5 L1373.5,1916.3 L1374.7,1914.0 L1375.8,1911.7 L1376.8,1909.3 L1377.8,1907.1 L1378.9,1904.7 L1380.2,1902.0 L1381.4,1900.4 L1382.6,1897.0 L1384.6,1895.8 L1387.2,1897.6 L1389.5,1897.3 L1391.7,1898.0 L1393.9,1901.2 L1396.0,1901.6 L1398.2,1901.6 L1400.4,1902.9 L1402.8,1904.6 L1405.4,1905.3 L1407.9,1906.8 L1410.2,1903.3 L1412.2,1903.6 L1414.1,1901.9 L1416.0,1898.7 L1417.9,1898.8 L1420.0,1896.4 L1422.2,1894.3 L1424.7,1892.9 L1427.3,1893.6 L1429.8,1895.7 L1432.2,1895.5 L1434.5,1895.6 L1436.7,1897.5 L1439.0,1899.2 L1441.2,1899.6 L1443.4,1902.2 L1445.7,1901.6 L1448.1,1905.2 L1450.6,1903.9 L1453.1,1904.1 L1455.7,1905.9 L1458.3,1905.0 L1460.9,1906.6 L1463.5,1905.1 L1466.1,1904.7 L1468.6,1904.7 L1471.2,1903.5 L1473.7,1903.3 L1476.3,1902.9 L1478.9,1902.3 L1481.4,1902.4 L1484.0,1900.8 L1486.5,1901.6 L1489.1,1899.7 L1491.6,1900.7 L1494.2,1898.6 L1496.7,1897.8 L1499.3,1898.3 L1501.8,1898.8 L1504.3,1896.7 L1506.9,1896.7 L1509.4,1896.5 L1512.0,1895.1 L1514.5,1895.3 L1517.1,1893.6 L1519.7,1894.2 L1522.2,1894.5 L1524.8,1893.0 L1527.3,1892.2 L1529.9,1891.4 L1532.5,1892.5 L1535.0,1891.4 L1537.6,1892.1 L1540.1,1891.3 L1542.7,1888.8 L1545.3,1891.4 L1547.8,1890.9 L1550.4,1890.0 L1552.9,1889.5 L1555.4,1888.4 L1558.0,1888.0 L1560.6,1887.3 L1563.1,1886.6 L1565.7,1885.0 L1568.3,1884.3 L1570.9,1886.5 L1573.5,1886.0 L1576.1,1883.9 L1578.7,1886.4 L1581.3,1886.6 L1583.8,1886.7 L1586.3,1888.5 L1588.7,1889.9 L1590.9,1889.2 L1593.0,1892.5 L1594.9,1893.1 L1596.7,1895.2 L1598.5,1896.5 L1600.3,1900.4 L1602.2,1900.2 L1604.1,1904.1 L1605.8,1903.5 L1607.7,1906.7 L1609.6,1909.4 L1611.7,1910.0 L1613.9,1910.1 L1616.3,1909.9 L1618.8,1912.2 L1621.4,1912.5 L1623.9,1914.7 L1626.5,1914.9 L1629.0,1915.8 L1631.5,1914.9 L1634.0,1915.7 L1636.4,1917.0 L1638.5,1918.5 L1640.3,1920.2 L1641.9,1922.2 L1643.2,1924.4 L1644.3,1926.8 L1645.4,1929.1 L1646.6,1932.2 L1647.7,1933.5 L1648.8,1937.0 L1649.8,1938.3 L1650.8,1940.5 L1651.8,1944.5 L1652.7,1944.9 L1653.7,1947.3 L1654.7,1949.7 L1655.7,1951.9 L1656.8,1955.2 L1657.9,1957.1 L1658.9,1959.3 L1660.0,1961.3 L1661.0,1965.5 L1662.1,1966.1 L1663.3,1968.9 L1664.6,1972.1 L1666.1,1975.1 L1667.9,1976.4 L1669.8,1978.3 L1672.0,1979.7 L1674.4,1981.0 L1676.9,1981.6 L1679.5,1979.4 L1681.8,1978.1 L1684.0,1978.2 L1686.1,1976.4 L1688.1,1974.8 L1690.2,1973.7 L1692.3,1971.2 L1694.4,1970.3 L1696.5,1968.5 L1698.5,1966.9 L1700.5,1965.3 L1702.5,1963.6 L1704.4,1961.8 L1706.3,1960.0 L1708.1,1958.2 L1709.9,1956.3 L1711.7,1954.4 L1713.5,1952.5 L1715.2,1950.6 L1716.9,1948.6 L1718.6,1946.6 L1720.3,1944.7 L1722.0,1942.7 L1723.7,1940.7 L1725.4,1938.7 L1727.0,1936.7 L1728.7,1934.7 L1730.3,1932.7 L1732.0,1930.7 L1733.6,1928.7 L1735.3,1926.7 L1736.9,1924.7 L1738.5,1922.6 L1740.1,1920.6 L1741.7,1918.5 L1743.2,1916.4 L1744.8,1914.3 L1746.3,1912.2 L1747.9,1910.2 L1749.6,1908.2 L1751.4,1906.3 L1753.4,1904.7 L1755.6,1903.3 L1758.0,1902.2 L1760.5,1901.5 L1763.0,1901.2 L1765.6,1901.2 L1768.2,1901.5 L1770.7,1902.2 L1773.1,1903.3 L1775.2,1904.8 L1777.2,1906.5 L1779.1,1908.3 L1780.9,1910.1 L1782.8,1911.9 L1784.7,1913.7 L1786.5,1915.6 L1788.2,1917.5 L1790.0,1919.4 L1791.8,1921.3 L1793.6,1923.1 L1795.5,1924.9 L1797.6,1926.5 L1799.6,1928.1 L1801.7,1929.6 L1803.8,1931.1 L1806.0,1932.5 L1808.3,1933.8 L1810.7,1934.7 L1813.3,1935.2 L1815.9,1935.2 L1818.4,1934.7 L1820.8,1933.6 L1822.8,1932.0 L1824.5,1930.0 L1825.9,1927.9 L1827.2,1925.6 L1828.3,1923.3 L1829.4,1920.9 L1830.4,1918.5 L1831.3,1916.0 L1832.2,1913.6 L1833.1,1911.2 L1834.0,1908.7 L1834.8,1906.3 L1835.7,1903.8 L1836.6,1901.4 L1837.5,1898.9 L1838.4,1896.5 L1839.3,1894.0 L1840.2,1891.6 L1841.0,1889.2 L1841.9,1886.7 L1842.7,1884.2 L1843.6,1881.8 L1844.4,1879.3 L1845.3,1876.9 L1846.1,1874.4 L1847.0,1872.0 L1847.9,1869.5 L1848.8,1867.1 L1849.7,1864.7 L1850.7,1862.2 L1851.7,1859.8 L1852.7,1857.5 L1853.8,1855.1 L1854.8,1852.7 L1855.9,1850.3 L1856.9,1847.9 L1858.0,1845.6 L1859.1,1843.2 L1860.3,1840.9 L1861.5,1838.6 L1862.7,1836.3 L1864.0,1834.0 L1865.3,1831.8 L1866.6,1829.6 L1868.1,1827.4 L1869.6,1825.3 L1871.2,1823.2 L1872.8,1821.2 L1874.6,1819.3 L1876.4,1817.4 L1878.2,1815.6 L1880.2,1813.9 L1882.2,1812.2 L1884.2,1810.6 L1886.3,1809.0 L1888.4,1807.6 L1890.6,1806.2 L1892.9,1804.9 L1895.2,1803.7 L1897.5,1802.5 L1899.9,1801.4 L1902.2,1800.3 L1904.6,1799.3 L1907.0,1798.2 L1909.4,1797.2 L1911.7,1796.1 L1914.0,1794.9 L1916.3,1793.7 L1918.6,1792.4 L1920.9,1791.1 L1923.1,1789.9 L1925.4,1788.6 L1927.7,1787.5 L1930.1,1786.4 L1932.6,1785.6 L1935.1,1784.9 L1937.6,1784.4 L1940.2,1784.0 L1942.8,1783.7 L1945.4,1783.6 L1948.0,1783.6 L1950.6,1783.7 L1953.2,1784.0 L1955.7,1784.7 L1958.1,1785.6 L1960.4,1786.8 L1962.7,1788.1 L1964.8,1789.6 L1966.7,1791.3 L1968.0,1793.6 L1969.2,1795.9 L1971.2,1797.4 L1973.8,1798.0 L1976.3,1798.3 L1978.9,1798.4 L1981.5,1798.4 L1984.1,1798.1 L1986.7,1797.6 L1989.1,1796.7 L1991.2,1795.2 L1992.8,1793.2 L1994.2,1790.9 L1995.4,1788.7 L1996.7,1786.4 L1998.1,1784.2 L1999.6,1782.1 L2001.3,1780.1 L2002.9,1778.1 L2004.6,1776.1 L2006.5,1774.3 L2008.5,1772.6 L2010.7,1771.2 L2013.0,1770.1 L2015.5,1769.2 L2018.0,1768.5 L2020.5,1768.0 L2023.1,1767.6 L2025.7,1767.4 L2028.3,1767.3 L2030.9,1767.4 L2033.4,1767.7 L2036.0,1768.2 L2038.5,1768.7 L2041.1,1769.4 L2043.6,1770.0 L2046.1,1770.7 L2048.6,1771.4 L2051.1,1772.1 L2053.6,1772.9 L2056.1,1773.7 L2058.5,1774.5 L2061.0,1775.4 L2063.4,1776.3 L2065.8,1777.3 L2068.2,1778.4 L2070.5,1779.5 L2072.8,1780.6 L2075.2,1781.8 L2077.5,1783.1 L2079.7,1784.3 L2082.0,1785.7 L2084.2,1787.0 L2086.3,1788.5 L2088.4,1790.1 L2090.3,1791.9 L2092.0,1793.8 L2093.7,1795.8 L2095.4,1797.7 L2097.3,1799.5 L2099.4,1801.0 L2101.9,1801.7 L2104.5,1801.5 L2106.9,1800.7 L2109.3,1799.7 L2111.8,1798.8 L2114.3,1798.4 L2116.9,1798.7 L2119.4,1799.6 L2121.7,1800.7 L2123.9,1802.0 L2126.0,1803.6 L2128.1,1805.2 L2130.0,1806.9 L2132.0,1808.6 L2133.9,1810.3 L2135.8,1812.1 L2137.6,1814.0 L2139.4,1815.8 L2141.2,1817.7 L2143.0,1819.7 L2144.7,1821.6 L2146.3,1823.6 L2148.0,1825.6 L2149.6,1827.7 L2151.2,1829.7 L2152.6,1831.9 L2154.1,1834.0 L2155.5,1836.2 L2156.9,1838.4 L2158.2,1840.7 L2159.5,1842.9 L2160.9,1845.1 L2162.2,1847.4 L2163.5,1849.6 L2164.8,1851.9 L2166.2,1854.1 L2167.5,1856.3 L2168.9,1858.5 L2170.4,1860.6 L2172.0,1862.7 L2173.6,1864.8 L2175.2,1866.8 L2176.9,1868.7 L2178.7,1870.6 L2180.7,1872.2 L2182.9,1873.7 L2185.1,1875.0 L2187.5,1876.1 L2189.9,1877.0 L2192.4,1877.7 L2195.0,1878.3 L2197.5,1878.8 L2200.1,1879.1 L2202.7,1879.4 L2205.3,1879.5 L2207.9,1879.5 L2210.5,1879.3 L2213.0,1879.0 L2215.6,1878.6 L2218.2,1878.3 L2220.8,1877.9 L2223.4,1877.7 L2226.0,1877.6 L2228.6,1877.7 L2231.1,1878.0 L2233.6,1878.7 L2235.6,1880.4 L2237.1,1882.5 L2238.5,1884.7 L2239.7,1887.0 L2240.9,1889.3 L2241.9,1891.7 L2242.9,1894.1 L2243.8,1896.5 L2244.7,1899.0 L2245.5,1901.4 L2246.2,1903.9 L2246.9,1906.4 L2247.6,1908.9 L2248.2,1911.5 L2248.9,1914.0 L2249.4,1916.5 L2250.0,1919.1 L2250.5,1921.6 L2251.0,1924.2 L2251.5,1926.7 L2252.0,1929.3 L2252.4,1931.8 L2252.9,1934.4 L2253.3,1937.0 L2253.7,1939.5 L2254.1,1942.1 L2254.6,1944.7 L2255.0,1947.2 L2255.3,1949.8 L2255.7,1952.4 L2256.1,1954.9 L2256.5,1957.5 L2256.8,1960.1 L2257.2,1962.7 L2257.5,1965.3 L2257.8,1967.8 L2258.2,1970.4 L2258.5,1973.0 L2258.8,1975.6 L2259.1,1978.1 L2259.5,1980.7 L2259.8,1983.3 L2260.1,1985.9 L2260.5,1988.5 L2260.8,1991.0 L2261.1,1993.6 L2261.4,1996.2 L2261.8,1998.8 L2262.1,2001.4 L2262.5,2003.9 L2262.8,2006.5 L2263.2,2009.1 L2263.5,2011.7 L2263.9,2014.2 L2264.2,2016.8 L2264.6,2019.4 L2264.9,2022.0 L2265.3,2024.5 L2265.6,2027.1 L2266.0,2029.7 L2266.3,2032.3 L2266.7,2034.9 L2267.0,2037.4 L2267.4,2040.0 L2267.7,2042.6 L2268.1,2045.2 L2268.4,2047.7 L2268.8,2050.3 L2269.1,2052.9 L2269.5,2055.5 L2269.8,2058.0 L2270.2,2060.6 L2270.5,2063.2 L2270.9,2065.8 L2271.2,2068.0" fill="none" stroke="#f9e2e0" stroke-width="8" stroke-linejoin="round" stroke-linecap="round"/>
<path d="M186.5,354.1 L189.1,354.0 L191.7,353.9 L194.3,353.9 L196.9,353.4 L199.5,354.3 L202.1,354.4 L204.7,353.9 L207.3,352.7 L209.9,353.4 L212.5,352.9 L215.1,352.6 L217.7,354.0 L220.3,353.8 L222.9,352.4 L225.5,353.1 L228.1,352.8 L230.7,352.7 L233.3,352.4 L235.9,352.8 L238.5,352.2 L241.1,352.9 L243.7,352.8 L246.3,350.2 L248.9,353.0 L251.4,353.8 L254.0,353.5 L256.6,351.5 L259.2,348.5 L261.8,348.1 L264.4,348.4 L267.0,352.1 L269.6,348.8 L272.1,348.9 L274.7,351.2 L277.3,348.2 L279.9,349.2 L282.5,348.5 L285.1,346.5 L287.7,348.8 L290.3,349.9 L292.9,346.4 L295.5,346.6 L298.1,347.3 L300.7,345.3 L303.3,347.4 L305.9,348.7 L308.5,347.8 L311.1,347.0 L313.6,348.3 L316.2,344.8 L318.8,346.6 L321.4,345.4 L324.0,346.3 L326.6,343.8 L329.2,346.7 L331.8,343.2 L334.4,343.2 L336.9,345.8 L339.3,345.4 L340.6,341.0 L343.2,340.7 L345.8,339.8 L348.4,339.9 L351.0,341.7 L353.6,339.6 L356.2,339.5 L358.8,341.2 L361.4,339.9 L364.0,342.4 L366.6,343.3 L369.2,343.1 L371.8,341.7 L374.4,341.1 L377.0,341.4 L379.6,339.1 L382.2,342.3 L384.8,340.2 L387.3,339.8 L389.9,338.3 L392.5,339.8 L395.1,340.1 L397.7,338.9 L400.3,341.0 L402.9,340.0 L405.5,337.8 L408.1,339.2 L410.7,341.0 L413.3,339.2 L415.9,339.7 L418.5,337.2 L421.1,339.3 L423.7,339.3 L426.3,339.1 L428.9,339.2 L431.4,340.1 L434.0,340.1 L436.6,340.3 L439.2,339.2 L441.7,341.2 L444.2,343.7 L446.7,342.5 L449.2,342.6 L451.7,343.7 L454.2,345.0 L456.7,345.7 L459.2,346.5 L461.7,347.2 L464.2,347.9 L466.7,348.6 L469.2,349.2 L471.7,349.8 L474.3,350.3 L476.8,350.8 L479.4,351.2 L482.0,351.6 L484.6,351.9 L487.1,352.2 L489.7,352.5 L492.3,352.8 L494.9,353.0 L497.5,353.3 L500.1,353.5 L502.7,353.8 L505.3,354.0 L507.8,354.3 L510.4,354.5 L513.0,354.8 L515.6,355.0 L518.2,355.3 L520.8,355.5 L523.4,355.8 L526.0,356.0 L528.5,356.2 L531.1,356.5 L533.7,356.7 L536.3,356.9 L538.9,357.2 L541.5,357.4 L544.1,357.6 L546.7,357.8 L549.3,358.1 L551.9,358.3 L554.4,358.5 L557.0,358.7 L559.6,358.9 L562.2,359.1 L564.8,359.3 L567.4,359.5 L570.0,359.7 L572.6,359.9 L575.2,360.1 L577.8,360.2 L580.4,360.4 L583.0,360.6 L585.6,360.7 L588.2,360.9 L590.8,361.0 L593.4,361.1 L596.0,361.3 L598.6,361.4 L601.1,361.5 L603.7,361.6 L606.3,361.7 L608.9,361.8 L611.5,361.8 L614.1,361.9 L616.7,362.0 L619.3,362.0 L621.9,362.0 L624.5,362.1 L627.1,362.1 L629.7,362.1 L632.3,362.1 L634.9,362.1 L637.5,362.1 L640.1,362.0 L642.7,362.0 L645.3,361.9 L647.9,361.9 L650.5,361.8 L653.1,361.8 L655.7,361.7 L658.3,361.6 L660.9,361.5 L663.5,361.5 L666.1,361.4 L668.7,361.3 L671.3,361.2 L673.9,361.1 L676.5,360.9 L679.1,360.8 L681.7,360.7 L684.3,360.6 L686.9,360.4 L689.5,360.3 L692.1,360.2 L694.7,360.0 L697.3,359.9 L699.9,359.7 L702.5,359.6 L705.1,359.4 L707.7,359.3 L710.3,359.1 L712.9,359.0 L715.5,358.9 L718.1,358.7 L720.7,358.6 L723.3,358.5 L725.9,358.3 L728.4,358.2 L731.0,358.1 L733.6,358.0 L736.2,357.9 L738.8,357.8 L741.4,357.7 L744.0,357.7 L746.6,357.7 L749.2,357.6 L751.8,357.6 L754.4,357.6 L757.0,357.6 L759.6,357.6 L762.2,357.5 L764.8,357.5 L767.4,357.4 L770.0,357.3 L772.6,357.2 L775.2,357.0 L777.8,356.9 L780.4,356.7 L783.0,356.4 L785.6,356.2 L788.2,355.9 L790.8,355.6 L793.3,355.3 L795.9,355.0 L798.5,354.7 L801.1,354.3 L803.7,354.0 L806.2,353.6 L808.8,353.3 L811.4,352.9 L814.0,352.5 L816.5,352.2 L819.1,351.8 L821.7,351.5 L824.3,351.1 L826.8,350.7 L829.4,350.4 L832.0,350.0 L834.6,349.7 L837.1,349.4 L839.7,349.0 L842.3,348.7 L844.9,348.4 L847.5,348.0 L850.0,347.7 L852.6,347.4 L855.2,347.1 L857.8,346.7 L860.4,346.4 L862.9,346.1 L865.5,345.8 L868.1,345.4 L870.7,345.1 L873.3,344.8 L875.8,344.5 L878.4,344.1 L881.0,343.8 L883.6,343.4 L886.1,343.1 L888.7,342.8 L891.3,342.4 L893.9,342.1 L896.5,341.7 L899.0,341.4 L901.6,341.0 L904.2,340.6 L906.7,340.3 L909.3,339.9 L911.9,339.5 L914.5,339.1 L917.0,338.7 L919.6,338.3 L922.2,337.8 L924.7,337.4 L927.3,337.0 L929.9,336.6 L932.4,336.1 L935.0,335.7 L937.5,335.2 L940.1,334.8 L942.7,334.3 L945.2,333.9 L947.8,333.5 L950.4,333.1 L952.9,332.6 L955.5,332.2 L958.1,331.8 L960.6,331.4 L963.2,331.1 L965.8,330.7 L968.3,330.3 L970.9,330.0 L973.5,329.6 L976.1,329.3 L978.7,328.9 L981.2,328.6 L983.8,328.4 L986.4,328.1 L989.0,327.9 L991.6,327.8 L994.2,328.0 L996.5,329.0 L998.8,330.2 L1001.4,330.4 L1004.0,330.1 L1006.5,329.5 L1009.0,328.9 L1011.5,328.2 L1014.1,327.5 L1016.5,326.8 L1019.0,326.1 L1021.5,325.3 L1024.0,324.5 L1026.5,323.8 L1029.0,323.0 L1031.5,322.2 L1033.9,321.5 L1036.4,320.7 L1038.9,320.0 L1041.4,319.3 L1043.9,318.5 L1046.4,317.9 L1049.0,317.3 L1051.5,316.7 L1054.0,316.1 L1056.6,315.6 L1059.1,315.1 L1061.7,314.6 L1064.2,314.2 L1066.8,313.7 L1069.4,313.3 L1071.9,312.9 L1074.5,312.5 L1077.1,312.2 L1079.7,311.8 L1082.2,311.5 L1084.8,311.1 L1087.4,310.8 L1090.0,310.5 L1092.6,310.2 L1095.2,309.9 L1097.7,309.7 L1100.3,309.5 L1102.9,309.3 L1105.5,309.1 L1108.1,308.9 L1110.7,308.7 L1113.3,308.5 L1115.9,308.3 L1118.5,308.0 L1121.1,307.8 L1123.6,307.4 L1126.2,307.0 L1128.8,306.6 L1131.3,306.1 L1133.9,305.6 L1136.4,305.0 L1138.9,304.5 L1141.5,303.9 L1144.0,303.3 L1146.5,302.7 L1149.1,302.1 L1151.6,301.5 L1154.2,300.8 L1156.8,300.3 L1159.4,300.6 L1162.0,302.0 L1164.3,301.9 L1166.4,303.4 L1168.3,305.1 L1169.7,307.5 L1171.0,309.6 L1172.4,312.5 L1174.5,314.3 L1176.5,312.3 L1177.9,309.3 L1179.1,307.7 L1180.2,306.1 L1181.3,301.6 L1182.6,299.5 L1184.1,298.5 L1186.2,298.9 L1187.4,301.0 L1188.2,303.3 L1189.1,306.5 L1190.3,307.8 L1192.4,310.1 L1194.9,310.2 L1197.3,307.7 L1199.6,307.8 L1202.1,306.5 L1204.6,306.4 L1207.2,303.5 L1209.7,305.4 L1212.3,304.5 L1214.8,304.5 L1217.3,304.0 L1219.9,301.4 L1222.4,301.8 L1224.8,299.4 L1227.2,299.7 L1229.5,299.4 L1231.7,296.0 L1233.9,295.0 L1236.0,292.7 L1238.1,291.6 L1240.3,290.2 L1242.6,288.6 L1244.9,289.9 L1247.3,288.7 L1249.8,286.7 L1252.3,286.8 L1254.8,286.0 L1257.4,285.0 L1259.9,284.1 L1262.4,284.2 L1264.9,283.2 L1267.4,281.5 L1269.6,280.5 L1271.4,279.4 L1272.8,277.1 L1274.7,274.7 L1276.4,277.7 L1277.9,280.5 L1280.4,280.8 L1282.7,279.1 L1284.9,276.1 L1287.1,275.6 L1289.2,273.1 L1291.2,271.5 L1293.3,270.4 L1295.3,269.3 L1297.3,268.5 L1299.2,266.4 L1301.0,263.6 L1302.5,262.6 L1303.4,259.6 L1304.2,257.2 L1306.2,254.9 L1308.7,255.4 L1311.1,256.2 L1313.3,258.5 L1315.4,259.4 L1317.3,261.1 L1319.2,262.9 L1321.1,264.7 L1323.1,266.8 L1325.0,268.5 L1327.0,270.0 L1329.2,271.3 L1331.4,272.6 L1333.9,273.4 L1336.5,273.7 L1339.0,273.5 L1341.6,273.0 L1344.1,272.3 L1346.6,271.5 L1349.1,270.7 L1351.6,270.1 L1354.1,269.7 L1356.7,269.4 L1359.3,269.2 L1361.9,269.0 L1364.5,268.7 L1367.0,268.1 L1369.4,267.1 L1371.5,265.6 L1373.2,263.6 L1374.5,261.3 L1375.6,259.1 L1376.8,256.9 L1378.1,254.7 L1379.7,252.6 L1381.6,250.1 L1383.8,249.9 L1386.0,248.8 L1388.5,245.8 L1391.1,246.2 L1393.6,246.4 L1396.1,248.7 L1398.3,249.5 L1400.5,249.9 L1402.6,251.1 L1404.8,252.4 L1407.2,253.3 L1409.7,255.8 L1411.5,254.5 L1412.4,249.8 L1413.2,248.9 L1413.9,247.1 L1415.3,242.5 L1417.4,242.3 L1419.9,241.0 L1422.4,242.3 L1425.0,241.9 L1427.6,239.3 L1430.1,240.4 L1432.4,243.8 L1434.4,244.5 L1436.5,245.9 L1438.9,247.9 L1441.3,248.7 L1443.8,250.1 L1446.3,248.6 L1448.9,248.0 L1451.5,250.0 L1454.1,247.8 L1456.7,249.1 L1459.3,249.7 L1461.8,247.9 L1464.4,248.0 L1467.0,246.7 L1469.5,246.4 L1472.1,246.4 L1474.6,245.8 L1477.2,245.5 L1479.7,244.4 L1482.2,244.7 L1484.8,243.6 L1487.3,242.7 L1489.8,242.1 L1492.3,241.9 L1494.9,240.7 L1497.4,239.6 L1499.9,240.7 L1502.4,239.7 L1505.0,239.0 L1507.5,238.7 L1510.1,238.9 L1512.7,236.5 L1515.2,237.7 L1517.8,237.3 L1520.4,235.9 L1523.0,236.1 L1525.6,235.6 L1528.1,234.7 L1530.7,235.0 L1533.3,234.1 L1535.9,235.7 L1538.5,233.6 L1541.1,234.4 L1543.6,233.9 L1546.2,235.1 L1548.8,233.9 L1551.3,231.7 L1553.9,231.3 L1556.4,229.4 L1559.0,228.9 L1561.5,229.4 L1564.1,231.5 L1566.6,227.5 L1569.2,227.6 L1571.8,229.1 L1574.4,227.7 L1577.0,226.8 L1579.5,229.6 L1582.1,225.9 L1584.7,228.1 L1587.3,227.6 L1589.9,227.7 L1592.4,227.9 L1594.8,228.7 L1597.1,230.9 L1599.3,233.7 L1601.5,234.0 L1603.5,236.8 L1605.5,238.9 L1607.4,237.8 L1609.3,242.4 L1611.2,243.0 L1613.1,244.1 L1615.1,246.2 L1617.0,249.5 L1618.9,249.3 L1620.7,249.9 L1622.7,255.1 L1624.7,253.4 L1626.8,255.1 L1629.1,258.3 L1631.5,258.1 L1634.0,258.9 L1636.5,260.0 L1638.9,261.0 L1641.2,262.2 L1643.3,264.0 L1645.3,265.5 L1647.3,267.2 L1649.2,268.9 L1651.0,269.7 L1652.8,271.8 L1654.5,275.0 L1656.0,277.2 L1657.5,277.7 L1659.0,281.3 L1660.4,283.0 L1661.9,285.5 L1663.4,287.1 L1665.0,288.6 L1666.6,291.0 L1668.4,294.7 L1670.1,294.4 L1671.9,298.2 L1673.9,298.9 L1676.2,298.9 L1678.7,301.3 L1681.1,298.2 L1683.2,299.0 L1685.3,296.0 L1687.4,295.9 L1689.7,294.1 L1692.0,292.4 L1694.4,291.8 L1696.8,291.0 L1699.3,289.7 L1701.7,288.8 L1704.1,287.8 L1706.6,287.0 L1709.1,286.3 L1711.6,285.7 L1714.1,284.9 L1716.4,283.7 L1718.5,282.2 L1720.3,280.4 L1722.0,278.4 L1723.7,276.4 L1725.2,274.3 L1726.7,272.2 L1728.2,270.1 L1729.8,268.0 L1731.3,265.9 L1732.8,263.8 L1734.3,261.6 L1735.8,259.5 L1737.2,257.3 L1738.7,255.1 L1740.2,253.0 L1741.8,251.0 L1743.5,249.0 L1745.4,247.2 L1747.3,245.5 L1749.4,243.9 L1751.6,242.6 L1754.1,241.7 L1756.6,241.1 L1759.2,240.8 L1761.8,240.8 L1764.4,240.9 L1766.9,241.2 L1769.5,241.7 L1772.0,242.2 L1774.6,242.9 L1777.0,243.7 L1779.4,244.8 L1781.6,246.2 L1783.6,247.9 L1785.5,249.6 L1787.5,251.3 L1789.4,253.0 L1791.5,254.6 L1793.5,256.3 L1795.5,257.9 L1797.5,259.6 L1799.5,261.3 L1801.5,262.9 L1803.5,264.6 L1805.4,266.3 L1807.4,268.0 L1809.4,269.7 L1811.3,271.4 L1813.2,273.3 L1815.0,275.1 L1816.8,277.0 L1818.6,278.8 L1820.5,280.6 L1822.5,282.3 L1824.6,283.8 L1827.0,284.7 L1829.6,284.9 L1831.9,283.7 L1833.7,281.8 L1835.1,279.6 L1836.3,277.3 L1837.2,274.9 L1838.1,272.5 L1838.9,270.0 L1839.7,267.5 L1840.4,265.0 L1841.1,262.5 L1841.9,260.0 L1842.6,257.5 L1843.4,255.0 L1844.2,252.6 L1845.0,250.1 L1845.8,247.6 L1846.6,245.2 L1847.5,242.7 L1848.3,240.2 L1849.1,237.8 L1849.9,235.3 L1850.8,232.8 L1851.6,230.4 L1852.5,227.9 L1853.4,225.5 L1854.3,223.0 L1855.2,220.6 L1856.2,218.2 L1857.3,215.9 L1858.4,213.5 L1859.6,211.2 L1860.8,208.9 L1862.1,206.6 L1863.4,204.4 L1864.8,202.2 L1866.3,200.0 L1867.8,197.9 L1869.3,195.8 L1870.9,193.8 L1872.6,191.8 L1874.3,189.9 L1876.1,188.0 L1878.0,186.2 L1880.0,184.5 L1882.1,182.9 L1884.2,181.4 L1886.3,180.0 L1888.5,178.6 L1890.7,177.2 L1892.9,175.8 L1895.2,174.5 L1897.4,173.2 L1899.7,172.0 L1902.0,170.8 L1904.4,169.6 L1906.7,168.5 L1909.0,167.4 L1911.4,166.3 L1913.8,165.2 L1916.1,164.1 L1918.5,163.0 L1920.8,161.9 L1923.2,160.8 L1925.6,159.8 L1928.0,158.9 L1930.5,158.0 L1933.0,157.4 L1935.5,156.8 L1938.1,156.3 L1940.7,155.9 L1943.2,155.6 L1945.8,155.4 L1948.4,155.2 L1951.0,155.1 L1953.6,155.2 L1956.2,155.6 L1958.6,156.5 L1960.9,157.8 L1963.1,159.1 L1965.1,160.8 L1967.0,162.6 L1968.9,164.3 L1971.1,165.8 L1973.2,167.3 L1975.3,168.7 L1977.8,169.7 L1980.3,169.6 L1982.7,168.7 L1984.9,167.3 L1987.0,165.8 L1989.2,164.2 L1991.3,162.8 L1993.6,161.5 L1995.8,160.1 L1998.0,158.8 L2000.3,157.5 L2002.6,156.3 L2004.9,155.1 L2007.2,153.9 L2009.5,152.7 L2011.8,151.6 L2014.2,150.6 L2016.7,149.8 L2019.2,149.2 L2021.8,148.7 L2024.4,148.4 L2027.0,148.2 L2029.6,148.2 L2032.2,148.1 L2034.8,148.2 L2037.4,148.3 L2040.0,148.4 L2042.6,148.6 L2045.1,148.9 L2047.7,149.2 L2050.3,149.6 L2052.8,150.1 L2055.4,150.6 L2057.9,151.3 L2060.4,152.0 L2062.9,152.8 L2065.3,153.7 L2067.7,154.7 L2070.1,155.7 L2072.5,156.8 L2074.8,157.9 L2077.1,159.1 L2079.4,160.4 L2081.6,161.7 L2083.8,163.2 L2085.9,164.7 L2088.0,166.3 L2090.0,167.8 L2092.1,169.4 L2094.2,171.0 L2096.0,172.8 L2097.7,174.8 L2099.7,176.5 L2102.0,177.5 L2104.6,177.2 L2106.9,176.0 L2109.0,174.5 L2111.3,173.2 L2113.7,172.4 L2116.3,172.4 L2118.8,173.0 L2121.3,173.9 L2123.6,175.0 L2125.9,176.2 L2128.2,177.5 L2130.4,178.9 L2132.6,180.3 L2134.7,181.8 L2136.8,183.3 L2138.9,184.8 L2140.9,186.4 L2143.0,188.1 L2144.9,189.8 L2146.8,191.5 L2148.7,193.3 L2150.6,195.2 L2152.4,197.1 L2154.1,199.0 L2155.8,201.0 L2157.4,203.0 L2158.9,205.1 L2160.4,207.3 L2161.8,209.4 L2163.3,211.6 L2164.7,213.8 L2166.1,215.9 L2167.5,218.1 L2169.0,220.3 L2170.5,222.4 L2172.1,224.4 L2173.8,226.4 L2175.6,228.3 L2177.5,230.0 L2179.5,231.7 L2181.6,233.2 L2183.8,234.6 L2186.1,235.9 L2188.3,237.2 L2190.7,238.3 L2193.0,239.5 L2195.3,240.6 L2197.7,241.7 L2200.1,242.8 L2202.5,243.7 L2204.9,244.6 L2207.4,245.4 L2209.9,246.1 L2212.5,246.6 L2215.1,246.8 L2217.5,246.1 L2219.7,244.7 L2221.9,243.3 L2224.4,242.8 L2227.0,242.6 L2229.6,242.6 L2232.2,243.2 L2234.4,244.5 L2236.4,246.2 L2238.2,248.1 L2239.8,250.1 L2241.3,252.2 L2242.7,254.4 L2244.0,256.6 L2245.2,258.9 L2246.3,261.3 L2247.3,263.7 L2248.3,266.1 L2249.1,268.6 L2249.9,271.0 L2250.7,273.5 L2251.5,276.0 L2252.2,278.5 L2252.9,281.0 L2253.6,283.5 L2254.2,286.0 L2254.9,288.6 L2255.5,291.1 L2256.1,293.6 L2256.7,296.1 L2257.3,298.7 L2257.9,301.2 L2258.5,303.7 L2259.1,306.3 L2259.6,308.8 L2260.2,311.3 L2260.7,313.9 L2261.2,316.4 L2261.7,319.0 L2262.2,321.5 L2262.7,324.1 L2263.1,326.7 L2263.5,329.2 L2264.0,331.8 L2264.4,334.4 L2264.7,336.9 L2265.1,339.5 L2265.4,342.1 L2265.8,344.7 L2266.1,347.2 L2266.4,349.8 L2266.7,352.4 L2267.0,355.0 L2267.3,357.6 L2267.6,360.2 L2267.9,362.7 L2268.2,365.3 L2268.4,367.9 L2268.7,370.5 L2269.0,373.1 L2269.3,375.7 L2269.5,378.3 L2269.8,380.8 L2270.1,383.4 L2270.2,384.4" fill="none" stroke="#83403b" stroke-width="4" stroke-linejoin="round" stroke-linecap="round"/>
<path d="M186.5,968.3 L189.1,968.2 L191.7,968.2 L194.3,968.5 L196.9,968.0 L199.5,968.0 L202.1,968.1 L204.7,967.1 L207.3,967.8 L209.9,968.0 L212.5,968.4 L215.1,966.6 L217.7,967.1 L220.3,966.8 L222.9,967.7 L225.5,967.4 L228.1,967.0 L230.7,967.2 L233.3,967.4 L235.9,967.1 L238.5,967.0 L241.1,965.3 L243.7,964.2 L246.3,966.3 L248.8,963.8 L251.4,964.1 L254.0,964.1 L256.6,962.7 L259.2,964.5 L261.8,964.1 L264.3,965.7 L266.9,963.9 L269.5,964.2 L272.1,963.3 L274.7,963.9 L277.3,962.7 L279.9,961.6 L282.5,964.8 L285.1,964.6 L287.6,963.7 L290.2,962.8 L292.8,960.8 L295.4,960.2 L298.0,960.2 L300.6,959.0 L303.2,962.1 L305.8,960.2 L308.4,962.1 L311.0,959.7 L313.6,962.2 L316.2,961.4 L318.7,957.1 L321.3,957.9 L323.9,961.0 L326.5,958.6 L329.1,960.7 L331.7,957.6 L334.2,955.5 L336.7,957.5 L338.9,956.9 L339.6,952.1 L341.5,949.7 L344.0,950.5 L346.6,953.4 L349.2,952.4 L351.8,949.4 L354.4,950.1 L357.0,949.6 L359.6,949.5 L362.2,953.2 L364.8,950.4 L367.4,952.3 L370.0,951.8 L372.6,950.6 L375.2,953.1 L377.8,950.0 L380.4,952.2 L382.9,949.3 L385.5,950.3 L388.1,948.8 L390.6,948.6 L393.2,951.5 L395.7,950.2 L398.3,947.5 L400.9,950.0 L403.5,946.5 L406.1,947.3 L408.7,949.4 L411.3,948.4 L413.9,945.8 L416.5,950.1 L419.1,946.5 L421.7,946.8 L424.3,949.4 L426.9,947.4 L429.5,947.4 L432.0,946.5 L434.6,947.0 L437.1,950.0 L439.6,949.1 L442.1,951.5 L444.6,951.5 L447.0,952.7 L449.4,954.6 L451.9,954.7 L454.3,955.7 L456.7,956.7 L459.1,957.6 L461.5,958.6 L464.0,959.5 L466.4,960.4 L468.9,961.2 L471.3,962.0 L473.8,962.7 L476.3,963.4 L478.9,964.0 L481.4,964.6 L483.9,965.2 L486.5,965.7 L489.0,966.2 L491.6,966.7 L494.2,967.1 L496.7,967.5 L499.3,967.9 L501.9,968.4 L504.4,968.8 L507.0,969.2 L509.6,969.7 L512.1,970.1 L514.7,970.5 L517.2,970.9 L519.8,971.3 L522.4,971.8 L524.9,972.2 L527.5,972.6 L530.1,973.0 L532.7,973.4 L535.2,973.8 L537.8,974.2 L540.4,974.6 L542.9,975.0 L545.5,975.4 L548.1,975.8 L550.6,976.1 L553.2,976.5 L555.8,976.9 L558.4,977.2 L560.9,977.6 L563.5,977.9 L566.1,978.2 L568.7,978.5 L571.3,978.8 L573.9,979.1 L576.4,979.4 L579.0,979.7 L581.6,979.9 L584.2,980.2 L586.8,980.4 L589.4,980.6 L592.0,980.8 L594.6,981.0 L597.2,981.2 L599.8,981.4 L602.3,981.5 L604.9,981.6 L607.5,981.7 L610.1,981.8 L612.7,981.9 L615.3,981.9 L617.9,982.0 L620.5,982.0 L623.1,982.0 L625.7,982.0 L628.3,981.9 L630.9,981.9 L633.5,981.8 L636.1,981.7 L638.7,981.5 L641.3,981.4 L643.9,981.2 L646.5,981.1 L649.1,980.9 L651.7,980.7 L654.3,980.6 L656.9,980.4 L659.5,980.2 L662.1,980.1 L664.7,979.9 L667.3,979.7 L669.9,979.6 L672.5,979.4 L675.1,979.3 L677.7,979.1 L680.3,979.0 L682.8,978.8 L685.4,978.7 L688.0,978.5 L690.6,978.4 L693.2,978.2 L695.8,978.1 L698.4,977.9 L701.0,977.7 L703.6,977.6 L706.2,977.4 L708.8,977.2 L711.4,977.0 L714.0,976.9 L716.6,976.7 L719.2,976.5 L721.8,976.3 L724.4,976.1 L726.9,975.9 L729.5,975.7 L732.1,975.5 L734.7,975.2 L737.3,975.0 L739.9,974.8 L742.5,974.5 L745.1,974.2 L747.7,973.9 L750.2,973.7 L752.8,973.4 L755.4,973.0 L758.0,972.7 L760.6,972.4 L763.1,972.1 L765.7,971.7 L768.3,971.4 L770.9,971.0 L773.4,970.7 L776.0,970.3 L778.6,970.0 L781.2,969.6 L783.8,969.3 L786.3,968.9 L788.9,968.6 L791.5,968.2 L794.1,967.9 L796.6,967.5 L799.2,967.2 L801.8,966.8 L804.4,966.4 L806.9,966.1 L809.5,965.7 L812.1,965.3 L814.6,964.9 L817.2,964.5 L819.8,964.1 L822.4,963.7 L824.9,963.3 L827.5,962.9 L830.1,962.5 L832.6,962.0 L835.2,961.6 L837.7,961.2 L840.3,960.7 L842.9,960.3 L845.4,959.8 L848.0,959.4 L850.5,958.9 L853.1,958.4 L855.7,958.0 L858.2,957.5 L860.8,957.0 L863.3,956.5 L865.9,956.0 L868.4,955.6 L871.0,955.1 L873.5,954.6 L876.1,954.1 L878.7,953.6 L881.2,953.1 L883.8,952.6 L886.3,952.2 L888.9,951.7 L891.4,951.2 L894.0,950.7 L896.5,950.2 L899.1,949.7 L901.6,949.3 L904.2,948.8 L906.8,948.3 L909.3,947.9 L911.9,947.4 L914.4,946.9 L917.0,946.5 L919.6,946.0 L922.1,945.6 L924.7,945.1 L927.2,944.7 L929.8,944.2 L932.4,943.8 L934.9,943.4 L937.5,942.9 L940.0,942.5 L942.6,942.0 L945.2,941.5 L947.7,941.1 L950.3,940.6 L952.8,940.1 L955.4,939.6 L957.9,939.1 L960.5,938.5 L963.0,938.0 L965.5,937.4 L968.1,936.7 L970.6,936.0 L973.1,935.3 L975.6,934.6 L978.1,933.9 L980.6,933.2 L983.1,932.5 L985.6,931.8 L988.1,931.2 L990.7,930.8 L993.3,930.7 L995.7,931.5 L997.5,933.4 L999.8,934.4 L1002.4,934.3 L1004.9,933.8 L1007.4,933.1 L1009.9,932.2 L1012.3,931.3 L1014.7,930.3 L1017.1,929.3 L1019.5,928.4 L1021.9,927.3 L1024.3,926.3 L1026.7,925.3 L1029.1,924.3 L1031.5,923.2 L1033.9,922.2 L1036.3,921.2 L1038.7,920.2 L1041.1,919.3 L1043.5,918.3 L1046.0,917.5 L1048.4,916.6 L1050.9,915.8 L1053.4,915.1 L1055.9,914.4 L1058.4,913.8 L1061.0,913.2 L1063.5,912.6 L1066.0,912.0 L1068.6,911.5 L1071.1,911.1 L1073.7,910.6 L1076.3,910.1 L1078.8,909.7 L1081.4,909.3 L1084.0,908.9 L1086.5,908.4 L1089.1,908.0 L1091.7,907.6 L1094.2,907.2 L1096.8,906.9 L1099.4,906.5 L1102.0,906.2 L1104.6,906.0 L1107.1,905.7 L1109.7,905.4 L1112.3,905.1 L1114.9,904.7 L1117.5,904.4 L1120.0,904.0 L1122.6,903.5 L1125.1,903.0 L1127.7,902.4 L1130.2,901.7 L1132.6,900.9 L1135.1,900.1 L1137.6,899.3 L1140.0,898.4 L1142.5,897.6 L1144.9,896.7 L1147.4,895.9 L1149.9,895.1 L1152.4,894.5 L1154.9,893.4 L1157.5,892.8 L1160.0,894.0 L1162.6,894.6 L1164.6,894.8 L1166.2,896.6 L1168.0,900.1 L1169.2,902.9 L1170.3,903.2 L1171.4,907.6 L1172.7,909.7 L1174.8,909.9 L1176.4,907.4 L1177.5,904.1 L1178.4,901.5 L1179.3,901.7 L1180.1,897.2 L1180.9,896.0 L1181.8,892.3 L1182.8,891.5 L1184.0,888.6 L1185.9,887.8 L1186.8,889.9 L1187.5,894.0 L1188.0,894.7 L1188.5,897.7 L1189.0,901.1 L1189.7,904.5 L1190.6,906.2 L1192.6,906.7 L1194.9,907.4 L1196.7,903.6 L1198.6,901.2 L1200.6,900.3 L1202.9,899.6 L1205.4,897.7 L1208.0,897.5 L1210.5,897.6 L1213.1,897.7 L1215.6,895.9 L1218.1,895.9 L1220.6,896.6 L1223.0,895.9 L1225.3,893.8 L1227.5,892.4 L1229.5,890.5 L1231.4,887.5 L1233.3,885.4 L1235.1,883.5 L1236.8,884.1 L1238.6,881.6 L1240.4,880.4 L1242.2,875.9 L1244.1,875.9 L1246.1,873.8 L1248.2,872.9 L1250.5,870.6 L1252.9,871.6 L1255.5,868.4 L1258.0,869.3 L1260.6,869.5 L1263.2,869.7 L1265.8,868.8 L1268.1,867.6 L1270.0,866.1 L1271.3,864.2 L1272.2,860.2 L1273.4,858.8 L1275.6,859.3 L1277.1,861.3 L1278.6,862.1 L1280.8,864.5 L1283.2,863.9 L1285.3,861.6 L1287.2,860.0 L1289.1,857.6 L1290.9,856.3 L1292.7,854.4 L1294.4,851.0 L1296.1,850.6 L1297.7,849.5 L1299.3,847.1 L1300.7,844.5 L1301.8,841.2 L1302.6,839.7 L1303.1,836.8 L1303.5,833.8 L1304.0,832.3 L1304.8,827.8 L1306.8,828.1 L1309.1,827.1 L1311.1,830.4 L1313.0,831.8 L1314.7,833.0 L1316.4,836.3 L1317.9,837.9 L1319.5,840.2 L1321.0,842.8 L1322.6,843.8 L1324.2,845.7 L1325.8,848.1 L1327.5,850.3 L1329.4,851.9 L1331.5,853.5 L1333.8,854.6 L1336.4,854.8 L1339.0,854.4 L1341.4,853.5 L1343.8,852.4 L1346.1,851.3 L1348.4,850.1 L1350.8,849.0 L1353.3,848.4 L1355.8,848.0 L1358.4,847.9 L1361.0,847.9 L1363.6,847.8 L1366.2,847.3 L1368.6,846.3 L1370.6,844.7 L1372.1,842.6 L1373.3,840.3 L1374.2,837.9 L1375.0,835.4 L1375.8,833.0 L1376.6,830.5 L1377.5,828.0 L1378.5,825.9 L1379.8,823.2 L1381.5,821.6 L1383.4,819.1 L1385.7,818.2 L1388.1,818.3 L1390.7,818.4 L1393.2,818.5 L1395.6,817.9 L1397.8,820.0 L1399.8,820.8 L1401.8,821.9 L1403.8,824.7 L1405.9,827.3 L1408.4,828.1 L1410.6,826.6 L1411.6,825.0 L1412.3,820.3 L1412.8,817.4 L1413.3,815.8 L1413.9,812.7 L1414.7,810.0 L1416.1,808.6 L1418.3,807.9 L1420.8,806.8 L1423.4,806.1 L1426.0,808.0 L1428.6,809.0 L1430.9,808.5 L1432.8,809.0 L1434.5,810.8 L1436.4,815.3 L1438.5,814.1 L1440.9,817.3 L1443.3,817.7 L1445.9,817.4 L1448.5,819.1 L1451.1,816.7 L1453.7,816.9 L1456.2,817.7 L1458.8,816.0 L1461.4,818.1 L1464.0,816.1 L1466.5,815.7 L1469.1,815.3 L1471.6,815.4 L1474.2,814.8 L1476.7,814.2 L1479.2,813.7 L1481.8,813.2 L1484.2,812.8 L1486.7,811.7 L1489.2,809.9 L1491.7,809.7 L1494.1,808.2 L1496.6,807.0 L1499.1,807.3 L1501.6,807.1 L1504.1,805.1 L1506.6,804.6 L1509.1,804.1 L1511.6,804.3 L1514.1,803.3 L1516.7,803.0 L1519.2,802.8 L1521.8,801.4 L1524.3,801.9 L1526.9,801.7 L1529.4,799.3 L1532.0,800.9 L1534.6,799.9 L1537.1,798.0 L1539.7,798.2 L1542.2,798.2 L1544.7,798.8 L1547.2,796.0 L1549.7,796.0 L1552.2,796.5 L1554.7,795.4 L1557.2,795.2 L1559.6,792.4 L1562.1,792.4 L1564.6,790.0 L1567.2,791.4 L1569.7,791.3 L1572.3,790.1 L1574.8,790.0 L1577.4,787.6 L1580.0,790.1 L1582.6,790.4 L1585.2,790.5 L1587.8,789.1 L1590.2,790.9 L1592.6,790.1 L1594.8,793.8 L1596.8,795.2 L1598.7,794.9 L1600.6,795.7 L1602.4,799.0 L1604.1,801.4 L1605.8,804.3 L1607.3,805.2 L1608.9,805.5 L1610.4,810.7 L1612.0,809.8 L1613.6,814.7 L1615.3,814.2 L1616.9,816.9 L1618.6,820.7 L1620.2,820.1 L1621.9,822.2 L1623.7,825.5 L1625.5,828.2 L1627.5,830.1 L1629.7,830.8 L1632.1,832.2 L1634.6,832.1 L1637.0,833.5 L1639.2,834.4 L1641.2,836.1 L1643.1,838.0 L1644.8,839.7 L1646.5,842.1 L1648.1,844.1 L1649.6,846.1 L1651.1,848.9 L1652.4,850.6 L1653.7,852.2 L1654.8,854.7 L1655.9,858.4 L1656.9,860.9 L1657.9,861.4 L1658.9,865.6 L1659.8,868.3 L1660.8,869.5 L1661.8,872.0 L1662.8,873.4 L1663.9,876.7 L1665.0,878.9 L1666.3,881.5 L1667.7,882.1 L1669.2,886.8 L1670.8,887.6 L1672.6,889.1 L1674.7,891.8 L1677.1,892.1 L1679.6,891.6 L1681.8,890.7 L1683.6,887.1 L1685.4,886.5 L1687.3,884.4 L1689.4,884.0 L1691.6,882.4 L1693.8,880.1 L1696.1,879.1 L1698.4,877.7 L1700.6,876.6 L1702.9,875.3 L1705.2,874.0 L1707.5,872.8 L1709.9,871.8 L1712.2,870.7 L1714.4,869.4 L1716.4,867.7 L1718.2,865.8 L1719.7,863.7 L1721.0,861.4 L1722.2,859.1 L1723.4,856.8 L1724.6,854.5 L1725.7,852.2 L1726.9,849.8 L1728.0,847.5 L1729.1,845.2 L1730.3,842.8 L1731.6,840.6 L1732.8,838.3 L1734.0,836.0 L1735.2,833.7 L1736.4,831.4 L1737.7,829.1 L1738.9,826.8 L1740.2,824.6 L1741.6,822.3 L1743.1,820.2 L1744.6,818.1 L1746.3,816.1 L1748.0,814.2 L1749.9,812.3 L1751.9,810.8 L1754.2,809.5 L1756.6,808.6 L1759.2,808.1 L1761.8,807.9 L1764.4,807.9 L1767.0,808.2 L1769.5,808.5 L1772.1,809.1 L1774.6,809.8 L1777.0,810.8 L1779.2,812.1 L1781.2,813.8 L1783.1,815.6 L1784.8,817.6 L1786.4,819.6 L1788.0,821.6 L1789.7,823.6 L1791.4,825.6 L1793.1,827.6 L1794.7,829.6 L1796.3,831.6 L1798.0,833.7 L1799.6,835.7 L1801.2,837.7 L1802.8,839.8 L1804.4,841.8 L1806.0,843.9 L1807.6,845.9 L1809.2,848.0 L1810.7,850.1 L1812.3,852.2 L1813.7,854.3 L1815.1,856.5 L1816.5,858.7 L1818.0,860.9 L1819.4,863.0 L1820.9,865.1 L1822.6,867.2 L1824.3,869.0 L1826.5,870.5 L1829.0,870.9 L1831.1,869.5 L1832.8,867.5 L1834.1,865.3 L1835.2,862.9 L1836.2,860.5 L1837.2,858.1 L1838.1,855.7 L1839.0,853.2 L1839.8,850.8 L1840.6,848.3 L1841.3,845.8 L1842.0,843.3 L1842.6,840.8 L1843.2,838.2 L1843.8,835.7 L1844.4,833.2 L1845.0,830.6 L1845.6,828.1 L1846.1,825.5 L1846.7,823.0 L1847.2,820.5 L1847.8,817.9 L1848.3,815.4 L1848.9,812.8 L1849.4,810.3 L1849.9,807.7 L1850.3,805.2 L1850.8,802.6 L1851.2,800.1 L1851.6,797.5 L1852.1,794.9 L1852.5,792.4 L1852.9,789.8 L1853.4,787.2 L1853.8,784.7 L1854.3,782.1 L1854.8,779.6 L1855.4,777.0 L1855.9,774.5 L1856.5,772.0 L1857.2,769.5 L1858.0,767.0 L1858.8,764.5 L1859.6,762.0 L1860.6,759.6 L1861.6,757.2 L1862.6,754.8 L1863.7,752.5 L1864.9,750.2 L1866.1,747.8 L1867.3,745.6 L1868.6,743.3 L1869.9,741.1 L1871.3,738.9 L1872.7,736.7 L1874.2,734.5 L1875.6,732.4 L1877.2,730.3 L1878.8,728.2 L1880.4,726.2 L1882.1,724.3 L1883.9,722.4 L1885.7,720.5 L1887.6,718.7 L1889.5,716.9 L1891.5,715.2 L1893.4,713.5 L1895.4,711.9 L1897.5,710.3 L1899.6,708.8 L1901.8,707.3 L1904.0,705.9 L1906.2,704.6 L1908.4,703.2 L1910.7,701.9 L1912.9,700.6 L1915.2,699.3 L1917.4,698.0 L1919.7,696.7 L1922.0,695.5 L1924.3,694.3 L1926.6,693.1 L1928.9,692.0 L1931.3,691.0 L1933.7,690.0 L1936.2,689.1 L1938.6,688.2 L1941.1,687.3 L1943.6,686.6 L1946.1,686.0 L1948.6,685.5 L1951.2,685.4 L1953.8,685.7 L1956.3,686.4 L1958.7,687.4 L1961.0,688.6 L1962.9,690.4 L1964.7,692.3 L1966.4,694.2 L1968.3,696.0 L1970.2,697.8 L1972.1,699.6 L1974.0,701.4 L1976.0,703.0 L1978.3,704.2 L1980.8,704.3 L1983.2,703.3 L1985.2,701.7 L1987.1,699.9 L1989.0,698.1 L1990.9,696.3 L1993.0,694.7 L1995.0,693.2 L1997.1,691.6 L1999.2,690.1 L2001.3,688.5 L2003.3,686.9 L2005.3,685.2 L2007.2,683.4 L2009.1,681.7 L2011.0,679.9 L2013.1,678.3 L2015.3,676.9 L2017.6,675.8 L2020.1,675.1 L2022.7,674.6 L2025.2,674.3 L2027.8,674.1 L2030.4,674.1 L2033.0,674.1 L2035.6,674.3 L2038.2,674.5 L2040.8,674.7 L2043.4,675.1 L2046.0,675.5 L2048.5,675.9 L2051.1,676.5 L2053.6,677.2 L2056.1,677.9 L2058.6,678.6 L2061.0,679.5 L2063.5,680.4 L2065.9,681.3 L2068.3,682.3 L2070.6,683.4 L2073.0,684.5 L2075.3,685.7 L2077.5,687.1 L2079.6,688.6 L2081.6,690.3 L2083.4,692.1 L2085.1,694.1 L2086.6,696.2 L2088.0,698.4 L2089.4,700.6 L2090.7,702.8 L2092.1,705.1 L2093.5,707.3 L2094.9,709.4 L2096.5,711.5 L2098.0,713.6 L2100.4,714.4 L2102.9,713.8 L2105.2,712.6 L2107.4,711.3 L2109.7,710.0 L2112.1,709.0 L2114.6,708.5 L2117.2,708.8 L2119.7,709.5 L2122.1,710.6 L2124.3,712.0 L2126.4,713.5 L2128.4,715.1 L2130.3,716.9 L2132.2,718.6 L2134.1,720.4 L2135.9,722.3 L2137.7,724.2 L2139.5,726.1 L2141.2,728.1 L2142.9,730.1 L2144.5,732.1 L2146.1,734.1 L2147.7,736.2 L2149.3,738.3 L2150.8,740.4 L2152.2,742.5 L2153.7,744.7 L2155.1,746.9 L2156.5,749.1 L2157.9,751.3 L2159.2,753.5 L2160.6,755.7 L2161.9,757.9 L2163.2,760.2 L2164.6,762.4 L2165.9,764.6 L2167.2,766.9 L2168.5,769.1 L2169.7,771.4 L2170.8,773.8 L2171.9,776.1 L2172.9,778.6 L2173.9,781.0 L2174.9,783.3 L2176.2,785.6 L2177.6,787.8 L2179.2,789.8 L2180.9,791.8 L2182.7,793.7 L2184.6,795.5 L2186.5,797.2 L2188.5,798.9 L2190.4,800.6 L2192.5,802.3 L2194.5,803.9 L2196.5,805.5 L2198.6,807.1 L2200.7,808.6 L2202.7,810.2 L2204.9,811.7 L2207.1,813.0 L2209.5,814.0 L2212.0,814.6 L2214.6,814.3 L2217.0,813.2 L2219.2,811.9 L2221.4,810.6 L2223.9,809.7 L2226.5,809.6 L2229.1,809.8 L2231.5,810.7 L2233.5,812.3 L2235.2,814.3 L2236.8,816.4 L2238.1,818.6 L2239.4,820.9 L2240.6,823.2 L2241.7,825.5 L2242.7,827.9 L2243.7,830.3 L2244.7,832.7 L2245.6,835.2 L2246.5,837.6 L2247.3,840.1 L2248.1,842.6 L2248.8,845.1 L2249.4,847.6 L2250.0,850.1 L2250.6,852.6 L2251.1,855.2 L2251.6,857.7 L2252.0,860.3 L2252.5,862.9 L2252.9,865.4 L2253.3,868.0 L2253.7,870.6 L2254.0,873.2 L2254.4,875.7 L2254.7,878.3 L2255.1,880.9 L2255.4,883.5 L2255.7,886.0 L2256.1,888.6 L2256.4,891.2 L2256.7,893.8 L2257.0,896.4 L2257.4,898.9 L2257.7,901.5 L2258.0,904.1 L2258.3,906.7 L2258.6,909.3 L2259.0,911.8 L2259.3,914.4 L2259.6,917.0 L2259.9,919.6 L2260.2,922.2 L2260.6,924.7 L2260.9,927.3 L2261.2,929.9 L2261.5,932.5 L2261.8,935.1 L2262.1,937.6 L2262.4,940.2 L2262.8,942.8 L2263.1,945.4 L2263.4,948.0 L2263.7,950.6 L2264.0,953.1 L2264.3,955.7 L2264.6,958.3 L2264.8,960.9 L2265.1,963.5 L2265.4,966.1 L2265.7,968.6 L2266.0,971.2 L2266.3,973.8 L2266.6,976.4 L2266.9,979.0 L2267.2,981.6 L2267.5,984.1 L2267.8,986.7 L2268.1,989.3 L2268.4,991.9 L2268.7,994.5 L2268.9,997.1 L2269.2,999.6 L2269.5,1002.2 L2269.8,1004.8 L2270.1,1007.4 L2270.4,1010.0 L2270.6,1012.0" fill="none" stroke="#83403b" stroke-width="4" stroke-linejoin="round" stroke-linecap="round"/>
<path d="M186.5,1593.2 L189.1,1593.0 L191.7,1593.0 L194.3,1592.9 L196.9,1592.1 L199.5,1591.5 L202.1,1592.0 L204.7,1591.5 L207.3,1592.7 L209.9,1592.2 L212.5,1591.9 L215.0,1591.6 L217.6,1591.6 L220.2,1590.6 L222.8,1590.9 L225.4,1590.5 L228.0,1590.8 L230.6,1590.4 L233.2,1590.6 L235.8,1589.3 L238.4,1590.4 L241.0,1589.1 L243.6,1589.1 L246.2,1590.9 L248.8,1586.8 L251.4,1586.7 L253.9,1590.6 L256.5,1588.4 L259.1,1586.1 L261.7,1590.2 L264.3,1589.7 L266.9,1585.5 L269.5,1586.8 L272.1,1585.1 L274.7,1585.8 L277.2,1587.0 L279.8,1584.6 L282.4,1587.0 L285.0,1583.7 L287.6,1584.1 L290.2,1587.0 L292.8,1584.8 L295.4,1584.7 L298.0,1585.4 L300.6,1584.6 L303.2,1584.0 L305.8,1582.1 L308.4,1585.3 L311.0,1586.2 L313.5,1586.1 L316.1,1584.3 L318.7,1582.6 L321.3,1582.4 L323.9,1583.8 L326.5,1583.4 L329.1,1580.4 L331.6,1580.7 L334.2,1580.9 L336.8,1581.1 L339.2,1581.7 L341.6,1579.2 L343.7,1575.4 L345.9,1577.8 L348.4,1575.1 L350.9,1575.2 L353.5,1573.7 L356.1,1574.7 L358.7,1574.7 L361.3,1576.7 L363.9,1573.7 L366.5,1576.0 L369.1,1574.3 L371.7,1576.9 L374.3,1573.7 L376.9,1574.7 L379.5,1574.8 L382.1,1575.9 L384.6,1572.7 L387.2,1574.2 L389.8,1572.6 L392.3,1572.6 L394.9,1573.2 L397.5,1575.2 L400.1,1572.7 L402.7,1574.8 L405.3,1571.0 L407.9,1574.6 L410.5,1572.0 L413.1,1571.2 L415.7,1574.0 L418.3,1575.0 L420.9,1570.9 L423.4,1572.5 L426.0,1575.3 L428.6,1573.7 L431.1,1573.9 L433.5,1573.6 L436.0,1574.7 L438.4,1578.4 L440.8,1581.0 L443.2,1581.8 L445.5,1581.0 L447.9,1581.0 L450.2,1582.9 L452.6,1584.5 L454.9,1585.5 L457.3,1586.6 L459.6,1587.7 L462.0,1588.8 L464.4,1589.8 L466.7,1590.9 L469.2,1591.9 L471.6,1592.8 L474.0,1593.6 L476.5,1594.4 L479.0,1595.1 L481.5,1595.8 L484.0,1596.4 L486.6,1597.0 L489.1,1597.6 L491.7,1598.1 L494.2,1598.7 L496.7,1599.2 L499.3,1599.8 L501.8,1600.4 L504.3,1601.1 L506.8,1601.8 L509.3,1602.5 L511.8,1603.2 L514.3,1603.9 L516.8,1604.7 L519.3,1605.5 L521.8,1606.2 L524.3,1607.0 L526.7,1607.8 L529.2,1608.5 L531.7,1609.3 L534.2,1610.0 L536.7,1610.7 L539.2,1611.4 L541.7,1612.1 L544.2,1612.8 L546.7,1613.5 L549.2,1614.2 L551.7,1614.9 L554.3,1615.6 L556.8,1616.2 L559.3,1616.8 L561.8,1617.4 L564.4,1618.0 L566.9,1618.6 L569.4,1619.1 L572.0,1619.6 L574.6,1620.1 L577.1,1620.5 L579.7,1621.0 L582.2,1621.4 L584.8,1621.8 L587.4,1622.1 L590.0,1622.4 L592.6,1622.7 L595.2,1622.9 L597.7,1623.1 L600.3,1623.2 L602.9,1623.4 L605.5,1623.5 L608.1,1623.7 L610.7,1623.8 L613.3,1623.9 L615.9,1623.9 L618.5,1624.0 L621.1,1624.1 L623.7,1624.2 L626.3,1624.2 L628.9,1624.3 L631.5,1624.3 L634.1,1624.4 L636.7,1624.4 L639.3,1624.5 L641.9,1624.5 L644.5,1624.5 L647.1,1624.6 L649.7,1624.6 L652.3,1624.6 L654.9,1624.6 L657.5,1624.7 L660.1,1624.7 L662.7,1624.7 L665.3,1624.7 L667.9,1624.7 L670.5,1624.7 L673.1,1624.7 L675.7,1624.7 L678.3,1624.7 L680.9,1624.6 L683.5,1624.6 L686.1,1624.6 L688.7,1624.5 L691.3,1624.5 L693.9,1624.4 L696.5,1624.3 L699.1,1624.2 L701.7,1624.2 L704.3,1624.1 L706.9,1623.9 L709.5,1623.8 L712.1,1623.7 L714.7,1623.5 L717.3,1623.3 L719.9,1623.1 L722.5,1622.9 L725.1,1622.6 L727.6,1622.3 L730.2,1622.0 L732.8,1621.6 L735.4,1621.2 L737.9,1620.8 L740.5,1620.4 L743.1,1620.0 L745.6,1619.7 L748.2,1619.3 L750.8,1619.0 L753.4,1618.7 L756.0,1618.5 L758.6,1618.3 L761.2,1618.0 L763.7,1617.8 L766.3,1617.5 L768.9,1617.2 L771.5,1616.9 L774.1,1616.5 L776.6,1616.1 L779.2,1615.6 L781.7,1615.2 L784.3,1614.7 L786.8,1614.1 L789.4,1613.6 L791.9,1613.1 L794.5,1612.5 L797.0,1611.9 L799.5,1611.4 L802.1,1610.8 L804.6,1610.2 L807.1,1609.6 L809.7,1609.1 L812.2,1608.5 L814.8,1607.9 L817.3,1607.3 L819.8,1606.7 L822.4,1606.2 L824.9,1605.6 L827.4,1605.0 L830.0,1604.5 L832.5,1603.9 L835.0,1603.4 L837.6,1602.8 L840.1,1602.3 L842.7,1601.7 L845.2,1601.2 L847.8,1600.6 L850.3,1600.1 L852.9,1599.6 L855.4,1599.0 L857.9,1598.5 L860.5,1598.0 L863.0,1597.4 L865.6,1596.9 L868.1,1596.4 L870.7,1595.8 L873.2,1595.3 L875.8,1594.8 L878.3,1594.2 L880.8,1593.7 L883.4,1593.2 L885.9,1592.6 L888.5,1592.1 L891.0,1591.6 L893.6,1591.0 L896.1,1590.5 L898.7,1590.0 L901.2,1589.4 L903.7,1588.9 L906.3,1588.4 L908.8,1587.8 L911.4,1587.3 L913.9,1586.8 L916.5,1586.2 L919.0,1585.7 L921.5,1585.1 L924.1,1584.6 L926.6,1584.0 L929.2,1583.5 L931.7,1583.0 L934.3,1582.4 L936.8,1581.9 L939.3,1581.3 L941.9,1580.8 L944.4,1580.2 L947.0,1579.7 L949.5,1579.2 L952.1,1578.6 L954.6,1578.1 L957.2,1577.6 L959.7,1577.0 L962.2,1576.5 L964.8,1575.9 L967.3,1575.4 L969.9,1574.8 L972.4,1574.3 L974.9,1573.7 L977.5,1573.1 L980.0,1572.6 L982.6,1572.1 L985.1,1571.6 L987.7,1571.2 L990.3,1570.8 L992.9,1570.7 L995.4,1570.8 L997.9,1571.6 L1000.3,1572.6 L1002.9,1572.9 L1005.5,1572.7 L1008.0,1572.3 L1010.5,1571.6 L1013.0,1570.9 L1015.5,1570.0 L1018.0,1569.2 L1020.4,1568.3 L1022.8,1567.4 L1025.3,1566.5 L1027.7,1565.5 L1030.1,1564.6 L1032.6,1563.7 L1035.0,1562.8 L1037.4,1561.9 L1039.9,1561.0 L1042.3,1560.1 L1044.8,1559.3 L1047.3,1558.5 L1049.8,1557.8 L1052.3,1557.1 L1054.8,1556.4 L1057.3,1555.8 L1059.8,1555.2 L1062.4,1554.7 L1064.9,1554.1 L1067.5,1553.6 L1070.0,1553.1 L1072.6,1552.6 L1075.1,1552.1 L1077.7,1551.7 L1080.2,1551.2 L1082.8,1550.7 L1085.4,1550.3 L1087.9,1549.8 L1090.5,1549.3 L1093.0,1548.9 L1095.6,1548.4 L1098.2,1548.0 L1100.7,1547.6 L1103.3,1547.2 L1105.9,1546.7 L1108.4,1546.3 L1111.0,1545.9 L1113.6,1545.5 L1116.1,1545.1 L1118.7,1544.7 L1121.3,1544.3 L1123.8,1543.8 L1126.4,1543.4 L1128.9,1542.9 L1131.5,1542.4 L1134.1,1541.9 L1136.6,1541.4 L1139.2,1540.9 L1141.7,1540.4 L1144.3,1539.9 L1146.8,1539.4 L1149.4,1538.9 L1151.9,1538.5 L1154.5,1537.7 L1157.0,1537.5 L1159.6,1537.1 L1162.2,1537.1 L1164.8,1536.0 L1167.3,1538.2 L1169.6,1539.2 L1171.4,1539.1 L1173.7,1539.0 L1175.4,1538.7 L1176.7,1534.8 L1177.9,1534.4 L1179.1,1530.8 L1180.3,1529.0 L1181.5,1526.8 L1182.9,1523.2 L1184.7,1521.6 L1186.9,1522.2 L1188.4,1525.6 L1189.5,1528.0 L1190.6,1528.7 L1191.8,1533.1 L1193.9,1533.1 L1195.7,1530.8 L1197.2,1529.2 L1199.0,1529.0 L1201.0,1529.0 L1202.3,1531.5 L1203.7,1534.5 L1205.7,1536.2 L1208.2,1536.4 L1210.7,1536.1 L1213.3,1536.8 L1215.9,1537.7 L1218.5,1537.0 L1221.0,1535.7 L1223.4,1534.0 L1225.6,1532.8 L1227.8,1532.5 L1229.9,1530.5 L1232.0,1527.4 L1234.1,1527.8 L1236.1,1526.7 L1238.2,1524.8 L1240.3,1523.6 L1242.4,1522.1 L1244.5,1519.5 L1246.7,1518.9 L1249.0,1516.4 L1251.3,1514.4 L1253.6,1514.0 L1256.0,1512.7 L1258.3,1513.4 L1260.7,1511.7 L1263.1,1510.3 L1265.5,1509.5 L1267.9,1507.1 L1270.3,1507.3 L1272.7,1506.8 L1275.1,1504.9 L1277.5,1503.4 L1279.9,1502.9 L1282.4,1501.8 L1284.8,1502.0 L1287.3,1499.7 L1289.8,1498.7 L1292.2,1498.4 L1294.5,1498.3 L1296.7,1497.0 L1298.5,1494.9 L1299.9,1493.5 L1300.8,1489.5 L1301.5,1486.0 L1302.1,1484.8 L1302.5,1482.1 L1302.9,1478.8 L1303.2,1477.6 L1303.6,1474.1 L1304.2,1471.3 L1305.4,1469.4 L1307.1,1472.9 L1308.0,1472.8 L1308.8,1476.2 L1309.6,1478.5 L1310.5,1480.7 L1311.7,1483.7 L1313.1,1485.2 L1314.9,1489.1 L1316.7,1489.7 L1318.6,1491.9 L1320.6,1492.6 L1322.6,1494.8 L1324.7,1496.5 L1326.9,1498.0 L1329.1,1499.1 L1331.5,1500.3 L1333.9,1501.1 L1336.5,1501.5 L1339.1,1501.6 L1341.7,1501.3 L1344.2,1500.9 L1346.8,1500.4 L1349.3,1499.8 L1351.9,1499.3 L1354.4,1498.9 L1357.0,1498.5 L1359.6,1498.2 L1362.1,1497.7 L1364.7,1497.1 L1367.1,1496.2 L1369.3,1494.9 L1371.2,1493.2 L1372.7,1491.0 L1373.9,1488.7 L1375.0,1486.4 L1375.9,1483.9 L1376.9,1481.7 L1378.0,1479.4 L1379.3,1476.7 L1381.0,1475.0 L1382.8,1473.5 L1384.8,1471.2 L1387.0,1470.4 L1389.3,1469.4 L1391.8,1469.7 L1394.4,1468.6 L1396.5,1470.4 L1398.4,1471.2 L1400.3,1474.2 L1402.2,1474.6 L1404.6,1476.2 L1407.1,1475.4 L1409.3,1473.9 L1411.2,1471.6 L1413.1,1470.1 L1414.9,1469.2 L1416.7,1466.4 L1418.6,1464.0 L1420.7,1464.9 L1423.2,1462.6 L1425.6,1465.4 L1427.6,1465.9 L1429.5,1467.1 L1431.5,1470.2 L1433.9,1471.5 L1436.4,1470.3 L1438.9,1470.2 L1441.5,1472.2 L1444.1,1473.2 L1446.7,1472.6 L1449.3,1473.2 L1451.9,1472.0 L1454.5,1472.5 L1457.0,1471.2 L1459.6,1471.3 L1462.2,1470.9 L1464.8,1470.5 L1467.3,1470.2 L1469.9,1470.1 L1472.4,1469.0 L1474.9,1468.6 L1477.5,1467.9 L1480.0,1467.8 L1482.5,1466.8 L1485.0,1465.4 L1487.5,1466.1 L1490.1,1465.7 L1492.6,1464.9 L1495.1,1463.2 L1497.6,1463.4 L1500.1,1461.8 L1502.7,1460.8 L1505.2,1461.9 L1507.7,1461.3 L1510.3,1459.3 L1512.8,1460.4 L1515.4,1457.9 L1518.0,1458.1 L1520.5,1457.0 L1523.1,1457.0 L1525.7,1456.6 L1528.2,1457.6 L1530.8,1456.3 L1533.4,1455.7 L1536.0,1455.3 L1538.6,1455.3 L1541.1,1456.4 L1543.7,1455.3 L1546.2,1452.8 L1548.8,1454.6 L1551.3,1453.4 L1553.8,1452.5 L1556.4,1452.2 L1558.9,1452.1 L1561.5,1452.2 L1564.0,1450.6 L1566.6,1450.8 L1569.2,1450.1 L1571.8,1450.9 L1574.4,1450.2 L1577.0,1450.7 L1579.5,1451.7 L1582.0,1453.3 L1584.4,1452.5 L1586.7,1456.2 L1589.0,1455.7 L1591.1,1458.6 L1593.1,1459.7 L1594.9,1462.6 L1596.7,1463.4 L1598.3,1464.4 L1599.9,1466.4 L1601.5,1469.2 L1603.0,1471.9 L1604.5,1474.4 L1605.9,1473.8 L1607.3,1475.7 L1608.6,1478.1 L1610.0,1480.2 L1611.4,1482.3 L1612.9,1484.2 L1614.5,1487.2 L1616.2,1488.7 L1617.9,1492.9 L1619.7,1494.6 L1621.5,1497.8 L1623.4,1499.6 L1625.4,1500.4 L1627.4,1502.5 L1629.7,1501.0 L1632.0,1502.8 L1634.4,1504.9 L1636.8,1505.3 L1639.1,1506.5 L1641.2,1508.2 L1643.2,1509.7 L1645.2,1511.5 L1647.1,1513.0 L1648.9,1514.7 L1650.6,1516.3 L1652.2,1519.4 L1653.7,1522.4 L1655.1,1524.8 L1656.4,1526.5 L1657.6,1529.2 L1658.8,1529.9 L1660.0,1532.1 L1661.2,1536.1 L1662.4,1537.5 L1663.7,1539.9 L1665.1,1540.3 L1666.7,1543.0 L1668.3,1545.7 L1670.1,1548.3 L1672.0,1550.4 L1673.9,1551.9 L1676.0,1552.2 L1678.3,1553.6 L1680.8,1555.7 L1683.4,1555.8 L1685.7,1553.3 L1687.8,1551.1 L1689.9,1550.5 L1691.9,1548.7 L1693.9,1546.8 L1695.8,1544.9 L1697.7,1543.3 L1699.5,1541.6 L1701.4,1539.8 L1703.3,1538.0 L1705.3,1536.3 L1707.4,1534.8 L1709.6,1533.4 L1711.8,1532.1 L1714.0,1530.7 L1716.0,1529.0 L1717.8,1527.1 L1719.4,1525.1 L1720.8,1522.9 L1722.1,1520.6 L1723.3,1518.3 L1724.5,1516.0 L1725.7,1513.7 L1726.9,1511.4 L1728.1,1509.1 L1729.4,1506.8 L1730.8,1504.6 L1732.2,1502.4 L1733.6,1500.3 L1735.1,1498.1 L1736.6,1496.0 L1738.2,1494.0 L1739.8,1492.0 L1741.6,1490.0 L1743.5,1488.3 L1745.5,1486.6 L1747.6,1485.0 L1749.7,1483.6 L1752.0,1482.3 L1754.3,1481.2 L1756.8,1480.3 L1759.3,1479.7 L1761.9,1479.4 L1764.5,1479.5 L1767.0,1480.0 L1769.5,1480.7 L1771.9,1481.6 L1774.3,1482.8 L1776.4,1484.2 L1778.5,1485.8 L1780.3,1487.7 L1782.0,1489.7 L1783.6,1491.7 L1785.1,1493.9 L1786.5,1496.0 L1788.0,1498.2 L1789.5,1500.3 L1791.0,1502.4 L1792.5,1504.5 L1793.9,1506.7 L1795.4,1508.9 L1796.8,1511.0 L1798.2,1513.2 L1799.6,1515.4 L1801.1,1517.6 L1802.5,1519.7 L1803.9,1521.9 L1805.4,1524.1 L1806.8,1526.2 L1808.3,1528.4 L1809.7,1530.5 L1811.2,1532.7 L1812.6,1534.9 L1813.9,1537.1 L1815.3,1539.3 L1816.7,1541.5 L1818.1,1543.7 L1819.7,1545.8 L1821.4,1547.7 L1823.5,1549.2 L1826.0,1549.5 L1828.4,1548.5 L1830.2,1546.6 L1831.6,1544.4 L1832.8,1542.1 L1833.9,1539.8 L1834.9,1537.4 L1835.8,1534.9 L1836.7,1532.5 L1837.5,1530.0 L1838.2,1527.5 L1838.9,1525.0 L1839.6,1522.5 L1840.3,1520.0 L1841.0,1517.5 L1841.6,1514.9 L1842.2,1512.4 L1842.9,1509.9 L1843.5,1507.4 L1844.1,1504.9 L1844.7,1502.3 L1845.3,1499.8 L1845.9,1497.3 L1846.6,1494.7 L1847.2,1492.2 L1847.8,1489.7 L1848.4,1487.2 L1849.0,1484.6 L1849.6,1482.1 L1850.1,1479.6 L1850.6,1477.0 L1851.2,1474.5 L1851.7,1471.9 L1852.2,1469.4 L1852.6,1466.8 L1853.2,1464.3 L1853.7,1461.7 L1854.2,1459.2 L1854.8,1456.6 L1855.4,1454.1 L1856.1,1451.6 L1856.8,1449.1 L1857.6,1446.6 L1858.5,1444.2 L1859.4,1441.8 L1860.4,1439.4 L1861.5,1437.0 L1862.6,1434.6 L1863.8,1432.3 L1865.0,1430.0 L1866.3,1427.8 L1867.7,1425.6 L1869.1,1423.4 L1870.5,1421.2 L1872.0,1419.1 L1873.6,1417.0 L1875.2,1415.0 L1876.9,1413.0 L1878.7,1411.1 L1880.6,1409.4 L1882.6,1407.7 L1884.6,1406.1 L1886.7,1404.5 L1888.9,1403.1 L1891.0,1401.6 L1893.2,1400.2 L1895.4,1398.8 L1897.7,1397.5 L1900.0,1396.3 L1902.3,1395.1 L1904.6,1394.0 L1907.0,1392.9 L1909.3,1391.8 L1911.7,1390.7 L1914.1,1389.7 L1916.4,1388.6 L1918.8,1387.4 L1921.1,1386.2 L1923.4,1385.0 L1925.7,1383.9 L1928.1,1382.8 L1930.5,1381.8 L1932.9,1381.0 L1935.4,1380.3 L1938.0,1379.6 L1940.5,1379.1 L1943.1,1378.6 L1945.6,1378.2 L1948.2,1377.9 L1950.8,1377.7 L1953.4,1377.8 L1956.0,1378.1 L1958.4,1379.1 L1960.5,1380.6 L1962.4,1382.4 L1964.0,1384.4 L1965.4,1386.6 L1966.7,1388.9 L1968.0,1391.1 L1969.5,1393.3 L1971.1,1395.3 L1973.2,1396.8 L1975.7,1396.8 L1978.0,1395.5 L1979.9,1393.8 L1981.8,1392.0 L1983.6,1390.1 L1985.5,1388.3 L1987.5,1386.7 L1989.6,1385.2 L1991.7,1383.7 L1993.9,1382.2 L1996.0,1380.7 L1998.2,1379.3 L2000.4,1377.9 L2002.7,1376.8 L2005.1,1375.7 L2007.5,1374.7 L2010.0,1373.9 L2012.5,1373.1 L2015.0,1372.5 L2017.6,1372.2 L2020.1,1372.0 L2022.7,1371.9 L2025.3,1372.1 L2027.9,1372.3 L2030.5,1372.7 L2033.1,1373.1 L2035.6,1373.6 L2038.2,1374.2 L2040.7,1374.8 L2043.2,1375.5 L2045.7,1376.2 L2048.2,1377.0 L2050.6,1377.8 L2053.1,1378.7 L2055.5,1379.7 L2057.9,1380.7 L2060.3,1381.8 L2062.6,1382.9 L2064.9,1384.1 L2067.2,1385.4 L2069.4,1386.7 L2071.5,1388.2 L2073.6,1389.7 L2075.7,1391.3 L2077.7,1393.0 L2079.6,1394.7 L2081.5,1396.5 L2083.4,1398.3 L2085.3,1400.1 L2087.1,1402.0 L2088.8,1403.9 L2090.4,1405.9 L2092.0,1408.0 L2093.4,1410.2 L2094.8,1412.4 L2096.3,1414.5 L2097.8,1416.6 L2099.6,1418.5 L2101.7,1419.9 L2104.3,1420.0 L2106.6,1418.8 L2108.7,1417.3 L2110.9,1415.9 L2113.3,1415.2 L2115.9,1415.6 L2118.2,1416.7 L2120.5,1418.0 L2122.6,1419.5 L2124.6,1421.1 L2126.6,1422.8 L2128.6,1424.5 L2130.5,1426.3 L2132.4,1428.0 L2134.3,1429.8 L2136.1,1431.6 L2138.0,1433.5 L2139.8,1435.3 L2141.6,1437.2 L2143.4,1439.1 L2145.1,1441.0 L2146.8,1443.0 L2148.5,1445.0 L2150.2,1447.0 L2151.8,1449.0 L2153.4,1451.1 L2154.9,1453.2 L2156.3,1455.4 L2157.6,1457.6 L2158.9,1459.9 L2160.1,1462.2 L2161.3,1464.5 L2162.6,1466.8 L2163.8,1469.1 L2165.0,1471.4 L2166.3,1473.6 L2167.6,1475.8 L2169.1,1478.0 L2170.6,1480.1 L2172.2,1482.1 L2173.9,1484.1 L2175.7,1486.0 L2177.5,1487.9 L2179.4,1489.7 L2181.3,1491.4 L2183.2,1493.2 L2185.2,1494.9 L2187.2,1496.5 L2189.2,1498.2 L2191.2,1499.9 L2193.1,1501.6 L2195.1,1503.2 L2197.2,1504.8 L2199.3,1506.4 L2201.5,1507.8 L2203.8,1509.0 L2206.2,1509.9 L2208.8,1510.2 L2211.3,1509.8 L2213.8,1509.0 L2216.2,1508.0 L2218.6,1507.1 L2221.2,1506.6 L2223.8,1506.8 L2226.3,1507.3 L2228.8,1508.1 L2231.1,1509.2 L2233.2,1510.7 L2235.1,1512.5 L2236.8,1514.5 L2238.3,1516.6 L2239.7,1518.8 L2241.0,1521.0 L2242.2,1523.3 L2243.3,1525.7 L2244.4,1528.1 L2245.4,1530.5 L2246.3,1532.9 L2247.2,1535.3 L2248.0,1537.8 L2248.8,1540.3 L2249.5,1542.8 L2250.1,1545.3 L2250.7,1547.8 L2251.2,1550.4 L2251.7,1552.9 L2252.2,1555.5 L2252.7,1558.1 L2253.1,1560.6 L2253.5,1563.2 L2253.9,1565.8 L2254.3,1568.3 L2254.7,1570.9 L2255.1,1573.5 L2255.4,1576.0 L2255.7,1578.6 L2256.1,1581.2 L2256.4,1583.8 L2256.7,1586.4 L2257.0,1588.9 L2257.3,1591.5 L2257.6,1594.1 L2257.9,1596.7 L2258.1,1599.3 L2258.4,1601.9 L2258.7,1604.4 L2259.0,1607.0 L2259.3,1609.6 L2259.6,1612.2 L2259.9,1614.8 L2260.2,1617.4 L2260.5,1619.9 L2260.9,1622.5 L2261.2,1625.1 L2261.5,1627.7 L2261.9,1630.3 L2262.2,1632.8 L2262.6,1635.4 L2262.9,1638.0 L2263.3,1640.6 L2263.6,1643.1 L2264.0,1645.7 L2264.3,1648.3 L2264.7,1650.9 L2265.0,1653.4 L2265.4,1656.0 L2265.7,1658.6 L2266.1,1661.2 L2266.5,1663.7 L2266.8,1666.3 L2267.2,1668.9 L2267.5,1671.5 L2267.9,1674.0 L2268.3,1676.6 L2268.6,1679.2 L2269.0,1681.8 L2269.3,1684.3 L2269.5,1685.5" fill="none" stroke="#83403b" stroke-width="4" stroke-linejoin="round" stroke-linecap="round"/>
<path d="M186.5,1989.4 L189.1,1989.3 L191.7,1989.5 L194.3,1989.5 L196.9,1989.9 L199.5,1988.8 L202.1,1988.7 L204.7,1988.5 L207.3,1988.7 L209.9,1989.9 L212.5,1988.4 L215.1,1989.3 L217.7,1988.7 L220.3,1988.9 L222.9,1989.1 L225.5,1989.4 L228.1,1989.1 L230.7,1988.9 L233.3,1988.7 L235.9,1988.2 L238.5,1989.8 L241.1,1989.7 L243.7,1989.8 L246.3,1989.8 L248.9,1989.2 L251.4,1989.9 L254.0,1988.9 L256.6,1986.0 L259.2,1988.5 L261.8,1986.5 L264.4,1987.5 L267.0,1986.3 L269.5,1985.5 L272.1,1985.0 L274.7,1985.1 L277.3,1984.5 L279.9,1983.4 L282.5,1986.7 L285.1,1986.6 L287.7,1987.4 L290.3,1986.0 L292.9,1985.3 L295.5,1986.2 L298.1,1983.2 L300.7,1985.7 L303.3,1984.6 L305.9,1983.3 L308.5,1983.4 L311.1,1984.9 L313.7,1983.5 L316.3,1984.4 L318.9,1985.1 L321.5,1984.0 L324.1,1982.6 L326.7,1984.3 L329.3,1982.9 L331.9,1982.7 L334.5,1982.2 L337.0,1982.4 L339.1,1979.6 L339.9,1980.0 L342.4,1980.6 L344.9,1977.7 L347.5,1979.2 L350.1,1980.2 L352.7,1975.9 L355.3,1976.4 L357.9,1979.7 L360.5,1979.9 L363.1,1979.0 L365.7,1976.8 L368.3,1978.1 L370.9,1980.3 L373.5,1980.3 L376.1,1979.8 L378.7,1976.7 L381.3,1979.6 L383.9,1976.9 L386.5,1978.2 L389.0,1975.1 L391.6,1978.7 L394.2,1976.6 L396.8,1977.0 L399.4,1974.4 L402.0,1976.4 L404.6,1976.4 L407.2,1976.7 L409.7,1976.0 L412.3,1978.2 L414.8,1976.8 L417.4,1977.1 L419.9,1977.1 L422.4,1980.2 L425.0,1978.1 L427.5,1979.3 L430.0,1979.3 L432.4,1982.9 L434.8,1983.5 L437.2,1984.5 L439.6,1983.1 L441.9,1986.2 L444.3,1987.1 L446.6,1987.7 L448.9,1989.0 L451.1,1991.9 L453.4,1992.3 L455.7,1993.7 L458.0,1994.9 L460.3,1996.1 L462.7,1997.3 L465.0,1998.4 L467.3,1999.5 L469.7,2000.6 L472.1,2001.6 L474.6,2002.4 L477.0,2003.3 L479.5,2004.0 L482.1,2004.7 L484.6,2005.3 L487.1,2005.9 L489.7,2006.4 L492.2,2006.9 L494.7,2007.5 L497.3,2008.0 L499.8,2008.6 L502.4,2009.2 L504.9,2009.8 L507.4,2010.5 L509.9,2011.3 L512.4,2012.0 L514.8,2012.8 L517.3,2013.6 L519.8,2014.4 L522.3,2015.2 L524.8,2015.9 L527.2,2016.7 L529.7,2017.5 L532.2,2018.2 L534.7,2018.9 L537.2,2019.6 L539.7,2020.2 L542.3,2020.9 L544.8,2021.5 L547.3,2022.1 L549.8,2022.7 L552.4,2023.3 L554.9,2023.9 L557.5,2024.4 L560.0,2024.8 L562.6,2025.2 L565.2,2025.6 L567.7,2025.9 L570.3,2026.2 L572.9,2026.5 L575.5,2026.7 L578.1,2026.9 L580.7,2027.1 L583.3,2027.3 L585.9,2027.4 L588.5,2027.5 L591.1,2027.6 L593.7,2027.8 L596.3,2027.9 L598.9,2028.0 L601.5,2028.0 L604.1,2028.1 L606.7,2028.2 L609.3,2028.3 L611.9,2028.3 L614.5,2028.4 L617.1,2028.5 L619.7,2028.5 L622.3,2028.6 L624.9,2028.6 L627.5,2028.7 L630.1,2028.7 L632.7,2028.8 L635.3,2028.8 L637.9,2028.8 L640.5,2028.8 L643.1,2028.8 L645.7,2028.8 L648.3,2028.8 L650.9,2028.8 L653.5,2028.8 L656.1,2028.8 L658.7,2028.7 L661.3,2028.7 L663.9,2028.6 L666.5,2028.5 L669.1,2028.5 L671.7,2028.3 L674.3,2028.2 L676.8,2028.1 L679.4,2028.0 L682.0,2027.8 L684.6,2027.7 L687.2,2027.5 L689.8,2027.4 L692.4,2027.2 L695.0,2027.0 L697.6,2026.8 L700.2,2026.6 L702.8,2026.4 L705.4,2026.2 L708.0,2026.0 L710.6,2025.8 L713.2,2025.5 L715.7,2025.3 L718.3,2025.0 L720.9,2024.7 L723.5,2024.4 L726.1,2024.1 L728.7,2023.8 L731.2,2023.4 L733.8,2023.0 L736.4,2022.6 L738.9,2022.2 L741.5,2021.8 L744.1,2021.4 L746.6,2021.0 L749.2,2020.7 L751.8,2020.3 L754.4,2020.0 L757.0,2019.6 L759.5,2019.3 L762.1,2019.0 L764.7,2018.6 L767.3,2018.3 L769.8,2017.9 L772.4,2017.6 L775.0,2017.3 L777.6,2016.9 L780.2,2016.6 L782.7,2016.2 L785.3,2015.9 L787.9,2015.6 L790.5,2015.3 L793.0,2014.9 L795.6,2014.6 L798.2,2014.3 L800.8,2014.0 L803.4,2013.6 L805.9,2013.3 L808.5,2013.0 L811.1,2012.7 L813.7,2012.3 L816.3,2012.0 L818.8,2011.7 L821.4,2011.3 L824.0,2011.0 L826.6,2010.6 L829.1,2010.3 L831.7,2009.9 L834.3,2009.5 L836.9,2009.2 L839.4,2008.8 L842.0,2008.4 L844.6,2008.0 L847.2,2007.7 L849.7,2007.3 L852.3,2006.9 L854.9,2006.5 L857.4,2006.1 L860.0,2005.7 L862.6,2005.3 L865.2,2004.9 L867.7,2004.6 L870.3,2004.2 L872.9,2003.8 L875.4,2003.4 L878.0,2003.0 L880.6,2002.6 L883.1,2002.2 L885.7,2001.8 L888.3,2001.4 L890.8,2001.0 L893.4,2000.6 L896.0,2000.2 L898.6,1999.7 L901.1,1999.3 L903.7,1998.9 L906.3,1998.5 L908.8,1998.1 L911.4,1997.7 L914.0,1997.3 L916.5,1996.9 L919.1,1996.5 L921.7,1996.1 L924.2,1995.7 L926.8,1995.2 L929.4,1994.8 L931.9,1994.4 L934.5,1994.0 L937.1,1993.6 L939.6,1993.1 L942.2,1992.7 L944.8,1992.3 L947.3,1991.8 L949.9,1991.4 L952.4,1991.0 L955.0,1990.6 L957.6,1990.1 L960.1,1989.7 L962.7,1989.2 L965.3,1988.8 L967.8,1988.3 L970.4,1987.8 L972.9,1987.3 L975.5,1986.8 L978.0,1986.2 L980.6,1985.8 L983.1,1985.3 L985.7,1984.8 L988.3,1984.5 L990.8,1984.2 L993.4,1984.1 L996.0,1984.3 L998.5,1985.1 L1001.0,1985.9 L1003.5,1986.1 L1006.1,1985.9 L1008.7,1985.5 L1011.2,1984.9 L1013.7,1984.3 L1016.3,1983.6 L1018.8,1982.9 L1021.3,1982.1 L1023.7,1981.4 L1026.2,1980.6 L1028.7,1979.9 L1031.2,1979.1 L1033.7,1978.3 L1036.2,1977.6 L1038.7,1976.8 L1041.2,1976.1 L1043.7,1975.4 L1046.2,1974.7 L1048.7,1974.0 L1051.2,1973.4 L1053.7,1972.8 L1056.3,1972.3 L1058.8,1971.7 L1061.4,1971.2 L1063.9,1970.6 L1066.5,1970.1 L1069.0,1969.6 L1071.6,1969.2 L1074.1,1968.7 L1076.7,1968.2 L1079.2,1967.8 L1081.8,1967.4 L1084.4,1966.9 L1086.9,1966.5 L1089.5,1966.1 L1092.1,1965.7 L1094.7,1965.4 L1097.2,1965.0 L1099.8,1964.7 L1102.4,1964.4 L1105.0,1964.1 L1107.6,1963.9 L1110.1,1963.6 L1112.7,1963.3 L1115.3,1963.1 L1117.9,1962.8 L1120.5,1962.5 L1123.1,1962.2 L1125.7,1961.9 L1128.2,1961.5 L1130.8,1961.2 L1133.4,1960.8 L1135.9,1960.4 L1138.5,1960.0 L1141.1,1959.6 L1143.6,1959.2 L1146.2,1958.8 L1148.8,1958.4 L1151.4,1958.0 L1154.0,1957.6 L1156.5,1957.7 L1159.1,1956.7 L1161.7,1957.5 L1164.2,1957.8 L1166.5,1960.3 L1168.5,1959.6 L1170.5,1962.2 L1173.0,1963.0 L1175.0,1962.9 L1176.5,1959.4 L1177.8,1957.0 L1178.9,1955.3 L1180.0,1951.9 L1181.2,1948.8 L1182.4,1947.8 L1183.9,1946.9 L1186.1,1946.3 L1187.3,1947.3 L1188.1,1950.9 L1188.8,1953.9 L1189.5,1954.7 L1190.3,1958.1 L1191.8,1959.3 L1193.7,1957.4 L1195.0,1955.2 L1196.3,1952.7 L1198.3,1951.9 L1199.7,1953.1 L1200.8,1956.5 L1202.5,1957.6 L1204.8,1960.5 L1207.4,1960.2 L1210.0,1958.6 L1212.6,1960.6 L1215.2,1958.7 L1217.8,1959.2 L1220.3,1958.9 L1222.9,1957.7 L1225.4,1956.9 L1227.7,1956.2 L1230.0,1954.0 L1232.0,1954.5 L1234.0,1950.7 L1236.1,1951.1 L1238.2,1948.0 L1240.5,1946.9 L1242.8,1945.9 L1245.1,1943.8 L1247.5,1943.0 L1249.9,1942.6 L1252.3,1941.9 L1254.7,1942.1 L1257.1,1941.4 L1259.5,1937.7 L1261.9,1938.1 L1264.3,1936.0 L1266.7,1936.9 L1269.1,1934.6 L1271.5,1935.2 L1273.9,1933.2 L1276.3,1930.9 L1278.6,1929.6 L1281.0,1929.2 L1283.5,1930.1 L1285.9,1927.2 L1288.4,1927.2 L1290.8,1925.9 L1293.1,1924.8 L1295.3,1924.7 L1297.3,1921.4 L1299.0,1920.8 L1300.2,1918.4 L1300.9,1916.6 L1301.4,1912.9 L1301.8,1911.5 L1302.1,1907.5 L1302.4,1905.3 L1302.7,1902.9 L1303.0,1900.9 L1303.6,1898.5 L1305.4,1895.0 L1307.3,1896.8 L1308.6,1900.1 L1309.9,1903.2 L1311.2,1904.6 L1312.7,1906.1 L1314.2,1910.1 L1315.7,1910.4 L1317.1,1912.1 L1318.5,1914.4 L1319.9,1916.6 L1321.4,1920.0 L1322.8,1921.3 L1324.4,1924.1 L1326.0,1926.2 L1327.7,1928.1 L1329.8,1929.5 L1332.2,1930.1 L1334.8,1929.6 L1337.0,1928.3 L1339.2,1926.9 L1341.5,1925.8 L1344.1,1925.6 L1346.5,1926.6 L1348.8,1927.8 L1351.4,1928.2 L1353.9,1927.8 L1356.5,1927.2 L1359.0,1926.5 L1361.4,1925.6 L1363.8,1924.7 L1366.2,1923.5 L1368.4,1922.1 L1370.4,1920.5 L1372.1,1918.5 L1373.5,1916.3 L1374.7,1914.0 L1375.8,1911.7 L1376.8,1909.3 L1377.8,1907.1 L1378.9,1904.7 L1380.2,1902.0 L1381.4,1900.4 L1382.6,1897.0 L1384.6,1895.8 L1387.2,1897.6 L1389.5,1897.3 L1391.7,1898.0 L1393.9,1901.2 L1396.0,1901.6 L1398.2,1901.6 L1400.4,1902.9 L1402.8,1904.6 L1405.4,1905.3 L1407.9,1906.8 L1410.2,1903.3 L1412.2,1903.6 L1414.1,1901.9 L1416.0,1898.7 L1417.9,1898.8 L1420.0,1896.4 L1422.2,1894.3 L1424.7,1892.9 L1427.3,1893.6 L1429.8,1895.7 L1432.2,1895.5 L1434.5,1895.6 L1436.7,1897.5 L1439.0,1899.2 L1441.2,1899.6 L1443.4,1902.2 L1445.7,1901.6 L1448.1,1905.2 L1450.6,1903.9 L1453.1,1904.1 L1455.7,1905.9 L1458.3,1905.0 L1460.9,1906.6 L1463.5,1905.1 L1466.1,1904.7 L1468.6,1904.7 L1471.2,1903.5 L1473.7,1903.3 L1476.3,1902.9 L1478.9,1902.3 L1481.4,1902.4 L1484.0,1900.8 L1486.5,1901.6 L1489.1,1899.7 L1491.6,1900.7 L1494.2,1898.6 L1496.7,1897.8 L1499.3,1898.3 L1501.8,1898.8 L1504.3,1896.7 L1506.9,1896.7 L1509.4,1896.5 L1512.0,1895.1 L1514.5,1895.3 L1517.1,1893.6 L1519.7,1894.2 L1522.2,1894.5 L1524.8,1893.0 L1527.3,1892.2 L1529.9,1891.4 L1532.5,1892.5 L1535.0,1891.4 L1537.6,1892.1 L1540.1,1891.3 L1542.7,1888.8 L1545.3,1891.4 L1547.8,1890.9 L1550.4,1890.0 L1552.9,1889.5 L1555.4,1888.4 L1558.0,1888.0 L1560.6,1887.3 L1563.1,1886.6 L1565.7,1885.0 L1568.3,1884.3 L1570.9,1886.5 L1573.5,1886.0 L1576.1,1883.9 L1578.7,1886.4 L1581.3,1886.6 L1583.8,1886.7 L1586.3,1888.5 L1588.7,1889.9 L1590.9,1889.2 L1593.0,1892.5 L1594.9,1893.1 L1596.7,1895.2 L1598.5,1896.5 L1600.3,1900.4 L1602.2,1900.2 L1604.1,1904.1 L1605.8,1903.5 L1607.7,1906.7 L1609.6,1909.4 L1611.7,1910.0 L1613.9,1910.1 L1616.3,1909.9 L1618.8,1912.2 L1621.4,1912.5 L1623.9,1914.7 L1626.5,1914.9 L1629.0,1915.8 L1631.5,1914.9 L1634.0,1915.7 L1636.4,1917.0 L1638.5,1918.5 L1640.3,1920.2 L1641.9,1922.2 L1643.2,1924.4 L1644.3,1926.8 L1645.4,1929.1 L1646.6,1932.2 L1647.7,1933.5 L1648.8,1937.0 L1649.8,1938.3 L1650.8,1940.5 L1651.8,1944.5 L1652.7,1944.9 L1653.7,1947.3 L1654.7,1949.7 L1655.7,1951.9 L1656.8,1955.2 L1657.9,1957.1 L1658.9,1959.3 L1660.0,1961.3 L1661.0,1965.5 L1662.1,1966.1 L1663.3,1968.9 L1664.6,1972.1 L1666.1,1975.1 L1667.9,1976.4 L1669.8,1978.3 L1672.0,1979.7 L1674.4,1981.0 L1676.9,1981.6 L1679.5,1979.4 L1681.8,1978.1 L1684.0,1978.2 L1686.1,1976.4 L1688.1,1974.8 L1690.2,1973.7 L1692.3,1971.2 L1694.4,1970.3 L1696.5,1968.5 L1698.5,1966.9 L1700.5,1965.3 L1702.5,1963.6 L1704.4,1961.8 L1706.3,1960.0 L1708.1,1958.2 L1709.9,1956.3 L1711.7,1954.4 L1713.5,1952.5 L1715.2,1950.6 L1716.9,1948.6 L1718.6,1946.6 L1720.3,1944.7 L1722.0,1942.7 L1723.7,1940.7 L1725.4,1938.7 L1727.0,1936.7 L1728.7,1934.7 L1730.3,1932.7 L1732.0,1930.7 L1733.6,1928.7 L1735.3,1926.7 L1736.9,1924.7 L1738.5,1922.6 L1740.1,1920.6 L1741.7,1918.5 L1743.2,1916.4 L1744.8,1914.3 L1746.3,1912.2 L1747.9,1910.2 L1749.6,1908.2 L1751.4,1906.3 L1753.4,1904.7 L1755.6,1903.3 L1758.0,1902.2 L1760.5,1901.5 L1763.0,1901.2 L1765.6,1901.2 L1768.2,1901.5 L1770.7,1902.2 L1773.1,1903.3 L1775.2,1904.8 L1777.2,1906.5 L1779.1,1908.3 L1780.9,1910.1 L1782.8,1911.9 L1784.7,1913.7 L1786.5,1915.6 L1788.2,1917.5 L1790.0,1919.4 L1791.8,1921.3 L1793.6,1923.1 L1795.5,1924.9 L1797.6,1926.5 L1799.6,1928.1 L1801.7,1929.6 L1803.8,1931.1 L1806.0,1932.5 L1808.3,1933.8 L1810.7,1934.7 L1813.3,1935.2 L1815.9,1935.2 L1818.4,1934.7 L1820.8,1933.6 L1822.8,1932.0 L1824.5,1930.0 L1825.9,1927.9 L1827.2,1925.6 L1828.3,1923.3 L1829.4,1920.9 L1830.4,1918.5 L1831.3,1916.0 L1832.2,1913.6 L1833.1,1911.2 L1834.0,1908.7 L1834.8,1906.3 L1835.7,1903.8 L1836.6,1901.4 L1837.5,1898.9 L1838.4,1896.5 L1839.3,1894.0 L1840.2,1891.6 L1841.0,1889.2 L1841.9,1886.7 L1842.7,1884.2 L1843.6,1881.8 L1844.4,1879.3 L1845.3,1876.9 L1846.1,1874.4 L1847.0,1872.0 L1847.9,1869.5 L1848.8,1867.1 L1849.7,1864.7 L1850.7,1862.2 L1851.7,1859.8 L1852.7,1857.5 L1853.8,1855.1 L1854.8,1852.7 L1855.9,1850.3 L1856.9,1847.9 L1858.0,1845.6 L1859.1,1843.2 L1860.3,1840.9 L1861.5,1838.6 L1862.7,1836.3 L1864.0,1834.0 L1865.3,1831.8 L1866.6,1829.6 L1868.1,1827.4 L1869.6,1825.3 L1871.2,1823.2 L1872.8,1821.2 L1874.6,1819.3 L1876.4,1817.4 L1878.2,1815.6 L1880.2,1813.9 L1882.2,1812.2 L1884.2,1810.6 L1886.3,1809.0 L1888.4,1807.6 L1890.6,1806.2 L1892.9,1804.9 L1895.2,1803.7 L1897.5,1802.5 L1899.9,1801.4 L1902.2,1800.3 L1904.6,1799.3 L1907.0,1798.2 L1909.4,1797.2 L1911.7,1796.1 L1914.0,1794.9 L1916.3,1793.7 L1918.6,1792.4 L1920.9,1791.1 L1923.1,1789.9 L1925.4,1788.6 L1927.7,1787.5 L1930.1,1786.4 L1932.6,1785.6 L1935.1,1784.9 L1937.6,1784.4 L1940.2,1784.0 L1942.8,1783.7 L1945.4,1783.6 L1948.0,1783.6 L1950.6,1783.7 L1953.2,1784.0 L1955.7,1784.7 L1958.1,1785.6 L1960.4,1786.8 L1962.7,1788.1 L1964.8,1789.6 L1966.7,1791.3 L1968.0,1793.6 L1969.2,1795.9 L1971.2,1797.4 L1973.8,1798.0 L1976.3,1798.3 L1978.9,1798.4 L1981.5,1798.4 L1984.1,1798.1 L1986.7,1797.6 L1989.1,1796.7 L1991.2,1795.2 L1992.8,1793.2 L1994.2,1790.9 L1995.4,1788.7 L1996.7,1786.4 L1998.1,1784.2 L1999.6,1782.1 L2001.3,1780.1 L2002.9,1778.1 L2004.6,1776.1 L2006.5,1774.3 L2008.5,1772.6 L2010.7,1771.2 L2013.0,1770.1 L2015.5,1769.2 L2018.0,1768.5 L2020.5,1768.0 L2023.1,1767.6 L2025.7,1767.4 L2028.3,1767.3 L2030.9,1767.4 L2033.4,1767.7 L2036.0,1768.2 L2038.5,1768.7 L2041.1,1769.4 L2043.6,1770.0 L2046.1,1770.7 L2048.6,1771.4 L2051.1,1772.1 L2053.6,1772.9 L2056.1,1773.7 L2058.5,1774.5 L2061.0,1775.4 L2063.4,1776.3 L2065.8,1777.3 L2068.2,1778.4 L2070.5,1779.5 L2072.8,1780.6 L2075.2,1781.8 L2077.5,1783.1 L2079.7,1784.3 L2082.0,1785.7 L2084.2,1787.0 L2086.3,1788.5 L2088.4,1790.1 L2090.3,1791.9 L2092.0,1793.8 L2093.7,1795.8 L2095.4,1797.7 L2097.3,1799.5 L2099.4,1801.0 L2101.9,1801.7 L2104.5,1801.5 L2106.9,1800.7 L2109.3,1799.7 L2111.8,1798.8 L2114.3,1798.4 L2116.9,1798.7 L2119.4,1799.6 L2121.7,1800.7 L2123.9,1802.0 L2126.0,1803.6 L2128.1,1805.2 L2130.0,1806.9 L2132.0,1808.6 L2133.9,1810.3 L2135.8,1812.1 L2137.6,1814.0 L2139.4,1815.8 L2141.2,1817.7 L2143.0,1819.7 L2144.7,1821.6 L2146.3,1823.6 L2148.0,1825.6 L2149.6,1827.7 L2151.2,1829.7 L2152.6,1831.9 L2154.1,1834.0 L2155.5,1836.2 L2156.9,1838.4 L2158.2,1840.7 L2159.5,1842.9 L2160.9,1845.1 L2162.2,1847.4 L2163.5,1849.6 L2164.8,1851.9 L2166.2,1854.1 L2167.5,1856.3 L2168.9,1858.5 L2170.4,1860.6 L2172.0,1862.7 L2173.6,1864.8 L2175.2,1866.8 L2176.9,1868.7 L2178.7,1870.6 L2180.7,1872.2 L2182.9,1873.7 L2185.1,1875.0 L2187.5,1876.1 L2189.9,1877.0 L2192.4,1877.7 L2195.0,1878.3 L2197.5,1878.8 L2200.1,1879.1 L2202.7,1879.4 L2205.3,1879.5 L2207.9,1879.5 L2210.5,1879.3 L2213.0,1879.0 L2215.6,1878.6 L2218.2,1878.3 L2220.8,1877.9 L2223.4,1877.7 L2226.0,1877.6 L2228.6,1877.7 L2231.1,1878.0 L2233.6,1878.7 L2235.6,1880.4 L2237.1,1882.5 L2238.5,1884.7 L2239.7,1887.0 L2240.9,1889.3 L2241.9,1891.7 L2242.9,1894.1 L2243.8,1896.5 L2244.7,1899.0 L2245.5,1901.4 L2246.2,1903.9 L2246.9,1906.4 L2247.6,1908.9 L2248.2,1911.5 L2248.9,1914.0 L2249.4,1916.5 L2250.0,1919.1 L2250.5,1921.6 L2251.0,1924.2 L2251.5,1926.7 L2252.0,1929.3 L2252.4,1931.8 L2252.9,1934.4 L2253.3,1937.0 L2253.7,1939.5 L2254.1,1942.1 L2254.6,1944.7 L2255.0,1947.2 L2255.3,1949.8 L2255.7,1952.4 L2256.1,1954.9 L2256.5,1957.5 L2256.8,1960.1 L2257.2,1962.7 L2257.5,1965.3 L2257.8,1967.8 L2258.2,1970.4 L2258.5,1973.0 L2258.8,1975.6 L2259.1,1978.1 L2259.5,1980.7 L2259.8,1983.3 L2260.1,1985.9 L2260.5,1988.5 L2260.8,1991.0 L2261.1,1993.6 L2261.4,1996.2 L2261.8,1998.8 L2262.1,2001.4 L2262.5,2003.9 L2262.8,2006.5 L2263.2,2009.1 L2263.5,2011.7 L2263.9,2014.2 L2264.2,2016.8 L2264.6,2019.4 L2264.9,2022.0 L2265.3,2024.5 L2265.6,2027.1 L2266.0,2029.7 L2266.3,2032.3 L2266.7,2034.9 L2267.0,2037.4 L2267.4,2040.0 L2267.7,2042.6 L2268.1,2045.2 L2268.4,2047.7 L2268.8,2050.3 L2269.1,2052.9 L2269.5,2055.5 L2269.8,2058.0 L2270.2,2060.6 L2270.5,2063.2 L2270.9,2065.8 L2271.2,2068.0" fill="none" stroke="#83403b" stroke-width="4" stroke-linejoin="round" stroke-linecap="round"/>
<path d="M184.9,539.7 L187.5,539.7 L190.1,539.7 L192.7,539.6 L195.3,539.6 L197.9,539.6 L200.5,539.6 L203.1,539.6 L205.7,539.5 L208.3,539.5 L210.9,539.5 L213.5,539.5 L216.1,539.4 L218.7,539.4 L221.3,539.4 L223.9,539.4 L226.5,539.3 L229.1,539.3 L231.7,539.2 L234.3,539.3 L236.9,539.3 L239.5,539.1 L242.1,538.6 L244.7,539.6 L247.3,539.6 L249.9,538.9 L252.5,538.8 L255.1,538.1 L257.7,537.6 L260.3,538.3 L262.9,538.7 L265.5,537.4 L268.1,538.9 L270.7,537.6 L273.3,537.5 L275.9,537.0 L278.5,539.0 L281.1,538.3 L283.7,538.5 L286.3,537.9 L288.9,536.5 L291.5,537.0 L294.1,537.3 L296.7,536.4 L299.3,538.1 L301.9,536.7 L304.5,536.2 L307.1,537.5 L309.7,535.9 L312.3,537.6 L314.9,536.4 L317.4,536.5 L320.0,536.0 L322.6,536.2 L325.2,535.4 L327.8,535.0 L330.4,536.7 L333.0,535.3 L335.6,536.4 L338.2,535.0 L340.8,536.6 L343.4,536.3 L346.0,535.9 L348.6,535.8 L351.2,535.3 L353.8,535.5 L356.4,534.1 L359.0,534.8 L361.6,535.4 L364.2,533.9 L366.8,535.4 L369.4,535.2 L372.0,534.0 L374.6,533.8 L377.2,533.9 L379.8,533.6 L382.4,534.7 L385.0,533.2 L387.6,532.2 L390.2,532.1 L392.8,533.3 L395.3,533.7 L397.9,532.4 L400.5,532.2 L403.1,532.1 L405.7,532.5 L408.3,531.3 L410.9,532.1 L413.5,531.9 L416.1,532.0 L418.7,531.0 L421.3,531.0 L423.9,531.4 L426.5,532.8 L429.1,531.6 L431.7,532.3 L434.3,532.0 L436.9,531.8 L439.4,532.2 L442.0,534.2 L444.5,534.6 L447.0,534.7 L449.5,535.8 L452.0,536.5 L454.5,537.3 L456.9,538.1 L459.4,539.0 L461.8,539.9 L464.2,540.8 L466.7,541.7 L469.1,542.6 L471.6,543.5 L474.0,544.3 L476.5,545.2 L479.0,546.0 L481.4,546.8 L483.9,547.6 L486.4,548.4 L488.8,549.2 L491.3,550.1 L493.8,550.9 L496.2,551.8 L498.6,552.7 L501.1,553.6 L503.5,554.6 L505.9,555.6 L508.3,556.6 L510.6,557.7 L513.0,558.8 L515.3,560.0 L517.6,561.1 L520.0,562.3 L522.3,563.5 L524.6,564.7 L526.9,565.9 L529.2,567.1 L531.5,568.3 L533.8,569.5 L536.1,570.7 L538.4,571.9 L540.7,573.1 L543.0,574.3 L545.3,575.5 L547.6,576.8 L549.9,578.0 L552.2,579.3 L554.5,580.5 L556.8,581.7 L559.1,582.9 L561.4,584.1 L563.8,585.2 L566.1,586.2 L568.5,587.2 L571.0,588.1 L573.4,589.0 L575.9,589.8 L578.3,590.6 L580.8,591.3 L583.4,592.0 L585.9,592.7 L588.4,593.3 L590.9,593.8 L593.5,594.3 L596.0,594.8 L598.6,595.3 L601.2,595.7 L603.8,596.0 L606.3,596.3 L608.9,596.6 L611.5,596.9 L614.1,597.0 L616.7,597.2 L619.3,597.3 L621.9,597.3 L624.5,597.3 L627.1,597.3 L629.7,597.2 L632.3,597.1 L634.9,596.9 L637.5,596.7 L640.1,596.4 L642.6,596.1 L645.2,595.7 L647.8,595.2 L650.3,594.8 L652.9,594.2 L655.4,593.7 L658.0,593.2 L660.5,592.6 L663.0,592.0 L665.6,591.5 L668.1,590.9 L670.7,590.4 L673.2,589.8 L675.7,589.2 L678.3,588.6 L680.8,588.0 L683.3,587.4 L685.8,586.7 L688.3,586.1 L690.9,585.4 L693.4,584.8 L695.9,584.1 L698.4,583.4 L700.9,582.7 L703.4,582.0 L705.9,581.2 L708.4,580.4 L710.8,579.6 L713.3,578.8 L715.7,577.9 L718.2,577.1 L720.7,576.4 L723.2,575.6 L725.7,574.9 L728.2,574.3 L730.7,573.7 L733.3,573.1 L735.8,572.6 L738.4,572.1 L740.9,571.6 L743.5,571.2 L746.1,570.7 L748.6,570.3 L751.2,569.9 L753.8,569.5 L756.3,569.1 L758.9,568.7 L761.5,568.3 L764.0,568.0 L766.6,567.6 L769.2,567.3 L771.8,567.0 L774.4,566.7 L777.0,566.5 L779.6,566.2 L782.1,566.1 L784.7,566.1 L787.3,566.4 L789.6,567.6 L791.9,568.9 L794.3,569.9 L796.7,570.9 L799.0,572.0 L801.4,573.0 L803.8,574.2 L806.1,575.4 L808.3,576.6 L810.6,577.9 L812.7,579.4 L814.7,581.0 L816.6,582.9 L818.3,584.8 L820.0,586.8 L821.7,588.8 L823.5,590.6 L825.5,592.3 L827.8,593.4 L830.3,594.2 L832.9,594.5 L835.5,594.6 L838.1,594.4 L840.7,594.1 L843.2,593.6 L845.7,593.0 L848.2,592.2 L850.6,591.2 L853.0,590.1 L855.3,588.9 L857.6,587.7 L859.9,586.6 L862.3,585.5 L864.8,584.6 L867.2,583.8 L869.7,582.9 L872.1,582.1 L874.6,581.4 L877.2,580.9 L879.8,580.9 L882.3,581.5 L884.4,583.0 L886.0,585.1 L887.3,587.3 L888.5,589.6 L889.7,591.9 L891.1,594.1 L892.7,596.1 L894.9,597.5 L897.4,597.7 L899.9,597.0 L902.3,595.9 L904.5,594.6 L906.7,593.2 L908.9,591.8 L911.1,590.4 L913.3,589.0 L915.6,587.8 L918.0,586.7 L920.3,585.6 L922.7,584.5 L925.0,583.3 L927.4,582.3 L929.7,581.2 L932.1,580.1 L934.5,579.1 L936.9,578.1 L939.3,577.2 L941.8,576.3 L944.2,575.4 L946.7,574.6 L949.1,573.7 L951.6,572.8 L954.0,572.0 L956.5,571.2 L959.0,570.5 L961.5,569.8 L964.1,569.2 L966.6,568.7 L969.2,568.1 L971.7,567.7 L974.3,567.3 L976.9,567.0 L979.4,566.6 L982.0,566.3 L984.6,566.0 L987.2,565.8 L989.8,565.5 L992.4,565.3 L995.0,565.0 L997.6,564.8 L1000.1,564.6 L1002.7,564.4 L1005.3,564.2 L1007.9,564.0 L1010.5,563.8 L1013.1,563.7 L1015.7,563.5 L1018.3,563.3 L1020.9,563.1 L1023.5,563.0 L1026.1,562.8 L1028.7,562.7 L1031.3,562.5 L1033.9,562.4 L1036.5,562.2 L1039.1,562.1 L1041.7,561.9 L1044.3,561.8 L1046.8,561.7 L1049.4,561.5 L1052.0,561.4 L1054.6,561.3 L1057.2,561.3 L1059.8,561.2 L1062.4,561.1 L1065.0,561.0 L1067.6,561.0 L1070.2,560.9 L1072.8,560.8 L1075.4,560.8 L1078.0,560.7 L1080.6,560.6 L1083.2,560.6 L1085.8,560.5 L1088.4,560.4 L1091.0,560.3 L1093.6,560.2 L1096.2,560.1 L1098.8,560.0 L1101.4,559.9 L1104.0,559.7 L1106.6,559.6 L1109.2,559.4 L1111.8,559.2 L1114.4,559.0 L1117.0,558.8 L1119.6,558.6 L1122.2,558.4 L1124.8,558.1 L1127.3,557.9 L1129.9,557.7 L1132.5,557.4 L1135.1,557.2 L1137.7,556.9 L1140.3,556.7 L1142.9,556.4 L1145.5,556.2 L1148.0,555.9 L1150.6,555.7 L1153.2,555.4 L1155.8,555.6 L1158.4,555.5 L1161.0,555.0 L1163.6,555.4 L1166.2,554.8 L1168.8,554.9 L1171.3,555.3 L1173.2,558.2 L1175.6,557.2 L1177.8,555.7 L1179.7,555.3 L1181.6,553.4 L1183.7,551.3 L1186.0,552.0 L1186.9,553.0 L1188.0,555.8 L1190.0,557.3 L1192.6,557.8 L1195.2,557.2 L1197.7,556.6 L1200.3,556.6 L1202.8,557.1 L1205.3,556.6 L1207.9,555.5 L1210.4,554.4 L1212.9,553.3 L1215.4,554.0 L1217.9,552.5 L1220.4,552.2 L1223.0,550.3 L1225.5,550.0 L1228.0,550.4 L1230.5,549.7 L1233.0,549.2 L1235.5,548.0 L1238.0,547.0 L1240.5,546.6 L1243.0,546.3 L1245.5,544.7 L1248.0,544.4 L1250.5,543.2 L1253.0,543.4 L1255.5,541.3 L1258.0,541.8 L1260.5,541.5 L1263.0,539.1 L1265.5,539.4 L1268.0,538.7 L1270.5,538.3 L1273.0,537.0 L1275.4,535.6 L1277.9,535.1 L1280.4,535.3 L1282.8,534.3 L1285.3,532.1 L1287.7,531.1 L1290.2,530.2 L1292.6,529.2 L1295.0,528.9 L1297.3,527.3 L1299.5,527.1 L1301.1,524.7 L1302.2,521.4 L1304.6,522.0 L1306.6,523.3 L1308.3,525.5 L1310.0,527.0 L1311.9,528.7 L1314.0,530.3 L1316.1,532.2 L1318.2,534.3 L1320.3,535.5 L1322.5,536.0 L1324.8,538.4 L1327.2,539.6 L1329.8,540.0 L1332.4,540.1 L1335.0,538.5 L1337.5,538.8 L1340.0,537.4 L1342.5,537.9 L1345.0,536.1 L1347.5,536.2 L1349.9,534.6 L1352.4,534.6 L1354.9,533.1 L1357.3,531.7 L1359.7,531.4 L1362.1,530.2 L1364.5,530.2 L1366.8,528.0 L1369.0,526.9 L1371.0,525.3 L1372.8,523.7 L1374.4,521.0 L1375.9,519.3 L1377.6,517.2 L1379.5,515.4 L1381.7,514.2 L1384.2,513.5 L1386.8,513.5 L1389.4,513.9 L1391.8,514.8 L1394.0,516.2 L1396.0,517.8 L1398.1,519.4 L1400.3,520.8 L1402.8,521.6 L1405.3,522.0 L1407.9,522.0 L1410.4,521.3 L1412.4,519.6 L1414.0,517.6 L1416.0,516.0 L1418.5,515.9 L1420.9,517.0 L1423.1,518.5 L1425.2,520.0 L1427.3,521.5 L1429.5,522.8 L1431.9,523.9 L1434.3,524.9 L1436.7,525.7 L1439.2,526.5 L1441.7,527.3 L1444.2,527.9 L1446.8,528.4 L1449.3,528.9 L1451.9,529.2 L1454.5,529.4 L1457.1,529.6 L1459.7,529.7 L1462.3,529.8 L1464.9,529.8 L1467.5,529.8 L1470.1,529.7 L1472.7,529.7 L1475.3,529.6 L1477.9,529.5 L1480.5,529.4 L1483.1,529.3 L1485.7,529.2 L1488.3,529.1 L1490.9,529.0 L1493.5,528.8 L1496.1,528.7 L1498.7,528.5 L1501.3,528.5 L1503.9,528.0 L1506.4,528.3 L1509.0,527.9 L1511.6,527.8 L1514.2,525.9 L1516.8,528.3 L1519.4,528.7 L1522.0,526.3 L1524.6,525.9 L1527.2,528.1 L1529.8,524.7 L1532.4,524.4 L1535.0,524.2 L1537.5,526.6 L1540.1,526.2 L1542.7,524.8 L1545.3,525.2 L1547.9,522.8 L1550.5,524.8 L1553.1,523.8 L1555.6,523.7 L1558.2,522.9 L1560.8,522.6 L1563.4,521.6 L1565.9,520.5 L1568.5,521.4 L1571.0,520.1 L1573.6,521.2 L1576.1,521.0 L1578.6,520.0 L1581.1,518.3 L1583.6,516.9 L1586.1,516.8 L1588.7,516.6 L1591.2,516.5 L1593.7,516.9 L1596.2,513.0 L1598.6,513.6 L1601.1,512.9 L1603.6,513.0 L1606.2,513.0 L1608.7,512.3 L1611.3,511.6 L1613.9,512.3 L1616.3,513.0 L1618.4,514.7 L1620.2,516.2 L1621.9,518.1 L1623.4,520.0 L1624.8,522.3 L1626.2,524.4 L1627.7,526.6 L1629.2,528.7 L1630.8,530.7 L1632.4,532.8 L1634.0,534.9 L1635.5,537.0 L1637.1,539.1 L1638.6,541.2 L1640.1,543.3 L1641.7,545.4 L1643.2,547.4 L1644.9,549.5 L1646.5,551.5 L1648.1,553.5 L1649.9,555.4 L1652.2,556.5 L1654.8,556.5 L1657.3,555.7 L1659.6,554.7 L1662.0,553.9 L1664.3,553.0 L1666.6,552.0 L1668.8,548.6 L1670.9,547.8 L1673.0,546.3 L1675.2,545.0 L1677.4,543.1 L1679.7,542.9 L1682.2,540.9 L1684.7,541.0 L1687.3,542.1 L1689.9,541.6 L1692.5,541.3 L1695.1,541.3 L1697.7,542.1 L1700.3,542.4 L1702.8,542.9 L1705.3,543.6 L1707.7,544.6 L1710.0,545.8 L1712.1,547.3 L1714.1,549.0 L1716.0,550.8 L1717.9,552.6 L1719.7,554.4 L1721.4,556.4 L1723.1,558.4 L1724.7,560.4 L1726.2,562.5 L1727.8,564.6 L1729.3,566.7 L1730.6,569.0 L1731.7,571.3 L1733.0,573.5 L1735.2,574.7 L1737.3,573.4 L1739.0,571.4 L1740.6,569.3 L1742.3,567.4 L1744.3,565.7 L1746.5,564.3 L1748.8,563.2 L1751.2,562.1 L1753.6,561.2 L1756.1,560.3 L1758.6,559.7 L1761.2,559.7 L1763.8,559.9 L1766.4,559.6 L1768.7,558.6 L1770.9,557.2 L1773.0,555.6 L1775.0,553.9 L1777.1,552.4 L1779.3,551.0 L1781.7,550.1 L1784.2,550.2 L1786.6,551.2 L1788.7,552.7 L1790.8,554.4 L1792.8,556.0 L1794.9,557.6 L1796.8,559.4 L1798.6,561.2 L1800.4,563.1 L1802.4,564.8 L1804.5,566.2 L1807.0,567.0 L1809.6,567.0 L1812.1,566.5 L1814.5,565.7 L1816.9,564.6 L1819.2,563.4 L1821.5,562.2 L1823.8,560.9 L1826.0,559.5 L1828.1,558.0 L1830.2,556.4 L1832.2,554.8 L1834.2,553.2 L1836.2,551.5 L1838.2,549.8 L1840.1,548.0 L1842.0,546.3 L1843.9,544.5 L1845.8,542.7 L1847.6,540.9 L1849.5,539.0 L1851.3,537.2 L1853.1,535.3 L1854.9,533.4 L1856.7,531.5 L1858.4,529.6 L1860.1,527.6 L1861.7,525.6 L1863.3,523.6 L1865.0,521.5 L1866.7,519.5 L1868.3,517.6 L1870.1,515.7 L1871.9,513.8 L1873.8,512.0 L1875.7,510.3 L1877.7,508.6 L1879.7,506.9 L1881.7,505.3 L1883.8,503.7 L1885.9,502.1 L1888.1,500.7 L1890.5,499.9 L1893.0,499.2 L1895.2,497.8 L1897.2,496.2 L1899.2,494.5 L1901.1,492.7 L1903.0,491.0 L1904.9,489.2 L1907.0,487.6 L1909.0,486.0 L1911.2,484.5 L1913.3,483.1 L1915.5,481.7 L1917.8,480.4 L1920.2,479.4 L1922.7,479.0 L1925.2,479.7 L1927.4,481.1 L1929.4,482.8 L1931.2,484.6 L1932.9,486.6 L1934.6,488.6 L1936.2,490.6 L1937.9,492.6 L1939.6,494.5 L1941.2,496.6 L1942.7,498.7 L1944.4,500.7 L1946.7,501.5 L1948.6,499.8 L1950.0,497.6 L1951.1,495.2 L1952.2,492.9 L1953.4,490.5 L1954.6,488.2 L1955.8,486.0 L1957.0,483.6 L1958.2,481.3 L1959.3,479.0 L1960.6,476.7 L1962.0,474.5 L1963.6,472.5 L1965.4,470.6 L1967.4,469.0 L1969.9,468.2 L1972.4,468.6 L1973.9,470.6 L1974.7,473.1 L1975.3,475.6 L1975.8,478.2 L1976.3,480.7 L1976.7,483.3 L1977.0,485.9 L1977.4,488.5 L1977.7,491.0 L1978.0,493.6 L1978.3,496.2 L1978.6,498.8 L1978.9,501.4 L1979.2,504.0 L1979.4,506.5 L1979.7,509.1 L1980.0,511.7 L1980.2,514.3 L1980.5,516.9 L1980.7,519.5 L1981.0,522.1 L1981.2,524.7 L1981.4,527.2 L1981.6,529.8 L1981.9,532.4 L1982.1,535.0 L1982.3,537.6 L1982.5,540.2 L1982.7,542.8 L1982.9,545.4 L1983.1,548.0 L1983.3,550.6 L1983.5,553.2 L1983.7,555.8 L1983.8,558.4 L1984.0,560.9 L1984.2,563.5 L1984.4,566.1 L1984.6,568.7 L1984.8,571.3 L1985.0,573.9 L1985.2,576.5 L1985.5,579.1 L1985.7,581.7 L1985.9,584.3 L1986.1,586.9 L1986.3,589.5 L1986.5,592.0 L1986.7,594.6 L1986.9,597.2 L1987.1,599.8 L1987.3,602.4 L1987.5,605.0 L1987.8,607.6 L1988.0,610.2 L1988.2,612.8 L1988.4,615.4 L1988.6,618.0 L1988.8,620.6 L1989.0,623.1 L1989.3,625.7 L1989.5,628.3 L1989.7,630.9 L1990.0,633.5 L1990.3,636.1 L1990.5,638.7 L1990.8,641.3 L1991.1,643.8 L1991.5,646.4 L1991.8,649.0 L1992.2,651.6 L1992.6,654.1 L1993.1,656.7 L1993.6,659.2 L1994.5,661.7 L1996.3,662.0 L1997.2,659.6 L1997.9,657.1 L1998.5,654.5 L1999.0,652.0 L1999.5,649.4 L1999.9,646.9 L2000.4,644.3 L2000.9,641.8 L2001.3,639.2 L2001.8,636.6 L2002.2,634.1 L2002.6,631.5 L2003.0,628.9 L2003.4,626.4 L2003.7,623.8 L2004.1,621.2 L2004.5,618.6 L2004.8,616.1 L2005.2,613.5 L2005.6,610.9 L2005.9,608.3 L2006.3,605.8 L2006.7,603.2 L2007.1,600.6 L2007.4,598.0 L2007.8,595.5 L2008.2,592.9 L2008.6,590.3 L2009.0,587.8 L2009.4,585.2 L2009.8,582.6 L2010.3,580.1 L2010.7,577.5 L2011.1,574.9 L2011.5,572.4 L2011.9,569.8 L2012.3,567.2 L2012.7,564.7 L2013.1,562.1 L2013.5,559.5 L2013.9,557.0 L2014.3,554.4 L2014.7,551.8 L2015.2,549.3 L2015.6,546.7 L2016.1,544.1 L2016.6,541.6 L2017.0,539.0 L2017.6,536.5 L2018.1,533.9 L2018.6,531.4 L2019.2,528.9 L2019.8,526.3 L2020.5,523.8 L2021.1,521.3 L2021.8,518.8 L2022.6,516.3 L2023.4,513.8 L2024.2,511.4 L2025.0,508.9 L2025.9,506.5 L2026.9,504.0 L2027.8,501.6 L2028.8,499.2 L2029.8,496.8 L2030.9,494.5 L2032.0,492.1 L2033.1,489.8 L2034.3,487.5 L2035.6,485.2 L2037.1,483.0 L2038.6,480.9 L2040.2,478.9 L2041.8,476.9 L2043.6,474.9 L2045.3,473.0 L2047.2,471.2 L2049.2,469.6 L2051.5,468.3 L2053.7,466.9 L2055.7,465.3 L2057.5,463.4 L2059.1,461.4 L2060.7,459.3 L2062.3,457.2 L2063.9,455.2 L2065.5,453.2 L2067.2,451.2 L2069.0,449.4 L2071.0,447.7 L2073.0,446.0 L2075.1,444.4 L2077.2,442.9 L2079.4,441.5 L2081.7,440.3 L2084.0,439.2 L2086.5,438.5 L2089.1,438.5 L2091.7,439.0 L2094.1,439.9 L2096.4,441.1 L2098.3,442.8 L2100.2,444.7 L2102.3,446.1 L2104.8,446.6 L2107.4,446.4 L2110.0,446.1 L2112.6,446.2 L2114.9,447.4 L2116.8,449.1 L2118.7,450.9 L2121.0,452.0 L2123.0,450.5 L2124.6,448.4 L2126.7,447.0 L2129.2,446.9 L2131.8,447.4 L2134.3,448.2 L2136.7,449.1 L2139.1,450.0 L2141.5,451.0 L2143.9,452.1 L2146.3,453.1 L2148.6,454.2 L2151.0,455.4 L2153.3,456.6 L2155.6,457.8 L2157.8,459.2 L2160.0,460.6 L2162.2,462.0 L2164.4,463.4 L2166.6,464.8 L2168.7,466.2 L2170.9,467.6 L2173.2,468.9 L2175.4,470.2 L2177.8,471.4 L2180.1,472.5 L2182.5,473.5 L2184.9,474.5 L2187.4,475.3 L2189.8,476.1 L2192.3,476.8 L2194.9,477.4 L2197.4,477.8 L2200.0,478.1 L2202.6,478.1 L2205.2,477.9 L2207.8,477.6 L2210.3,477.1 L2212.9,476.5 L2215.4,475.9 L2217.9,475.2 L2220.4,474.3 L2222.8,473.3 L2225.1,472.2 L2227.5,471.1 L2229.9,470.1 L2232.3,469.4 L2234.9,468.9 L2237.5,469.0 L2240.1,469.5 L2242.5,470.3 L2244.9,471.4 L2247.2,472.6 L2249.3,474.1 L2251.3,475.7 L2253.2,477.6 L2254.8,479.6 L2256.3,481.7 L2257.6,484.0 L2258.8,486.3 L2260.1,488.6 L2261.3,490.8 L2262.5,493.1 L2263.7,495.4 L2264.9,497.8 L2266.0,500.1 L2267.2,502.4 L2268.3,504.8 L2269.4,507.1 L2270.5,509.5 L2271.7,511.8 L2272.8,514.1 L2274.0,516.5 L2275.1,518.8 L2276.4,521.1 L2277.6,523.4 L2278.8,525.7 L2280.0,528.0 L2281.2,530.3 L2282.4,532.6 L2283.6,534.9 L2284.8,537.2 L2286.1,539.4 L2287.5,541.7 L2288.9,543.8 L2290.4,545.9 L2292.2,547.9 L2294.2,549.5 L2296.6,550.5 L2299.1,551.1 L2301.7,551.2 L2304.3,551.1 L2306.9,550.9 L2308.3,550.9" fill="none" stroke="#0a0a0a" stroke-width="4.8" stroke-linejoin="round" stroke-linecap="round"/>
<path d="M184.9,1140.7 L187.5,1140.6 L190.1,1140.6 L192.7,1140.5 L195.3,1140.5 L197.9,1140.4 L200.5,1140.3 L203.1,1140.3 L205.7,1140.2 L208.3,1140.2 L210.9,1140.1 L213.5,1140.0 L216.1,1140.0 L218.7,1139.9 L221.3,1139.8 L223.9,1139.7 L226.5,1139.7 L229.1,1139.6 L231.7,1139.6 L234.3,1139.2 L236.9,1138.8 L239.5,1139.9 L242.1,1138.6 L244.7,1138.2 L247.3,1139.2 L249.9,1138.4 L252.5,1139.5 L255.1,1137.9 L257.7,1139.4 L260.3,1137.8 L262.9,1138.3 L265.4,1138.9 L268.0,1138.2 L270.6,1138.5 L273.2,1137.9 L275.8,1136.3 L278.4,1138.0 L281.0,1137.2 L283.6,1136.4 L286.2,1135.9 L288.8,1137.2 L291.4,1136.5 L294.0,1137.1 L296.6,1136.6 L299.2,1136.8 L301.8,1135.8 L304.4,1135.9 L307.0,1135.5 L309.6,1134.6 L312.2,1136.0 L314.7,1134.4 L317.3,1135.3 L319.9,1135.5 L322.5,1134.6 L325.1,1133.4 L327.7,1134.7 L330.3,1134.2 L332.9,1133.0 L335.5,1132.5 L338.1,1133.4 L340.7,1132.1 L343.3,1133.9 L345.9,1132.8 L348.5,1132.7 L351.1,1132.3 L353.7,1132.7 L356.3,1133.1 L358.9,1131.5 L361.5,1131.5 L364.0,1131.8 L366.6,1131.0 L369.2,1131.5 L371.8,1131.2 L374.4,1130.8 L377.0,1131.1 L379.6,1130.6 L382.2,1129.5 L384.8,1131.2 L387.4,1129.6 L390.0,1129.5 L392.6,1129.2 L395.1,1130.1 L397.7,1130.0 L400.3,1128.8 L402.9,1128.5 L405.5,1127.7 L408.1,1129.5 L410.7,1127.9 L413.3,1128.7 L415.9,1128.3 L418.5,1128.3 L421.1,1128.4 L423.7,1128.1 L426.3,1127.9 L428.9,1129.2 L431.5,1130.1 L434.1,1130.1 L436.6,1129.6 L439.2,1131.2 L441.7,1130.5 L444.2,1131.9 L446.7,1133.2 L449.2,1133.9 L451.6,1134.4 L454.1,1135.4 L456.5,1136.3 L458.9,1137.3 L461.3,1138.3 L463.6,1139.4 L466.0,1140.5 L468.3,1141.7 L470.6,1142.8 L473.0,1144.0 L475.2,1145.3 L477.5,1146.6 L479.7,1147.9 L481.9,1149.3 L484.1,1150.7 L486.3,1152.1 L488.5,1153.5 L490.6,1155.0 L492.8,1156.4 L494.9,1157.9 L497.1,1159.4 L499.2,1160.9 L501.3,1162.4 L503.5,1163.8 L505.6,1165.3 L507.8,1166.7 L509.9,1168.2 L512.1,1169.7 L514.2,1171.1 L516.4,1172.6 L518.5,1174.1 L520.7,1175.5 L522.8,1177.0 L524.9,1178.5 L527.0,1180.0 L529.2,1181.5 L531.3,1183.1 L533.4,1184.6 L535.5,1186.1 L537.5,1187.7 L539.6,1189.3 L541.7,1190.9 L543.7,1192.5 L545.7,1194.2 L547.7,1195.9 L549.6,1197.5 L551.6,1199.2 L553.6,1200.9 L555.6,1202.6 L557.6,1204.3 L559.6,1205.9 L561.6,1207.6 L563.7,1209.2 L565.7,1210.7 L567.8,1212.3 L569.9,1213.8 L572.1,1215.2 L574.3,1216.7 L576.4,1218.1 L578.6,1219.5 L580.8,1220.9 L583.0,1222.3 L585.3,1223.6 L587.5,1224.9 L589.8,1226.1 L592.1,1227.3 L594.4,1228.5 L596.8,1229.5 L599.2,1230.5 L601.7,1231.3 L604.2,1232.1 L606.7,1232.7 L609.2,1233.2 L611.8,1233.7 L614.4,1234.0 L617.0,1234.2 L619.6,1234.3 L622.2,1234.4 L624.8,1234.3 L627.4,1234.2 L630.0,1233.9 L632.5,1233.7 L635.1,1233.3 L637.7,1232.8 L640.2,1232.3 L642.7,1231.6 L645.2,1230.9 L647.7,1230.1 L650.1,1229.2 L652.6,1228.3 L655.0,1227.3 L657.4,1226.3 L659.8,1225.3 L662.2,1224.3 L664.6,1223.3 L667.0,1222.3 L669.4,1221.3 L671.8,1220.3 L674.2,1219.3 L676.6,1218.2 L678.9,1217.2 L681.3,1216.1 L683.6,1215.0 L686.0,1213.8 L688.3,1212.7 L690.7,1211.6 L693.0,1210.5 L695.4,1209.5 L697.8,1208.4 L700.2,1207.4 L702.5,1206.3 L704.9,1205.3 L707.3,1204.2 L709.7,1203.1 L712.0,1202.1 L714.4,1201.0 L716.8,1200.0 L719.2,1199.0 L721.6,1198.1 L724.1,1197.2 L726.5,1196.3 L729.0,1195.5 L731.5,1194.7 L734.0,1194.0 L736.5,1193.3 L739.0,1192.6 L741.5,1192.0 L744.0,1191.4 L746.6,1190.8 L749.1,1190.2 L751.6,1189.6 L754.2,1189.1 L756.7,1188.5 L759.3,1188.0 L761.8,1187.5 L764.4,1186.9 L766.9,1186.4 L769.5,1186.0 L772.0,1185.5 L774.6,1185.0 L777.2,1184.6 L779.7,1184.2 L782.3,1183.9 L784.9,1183.8 L787.3,1184.4 L789.1,1186.3 L791.2,1187.8 L793.2,1189.5 L795.1,1191.3 L797.0,1193.1 L798.8,1194.9 L800.8,1196.6 L802.8,1198.2 L805.1,1199.4 L807.6,1200.2 L810.1,1201.0 L812.5,1202.0 L814.6,1203.5 L816.3,1205.4 L817.6,1207.7 L818.7,1210.0 L819.7,1212.4 L820.6,1214.9 L821.5,1217.3 L822.5,1219.7 L823.5,1222.1 L824.7,1224.4 L826.3,1226.5 L828.2,1228.1 L830.6,1229.2 L833.1,1229.7 L835.7,1229.7 L838.3,1229.4 L840.9,1228.8 L843.3,1228.1 L845.7,1227.1 L848.0,1225.8 L850.0,1224.2 L851.9,1222.4 L853.8,1220.6 L855.7,1218.8 L857.6,1217.1 L859.7,1215.5 L861.9,1214.2 L864.1,1212.9 L866.4,1211.5 L868.6,1210.2 L870.9,1209.0 L873.2,1207.8 L875.7,1206.9 L878.2,1206.3 L880.8,1206.4 L883.0,1207.6 L884.6,1209.7 L885.7,1212.0 L886.5,1214.5 L887.3,1216.9 L888.0,1219.4 L888.6,1222.0 L889.2,1224.5 L889.8,1227.0 L890.5,1229.5 L891.3,1232.0 L892.4,1234.3 L894.0,1236.4 L896.3,1237.5 L898.7,1236.6 L900.9,1235.2 L902.9,1233.5 L904.7,1231.7 L906.4,1229.8 L908.2,1227.8 L909.9,1225.9 L911.7,1224.0 L913.5,1222.1 L915.4,1220.4 L917.4,1218.6 L919.3,1217.0 L921.3,1215.3 L923.3,1213.6 L925.3,1212.0 L927.4,1210.3 L929.4,1208.7 L931.5,1207.1 L933.6,1205.6 L935.7,1204.1 L937.9,1202.7 L940.1,1201.3 L942.3,1200.0 L944.6,1198.7 L946.8,1197.4 L949.1,1196.2 L951.4,1195.0 L953.8,1193.9 L956.1,1192.8 L958.5,1191.8 L961.0,1190.8 L963.4,1190.0 L965.9,1189.2 L968.4,1188.5 L970.9,1187.8 L973.4,1187.2 L976.0,1186.6 L978.5,1186.1 L981.0,1185.6 L983.6,1185.1 L986.2,1184.6 L988.7,1184.2 L991.3,1183.8 L993.9,1183.4 L996.4,1183.0 L999.0,1182.6 L1001.6,1182.2 L1004.2,1181.9 L1006.7,1181.5 L1009.3,1181.2 L1011.9,1180.9 L1014.5,1180.5 L1017.0,1180.2 L1019.6,1179.9 L1022.2,1179.6 L1024.8,1179.3 L1027.4,1179.0 L1030.0,1178.7 L1032.5,1178.5 L1035.1,1178.2 L1037.7,1177.9 L1040.3,1177.7 L1042.9,1177.5 L1045.5,1177.3 L1048.1,1177.1 L1050.7,1176.9 L1053.3,1176.8 L1055.9,1176.7 L1058.5,1176.6 L1061.1,1176.6 L1063.7,1176.5 L1066.3,1176.5 L1068.9,1176.4 L1071.5,1176.4 L1074.1,1176.3 L1076.7,1176.3 L1079.3,1176.2 L1081.9,1176.1 L1084.5,1176.0 L1087.1,1175.8 L1089.7,1175.6 L1092.2,1175.4 L1094.8,1175.1 L1097.4,1174.8 L1100.0,1174.5 L1102.6,1174.1 L1105.1,1173.7 L1107.7,1173.3 L1110.3,1172.9 L1112.8,1172.4 L1115.4,1172.0 L1117.9,1171.5 L1120.5,1171.0 L1123.1,1170.6 L1125.6,1170.1 L1128.2,1169.6 L1130.7,1169.2 L1133.3,1168.7 L1135.9,1168.3 L1138.4,1167.9 L1141.0,1167.5 L1143.6,1167.1 L1146.1,1166.7 L1148.7,1166.3 L1151.3,1165.9 L1153.8,1165.5 L1156.4,1165.2 L1159.0,1165.4 L1161.6,1165.1 L1164.2,1164.7 L1166.7,1165.7 L1169.1,1166.6 L1171.2,1167.6 L1173.5,1169.5 L1176.0,1169.1 L1177.9,1167.0 L1179.6,1165.6 L1181.1,1161.8 L1182.7,1160.7 L1184.9,1159.5 L1186.8,1160.5 L1187.9,1162.5 L1188.8,1165.9 L1190.0,1167.7 L1192.2,1168.7 L1194.6,1167.6 L1196.9,1168.1 L1199.2,1165.7 L1201.6,1164.4 L1204.2,1163.9 L1206.7,1163.7 L1209.3,1164.6 L1211.9,1163.2 L1214.5,1163.2 L1217.1,1162.4 L1219.6,1162.6 L1222.1,1161.4 L1224.6,1160.8 L1227.0,1160.6 L1229.4,1159.9 L1231.8,1158.7 L1234.2,1156.2 L1236.5,1155.7 L1238.8,1155.4 L1241.2,1152.8 L1243.5,1151.9 L1245.8,1151.3 L1248.1,1149.9 L1250.4,1149.3 L1252.7,1148.1 L1255.0,1146.4 L1257.3,1144.8 L1259.6,1143.6 L1261.9,1142.4 L1264.2,1140.8 L1266.5,1140.7 L1268.8,1138.5 L1271.1,1138.6 L1273.4,1137.0 L1275.7,1134.7 L1278.0,1134.3 L1280.3,1133.3 L1282.6,1131.0 L1284.9,1130.6 L1287.1,1128.5 L1289.4,1128.5 L1291.6,1125.8 L1293.8,1125.5 L1296.0,1124.7 L1298.1,1122.9 L1299.9,1120.0 L1301.3,1118.4 L1302.2,1115.2 L1302.5,1113.0 L1302.6,1111.3 L1304.3,1110.3 L1306.0,1110.8 L1307.3,1113.7 L1308.6,1116.5 L1309.9,1117.9 L1311.2,1121.2 L1312.8,1123.5 L1314.5,1124.8 L1316.2,1126.4 L1318.0,1129.2 L1319.7,1130.5 L1321.6,1131.8 L1323.5,1133.7 L1325.5,1135.2 L1327.7,1137.8 L1330.1,1138.1 L1332.7,1138.7 L1335.2,1138.6 L1337.7,1138.0 L1340.1,1135.5 L1342.4,1134.8 L1344.7,1134.4 L1347.1,1133.1 L1349.4,1131.4 L1351.8,1130.8 L1354.1,1128.9 L1356.5,1127.6 L1358.8,1126.2 L1361.0,1125.5 L1363.3,1123.9 L1365.4,1122.9 L1367.4,1122.0 L1369.2,1119.0 L1370.8,1117.5 L1372.2,1115.5 L1373.4,1112.9 L1374.4,1110.5 L1375.4,1108.2 L1376.4,1105.5 L1377.5,1103.4 L1378.7,1101.0 L1380.3,1099.0 L1382.5,1097.5 L1385.0,1096.9 L1387.5,1097.3 L1389.9,1098.3 L1392.1,1099.7 L1393.8,1101.7 L1395.4,1103.7 L1397.0,1105.8 L1398.7,1107.8 L1400.6,1109.5 L1402.9,1110.7 L1405.4,1111.2 L1408.0,1111.0 L1410.3,1109.9 L1411.9,1107.9 L1413.0,1105.5 L1414.2,1103.2 L1415.7,1101.1 L1418.0,1100.6 L1420.1,1102.1 L1421.7,1104.1 L1423.3,1106.2 L1424.8,1108.3 L1426.4,1110.3 L1428.2,1112.3 L1430.1,1114.0 L1432.2,1115.5 L1434.5,1116.7 L1436.9,1117.8 L1439.3,1118.8 L1441.7,1119.8 L1444.1,1120.6 L1446.6,1121.4 L1449.1,1122.0 L1451.7,1122.7 L1454.2,1123.2 L1456.8,1123.6 L1459.4,1123.9 L1461.9,1124.1 L1464.5,1124.1 L1467.1,1124.0 L1469.7,1123.7 L1472.3,1123.4 L1474.9,1123.1 L1477.5,1122.7 L1480.0,1122.4 L1482.6,1122.1 L1485.2,1121.9 L1487.8,1121.6 L1490.4,1121.3 L1493.0,1121.1 L1495.6,1120.8 L1498.1,1120.5 L1500.7,1120.2 L1503.3,1120.1 L1505.9,1119.0 L1508.5,1118.4 L1511.1,1118.2 L1513.6,1118.8 L1516.2,1120.1 L1518.8,1119.8 L1521.4,1117.8 L1524.0,1118.4 L1526.6,1118.8 L1529.2,1117.3 L1531.8,1119.7 L1534.4,1119.8 L1537.0,1119.2 L1539.6,1120.0 L1542.2,1119.8 L1544.8,1119.3 L1547.4,1118.1 L1550.0,1117.6 L1552.5,1116.9 L1554.9,1115.2 L1557.1,1117.0 L1559.3,1113.4 L1561.7,1111.3 L1564.0,1111.2 L1566.4,1109.3 L1568.7,1109.4 L1571.0,1107.9 L1573.4,1106.2 L1575.7,1106.2 L1578.1,1104.9 L1580.5,1103.6 L1582.9,1104.2 L1585.3,1101.4 L1587.7,1101.4 L1590.1,1101.6 L1592.5,1100.9 L1594.9,1097.8 L1597.3,1095.5 L1599.7,1097.8 L1602.1,1095.2 L1604.6,1093.4 L1607.1,1092.5 L1609.7,1092.7 L1612.2,1093.4 L1614.6,1094.2 L1616.6,1095.8 L1618.2,1099.5 L1619.7,1101.3 L1621.0,1102.8 L1622.1,1105.5 L1623.2,1108.0 L1624.2,1110.2 L1625.2,1112.6 L1626.2,1115.0 L1627.2,1117.4 L1628.2,1119.8 L1629.2,1122.2 L1630.3,1124.6 L1631.5,1126.9 L1632.5,1129.3 L1633.5,1131.7 L1634.5,1134.1 L1635.4,1136.5 L1636.4,1138.9 L1637.4,1141.3 L1638.5,1143.7 L1639.7,1146.0 L1640.8,1148.3 L1642.0,1150.6 L1643.2,1153.0 L1644.4,1155.3 L1645.6,1157.6 L1646.9,1159.8 L1648.3,1162.0 L1649.8,1164.2 L1651.6,1166.0 L1653.9,1167.2 L1656.4,1166.8 L1658.5,1165.4 L1660.4,1163.6 L1662.3,1162.3 L1664.1,1160.1 L1666.1,1158.2 L1668.0,1156.9 L1669.9,1153.7 L1671.7,1153.3 L1673.5,1151.7 L1675.3,1149.6 L1677.3,1147.1 L1679.3,1145.4 L1681.6,1143.4 L1684.0,1142.8 L1686.6,1142.6 L1689.2,1143.2 L1691.8,1143.8 L1694.4,1143.5 L1696.9,1144.2 L1699.5,1144.8 L1702.0,1145.3 L1704.5,1145.9 L1707.1,1146.5 L1709.6,1147.2 L1711.9,1148.3 L1713.9,1150.0 L1715.6,1151.9 L1717.1,1154.1 L1718.4,1156.3 L1719.6,1158.6 L1720.8,1160.9 L1721.9,1163.3 L1723.0,1165.7 L1724.0,1168.0 L1725.0,1170.4 L1726.0,1172.8 L1726.9,1175.3 L1727.7,1177.7 L1728.4,1180.2 L1729.1,1182.7 L1729.8,1185.3 L1730.5,1187.8 L1731.2,1190.3 L1732.0,1192.7 L1733.1,1195.1 L1734.6,1197.1 L1736.8,1196.4 L1738.3,1194.3 L1739.5,1192.0 L1740.6,1189.6 L1741.7,1187.3 L1742.7,1184.9 L1743.9,1182.6 L1745.1,1180.3 L1746.6,1178.2 L1748.5,1176.4 L1750.8,1175.1 L1753.2,1174.1 L1755.7,1173.4 L1758.2,1172.7 L1760.7,1171.9 L1763.2,1171.5 L1765.7,1171.0 L1768.0,1169.7 L1769.9,1167.9 L1771.6,1166.0 L1773.3,1164.0 L1775.0,1162.1 L1776.9,1160.2 L1778.9,1158.6 L1781.3,1157.7 L1783.8,1158.2 L1785.9,1159.7 L1787.7,1161.6 L1789.3,1163.6 L1790.9,1165.7 L1792.4,1167.8 L1793.9,1169.9 L1795.6,1171.9 L1797.2,1173.9 L1798.8,1176.0 L1800.3,1178.1 L1801.7,1180.3 L1803.3,1182.4 L1805.1,1184.3 L1807.3,1185.5 L1809.9,1185.5 L1812.3,1184.5 L1814.4,1183.0 L1816.3,1181.3 L1818.2,1179.5 L1820.0,1177.6 L1821.8,1175.7 L1823.6,1173.8 L1825.3,1171.8 L1826.9,1169.8 L1828.5,1167.7 L1830.0,1165.7 L1831.6,1163.6 L1833.1,1161.4 L1834.6,1159.3 L1836.0,1157.2 L1837.5,1155.0 L1839.0,1152.9 L1840.5,1150.8 L1841.9,1148.6 L1843.4,1146.4 L1844.8,1144.3 L1846.3,1142.1 L1847.7,1139.9 L1849.1,1137.8 L1850.5,1135.6 L1851.9,1133.4 L1853.3,1131.2 L1854.6,1128.9 L1855.9,1126.7 L1857.3,1124.5 L1858.5,1122.2 L1859.8,1119.9 L1861.0,1117.6 L1862.2,1115.3 L1863.5,1113.0 L1864.7,1110.7 L1865.9,1108.4 L1867.1,1106.1 L1868.3,1103.8 L1869.6,1101.6 L1870.9,1099.3 L1872.2,1097.0 L1873.5,1094.8 L1874.7,1092.5 L1876.1,1090.3 L1877.4,1088.0 L1878.7,1085.8 L1880.1,1083.6 L1881.5,1081.4 L1883.0,1079.3 L1884.8,1077.4 L1887.0,1076.4 L1889.6,1076.8 L1891.8,1075.5 L1893.5,1073.6 L1895.1,1071.5 L1896.7,1069.4 L1898.2,1067.3 L1899.7,1065.2 L1901.2,1063.0 L1902.7,1060.9 L1904.2,1058.8 L1905.8,1056.7 L1907.4,1054.7 L1909.1,1052.8 L1910.9,1050.8 L1912.6,1048.9 L1914.4,1047.0 L1916.3,1045.2 L1918.3,1043.5 L1920.4,1042.1 L1922.9,1041.4 L1925.3,1042.2 L1927.2,1043.9 L1928.8,1046.0 L1930.2,1048.2 L1931.7,1050.3 L1933.0,1052.6 L1934.3,1054.8 L1935.5,1057.1 L1936.7,1059.5 L1937.8,1061.8 L1939.0,1064.1 L1940.2,1066.4 L1941.4,1068.7 L1942.7,1071.0 L1943.8,1073.3 L1945.0,1075.6 L1946.5,1077.8 L1948.6,1077.2 L1949.8,1074.9 L1950.7,1072.5 L1951.5,1070.0 L1952.2,1067.5 L1953.0,1065.0 L1953.7,1062.5 L1954.4,1060.0 L1955.1,1057.5 L1955.8,1055.0 L1956.5,1052.5 L1957.1,1050.0 L1957.7,1047.4 L1958.3,1044.9 L1959.0,1042.4 L1959.6,1039.9 L1960.3,1037.4 L1961.0,1034.9 L1961.8,1032.4 L1962.7,1030.0 L1963.8,1027.6 L1965.3,1025.4 L1967.3,1023.9 L1969.9,1023.7 L1972.3,1023.8 L1973.7,1026.0 L1974.4,1028.5 L1974.9,1031.0 L1975.3,1033.6 L1975.6,1036.2 L1975.9,1038.7 L1976.2,1041.3 L1976.4,1043.9 L1976.6,1046.5 L1976.9,1049.1 L1977.1,1051.7 L1977.3,1054.3 L1977.4,1056.9 L1977.6,1059.5 L1977.8,1062.1 L1978.0,1064.7 L1978.1,1067.3 L1978.3,1069.8 L1978.5,1072.4 L1978.6,1075.0 L1978.8,1077.6 L1978.9,1080.2 L1979.1,1082.8 L1979.2,1085.4 L1979.4,1088.0 L1979.5,1090.6 L1979.6,1093.2 L1979.8,1095.8 L1979.9,1098.4 L1980.1,1101.0 L1980.2,1103.6 L1980.3,1106.2 L1980.5,1108.8 L1980.6,1111.4 L1980.7,1114.0 L1980.9,1116.6 L1981.0,1119.2 L1981.1,1121.8 L1981.3,1124.4 L1981.4,1127.0 L1981.5,1129.6 L1981.6,1132.2 L1981.7,1134.8 L1981.9,1137.4 L1982.0,1140.0 L1982.1,1142.6 L1982.2,1145.1 L1982.3,1147.7 L1982.4,1150.3 L1982.5,1152.9 L1982.6,1155.5 L1982.7,1158.1 L1982.8,1160.7 L1982.9,1163.3 L1983.1,1165.9 L1983.2,1168.5 L1983.3,1171.1 L1983.4,1173.7 L1983.5,1176.3 L1983.6,1178.9 L1983.7,1181.5 L1983.8,1184.1 L1983.9,1186.7 L1984.0,1189.3 L1984.1,1191.9 L1984.2,1194.5 L1984.4,1197.1 L1984.5,1199.7 L1984.6,1202.3 L1984.7,1204.9 L1984.8,1207.5 L1984.9,1210.1 L1985.0,1212.7 L1985.2,1215.3 L1985.3,1217.9 L1985.4,1220.5 L1985.5,1223.1 L1985.7,1225.7 L1985.8,1228.3 L1985.9,1230.9 L1986.1,1233.5 L1986.2,1236.1 L1986.3,1238.7 L1986.5,1241.3 L1986.6,1243.8 L1986.8,1246.4 L1986.9,1249.0 L1987.0,1251.6 L1987.2,1254.2 L1987.3,1256.8 L1987.5,1259.4 L1987.6,1262.0 L1987.8,1264.6 L1987.9,1267.2 L1988.1,1269.8 L1988.2,1272.4 L1988.4,1275.0 L1988.5,1277.6 L1988.7,1280.2 L1988.8,1282.8 L1989.0,1285.4 L1989.2,1288.0 L1989.3,1290.6 L1989.5,1293.2 L1989.7,1295.8 L1989.9,1298.4 L1990.0,1300.9 L1990.2,1303.5 L1990.4,1306.1 L1990.6,1308.7 L1990.8,1311.3 L1991.1,1313.9 L1991.3,1316.5 L1991.5,1319.1 L1991.8,1321.7 L1992.0,1324.3 L1992.3,1326.8 L1992.6,1329.4 L1992.9,1332.0 L1993.3,1334.6 L1993.7,1337.1 L1994.3,1339.7 L1995.6,1341.9 L1996.9,1339.8 L1997.6,1337.3 L1998.1,1334.7 L1998.5,1332.2 L1999.0,1329.6 L1999.3,1327.0 L1999.7,1324.5 L2000.0,1321.9 L2000.4,1319.3 L2000.7,1316.7 L2001.0,1314.1 L2001.3,1311.6 L2001.6,1309.0 L2001.9,1306.4 L2002.2,1303.8 L2002.5,1301.2 L2002.8,1298.6 L2003.0,1296.1 L2003.3,1293.5 L2003.5,1290.9 L2003.8,1288.3 L2004.1,1285.7 L2004.3,1283.1 L2004.5,1280.5 L2004.8,1277.9 L2005.0,1275.4 L2005.3,1272.8 L2005.5,1270.2 L2005.7,1267.6 L2006.0,1265.0 L2006.2,1262.4 L2006.5,1259.8 L2006.7,1257.2 L2006.9,1254.6 L2007.2,1252.1 L2007.4,1249.5 L2007.7,1246.9 L2007.9,1244.3 L2008.1,1241.7 L2008.4,1239.1 L2008.6,1236.5 L2008.9,1233.9 L2009.1,1231.3 L2009.3,1228.8 L2009.6,1226.2 L2009.8,1223.6 L2010.1,1221.0 L2010.3,1218.4 L2010.5,1215.8 L2010.8,1213.2 L2011.0,1210.6 L2011.2,1208.0 L2011.4,1205.4 L2011.7,1202.9 L2011.9,1200.3 L2012.1,1197.7 L2012.3,1195.1 L2012.6,1192.5 L2012.8,1189.9 L2013.0,1187.3 L2013.2,1184.7 L2013.5,1182.1 L2013.7,1179.5 L2013.9,1177.0 L2014.2,1174.4 L2014.4,1171.8 L2014.7,1169.2 L2014.9,1166.6 L2015.2,1164.0 L2015.5,1161.4 L2015.8,1158.8 L2016.0,1156.3 L2016.3,1153.7 L2016.6,1151.1 L2017.0,1148.5 L2017.3,1145.9 L2017.6,1143.4 L2017.9,1140.8 L2018.3,1138.2 L2018.6,1135.6 L2019.0,1133.1 L2019.4,1130.5 L2019.7,1127.9 L2020.1,1125.3 L2020.5,1122.8 L2020.9,1120.2 L2021.3,1117.6 L2021.7,1115.1 L2022.2,1112.5 L2022.6,1109.9 L2023.1,1107.4 L2023.5,1104.8 L2024.0,1102.3 L2024.5,1099.7 L2025.0,1097.1 L2025.5,1094.6 L2026.0,1092.0 L2026.5,1089.5 L2027.0,1087.0 L2027.6,1084.4 L2028.2,1081.9 L2028.7,1079.3 L2029.3,1076.8 L2030.0,1074.3 L2030.6,1071.8 L2031.2,1069.3 L2031.9,1066.7 L2032.6,1064.2 L2033.3,1061.7 L2034.0,1059.2 L2034.8,1056.7 L2035.5,1054.2 L2036.3,1051.8 L2037.1,1049.3 L2037.9,1046.8 L2038.8,1044.4 L2039.7,1041.9 L2040.6,1039.5 L2041.7,1037.1 L2042.9,1034.9 L2044.5,1032.8 L2046.4,1031.0 L2048.3,1029.2 L2049.8,1027.2 L2051.2,1024.9 L2052.3,1022.6 L2053.4,1020.2 L2054.4,1017.8 L2055.3,1015.4 L2056.3,1013.0 L2057.3,1010.6 L2058.3,1008.2 L2059.3,1005.8 L2060.5,1003.5 L2061.7,1001.2 L2062.9,998.9 L2064.2,996.6 L2065.6,994.4 L2067.0,992.2 L2068.3,990.0 L2069.8,987.8 L2071.2,985.6 L2072.7,983.5 L2074.2,981.4 L2075.9,979.5 L2078.0,979.0" fill="none" stroke="#0a0a0a" stroke-width="4.8" stroke-linejoin="round" stroke-linecap="round"/>
<path d="M2092.0,978.0 L2092.2,978.3 L2092.4,978.6 L2092.7,979.0 L2093.0,979.5 L2093.4,980.0 L2093.8,980.5 L2094.4,981.0 L2095.0,981.6 L2095.7,982.2 L2096.5,982.9 L2097.4,983.7 L2098.4,984.4 L2099.4,985.2 L2100.5,985.8 L2101.6,986.4 L2102.7,986.8 L2103.9,987.0 L2105.1,987.0 L2106.5,986.8 L2107.8,986.6 L2109.2,986.5 L2110.5,986.4 L2111.8,986.5 L2113.0,986.8 L2114.1,987.5 L2115.2,988.6 L2116.2,989.8 L2117.2,991.2 L2118.1,992.5 L2119.1,993.6 L2120.0,994.3 L2121.0,994.6 L2121.9,994.2 L2122.6,993.3 L2123.3,992.0 L2123.9,990.5 L2124.8,989.0 L2125.8,987.7 L2127.1,986.9 L2128.8,986.8 L2130.9,987.2 L2133.5,988.0 L2136.2,989.2 L2139.3,990.6 L2142.4,992.3 L2145.6,994.2 L2148.9,996.3 L2152.0,998.5 L2155.2,1001.0 L2158.4,1004.0 L2161.8,1007.3 L2165.1,1010.7 L2168.5,1014.1 L2171.8,1017.4 L2175.0,1020.5 L2178.0,1023.2 L2180.9,1025.6 L2183.7,1027.9 L2186.4,1030.0 L2189.0,1032.0 L2191.5,1033.8 L2194.1,1035.3 L2196.5,1036.6 L2199.0,1037.6 L2201.4,1038.3 L2203.7,1038.6 L2206.0,1038.8 L2208.3,1038.6 L2210.5,1038.3 L2212.7,1037.8 L2214.9,1037.1 L2217.2,1036.3 L2219.5,1035.1 L2221.8,1033.4 L2224.1,1031.3 L2226.5,1029.2 L2228.8,1027.1 L2231.0,1025.4 L2233.2,1024.2 L2235.4,1023.8 L2237.5,1024.0 L2239.6,1024.7 L2241.7,1025.7 L2243.7,1027.2 L2245.6,1029.0 L2247.5,1031.1 L2249.3,1033.6 L2251.0,1036.3 L2252.5,1039.4 L2253.8,1042.9 L2255.1,1046.8 L2256.2,1051.0 L2257.3,1055.5 L2258.6,1060.1 L2259.9,1065.0 L2261.4,1070.0 L2263.1,1075.3 L2264.9,1081.0 L2266.9,1087.1 L2268.9,1093.3 L2270.9,1099.5 L2273.0,1105.6 L2275.0,1111.4 L2277.0,1116.9 L2278.9,1122.2 L2280.9,1127.5 L2282.8,1132.7 L2284.8,1137.8 L2286.7,1142.5 L2288.7,1146.7 L2290.6,1150.4 L2292.6,1153.3 L2294.7,1155.4 L2296.9,1156.7 L2299.2,1157.3 L2301.4,1157.5 L2303.6,1157.5 L2305.5,1157.3 L2307.1,1157.1 L2308.3,1157.2" fill="none" stroke="#0a0a0a" stroke-width="4.8" stroke-linejoin="round" stroke-linecap="round"/>
<path d="M184.9,1807.3 L187.5,1807.5 L190.1,1807.7 L192.7,1807.8 L195.3,1806.4 L197.9,1807.5 L200.5,1807.0 L203.1,1807.3 L205.7,1806.2 L208.3,1806.4 L210.9,1807.0 L213.5,1806.4 L216.1,1806.9 L218.7,1805.8 L221.3,1805.9 L223.9,1807.4 L226.5,1806.6 L229.1,1806.7 L231.7,1807.2 L234.3,1806.1 L236.9,1805.1 L239.5,1806.9 L242.1,1806.2 L244.7,1806.2 L247.3,1806.0 L249.9,1807.2 L252.4,1804.7 L255.0,1806.0 L257.6,1804.3 L260.2,1804.9 L262.8,1805.0 L265.4,1803.5 L268.0,1802.4 L270.6,1803.6 L273.2,1804.3 L275.8,1803.6 L278.3,1802.8 L280.9,1803.2 L283.5,1801.1 L286.1,1800.8 L288.7,1801.0 L291.2,1802.5 L293.8,1799.8 L296.4,1799.1 L299.0,1798.7 L301.5,1798.1 L304.1,1798.8 L306.7,1799.7 L309.3,1800.5 L311.9,1798.6 L314.5,1798.8 L317.1,1798.6 L319.7,1799.0 L322.3,1801.1 L324.8,1800.6 L327.4,1799.8 L330.0,1799.5 L332.6,1802.2 L335.2,1801.9 L337.8,1802.1 L340.3,1799.4 L342.9,1800.0 L345.4,1800.7 L347.8,1798.7 L350.3,1799.2 L352.8,1795.5 L355.3,1797.9 L357.9,1793.8 L360.4,1794.7 L363.0,1792.8 L365.5,1795.4 L368.1,1794.6 L370.7,1795.4 L373.3,1794.4 L375.9,1794.7 L378.5,1792.9 L381.1,1794.4 L383.6,1793.3 L386.2,1791.5 L388.8,1793.8 L391.4,1791.4 L394.0,1790.6 L396.6,1790.1 L399.2,1791.6 L401.8,1790.5 L404.4,1793.4 L407.0,1793.5 L409.6,1790.8 L412.2,1790.4 L414.8,1792.1 L417.4,1790.8 L420.0,1792.3 L422.6,1793.3 L425.2,1791.3 L427.8,1792.0 L430.4,1794.0 L433.0,1792.5 L435.6,1792.4 L438.2,1794.9 L440.7,1795.0 L443.2,1795.6 L445.7,1795.7 L448.2,1795.7 L450.7,1797.2 L453.2,1798.4 L455.6,1798.8 L458.1,1798.7 L460.5,1799.8 L463.0,1800.8 L465.5,1801.9 L468.0,1802.4 L470.5,1803.0 L473.1,1803.8 L475.7,1803.4 L478.2,1804.2 L480.8,1804.1 L483.4,1804.5 L486.0,1804.9 L488.6,1804.3 L491.2,1805.1 L493.8,1804.2 L496.4,1804.7 L499.0,1804.8 L501.6,1804.5 L504.2,1805.0 L506.8,1805.1 L509.4,1805.3 L512.0,1805.9 L514.6,1805.3 L517.2,1806.0 L519.7,1806.8 L522.3,1806.4 L524.9,1807.5 L527.5,1807.0 L530.1,1807.8 L532.7,1807.5 L535.3,1808.0 L537.8,1808.2 L540.4,1808.1 L543.0,1809.0 L545.6,1808.9 L548.2,1809.4 L550.8,1809.4 L553.4,1809.7 L556.0,1809.8 L558.6,1809.8 L561.2,1810.7 L563.8,1810.0 L566.4,1811.0 L568.9,1811.2 L571.5,1811.0 L574.1,1811.5 L576.7,1811.6 L579.3,1811.7 L581.9,1811.6 L584.5,1811.8 L587.1,1812.0 L589.7,1812.1 L592.3,1813.0 L594.9,1812.5 L597.5,1812.7 L600.1,1812.9 L602.7,1813.5 L605.3,1813.3 L607.9,1813.5 L610.4,1813.4 L613.0,1813.5 L615.6,1813.5 L618.2,1813.7 L620.8,1813.9 L623.4,1814.7 L626.0,1814.4 L628.6,1814.1 L631.2,1814.5 L633.8,1814.2 L636.4,1814.8 L639.0,1814.7 L641.6,1815.2 L644.2,1814.5 L646.8,1815.2 L649.4,1814.5 L652.0,1815.3 L654.6,1814.9 L657.2,1814.2 L659.8,1815.0 L662.4,1814.3 L665.0,1814.3 L667.6,1814.0 L670.2,1814.6 L672.8,1813.7 L675.4,1814.2 L678.0,1813.7 L680.6,1813.9 L683.2,1813.3 L685.8,1812.8 L688.4,1813.6 L691.0,1813.1 L693.6,1812.4 L696.2,1813.1 L698.7,1812.8 L701.3,1811.8 L703.9,1811.3 L706.5,1811.8 L709.1,1811.0 L711.7,1811.3 L714.3,1810.8 L716.9,1810.7 L719.4,1810.3 L722.0,1810.2 L724.6,1809.9 L727.2,1809.4 L729.8,1809.1 L732.3,1808.5 L734.9,1807.9 L737.5,1807.6 L740.1,1808.1 L742.7,1807.1 L745.3,1807.0 L747.8,1806.6 L750.4,1806.7 L753.0,1806.4 L755.6,1806.5 L758.2,1805.8 L760.8,1805.5 L763.4,1805.6 L766.0,1805.6 L768.6,1805.6 L771.2,1804.7 L773.8,1805.2 L776.3,1805.1 L778.9,1804.8 L781.5,1803.6 L784.1,1803.6 L786.7,1803.6 L789.2,1803.3 L791.8,1802.0 L794.4,1802.0 L796.9,1802.0 L799.5,1801.6 L802.1,1801.1 L804.7,1800.6 L807.3,1800.8 L809.9,1800.6 L812.4,1801.4 L814.9,1802.4 L817.3,1803.9 L819.5,1804.9 L821.8,1806.0 L824.1,1807.0 L826.4,1808.2 L828.9,1809.3 L831.5,1809.4 L834.1,1809.2 L836.7,1809.6 L839.2,1808.9 L841.8,1808.7 L844.3,1807.7 L846.8,1807.2 L849.4,1806.3 L851.8,1805.7 L854.3,1805.3 L856.8,1804.6 L859.3,1803.5 L861.8,1802.4 L864.3,1801.3 L866.7,1801.4 L869.2,1800.2 L871.7,1799.4 L874.3,1798.5 L876.8,1797.8 L879.4,1797.8 L881.9,1798.2 L884.5,1797.8 L887.1,1798.0 L889.7,1798.4 L892.2,1798.6 L894.7,1799.1 L897.2,1800.3 L899.8,1800.3 L902.4,1801.1 L904.9,1800.8 L907.5,1800.2 L909.8,1798.6 L912.1,1797.3 L914.4,1796.5 L916.8,1795.1 L919.2,1794.9 L921.7,1793.7 L924.2,1793.4 L926.7,1792.8 L929.2,1792.0 L931.7,1791.3 L934.3,1790.2 L936.8,1789.8 L939.3,1789.8 L941.8,1788.4 L944.3,1787.8 L946.9,1787.4 L949.4,1786.9 L951.9,1786.6 L954.5,1785.5 L957.0,1785.6 L959.6,1784.0 L962.1,1784.4 L964.6,1783.6 L967.2,1783.5 L969.8,1782.1 L972.3,1782.3 L974.9,1782.1 L977.4,1781.3 L980.0,1780.3 L982.6,1780.8 L985.1,1780.5 L987.7,1779.2 L990.3,1779.7 L992.9,1778.7 L995.5,1778.7 L998.1,1779.8 L1000.6,1780.3 L1003.2,1780.8 L1005.8,1780.2 L1008.3,1779.6 L1010.9,1778.8 L1013.4,1778.4 L1015.8,1778.0 L1018.3,1776.8 L1020.7,1776.2 L1023.2,1774.6 L1025.7,1774.3 L1028.1,1773.5 L1030.6,1771.9 L1033.0,1771.9 L1035.5,1770.4 L1038.0,1769.7 L1040.5,1768.8 L1043.0,1768.8 L1045.5,1767.5 L1048.0,1767.8 L1050.5,1766.0 L1053.0,1766.2 L1055.6,1765.5 L1058.1,1764.6 L1060.6,1764.0 L1063.1,1763.6 L1065.6,1762.7 L1068.1,1761.6 L1070.7,1761.7 L1073.2,1760.6 L1075.7,1760.2 L1078.2,1759.5 L1080.8,1759.4 L1083.3,1758.2 L1085.9,1758.2 L1088.4,1756.8 L1090.9,1756.5 L1093.5,1756.4 L1096.0,1755.8 L1098.6,1755.6 L1101.2,1754.4 L1103.7,1754.7 L1106.3,1754.2 L1108.8,1753.1 L1111.4,1752.6 L1114.0,1752.7 L1116.5,1752.7 L1119.1,1751.9 L1121.7,1751.3 L1124.3,1751.0 L1126.8,1751.0 L1129.4,1750.3 L1132.0,1749.9 L1134.5,1749.6 L1137.1,1749.5 L1139.7,1748.9 L1142.3,1748.5 L1144.8,1747.8 L1147.4,1747.5 L1150.0,1747.0 L1152.5,1746.8 L1155.1,1746.9 L1157.7,1746.9 L1160.3,1744.6 L1162.9,1745.7 L1165.4,1745.4 L1167.7,1745.9 L1169.7,1748.9 L1171.6,1752.7 L1174.1,1751.4 L1176.0,1746.7 L1177.5,1745.3 L1179.0,1743.7 L1180.5,1743.8 L1182.0,1739.8 L1183.8,1736.6 L1186.1,1738.4 L1187.5,1739.3 L1188.4,1740.7 L1189.3,1745.6 L1190.3,1749.8 L1192.2,1750.3 L1194.2,1748.4 L1195.8,1743.8 L1197.6,1743.8 L1199.2,1745.6 L1200.8,1748.1 L1203.4,1747.0 L1206.0,1745.2 L1208.5,1748.8 L1211.1,1745.5 L1213.7,1747.2 L1216.2,1745.5 L1218.8,1746.2 L1221.2,1743.4 L1223.6,1741.4 L1226.0,1741.8 L1228.3,1740.8 L1230.4,1740.7 L1232.6,1737.5 L1234.7,1737.2 L1236.7,1734.3 L1238.8,1734.3 L1240.8,1730.2 L1242.8,1731.6 L1244.8,1730.3 L1246.8,1724.6 L1248.9,1726.6 L1250.9,1724.6 L1252.9,1722.6 L1254.9,1718.3 L1256.8,1719.4 L1258.7,1717.8 L1260.7,1715.4 L1262.7,1715.2 L1264.8,1713.6 L1267.0,1710.9 L1269.3,1711.0 L1271.7,1706.4 L1274.0,1706.1 L1276.4,1706.1 L1278.8,1705.0 L1281.3,1706.0 L1283.7,1703.7 L1286.1,1702.7 L1288.6,1701.8 L1291.0,1702.4 L1293.5,1699.2 L1296.0,1699.9 L1298.5,1698.8 L1300.7,1699.0 L1301.7,1700.5 L1302.3,1697.2 L1302.6,1694.0 L1302.9,1692.8 L1303.1,1690.1 L1303.2,1686.5 L1303.4,1685.7 L1303.6,1682.5 L1303.8,1682.4 L1304.0,1679.2 L1304.4,1676.1 L1305.0,1674.4 L1306.8,1672.6 L1307.8,1674.3 L1308.7,1678.9 L1309.5,1679.7 L1310.5,1685.4 L1311.5,1685.3 L1312.8,1689.6 L1314.2,1689.0 L1315.7,1690.4 L1317.3,1694.9 L1318.8,1697.3 L1320.4,1697.4 L1322.1,1702.3 L1323.9,1704.4 L1325.8,1705.0 L1327.8,1707.8 L1330.2,1708.9 L1332.7,1705.5 L1335.2,1707.5 L1337.6,1706.6 L1340.0,1705.3 L1342.3,1702.4 L1344.7,1702.3 L1347.2,1702.2 L1349.8,1703.8 L1352.2,1701.2 L1354.7,1703.1 L1356.9,1701.5 L1358.2,1701.4 L1359.3,1696.1 L1360.6,1693.6 L1362.3,1691.8 L1364.4,1690.4 L1366.7,1690.5 L1369.1,1691.3 L1371.3,1687.8 L1373.5,1685.2 L1375.3,1685.9 L1376.4,1682.1 L1377.1,1680.6 L1377.6,1678.8 L1378.2,1675.0 L1379.1,1673.9 L1381.3,1672.1 L1383.9,1673.2 L1386.4,1673.5 L1388.8,1675.1 L1391.2,1675.6 L1393.5,1674.7 L1395.6,1677.2 L1397.5,1680.1 L1399.4,1681.9 L1401.3,1683.4 L1403.3,1685.7 L1405.4,1687.1 L1407.7,1687.0 L1410.0,1686.7 L1411.2,1681.8 L1411.9,1681.2 L1412.4,1679.8 L1412.8,1678.0 L1413.2,1675.2 L1413.7,1670.8 L1414.3,1667.4 L1415.4,1667.9 L1417.6,1666.2 L1419.9,1665.4 L1421.8,1666.5 L1423.7,1672.0 L1425.7,1672.3 L1427.9,1671.6 L1430.3,1676.5 L1432.7,1675.7 L1435.2,1677.3 L1437.6,1678.3 L1440.1,1676.7 L1442.6,1678.5 L1445.2,1677.5 L1447.7,1679.9 L1450.3,1679.3 L1452.9,1681.0 L1455.5,1677.9 L1458.1,1678.1 L1460.7,1678.5 L1463.2,1676.4 L1465.8,1677.6 L1468.3,1679.5 L1470.9,1678.5 L1473.4,1674.9 L1475.9,1677.2 L1478.5,1674.0 L1481.0,1673.5 L1483.5,1674.6 L1486.0,1672.5 L1488.6,1671.4 L1491.1,1670.2 L1493.6,1669.9 L1496.1,1669.3 L1498.6,1671.8 L1501.1,1667.3 L1503.6,1668.9 L1506.2,1666.9 L1508.7,1668.5 L1511.3,1664.9 L1513.8,1666.0 L1516.4,1667.2 L1519.0,1663.7 L1521.5,1665.0 L1524.1,1664.3 L1526.7,1664.6 L1529.3,1664.9 L1531.8,1662.2 L1534.4,1665.3 L1537.0,1662.3 L1539.6,1664.1 L1542.1,1660.9 L1544.7,1660.2 L1547.2,1660.1 L1549.7,1659.0 L1552.3,1659.1 L1554.8,1657.9 L1557.3,1657.0 L1559.8,1659.7 L1562.3,1657.7 L1564.9,1657.0 L1567.4,1656.5 L1570.0,1657.4 L1572.5,1653.5 L1575.1,1653.0 L1577.6,1655.3 L1580.2,1652.0 L1582.8,1653.9 L1585.4,1654.2 L1588.0,1655.2 L1590.6,1651.8 L1593.1,1654.0 L1595.6,1654.2 L1598.1,1656.2 L1600.5,1654.8 L1602.8,1659.3 L1604.9,1661.6 L1607.0,1661.4 L1608.8,1663.8 L1610.3,1666.6 L1611.6,1668.7 L1612.9,1670.8 L1614.0,1672.0 L1615.1,1673.2 L1616.2,1677.5 L1617.2,1679.9 L1618.2,1682.0 L1619.1,1683.6 L1620.1,1687.1 L1621.0,1689.0 L1621.9,1691.1 L1622.8,1693.9 L1623.7,1696.0 L1624.6,1698.6 L1625.4,1701.0 L1626.3,1703.5 L1627.1,1706.0 L1627.9,1708.4 L1628.7,1710.9 L1629.4,1713.4 L1630.2,1715.9 L1630.9,1718.4 L1631.6,1720.9 L1632.3,1723.4 L1633.0,1725.9 L1633.6,1728.4 L1634.3,1731.0 L1634.9,1733.5 L1635.5,1736.0 L1636.1,1738.5 L1636.7,1741.1 L1637.2,1743.6 L1637.7,1746.2 L1638.2,1748.7 L1638.7,1751.3 L1639.1,1753.8 L1639.6,1756.4 L1640.0,1759.0 L1640.4,1761.6 L1640.8,1764.0 L1641.2,1766.7 L1641.7,1769.2 L1642.1,1771.8 L1642.5,1774.4 L1643.0,1777.1 L1643.5,1779.3 L1643.9,1781.8 L1644.5,1784.6 L1645.1,1786.9 L1645.7,1789.6 L1646.6,1791.7 L1647.9,1793.8 L1650.2,1794.4 L1651.9,1791.5 L1653.2,1789.6 L1654.4,1787.5 L1655.7,1784.6 L1657.1,1784.0 L1658.3,1781.9 L1659.4,1777.6 L1660.4,1777.0 L1661.4,1773.2 L1662.5,1772.0 L1663.6,1768.2 L1664.8,1767.4 L1666.3,1765.7 L1668.2,1762.4 L1670.3,1760.7 L1672.5,1759.7 L1674.9,1759.7 L1677.2,1758.4 L1679.4,1755.8 L1681.5,1755.9 L1683.6,1753.9 L1685.6,1752.8 L1687.9,1751.5 L1690.4,1749.6 L1692.7,1752.1 L1694.9,1752.0 L1697.3,1753.1 L1699.7,1752.9 L1701.6,1750.5 L1703.2,1748.4 L1704.8,1746.7 L1706.4,1744.9 L1708.1,1743.9 L1710.0,1741.4 L1712.4,1740.7 L1714.7,1742.3 L1716.4,1743.1 L1717.8,1746.6 L1719.2,1748.8 L1720.5,1751.1 L1721.9,1752.5 L1723.0,1755.0 L1724.0,1756.4 L1724.9,1759.7 L1725.8,1762.5 L1726.7,1765.6 L1727.8,1767.9 L1729.5,1768.5 L1731.4,1768.2 L1732.3,1766.0 L1732.9,1763.7 L1733.5,1760.6 L1734.0,1757.3 L1734.4,1755.9 L1734.9,1751.5 L1735.3,1750.1 L1735.7,1747.3 L1736.1,1745.7 L1736.5,1742.5 L1736.9,1739.0 L1737.3,1736.4 L1737.8,1733.5 L1738.2,1732.5 L1738.7,1730.1 L1739.2,1726.6 L1739.7,1723.7 L1740.3,1721.9 L1741.0,1718.6 L1741.8,1716.9 L1742.7,1714.0 L1743.7,1711.6 L1744.7,1710.0 L1745.8,1706.7 L1747.0,1704.6 L1748.3,1702.8 L1749.8,1701.2 L1751.5,1698.1 L1753.5,1696.8 L1755.9,1696.3 L1758.2,1697.5 L1760.2,1699.2 L1762.0,1701.1 L1763.7,1703.1 L1765.4,1705.0 L1767.5,1706.5 L1770.0,1707.1 L1772.6,1707.1 L1774.8,1708.5 L1776.3,1710.6 L1777.5,1712.9 L1778.6,1715.2 L1779.5,1717.6 L1780.5,1720.1 L1781.3,1722.5 L1782.2,1725.0 L1783.0,1727.4 L1783.9,1729.9 L1784.7,1732.4 L1785.5,1734.9 L1786.2,1737.3 L1787.0,1739.8 L1787.8,1742.3 L1788.6,1744.8 L1789.4,1747.2 L1790.1,1749.7 L1790.9,1752.2 L1791.5,1754.7 L1792.2,1757.3 L1792.8,1759.8 L1793.3,1762.3 L1793.9,1764.9 L1794.5,1767.4 L1795.1,1769.9 L1795.7,1772.4 L1796.4,1775.0 L1797.2,1777.4 L1798.0,1779.9 L1799.2,1782.2 L1800.7,1784.3 L1802.7,1785.9 L1805.2,1786.6 L1807.7,1786.2 L1810.0,1785.0 L1812.0,1783.3 L1813.7,1781.3 L1815.1,1779.1 L1816.3,1776.8 L1817.4,1774.5 L1818.5,1772.1 L1819.5,1769.7 L1820.5,1767.3 L1821.4,1764.9 L1822.4,1762.5 L1823.4,1760.1 L1824.4,1757.7 L1825.4,1755.3 L1826.5,1752.9 L1827.5,1750.5 L1828.5,1748.1 L1829.6,1745.7 L1830.6,1743.4 L1831.6,1741.0 L1832.6,1738.6 L1833.6,1736.2 L1834.6,1733.8 L1835.6,1731.4 L1836.6,1729.0 L1837.6,1726.6 L1838.6,1724.2 L1839.6,1721.7 L1840.5,1719.3 L1841.5,1716.9 L1842.4,1714.5 L1843.4,1712.1 L1844.3,1709.6 L1845.2,1707.2 L1846.1,1704.8 L1847.0,1702.3 L1847.9,1699.9 L1848.8,1697.4 L1849.7,1695.0 L1850.6,1692.6 L1851.5,1690.1 L1852.4,1687.7 L1853.3,1685.2 L1854.2,1682.8 L1855.1,1680.4 L1856.0,1677.9 L1856.9,1675.5 L1857.8,1673.1 L1858.7,1670.6 L1859.7,1668.2 L1860.6,1665.8 L1861.6,1663.4 L1862.5,1660.9 L1863.5,1658.5 L1864.5,1656.1 L1865.4,1653.7 L1866.4,1651.3 L1867.3,1648.9 L1868.3,1646.4 L1869.2,1644.0 L1870.2,1641.6 L1871.2,1639.2 L1872.2,1636.8 L1873.2,1634.4 L1874.2,1632.0 L1875.2,1629.6 L1876.3,1627.2 L1877.4,1624.9 L1878.5,1622.6 L1879.8,1620.3 L1881.2,1618.1 L1882.9,1616.2 L1885.3,1616.0 L1887.3,1617.6 L1889.5,1618.9 L1891.5,1617.4 L1892.8,1615.1 L1893.7,1612.7 L1894.7,1610.3 L1895.8,1608.0 L1897.2,1605.8 L1898.8,1603.8 L1900.7,1602.0 L1902.7,1600.4 L1904.8,1598.8 L1906.9,1597.3 L1909.1,1595.8 L1911.3,1594.4 L1913.5,1593.0 L1915.7,1591.7 L1918.0,1590.4 L1920.3,1589.2 L1922.6,1588.1 L1925.0,1587.1 L1927.5,1586.4 L1930.1,1586.1 L1932.5,1586.8 L1934.4,1588.5 L1935.7,1590.7 L1936.6,1593.2 L1937.3,1595.7 L1938.0,1598.2 L1938.8,1600.6 L1939.5,1603.1 L1940.2,1605.7 L1940.8,1608.2 L1941.3,1610.7 L1941.8,1613.3 L1942.2,1615.9 L1942.6,1618.4 L1943.1,1621.0 L1943.5,1623.5 L1943.9,1626.1 L1944.4,1628.7 L1944.9,1631.2 L1945.4,1633.8 L1946.1,1636.3 L1947.0,1638.7 L1948.7,1639.2 L1949.8,1636.8 L1950.6,1634.3 L1951.2,1631.8 L1951.8,1629.3 L1952.4,1626.7 L1953.0,1624.2 L1953.6,1621.7 L1954.3,1619.2 L1955.1,1616.7 L1956.0,1614.3 L1957.1,1611.9 L1958.1,1609.5 L1959.2,1607.1 L1960.3,1604.8 L1961.5,1602.5 L1962.9,1600.3 L1964.6,1598.3 L1967.0,1598.1 L1968.8,1599.9 L1970.1,1602.2 L1971.0,1604.6 L1971.9,1607.1 L1972.6,1609.6 L1973.3,1612.1 L1973.9,1614.6 L1974.4,1617.2 L1974.9,1619.7 L1975.3,1622.3 L1975.7,1624.8 L1976.1,1627.4 L1976.5,1630.0 L1976.8,1632.6 L1977.2,1635.1 L1977.5,1637.7 L1977.9,1640.3 L1978.2,1642.9 L1978.5,1645.5 L1978.9,1648.0 L1979.2,1650.6 L1979.6,1653.2 L1980.0,1655.8 L1980.3,1658.3 L1980.7,1660.9 L1981.1,1663.5 L1981.5,1666.0 L1981.8,1668.6 L1982.2,1671.2 L1982.5,1673.8 L1982.9,1676.4 L1983.2,1678.9 L1983.5,1681.5 L1983.9,1684.1 L1984.2,1686.7 L1984.6,1689.2 L1985.0,1691.8 L1985.4,1694.4 L1985.8,1697.0 L1986.2,1699.5 L1986.6,1702.1 L1987.1,1704.6 L1987.7,1707.2 L1988.5,1709.6 L1990.4,1710.9 L1991.6,1708.6 L1992.4,1706.1 L1993.0,1703.6 L1993.6,1701.1 L1994.1,1698.5 L1994.6,1696.0 L1995.0,1693.4 L1995.5,1690.8 L1995.9,1688.3 L1996.3,1685.7 L1996.6,1683.1 L1996.9,1680.5 L1997.3,1678.0 L1997.5,1675.4 L1997.8,1672.8 L1998.1,1670.2 L1998.4,1667.6 L1998.7,1665.0 L1999.0,1662.5 L1999.2,1659.9 L1999.5,1657.3 L1999.8,1654.7 L2000.1,1652.1 L2000.3,1649.5 L2000.6,1647.0 L2000.9,1644.4 L2001.2,1641.8 L2001.5,1639.2 L2001.8,1636.6 L2002.1,1634.0 L2002.4,1631.5 L2002.8,1628.9 L2003.1,1626.3 L2003.5,1623.7 L2003.9,1621.2 L2004.3,1618.6 L2004.7,1616.0 L2005.1,1613.5 L2005.5,1610.9 L2005.9,1608.3 L2006.3,1605.8 L2006.8,1603.2 L2007.2,1600.6 L2007.7,1598.1 L2008.2,1595.5 L2008.6,1593.0 L2009.2,1590.4 L2009.7,1587.9 L2010.3,1585.3 L2010.9,1582.8 L2011.6,1580.3 L2012.3,1577.8 L2013.2,1575.4 L2014.3,1573.0 L2015.5,1570.7 L2017.1,1568.7 L2019.0,1566.9 L2021.1,1565.4 L2023.3,1564.0 L2025.5,1562.5 L2027.7,1561.2 L2030.2,1560.4 L2032.7,1560.0 L2035.3,1560.2 L2037.8,1561.0 L2040.1,1562.3 L2042.3,1563.6 L2044.5,1565.0 L2046.8,1566.2 L2049.2,1567.3 L2051.7,1567.7 L2054.3,1567.2 L2056.6,1566.2 L2058.9,1564.9 L2061.2,1563.7 L2063.6,1562.7 L2066.2,1562.4 L2068.7,1562.7 L2071.2,1563.4 L2073.7,1564.3 L2076.1,1565.3 L2078.4,1566.4 L2080.7,1567.7 L2082.9,1569.0 L2085.1,1570.5 L2087.1,1572.1 L2088.9,1574.0 L2090.3,1576.2 L2091.3,1578.6 L2092.1,1581.0 L2092.9,1583.5 L2093.9,1585.9 L2095.2,1588.1 L2097.1,1589.9 L2099.3,1591.3 L2101.6,1592.4 L2104.0,1593.4 L2106.5,1594.3 L2109.0,1595.1 L2111.5,1595.7 L2114.0,1596.2 L2116.6,1596.6 L2119.2,1596.7 L2121.6,1595.9 L2123.3,1593.9 L2124.3,1591.6 L2125.4,1589.2 L2127.3,1587.6 L2129.8,1588.0 L2132.1,1589.1 L2134.3,1590.5 L2136.4,1592.1 L2138.3,1593.8 L2140.2,1595.6 L2142.1,1597.4 L2143.9,1599.3 L2145.7,1601.2 L2147.5,1603.1 L2149.2,1605.0 L2150.9,1607.0 L2152.5,1609.0 L2154.1,1611.1 L2155.7,1613.1 L2157.2,1615.2 L2158.7,1617.4 L2160.1,1619.6 L2161.5,1621.8 L2162.8,1624.0 L2164.0,1626.3 L2165.2,1628.6 L2166.4,1630.9 L2167.5,1633.3 L2168.6,1635.6 L2169.7,1638.0 L2170.8,1640.3 L2171.9,1642.7 L2173.0,1645.1 L2174.1,1647.4 L2175.3,1649.7 L2176.4,1652.1 L2177.6,1654.4 L2178.7,1656.7 L2179.9,1659.1 L2181.0,1661.4 L2182.1,1663.8 L2183.2,1666.1 L2184.3,1668.5 L2185.6,1670.8 L2186.9,1673.0 L2188.3,1675.2 L2190.0,1677.2 L2191.8,1679.0 L2193.8,1680.6 L2196.0,1682.0 L2198.3,1683.2 L2200.7,1684.3 L2203.2,1685.1 L2205.6,1685.9 L2208.2,1686.5 L2210.7,1686.9 L2213.3,1686.8 L2215.9,1686.2 L2218.4,1685.5 L2220.9,1685.0 L2223.5,1685.1 L2226.1,1685.3 L2228.6,1685.9 L2230.8,1687.2 L2232.5,1689.2 L2234.0,1691.3 L2235.2,1693.6 L2236.4,1695.9 L2237.4,1698.3 L2238.4,1700.7 L2239.3,1703.2 L2240.1,1705.6 L2240.9,1708.1 L2241.7,1710.6 L2242.4,1713.1 L2243.1,1715.6 L2243.7,1718.1 L2244.4,1720.6 L2245.0,1723.2 L2245.6,1725.7 L2246.2,1728.2 L2246.8,1730.8 L2247.3,1733.3 L2247.9,1735.8 L2248.4,1738.4 L2248.9,1740.9 L2249.4,1743.5 L2249.9,1746.0 L2250.4,1748.6 L2250.8,1751.1 L2251.3,1753.7 L2251.7,1756.3 L2252.1,1758.8 L2252.5,1761.4 L2252.8,1764.0 L2253.2,1766.6 L2253.5,1769.1 L2253.9,1771.7 L2254.2,1774.3 L2254.5,1776.9 L2254.8,1779.5 L2255.0,1782.1 L2255.3,1784.6 L2255.6,1787.2 L2255.8,1789.8 L2256.1,1792.4 L2256.3,1795.0 L2256.6,1797.6 L2256.8,1800.2 L2257.0,1802.8 L2257.3,1805.3 L2257.5,1807.9 L2257.7,1810.5 L2257.9,1813.1 L2258.1,1815.7 L2258.4,1818.3 L2258.6,1820.9 L2258.8,1823.5 L2259.0,1826.1 L2259.2,1828.7 L2259.4,1831.3 L2259.6,1833.9 L2259.8,1836.4 L2260.0,1839.0 L2260.2,1841.6 L2260.4,1844.2 L2260.6,1846.8 L2260.8,1849.4 L2261.0,1852.0 L2261.2,1854.6 L2261.4,1857.2 L2261.7,1859.8 L2261.9,1862.4 L2262.1,1865.0 L2262.3,1867.5 L2262.5,1870.1 L2262.7,1872.7 L2262.8,1874.1" fill="none" stroke="#0a0a0a" stroke-width="4.8" stroke-linejoin="round" stroke-linecap="round"/>
<path d="M184.9,2218.5 L187.5,2218.6 L190.1,2218.8 L192.7,2218.0 L195.3,2219.5 L197.9,2217.7 L200.5,2218.9 L203.1,2217.4 L205.7,2219.1 L208.3,2217.5 L210.9,2218.9 L213.5,2218.9 L216.1,2219.0 L218.7,2218.1 L221.3,2219.1 L223.9,2219.4 L226.5,2217.0 L229.1,2217.9 L231.7,2218.9 L234.3,2218.2 L236.9,2217.2 L239.5,2216.7 L242.1,2218.1 L244.6,2215.7 L247.2,2217.3 L249.8,2217.6 L252.4,2214.7 L255.0,2215.1 L257.6,2214.8 L260.2,2215.4 L262.8,2214.5 L265.3,2216.2 L267.9,2216.0 L270.5,2213.4 L273.1,2215.3 L275.7,2211.9 L278.3,2211.7 L280.8,2213.5 L283.4,2213.6 L286.0,2213.3 L288.5,2213.5 L291.1,2212.6 L293.7,2209.9 L296.2,2211.3 L298.8,2211.6 L301.4,2208.1 L304.0,2209.3 L306.5,2207.7 L309.1,2207.5 L311.7,2208.7 L314.3,2209.5 L316.9,2210.9 L319.5,2208.1 L322.1,2209.9 L324.6,2212.2 L327.2,2211.8 L329.8,2211.3 L332.3,2210.4 L334.9,2211.9 L337.5,2210.3 L340.1,2211.3 L342.6,2210.7 L345.1,2208.9 L347.5,2209.6 L350.0,2207.2 L352.4,2206.6 L354.9,2207.2 L357.4,2204.3 L360.0,2203.5 L362.5,2204.5 L365.1,2203.5 L367.6,2204.7 L370.2,2202.0 L372.8,2202.0 L375.4,2200.5 L377.9,2201.6 L380.5,2200.8 L383.1,2201.0 L385.7,2201.9 L388.3,2198.9 L390.9,2202.3 L393.4,2201.0 L396.0,2201.2 L398.6,2200.0 L401.2,2200.1 L403.8,2199.3 L406.4,2199.2 L409.0,2198.6 L411.6,2198.9 L414.2,2198.9 L416.8,2199.2 L419.4,2201.4 L422.0,2201.1 L424.6,2200.6 L427.2,2198.4 L429.8,2199.6 L432.4,2201.0 L435.0,2202.0 L437.5,2201.4 L440.0,2202.8 L442.5,2204.4 L445.0,2203.3 L447.4,2204.5 L449.8,2206.5 L452.2,2206.4 L454.6,2208.5 L457.0,2208.7 L459.3,2209.1 L461.7,2211.0 L464.1,2211.5 L466.6,2213.0 L469.1,2213.9 L471.6,2214.3 L474.1,2215.3 L476.7,2214.9 L479.3,2215.4 L481.9,2215.3 L484.5,2215.3 L487.1,2216.2 L489.7,2215.3 L492.3,2216.2 L494.9,2215.8 L497.5,2215.9 L500.1,2215.2 L502.7,2216.2 L505.3,2216.2 L507.9,2215.7 L510.5,2216.0 L513.0,2216.2 L515.6,2216.8 L518.2,2216.6 L520.8,2217.7 L523.4,2217.7 L526.0,2218.2 L528.5,2218.0 L531.1,2218.7 L533.7,2218.7 L536.3,2219.2 L538.9,2219.2 L541.5,2220.1 L544.1,2220.2 L546.6,2220.5 L549.2,2220.2 L551.8,2220.3 L554.4,2220.6 L557.0,2220.8 L559.6,2222.0 L562.2,2221.5 L564.7,2222.5 L567.3,2222.0 L569.9,2222.7 L572.5,2222.6 L575.1,2222.9 L577.7,2223.7 L580.3,2223.8 L582.9,2224.4 L585.4,2223.9 L588.0,2224.2 L590.6,2224.2 L593.2,2224.6 L595.8,2225.7 L598.4,2225.4 L601.0,2225.5 L603.6,2225.6 L606.2,2226.2 L608.8,2226.3 L611.4,2225.9 L613.9,2226.0 L616.5,2226.3 L619.1,2227.1 L621.7,2227.2 L624.3,2226.7 L626.9,2226.9 L629.5,2227.1 L632.1,2227.6 L634.7,2227.7 L637.3,2227.2 L639.9,2227.4 L642.5,2227.3 L645.1,2228.1 L647.7,2227.7 L650.3,2228.1 L652.9,2227.3 L655.5,2227.7 L658.1,2227.6 L660.7,2227.9 L663.3,2227.2 L665.9,2227.0 L668.5,2227.5 L671.1,2227.6 L673.7,2227.0 L676.3,2226.7 L678.9,2226.3 L681.5,2226.5 L684.1,2226.9 L686.7,2226.1 L689.3,2226.0 L691.9,2225.9 L694.5,2225.3 L697.0,2224.9 L699.6,2225.1 L702.2,2225.3 L704.8,2224.8 L707.3,2223.7 L709.9,2223.7 L712.4,2223.2 L715.0,2222.3 L717.5,2221.4 L720.0,2220.6 L722.5,2220.6 L725.1,2220.0 L727.6,2219.0 L730.2,2218.5 L732.8,2218.1 L735.3,2218.6 L737.9,2218.4 L740.5,2217.7 L743.1,2217.6 L745.7,2217.5 L748.3,2216.7 L750.9,2216.9 L753.5,2216.7 L756.1,2217.0 L758.7,2216.1 L761.3,2216.6 L763.9,2215.7 L766.5,2216.1 L769.1,2216.2 L771.6,2215.2 L774.2,2215.4 L776.8,2214.7 L779.4,2215.1 L782.0,2214.8 L784.6,2215.0 L787.2,2214.1 L789.7,2214.2 L792.3,2213.5 L794.9,2213.2 L797.4,2212.3 L800.0,2211.6 L802.6,2211.9 L805.2,2211.2 L807.8,2211.8 L810.4,2211.6 L812.9,2212.7 L815.3,2213.8 L817.6,2215.2 L819.8,2215.7 L822.0,2217.0 L824.3,2218.6 L826.6,2220.4 L829.1,2220.3 L831.7,2220.8 L834.3,2220.7 L836.8,2220.0 L839.4,2219.8 L841.9,2218.9 L844.4,2218.3 L846.9,2217.9 L849.3,2217.0 L851.8,2215.6 L854.2,2215.1 L856.6,2214.1 L859.0,2213.4 L861.5,2211.6 L863.9,2211.0 L866.3,2210.5 L868.8,2209.5 L871.2,2208.6 L873.7,2207.9 L876.2,2207.3 L878.8,2206.9 L881.3,2206.5 L883.9,2206.4 L886.5,2206.8 L889.1,2206.9 L891.6,2207.2 L894.0,2208.2 L896.5,2209.7 L898.9,2210.4 L901.5,2210.7 L904.1,2210.2 L906.6,2209.8 L909.0,2209.4 L911.3,2207.8 L913.5,2206.2 L915.8,2205.8 L918.2,2204.0 L920.6,2203.8 L923.0,2202.5 L925.4,2202.0 L927.9,2200.9 L930.3,2199.3 L932.7,2198.4 L935.2,2198.2 L937.6,2196.9 L940.1,2196.1 L942.5,2195.5 L945.0,2194.6 L947.5,2193.9 L950.0,2193.0 L952.5,2192.0 L955.0,2191.8 L957.5,2190.5 L960.1,2190.6 L962.6,2190.2 L965.2,2189.0 L967.7,2188.5 L970.3,2189.2 L972.9,2188.1 L975.5,2188.2 L978.1,2187.6 L980.7,2187.2 L983.3,2187.1 L985.8,2186.6 L988.4,2187.2 L991.0,2186.9 L993.6,2186.6 L996.2,2185.6 L998.8,2185.4 L1001.3,2184.8 L1003.9,2185.2 L1006.4,2184.8 L1009.0,2184.2 L1011.5,2183.4 L1014.0,2182.4 L1016.4,2181.4 L1018.8,2180.0 L1021.2,2178.9 L1023.6,2178.5 L1026.0,2177.8 L1028.3,2176.7 L1030.7,2175.1 L1033.1,2174.2 L1035.5,2173.7 L1038.0,2172.2 L1040.5,2171.9 L1043.0,2171.0 L1045.5,2170.1 L1048.0,2169.4 L1050.5,2168.5 L1053.0,2167.8 L1055.5,2167.3 L1058.0,2167.4 L1060.6,2166.6 L1063.1,2165.1 L1065.6,2165.3 L1068.2,2164.1 L1070.7,2163.9 L1073.2,2163.7 L1075.8,2163.1 L1078.3,2162.5 L1080.8,2162.1 L1083.4,2161.1 L1085.9,2159.9 L1088.4,2159.6 L1091.0,2159.5 L1093.5,2158.8 L1096.1,2158.6 L1098.6,2157.3 L1101.2,2157.6 L1103.7,2156.7 L1106.3,2156.2 L1108.8,2155.2 L1111.4,2155.0 L1113.9,2154.6 L1116.5,2154.4 L1119.0,2153.8 L1121.6,2153.3 L1124.1,2152.9 L1126.7,2152.0 L1129.2,2151.5 L1131.8,2151.7 L1134.3,2150.8 L1136.9,2150.1 L1139.4,2149.9 L1141.9,2149.1 L1144.4,2148.3 L1146.9,2147.7 L1149.4,2146.8 L1151.9,2146.3 L1154.4,2145.4 L1156.9,2144.5 L1159.5,2143.7 L1162.0,2142.0 L1164.6,2145.2 L1167.0,2146.6 L1168.5,2146.0 L1170.0,2150.7 L1172.3,2146.9 L1174.2,2146.6 L1175.8,2146.9 L1177.3,2143.2 L1178.8,2139.0 L1180.2,2138.9 L1181.8,2134.2 L1183.6,2135.3 L1186.0,2134.5 L1187.3,2136.9 L1188.2,2139.5 L1189.0,2139.4 L1189.8,2145.3 L1190.8,2147.2 L1192.9,2148.0 L1194.5,2143.0 L1195.9,2140.8 L1197.8,2141.2 L1199.7,2143.5 L1201.3,2144.0 L1203.7,2143.3 L1206.2,2143.7 L1208.7,2142.1 L1211.2,2142.4 L1213.6,2143.6 L1216.0,2141.4 L1218.4,2138.3 L1220.8,2140.3 L1223.1,2139.0 L1225.4,2135.6 L1227.6,2132.6 L1229.8,2134.1 L1231.9,2131.0 L1234.0,2128.6 L1236.0,2130.4 L1238.0,2126.5 L1240.0,2123.8 L1242.0,2122.6 L1243.9,2124.0 L1245.8,2119.4 L1247.8,2118.3 L1249.7,2115.6 L1251.7,2113.1 L1253.6,2111.5 L1255.5,2109.4 L1257.3,2109.3 L1259.2,2107.4 L1261.1,2106.8 L1263.0,2105.6 L1264.9,2104.0 L1266.8,2099.1 L1268.9,2099.3 L1271.0,2096.0 L1273.3,2095.5 L1275.8,2095.0 L1278.2,2094.2 L1280.7,2095.4 L1283.3,2093.2 L1285.9,2091.7 L1288.5,2093.3 L1291.0,2091.4 L1293.5,2093.6 L1296.0,2089.3 L1298.3,2088.2 L1300.1,2086.0 L1301.3,2084.7 L1302.2,2084.4 L1302.9,2078.8 L1303.3,2078.6 L1303.8,2077.3 L1304.1,2071.8 L1304.4,2071.5 L1304.7,2068.8 L1305.0,2067.3 L1305.3,2064.2 L1305.7,2060.6 L1306.4,2057.3 L1308.2,2056.4 L1309.4,2057.6 L1310.3,2059.7 L1311.1,2064.8 L1311.9,2065.7 L1312.7,2067.6 L1313.5,2071.5 L1314.5,2072.4 L1315.5,2077.0 L1316.8,2080.6 L1318.2,2080.3 L1319.7,2080.9 L1321.2,2083.6 L1322.7,2086.4 L1324.3,2091.0 L1326.0,2093.2 L1327.7,2093.6 L1329.6,2094.5 L1331.6,2094.8 L1334.1,2098.8 L1336.4,2094.2 L1338.1,2093.3 L1339.7,2093.3 L1341.3,2091.1 L1343.3,2087.3 L1345.8,2090.8 L1348.2,2090.4 L1350.5,2091.8 L1352.9,2090.7 L1355.3,2092.6 L1357.1,2087.3 L1358.4,2087.6 L1359.7,2082.8 L1361.1,2084.0 L1362.8,2081.1 L1364.8,2079.4 L1367.0,2077.1 L1369.2,2077.5 L1371.3,2072.8 L1373.4,2071.8 L1375.2,2069.3 L1376.6,2069.8 L1377.4,2064.9 L1377.9,2062.1 L1378.3,2063.2 L1378.5,2058.3 L1378.8,2055.9 L1379.2,2055.4 L1380.3,2051.1 L1382.7,2053.6 L1384.6,2056.0 L1386.4,2053.9 L1388.5,2056.1 L1390.9,2056.0 L1393.5,2057.2 L1396.1,2058.5 L1398.7,2060.1 L1401.2,2059.6 L1403.5,2060.4 L1404.9,2060.1 L1405.8,2065.9 L1406.6,2066.2 L1407.3,2070.3 L1408.0,2070.2 L1409.0,2076.0 L1410.5,2072.3 L1411.1,2069.3 L1411.5,2069.3 L1411.9,2065.8 L1412.2,2062.1 L1412.5,2059.7 L1412.8,2058.4 L1413.1,2054.3 L1413.5,2052.3 L1413.9,2049.6 L1414.4,2046.7 L1415.3,2044.0 L1417.3,2042.9 L1418.9,2047.3 L1420.3,2048.9 L1421.7,2049.0 L1423.3,2051.0 L1425.3,2053.6 L1427.5,2055.9 L1429.8,2056.8 L1432.1,2058.6 L1434.4,2060.1 L1436.7,2059.4 L1439.1,2059.5 L1441.5,2063.1 L1443.9,2063.5 L1446.4,2063.3 L1449.0,2066.3 L1451.5,2063.3 L1454.1,2063.2 L1456.7,2065.3 L1459.3,2063.9 L1461.8,2064.4 L1464.3,2061.0 L1466.7,2061.9 L1469.2,2061.6 L1471.7,2060.1 L1474.2,2058.2 L1476.7,2057.2 L1479.2,2057.6 L1481.7,2056.9 L1484.3,2058.9 L1486.8,2054.6 L1489.3,2057.0 L1491.8,2057.3 L1494.4,2054.8 L1496.9,2052.6 L1499.4,2054.0 L1501.9,2054.8 L1504.5,2052.0 L1507.0,2052.8 L1509.6,2050.0 L1512.1,2049.7 L1514.7,2049.5 L1517.2,2050.1 L1519.7,2051.0 L1522.3,2047.1 L1524.8,2046.0 L1527.4,2046.3 L1529.9,2047.5 L1532.4,2047.1 L1535.0,2045.9 L1537.5,2046.2 L1540.1,2044.5 L1542.6,2042.5 L1545.1,2045.5 L1547.6,2042.1 L1550.2,2040.0 L1552.7,2040.0 L1555.2,2039.7 L1557.6,2040.9 L1560.1,2038.1 L1562.5,2036.7 L1564.9,2038.0 L1567.4,2036.9 L1569.8,2036.1 L1572.3,2033.6 L1574.7,2035.6 L1577.2,2033.5 L1579.7,2032.0 L1582.2,2033.3 L1584.7,2029.8 L1587.3,2029.9 L1589.9,2031.3 L1592.5,2031.8 L1595.0,2032.4 L1597.3,2031.5 L1599.5,2035.8 L1601.4,2038.6 L1603.0,2037.9 L1604.5,2042.1 L1605.9,2041.2 L1607.1,2043.4 L1608.2,2047.9 L1609.2,2051.8 L1610.2,2052.6 L1611.2,2053.6 L1612.1,2055.8 L1613.0,2061.0 L1613.8,2062.7 L1614.7,2066.0 L1615.5,2066.3 L1616.3,2070.1 L1617.0,2071.2 L1617.8,2073.6 L1618.5,2076.7 L1619.2,2079.2 L1619.9,2082.3 L1620.6,2084.3 L1621.3,2086.7 L1622.0,2089.8 L1622.6,2092.2 L1623.2,2094.5 L1623.9,2097.1 L1624.5,2099.5 L1625.1,2102.1 L1625.6,2104.6 L1626.2,2107.1 L1626.7,2109.7 L1627.3,2112.2 L1627.8,2114.8 L1628.3,2117.3 L1628.9,2119.9 L1629.4,2122.4 L1629.9,2125.0 L1630.4,2127.5 L1631.0,2130.1 L1631.5,2132.6 L1632.0,2135.1 L1632.5,2137.7 L1633.1,2140.2 L1633.6,2142.8 L1634.1,2145.3 L1634.7,2147.9 L1635.2,2150.4 L1635.7,2153.0 L1636.3,2155.5 L1636.7,2158.1 L1637.2,2160.6 L1637.7,2163.2 L1638.1,2165.7 L1638.6,2168.3 L1639.0,2170.9 L1639.5,2173.4 L1639.9,2176.0 L1640.4,2178.5 L1640.8,2181.1 L1641.4,2183.6 L1641.9,2186.1 L1642.4,2188.6 L1643.0,2191.4 L1643.7,2193.7 L1644.5,2196.6 L1645.5,2199.0 L1647.1,2200.6 L1649.3,2200.2 L1650.9,2197.4 L1652.1,2195.9 L1653.2,2192.1 L1654.2,2190.6 L1655.1,2187.1 L1656.0,2185.2 L1657.0,2184.3 L1657.9,2181.2 L1658.9,2177.5 L1659.9,2176.8 L1661.0,2174.6 L1662.3,2172.4 L1663.7,2169.2 L1665.2,2166.4 L1666.7,2165.7 L1668.3,2163.2 L1670.0,2160.0 L1671.7,2159.1 L1673.6,2157.5 L1675.5,2156.1 L1677.6,2154.2 L1679.9,2152.4 L1682.5,2151.5 L1685.1,2151.4 L1687.7,2151.8 L1690.3,2152.4 L1692.8,2151.8 L1695.1,2151.7 L1697.1,2149.2 L1698.9,2148.1 L1700.7,2145.8 L1702.4,2144.0 L1704.2,2142.4 L1706.1,2140.7 L1708.3,2138.8 L1710.7,2137.5 L1713.2,2138.8 L1714.9,2139.5 L1716.1,2141.7 L1717.2,2143.8 L1718.2,2146.4 L1719.0,2148.7 L1719.9,2151.3 L1720.7,2154.0 L1721.5,2157.4 L1722.2,2160.5 L1723.1,2162.2 L1723.9,2164.8 L1724.8,2166.9 L1725.8,2168.4 L1726.9,2172.0 L1728.5,2173.8 L1730.7,2173.0 L1731.7,2171.4 L1732.6,2169.3 L1733.2,2165.0 L1733.8,2162.1 L1734.3,2160.4 L1734.8,2158.3 L1735.2,2155.5 L1735.6,2152.5 L1736.0,2149.9 L1736.4,2147.7 L1736.8,2144.3 L1737.1,2142.6 L1737.5,2141.0 L1737.9,2138.4 L1738.2,2135.6 L1738.5,2131.7 L1738.9,2129.6 L1739.2,2126.4 L1739.6,2124.0 L1739.9,2121.0 L1740.3,2118.5 L1740.6,2117.4 L1741.0,2113.8 L1741.3,2112.1 L1741.7,2109.2 L1742.2,2106.1 L1742.6,2104.4 L1743.0,2101.5 L1743.6,2098.3 L1744.1,2095.9 L1744.8,2093.9 L1745.5,2090.9 L1746.4,2088.9 L1747.4,2086.3 L1748.8,2085.1 L1750.9,2082.4 L1753.4,2083.1 L1756.0,2083.2 L1758.5,2083.7 L1761.1,2084.3 L1763.5,2085.2 L1765.7,2086.5 L1767.8,2088.1 L1769.5,2090.1 L1771.0,2092.2 L1772.4,2094.4 L1773.6,2096.7 L1774.7,2099.0 L1775.7,2101.4 L1776.6,2103.9 L1777.4,2106.3 L1778.3,2108.8 L1779.0,2111.3 L1779.7,2113.8 L1780.4,2116.3 L1781.1,2118.8 L1781.7,2121.3 L1782.3,2123.8 L1783.0,2126.4 L1783.6,2128.9 L1784.2,2131.4 L1784.8,2133.9 L1785.4,2136.5 L1786.0,2139.0 L1786.6,2141.5 L1787.2,2144.1 L1787.8,2146.6 L1788.4,2149.1 L1789.0,2151.7 L1789.6,2154.2 L1790.2,2156.7 L1790.8,2159.2 L1791.4,2161.8 L1792.0,2164.3 L1792.6,2166.8 L1793.2,2169.3 L1793.9,2171.9 L1794.6,2174.4 L1795.2,2176.9 L1795.9,2179.4 L1796.6,2181.9 L1797.5,2184.4 L1798.3,2186.8 L1799.2,2189.3 L1800.3,2191.6 L1801.4,2194.0 L1802.7,2196.2 L1804.5,2198.1 L1806.9,2197.9 L1808.6,2196.0 L1810.0,2193.8 L1811.3,2191.5 L1812.5,2189.2 L1813.6,2186.9 L1814.6,2184.5 L1815.6,2182.1 L1816.5,2179.6 L1817.3,2177.2 L1818.2,2174.7 L1819.0,2172.2 L1819.7,2169.8 L1820.5,2167.3 L1821.3,2164.8 L1822.0,2162.3 L1822.8,2159.8 L1823.5,2157.3 L1824.2,2154.8 L1825.0,2152.3 L1825.7,2149.8 L1826.4,2147.3 L1827.2,2144.8 L1827.9,2142.3 L1828.6,2139.8 L1829.4,2137.4 L1830.1,2134.9 L1830.9,2132.4 L1831.7,2129.9 L1832.5,2127.4 L1833.3,2125.0 L1834.1,2122.5 L1834.9,2120.0 L1835.8,2117.6 L1836.6,2115.1 L1837.4,2112.6 L1838.3,2110.2 L1839.2,2107.7 L1840.0,2105.3 L1840.9,2102.8 L1841.7,2100.4 L1842.6,2097.9 L1843.5,2095.5 L1844.3,2093.0 L1845.2,2090.6 L1846.1,2088.1 L1847.0,2085.7 L1847.8,2083.2 L1848.7,2080.8 L1849.6,2078.3 L1850.5,2075.9 L1851.4,2073.4 L1852.2,2071.0 L1853.1,2068.5 L1854.0,2066.1 L1854.9,2063.6 L1855.8,2061.2 L1856.6,2058.8 L1857.5,2056.3 L1858.4,2053.9 L1859.3,2051.4 L1860.1,2049.0 L1861.0,2046.5 L1861.8,2044.0 L1862.7,2041.6 L1863.5,2039.1 L1864.3,2036.7 L1865.2,2034.2 L1866.0,2031.7 L1866.9,2029.3 L1867.7,2026.8 L1868.5,2024.4 L1869.4,2021.9 L1870.2,2019.4 L1871.1,2017.0 L1872.0,2014.5 L1872.8,2012.1 L1873.7,2009.6 L1874.6,2007.2 L1875.5,2004.8 L1876.4,2002.3 L1877.4,1999.9 L1878.4,1997.5 L1879.4,1995.1 L1880.5,1992.8 L1881.8,1990.5 L1883.2,1988.3 L1885.2,1986.8 L1887.7,1986.9 L1889.9,1988.2 L1892.3,1988.1 L1893.8,1986.0 L1894.7,1983.5 L1895.3,1981.0 L1896.0,1978.5 L1896.7,1976.0 L1897.5,1973.5 L1898.6,1971.2 L1900.0,1969.0 L1901.7,1967.0 L1903.5,1965.2 L1905.4,1963.4 L1907.3,1961.7 L1909.3,1960.0 L1911.4,1958.4 L1913.5,1956.8 L1915.6,1955.3 L1917.7,1953.9 L1920.0,1952.6 L1922.3,1951.4 L1924.7,1950.4 L1927.1,1949.5 L1929.6,1948.9 L1932.0,1949.7 L1933.6,1951.8 L1934.7,1954.1 L1935.6,1956.5 L1936.2,1959.1 L1936.8,1961.6 L1937.3,1964.2 L1937.7,1966.7 L1938.1,1969.3 L1938.5,1971.9 L1938.8,1974.4 L1939.2,1977.0 L1939.5,1979.6 L1939.8,1982.2 L1940.2,1984.7 L1940.5,1987.3 L1940.8,1989.9 L1941.2,1992.5 L1941.5,1995.1 L1941.8,1997.6 L1942.2,2000.2 L1942.6,2002.8 L1942.9,2005.4 L1943.4,2007.9 L1943.9,2010.5 L1944.6,2013.0 L1945.7,2015.1 L1947.3,2013.5 L1948.1,2011.0 L1948.8,2008.5 L1949.3,2006.0 L1949.9,2003.4 L1950.4,2000.9 L1950.8,1998.3 L1951.3,1995.8 L1951.8,1993.2 L1952.3,1990.6 L1952.8,1988.1 L1953.4,1985.6 L1954.0,1983.1 L1954.8,1980.6 L1955.8,1978.2 L1957.0,1975.8 L1958.2,1973.6 L1959.6,1971.4 L1961.2,1969.3 L1963.1,1967.5 L1965.4,1966.4 L1967.8,1967.0 L1969.6,1968.8 L1970.9,1971.1 L1971.8,1973.5 L1972.6,1976.0 L1973.3,1978.5 L1973.9,1981.0 L1974.5,1983.6 L1974.9,1986.1 L1975.3,1988.7 L1975.7,1991.3 L1976.0,1993.9 L1976.3,1996.4 L1976.6,1999.0 L1976.9,2001.6 L1977.2,2004.2 L1977.5,2006.8 L1977.8,2009.4 L1978.1,2011.9 L1978.4,2014.5 L1978.8,2017.1 L1979.1,2019.7 L1979.4,2022.3 L1979.7,2024.8 L1980.0,2027.4 L1980.3,2030.0 L1980.6,2032.6 L1980.9,2035.2 L1981.2,2037.8 L1981.4,2040.3 L1981.7,2042.9 L1982.0,2045.5 L1982.2,2048.1 L1982.5,2050.7 L1982.8,2053.3 L1983.0,2055.9 L1983.3,2058.4 L1983.6,2061.0 L1983.8,2063.6 L1984.1,2066.2 L1984.4,2068.8 L1984.7,2071.4 L1985.0,2074.0 L1985.3,2076.5 L1985.6,2079.1 L1986.0,2081.7 L1986.3,2084.3 L1986.7,2086.8 L1987.1,2089.4 L1987.6,2092.0 L1988.2,2094.5 L1989.2,2096.9 L1990.7,2095.2 L1991.3,2092.7 L1991.9,2090.2 L1992.3,2087.6 L1992.7,2085.0 L1993.2,2082.5 L1993.5,2079.9 L1993.8,2077.3 L1994.2,2074.7 L1994.5,2072.2 L1994.8,2069.6 L1995.1,2067.0 L1995.4,2064.4 L1995.7,2061.8 L1996.0,2059.2 L1996.3,2056.7 L1996.6,2054.1 L1996.9,2051.5 L1997.1,2048.9 L1997.4,2046.3 L1997.7,2043.7 L1998.0,2041.2 L1998.3,2038.6 L1998.6,2036.0 L1998.9,2033.4 L1999.2,2030.8 L1999.5,2028.2 L1999.8,2025.7 L2000.1,2023.1 L2000.3,2020.5 L2000.6,2017.9 L2000.8,2015.3 L2001.0,2012.7 L2001.3,2010.1 L2001.5,2007.5 L2001.7,2004.9 L2001.9,2002.4 L2002.1,1999.8 L2002.3,1997.2 L2002.6,1994.6 L2002.8,1992.0 L2003.0,1989.4 L2003.3,1986.8 L2003.6,1984.2 L2003.9,1981.7 L2004.2,1979.1 L2004.6,1976.5 L2004.9,1973.9 L2005.4,1971.4 L2005.8,1968.8 L2006.3,1966.3 L2006.8,1963.7 L2007.4,1961.2 L2007.9,1958.6 L2008.5,1956.1 L2009.2,1953.6 L2009.8,1951.0 L2010.5,1948.5 L2011.2,1946.0 L2011.9,1943.5 L2012.7,1941.1 L2013.4,1938.6 L2014.3,1936.1 L2015.1,1933.7 L2016.1,1931.2 L2017.2,1928.9 L2018.7,1926.7 L2020.5,1924.9 L2022.5,1923.3 L2024.6,1921.8 L2026.9,1920.5 L2029.4,1919.7 L2031.9,1919.3 L2034.5,1919.6 L2036.9,1920.7 L2039.0,1922.1 L2041.1,1923.7 L2043.2,1925.3 L2045.4,1926.7 L2047.7,1927.8 L2050.2,1928.3 L2052.8,1927.7 L2055.1,1926.6 L2057.4,1925.3 L2059.6,1924.0 L2061.8,1922.7 L2064.3,1921.8 L2066.8,1921.5 L2069.4,1921.9 L2071.9,1922.8 L2074.2,1923.8 L2076.5,1925.0 L2078.7,1926.4 L2080.9,1927.9 L2082.9,1929.5 L2084.9,1931.2 L2086.7,1933.1 L2088.2,1935.2 L2089.3,1937.5 L2090.2,1940.0 L2091.0,1942.4 L2091.7,1944.9 L2092.5,1947.4 L2093.4,1949.9 L2094.6,1952.1 L2096.2,1954.2 L2098.2,1955.8 L2100.4,1957.2 L2102.8,1958.3 L2105.1,1959.4 L2107.6,1960.3 L2110.1,1961.0 L2112.6,1961.7 L2115.1,1962.2 L2117.7,1962.4 L2120.3,1962.3 L2122.2,1960.7 L2123.2,1958.3 L2123.7,1955.7 L2124.3,1953.2 L2125.5,1950.9 L2128.0,1951.1 L2130.2,1952.4 L2132.3,1954.0 L2134.3,1955.6 L2136.2,1957.4 L2138.0,1959.3 L2139.7,1961.2 L2141.4,1963.2 L2143.1,1965.2 L2144.6,1967.3 L2146.2,1969.4 L2147.6,1971.5 L2149.0,1973.7 L2150.4,1975.9 L2151.7,1978.2 L2153.0,1980.4 L2154.3,1982.7 L2155.6,1985.0 L2156.8,1987.2 L2158.0,1989.5 L2159.2,1991.9 L2160.4,1994.2 L2161.5,1996.5 L2162.7,1998.8 L2163.8,2001.2 L2165.0,2003.5 L2166.0,2005.9 L2167.1,2008.3 L2168.1,2010.7 L2169.1,2013.1 L2170.1,2015.5 L2171.0,2017.9 L2172.0,2020.3 L2172.9,2022.7 L2173.8,2025.2 L2174.7,2027.6 L2175.6,2030.0 L2176.6,2032.5 L2177.5,2034.9 L2178.4,2037.3 L2179.4,2039.7 L2180.4,2042.1 L2181.4,2044.5 L2182.4,2046.9 L2183.3,2049.4 L2184.2,2051.8 L2185.2,2054.2 L2186.4,2056.5 L2187.7,2058.8 L2189.2,2060.9 L2191.0,2062.8 L2192.9,2064.5 L2194.9,2066.1 L2197.1,2067.6 L2199.3,2069.0 L2201.6,2070.3 L2203.9,2071.4 L2206.3,2072.4 L2208.7,2073.3 L2211.2,2073.9 L2213.8,2074.0 L2216.4,2073.7 L2218.9,2073.2 L2221.5,2072.7 L2224.1,2072.4 L2226.7,2072.6 L2229.0,2073.6 L2231.0,2075.2 L2232.7,2077.2 L2234.1,2079.4 L2235.4,2081.7 L2236.5,2084.0 L2237.5,2086.4 L2238.4,2088.8 L2239.2,2091.3 L2240.0,2093.8 L2240.8,2096.3 L2241.4,2098.8 L2242.1,2101.3 L2242.6,2103.9 L2243.1,2106.4 L2243.5,2109.0 L2243.9,2111.5 L2244.3,2114.1 L2244.6,2116.7 L2244.9,2119.3 L2245.2,2121.9 L2245.5,2124.4 L2245.9,2127.0 L2246.2,2129.6 L2246.5,2132.2 L2246.8,2134.8 L2247.1,2137.3 L2247.5,2139.9 L2247.8,2142.5 L2248.1,2145.1 L2248.5,2147.7 L2248.8,2150.2 L2249.1,2152.8 L2249.4,2155.4 L2249.8,2158.0 L2250.1,2160.6 L2250.4,2163.1 L2250.7,2165.7 L2251.1,2168.3 L2251.4,2170.9 L2251.7,2173.5 L2252.0,2176.0 L2252.3,2178.6 L2252.6,2181.2 L2253.0,2183.8 L2253.3,2186.4 L2253.6,2188.9 L2253.9,2191.5 L2254.2,2194.1 L2254.5,2196.7 L2254.8,2199.3 L2255.1,2201.9 L2255.4,2204.4 L2255.7,2207.0 L2256.0,2209.6 L2256.3,2212.2 L2256.6,2214.8 L2256.8,2217.4 L2257.1,2219.9 L2257.4,2222.5 L2257.6,2225.1 L2257.9,2227.7 L2258.1,2230.3 L2258.4,2232.9 L2258.6,2235.5 L2258.8,2238.1 L2259.1,2240.6 L2259.3,2243.2 L2259.5,2245.8 L2259.7,2248.4 L2259.8,2251.0 L2260.0,2253.6 L2260.2,2256.2 L2260.4,2258.8 L2260.5,2261.4 L2260.7,2264.0 L2260.9,2266.6 L2261.0,2269.2 L2261.2,2271.8 L2261.3,2274.4 L2261.5,2277.0 L2261.7,2279.6 L2261.7,2280.0" fill="none" stroke="#0a0a0a" stroke-width="4.8" stroke-linejoin="round" stroke-linecap="round"/>
<rect x="184" y="18" width="2128" height="2264" fill="none" stroke="#000" stroke-width="6.8"/>
<line x1="184.0" y1="2282" x2="184.0" y2="2320" stroke="#000" stroke-width="6.5" stroke-linecap="round"/>
<text x="184.0" y="2406" font-family="Liberation Sans, Arial, sans-serif" font-size="76" text-anchor="middle" fill="#111">4000</text>
<line x1="488.2" y1="2282" x2="488.2" y2="2320" stroke="#000" stroke-width="6.5" stroke-linecap="round"/>
<text x="488.2" y="2406" font-family="Liberation Sans, Arial, sans-serif" font-size="76" text-anchor="middle" fill="#111">3500</text>
<line x1="792.4" y1="2282" x2="792.4" y2="2320" stroke="#000" stroke-width="6.5" stroke-linecap="round"/>
<text x="792.4" y="2406" font-family="Liberation Sans, Arial, sans-serif" font-size="76" text-anchor="middle" fill="#111">3000</text>
<line x1="1096.6" y1="2282" x2="1096.6" y2="2320" stroke="#000" stroke-width="6.5" stroke-linecap="round"/>
<text x="1096.6" y="2406" font-family="Liberation Sans, Arial, sans-serif" font-size="76" text-anchor="middle" fill="#111">2500</text>
<line x1="1400.8" y1="2282" x2="1400.8" y2="2320" stroke="#000" stroke-width="6.5" stroke-linecap="round"/>
<text x="1400.8" y="2406" font-family="Liberation Sans, Arial, sans-serif" font-size="76" text-anchor="middle" fill="#111">2000</text>
<line x1="1705.0" y1="2282" x2="1705.0" y2="2320" stroke="#000" stroke-width="6.5" stroke-linecap="round"/>
<text x="1705.0" y="2406" font-family="Liberation Sans, Arial, sans-serif" font-size="76" text-anchor="middle" fill="#111">1500</text>
<line x1="2009.2" y1="2282" x2="2009.2" y2="2320" stroke="#000" stroke-width="6.5" stroke-linecap="round"/>
<text x="2009.2" y="2406" font-family="Liberation Sans, Arial, sans-serif" font-size="76" text-anchor="middle" fill="#111">1000</text>
<line x1="2313.4" y1="2282" x2="2313.4" y2="2320" stroke="#000" stroke-width="6.5" stroke-linecap="round"/>
<text x="2313.4" y="2406" font-family="Liberation Sans, Arial, sans-serif" font-size="76" text-anchor="middle" fill="#111">500</text>
<text x="240" y="288" font-family="Liberation Serif, Times New Roman, serif" font-weight="bold" font-size="68" fill="#000">Nanorods before</text>
<text x="230" y="490" font-family="Liberation Serif, Times New Roman, serif" font-weight="bold" font-size="68" fill="#000">Nanorods after</text>
<text x="227" y="878" font-family="Liberation Serif, Times New Roman, serif" font-weight="bold" font-size="68" fill="#000">Spindles before</text>
<text x="222" y="1055" font-family="Liberation Serif, Times New Roman, serif" font-weight="bold" font-size="68" fill="#000">Spindles after</text>
<text x="226" y="1495.5" font-family="Liberation Serif, Times New Roman, serif" font-weight="bold" font-size="68" fill="#000">Mixed before</text>
<text x="226" y="1715.5" font-family="Liberation Serif, Times New Roman, serif" font-weight="bold" font-size="68" fill="#000">Mixed after</text>
<text x="218" y="1926" font-family="Liberation Serif, Times New Roman, serif" font-weight="bold" font-size="68" fill="#000">Shperes before</text>
<text x="223" y="2155" font-family="Liberation Serif, Times New Roman, serif" font-weight="bold" font-size="68" fill="#000">Shperes after</text>
<text x="843" y="2582" font-family="Liberation Serif, Times New Roman, serif" font-weight="bold" font-size="92.5" fill="#000">Wavenumber (cm<tspan dy="-51">-1</tspan><tspan dy="51">)</tspan></text>
<text transform="translate(88,1610) rotate(-90)" x="0" y="0" font-family="Liberation Serif, Times New Roman, serif" font-weight="bold" font-size="95.5" fill="#000">Transmittance (%)</text>
</svg>
</div></body></html>
